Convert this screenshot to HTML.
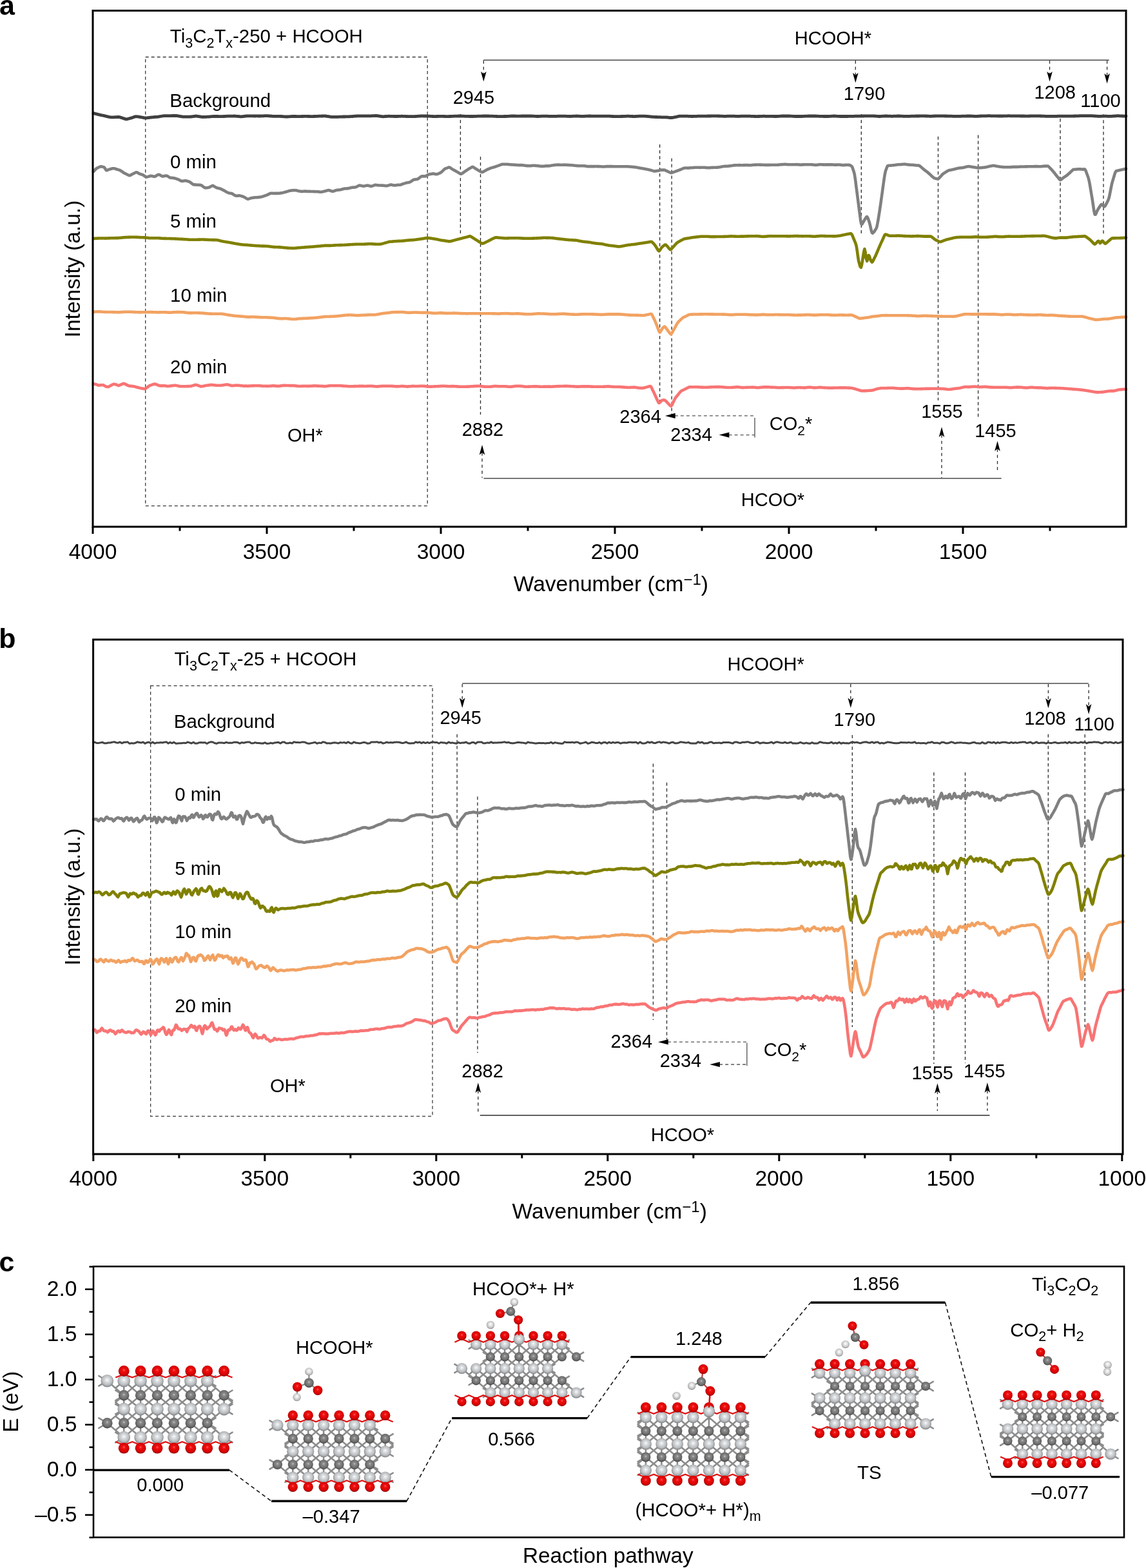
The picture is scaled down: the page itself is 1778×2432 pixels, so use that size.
<!DOCTYPE html>
<html><head><meta charset="utf-8"><title>Figure</title><style>
html,body{margin:0;padding:0;background:#fff;width:1778px;height:2432px;overflow:hidden;}
svg{display:block;}
text{font-family:"Liberation Sans", Arial, Helvetica, sans-serif;fill:#000;}
</style></head><body>
<svg width="1778" height="2432" viewBox="0 0 1778 2432">
<defs>
<radialGradient id="gTi" cx="50%" cy="45%" r="55%" fx="50%" fy="42%"><stop offset="0" stop-color="#ffffff"/><stop offset="0.18" stop-color="#e4e6e8"/><stop offset="0.7" stop-color="#b9bcbf"/><stop offset="1" stop-color="#7e8083"/></radialGradient>
<radialGradient id="gC" cx="50%" cy="45%" r="55%" fx="50%" fy="42%"><stop offset="0" stop-color="#d0d0d0"/><stop offset="0.2" stop-color="#8e8e8e"/><stop offset="0.75" stop-color="#6a6a6a"/><stop offset="1" stop-color="#3e3e3e"/></radialGradient>
<radialGradient id="gO" cx="50%" cy="45%" r="55%" fx="50%" fy="40%"><stop offset="0" stop-color="#ff6060"/><stop offset="0.25" stop-color="#f01010"/><stop offset="0.75" stop-color="#d80000"/><stop offset="1" stop-color="#8c0000"/></radialGradient>
<radialGradient id="gH" cx="50%" cy="45%" r="55%" fx="50%" fy="40%"><stop offset="0" stop-color="#ffffff"/><stop offset="0.35" stop-color="#e6e6e6"/><stop offset="0.8" stop-color="#bdbdbd"/><stop offset="1" stop-color="#7c7c7c"/></radialGradient>
</defs>
<rect x="0" y="0" width="1778" height="2432" fill="#fff"/>
<text x="-1" y="22.7" font-size="43" font-weight="bold">a</text>
<rect x="225.7" y="88.5" width="437.5" height="696.1" fill="none" stroke="#3a3a3a" stroke-width="1.3" stroke-dasharray="5 4"/>
<line x1="714.4" y1="177" x2="714.4" y2="364" stroke="#2a2a2a" stroke-width="1.3" stroke-dasharray="5 4"/>
<line x1="745.5" y1="243" x2="745.5" y2="643" stroke="#2a2a2a" stroke-width="1.3" stroke-dasharray="5 4"/>
<line x1="1023.6" y1="224" x2="1023.6" y2="622" stroke="#2a2a2a" stroke-width="1.3" stroke-dasharray="5 4"/>
<line x1="1042.1" y1="245.6" x2="1042.1" y2="644" stroke="#2a2a2a" stroke-width="1.3" stroke-dasharray="5 4"/>
<line x1="1336.3" y1="177" x2="1336.3" y2="364" stroke="#2a2a2a" stroke-width="1.3" stroke-dasharray="5 4"/>
<line x1="1455.5" y1="211.8" x2="1455.5" y2="621" stroke="#2a2a2a" stroke-width="1.3" stroke-dasharray="5 4"/>
<line x1="1517.6" y1="209.5" x2="1517.6" y2="647.3" stroke="#2a2a2a" stroke-width="1.3" stroke-dasharray="5 4"/>
<line x1="1645" y1="184" x2="1645" y2="364" stroke="#2a2a2a" stroke-width="1.3" stroke-dasharray="5 4"/>
<line x1="1712" y1="177.3" x2="1712" y2="364" stroke="#2a2a2a" stroke-width="1.3" stroke-dasharray="5 4"/>
<line x1="750" y1="93.2" x2="1720.7" y2="93.2" stroke="#4a4a4a" stroke-width="1.6"/>
<line x1="750.3" y1="94" x2="750.3" y2="114.6" stroke="#2a2a2a" stroke-width="1.3" stroke-dasharray="4.8 4.6"/>
<path d="M750.3 126.6 L746 111 L750.3 114.6 L754.6 111 Z" fill="#000"/>
<line x1="1327.3" y1="94" x2="1327.3" y2="116.6" stroke="#2a2a2a" stroke-width="1.3" stroke-dasharray="4.8 4.6"/>
<path d="M1327.3 128.6 L1323 113 L1327.3 116.6 L1331.6 113 Z" fill="#000"/>
<line x1="1628.5" y1="94" x2="1628.5" y2="114.5" stroke="#2a2a2a" stroke-width="1.3" stroke-dasharray="4.8 4.6"/>
<path d="M1628.5 126.5 L1624.2 110.9 L1628.5 114.5 L1632.8 110.9 Z" fill="#000"/>
<line x1="1717.6" y1="94" x2="1717.6" y2="117.5" stroke="#2a2a2a" stroke-width="1.3" stroke-dasharray="4.8 4.6"/>
<path d="M1717.6 129.5 L1713.3 113.9 L1717.6 117.5 L1721.9 113.9 Z" fill="#000"/>
<text x="1232.8" y="68.5" font-size="29">HCOOH*</text>
<text x="702.7" y="161" font-size="29">2945</text>
<text x="1308.8" y="154.6" font-size="29">1790</text>
<text x="1604.4" y="152.8" font-size="29">1208</text>
<text x="1676.3" y="165.9" font-size="29">1100</text>
<line x1="750.5" y1="742" x2="1553.7" y2="742" stroke="#4a4a4a" stroke-width="1.6"/>
<line x1="748" y1="701.9" x2="748" y2="741" stroke="#2a2a2a" stroke-width="1.3" stroke-dasharray="4.8 4.6"/>
<path d="M748 689.9 L743.7 705.5 L748 701.9 L752.3 705.5 Z" fill="#000"/>
<line x1="1461" y1="674.3" x2="1461" y2="741" stroke="#2a2a2a" stroke-width="1.3" stroke-dasharray="4.8 4.6"/>
<path d="M1461 662.3 L1456.7 677.9 L1461 674.3 L1465.3 677.9 Z" fill="#000"/>
<line x1="1547.5" y1="696.1" x2="1547.5" y2="729" stroke="#2a2a2a" stroke-width="1.3" stroke-dasharray="4.8 4.6"/>
<path d="M1547.5 684.1 L1543.2 699.7 L1547.5 696.1 L1551.8 699.7 Z" fill="#000"/>
<text x="716.7" y="675.9" font-size="29">2882</text>
<text x="1429.2" y="648" font-size="29">1555</text>
<text x="1512.2" y="678.4" font-size="29">1455</text>
<text x="1149.8" y="784.8" font-size="29">HCOO*</text>
<text x="446" y="685.4" font-size="29">OH*</text>
<line x1="1046.9" y1="644.9" x2="1171" y2="644.9" stroke="#555" stroke-width="1.3" stroke-dasharray="5 4"/>
<path d="M1031.9 644.9 L1047.7 640.8 L1047.7 649 Z" fill="#000"/>
<line x1="1130.6" y1="674.6" x2="1171" y2="674.6" stroke="#555" stroke-width="1.3" stroke-dasharray="5 4"/>
<path d="M1115.6 674.6 L1131.4 670.5 L1131.4 678.7 Z" fill="#000"/>
<line x1="1171" y1="648" x2="1171" y2="678.4" stroke="#666" stroke-width="1.5"/>
<text x="961.3" y="655.5" font-size="29">2364</text>
<text x="1040.3" y="684.3" font-size="29">2334</text>
<text x="1193.7" y="667" font-size="29"><tspan>CO</tspan><tspan font-size="21" dy="8">2</tspan><tspan dy="-8">*</tspan></text>
<text x="263.8" y="66" font-size="29.4"><tspan>Ti</tspan><tspan font-size="21.5" dy="7.5">3</tspan><tspan dy="-7.5">C</tspan><tspan font-size="21.5" dy="7.5">2</tspan><tspan dy="-7.5">T</tspan><tspan font-size="21.5" dy="7.5">x</tspan><tspan dy="-7.5">-250 + HCOOH</tspan></text>
<text x="263.3" y="166.1" font-size="29.4">Background</text>
<text x="264.1" y="260.5" font-size="29.4">0 min</text>
<text x="264.1" y="353" font-size="29.4">5 min</text>
<text x="264.1" y="467.5" font-size="29.4">10 min</text>
<text x="264.1" y="578.6" font-size="29.4">20 min</text>
<path d="M145 175.6 L146 175.8 L147 176.1 L148 176.4 L149 176.6 L150 176.9 L151 177.1 L152 177.4 L153 177.6 L154 177.9 L155 178.2 L156 178.4 L157 178.6 L158 178.8 L159 179 L160 179.2 L161 179.4 L162 179.6 L163 179.8 L164 180.1 L165 180.3 L166 180.6 L167 180.8 L168 181.1 L169 181.3 L170 181.5 L171 181.7 L172 181.8 L173 181.9 L174 181.9 L175 181.9 L176 181.9 L177 181.8 L178 181.7 L179 181.7 L180 181.6 L181 181.6 L182 181.5 L183 181.5 L184 181.4 L185 181.5 L186 181.8 L187 182.1 L188 182.4 L189 182.7 L190 183.1 L191 183.4 L192 183.7 L193 184.1 L194 184.4 L195 184.7 L196 184.9 L197 184.8 L198 184.5 L199 184.2 L200 184 L201 183.7 L202 183.4 L203 183.2 L204 182.9 L205 182.5 L206 182.2 L207 181.8 L208 181.4 L209 181.1 L210 180.8 L211 180.7 L212 180.8 L213 180.8 L214 180.9 L215 181.1 L216 181.3 L217 181.4 L218 181.6 L219 181.8 L220 182 L221 182.2 L222 182.4 L223 182.6 L224 182.8 L225 182.9 L226 183 L227 183 L228 182.8 L229 182.7 L230 182.6 L231 182.5 L232 182.4 L233 182.2 L234 182.1 L235 182 L236 181.9 L237 181.8 L238 181.7 L239 181.6 L240 181.5 L241 181.4 L242 181.4 L243 181.4 L244 181.4 L245 181.2 L246 181.1 L247 180.9 L248 180.7 L249 180.5 L250 180.3 L251 180.2 L252 180 L253 179.8 L254 179.7 L255 179.6 L256 179.6 L257 179.6 L258 179.6 L259 179.6 L260 179.6 L261 179.6 L262 179.6 L263 179.6 L264 179.6 L265 179.6 L266 179.6 L267 179.5 L268 179.5 L269 179.5 L270 179.5 L271 179.5 L272 179.5 L273 179.5 L274 179.5 L275 179.6 L276 179.8 L277 180 L278 180.1 L279 180.3 L280 180.5 L281 180.6 L282 180.8 L283 181 L284 181.1 L285 181.2 L286 181.2 L287 181.2 L288 181.2 L289 181.2 L290 181.2 L291 181.2 L292 181.2 L293 181.2 L294 181.2 L295 181.1 L296 181 L297 180.9 L298 180.8 L299 180.7 L300 180.6 L301 180.4 L302 180.3 L303 180.1 L304 180 L305 180.1 L306 180.3 L307 180.4 L308 180.6 L309 180.7 L310 180.9 L311 181 L312 181.2 L313 181.3 L314 181.4 L315 181.5 L316 181.4 L317 181.4 L318 181.4 L319 181.3 L320 181.3 L321 181.2 L322 181.2 L323 181.2 L324 181.1 L325 181 L326 180.9 L327 180.8 L328 180.7 L329 180.7 L330 180.6 L331 180.5 L332 180.5 L333 180.5 L334 180.5 L335 180.5 L336 180.5 L337 180.5 L338 180.5 L339 180.6 L340 180.6 L341 180.6 L342 180.6 L343 180.7 L344 180.7 L345 180.6 L346 180.6 L347 180.5 L348 180.5 L349 180.4 L350 180.3 L351 180.3 L352 180.2 L353 180.2 L354 180.1 L355 180.1 L356 180.1 L357 180.1 L358 180.1 L359 180.1 L360 180.1 L361 180.1 L362 180.1 L363 180 L364 180 L365 180.1 L366 180.2 L367 180.3 L368 180.3 L369 180.4 L370 180.5 L371 180.6 L372 180.7 L373 180.8 L374 180.8 L375 180.8 L376 180.7 L377 180.6 L378 180.5 L379 180.4 L380 180.2 L381 180.1 L382 180 L383 179.9 L384 179.8 L385 179.8 L386 179.8 L387 179.9 L388 179.9 L389 179.9 L390 179.9 L391 179.9 L392 179.9 L393 179.9 L394 180 L395 180 L396 180 L397 179.9 L398 179.9 L399 179.9 L400 179.9 L401 180 L402 180 L403 180 L404 180 L405 179.9 L406 179.9 L407 179.8 L408 179.8 L409 179.8 L410 179.7 L411 179.7 L412 179.6 L413 179.6 L414 179.6 L415 179.6 L416 179.7 L417 179.8 L418 179.9 L419 180 L420 180 L421 180.1 L422 180.2 L423 180.3 L424 180.4 L425 180.4 L426 180.4 L427 180.4 L428 180.4 L429 180.3 L430 180.3 L431 180.3 L432 180.3 L433 180.3 L434 180.3 L435 180.4 L436 180.5 L437 180.5 L438 180.6 L439 180.7 L440 180.8 L441 180.9 L442 180.9 L443 181 L444 181.1 L445 181 L446 181 L447 180.9 L448 180.8 L449 180.8 L450 180.7 L451 180.6 L452 180.6 L453 180.5 L454 180.5 L455 180.5 L456 180.5 L457 180.5 L458 180.5 L459 180.5 L460 180.6 L461 180.6 L462 180.6 L463 180.6 L464 180.6 L465 180.6 L466 180.6 L467 180.6 L468 180.5 L469 180.5 L470 180.5 L471 180.4 L472 180.4 L473 180.4 L474 180.4 L475 180.4 L476 180.4 L477 180.4 L478 180.5 L479 180.5 L480 180.5 L481 180.6 L482 180.6 L483 180.6 L484 180.6 L485 180.6 L486 180.6 L487 180.5 L488 180.5 L489 180.4 L490 180.4 L491 180.4 L492 180.3 L493 180.3 L494 180.2 L495 180.2 L496 180.2 L497 180.1 L498 180.1 L499 180 L500 180 L501 180 L502 179.9 L503 179.9 L504 179.9 L505 180 L506 180.1 L507 180.3 L508 180.4 L509 180.6 L510 180.7 L511 180.9 L512 181 L513 181.2 L514 181.3 L515 181.3 L516 181.3 L517 181.3 L518 181.3 L519 181.3 L520 181.3 L521 181.3 L522 181.3 L523 181.3 L524 181.3 L525 181.3 L526 181.2 L527 181.2 L528 181.2 L529 181.1 L530 181.1 L531 181.1 L532 181 L533 181 L534 181 L535 181 L536 180.9 L537 180.9 L538 180.9 L539 180.8 L540 180.8 L541 180.8 L542 180.8 L543 180.7 L544 180.7 L545 180.6 L546 180.6 L547 180.5 L548 180.4 L549 180.3 L550 180.2 L551 180.2 L552 180.1 L553 180 L554 179.9 L555 179.9 L556 179.9 L557 179.9 L558 179.9 L559 179.8 L560 179.8 L561 179.8 L562 179.8 L563 179.8 L564 179.8 L565 179.8 L566 179.8 L567 179.8 L568 179.8 L569 179.8 L570 179.8 L571 179.8 L572 179.9 L573 179.9 L574 179.9 L575 179.8 L576 179.8 L577 179.7 L578 179.7 L579 179.7 L580 179.6 L581 179.6 L582 179.5 L583 179.5 L584 179.5 L585 179.6 L586 179.7 L587 179.9 L588 180 L589 180.1 L590 180.3 L591 180.4 L592 180.6 L593 180.7 L594 180.8 L595 180.8 L596 180.7 L597 180.6 L598 180.5 L599 180.5 L600 180.4 L601 180.3 L602 180.3 L603 180.2 L604 180.2 L605 180.3 L606 180.3 L607 180.3 L608 180.4 L609 180.4 L610 180.4 L611 180.5 L612 180.5 L613 180.5 L614 180.6 L615 180.5 L616 180.5 L617 180.5 L618 180.4 L619 180.4 L620 180.4 L621 180.3 L622 180.3 L623 180.2 L624 180.2 L625 180.3 L626 180.3 L627 180.3 L628 180.4 L629 180.4 L630 180.5 L631 180.5 L632 180.6 L633 180.6 L634 180.7 L635 180.7 L636 180.6 L637 180.6 L638 180.6 L639 180.6 L640 180.6 L641 180.6 L642 180.6 L643 180.6 L644 180.6 L645 180.5 L646 180.4 L647 180.4 L648 180.3 L649 180.2 L650 180.2 L651 180.1 L652 180 L653 180 L654 179.9 L655 179.9 L656 179.9 L657 180 L658 180 L659 180 L660 180 L661 180 L662 180 L663 180.1 L664 180.1 L665 180.1 L666 180.2 L667 180.2 L668 180.3 L669 180.3 L670 180.4 L671 180.5 L672 180.5 L673 180.6 L674 180.6 L675 180.6 L676 180.6 L677 180.5 L678 180.5 L679 180.5 L680 180.4 L681 180.4 L682 180.3 L683 180.3 L684 180.3 L685 180.3 L686 180.4 L687 180.4 L688 180.4 L689 180.5 L690 180.5 L691 180.6 L692 180.6 L693 180.6 L694 180.7 L695 180.6 L696 180.6 L697 180.5 L698 180.5 L699 180.5 L700 180.4 L701 180.4 L702 180.3 L703 180.3 L704 180.2 L705 180.2 L706 180.2 L707 180.1 L708 180.1 L709 180.1 L710 180.1 L711 180 L712 180 L713 180 L714 180 L715 180 L716 180 L717 180.1 L718 180.1 L719 180.2 L720 180.2 L721 180.3 L722 180.3 L723 180.4 L724 180.4 L725 180.4 L726 180.4 L727 180.4 L728 180.5 L729 180.5 L730 180.5 L731 180.5 L732 180.5 L733 180.5 L734 180.5 L735 180.5 L736 180.4 L737 180.4 L738 180.4 L739 180.3 L740 180.3 L741 180.2 L742 180.2 L743 180.2 L744 180.1 L745 180.1 L746 180.1 L747 180.1 L748 180.1 L749 180 L750 180 L751 180 L752 180 L753 180 L754 180 L755 180 L756 180 L757 180 L758 180 L759 180.1 L760 180.1 L761 180.1 L762 180.1 L763 180.1 L764 180.2 L765 180.2 L766 180.3 L767 180.3 L768 180.4 L769 180.4 L770 180.5 L771 180.5 L772 180.6 L773 180.6 L774 180.7 L775 180.7 L776 180.6 L777 180.6 L778 180.6 L779 180.6 L780 180.6 L781 180.6 L782 180.5 L783 180.5 L784 180.5 L785 180.5 L786 180.4 L787 180.4 L788 180.3 L789 180.3 L790 180.2 L791 180.1 L792 180.1 L793 180 L794 180 L795 180 L796 180 L797 180 L798 180 L799 180 L800 180.1 L801 180.1 L802 180.1 L803 180.1 L804 180.1 L805 180.1 L806 180.1 L807 180.1 L808 180.1 L809 180 L810 180 L811 180 L812 180 L813 180 L814 180 L815 180 L816 180 L817 180 L818 180 L819 180 L820 180 L821 180 L822 180 L823 180 L824 180 L825 180 L826 180.1 L827 180.1 L828 180.2 L829 180.2 L830 180.3 L831 180.4 L832 180.4 L833 180.5 L834 180.5 L835 180.5 L836 180.4 L837 180.4 L838 180.3 L839 180.3 L840 180.2 L841 180.2 L842 180.1 L843 180.1 L844 180.1 L845 180.1 L846 180.1 L847 180.1 L848 180.2 L849 180.2 L850 180.2 L851 180.3 L852 180.3 L853 180.3 L854 180.3 L855 180.3 L856 180.3 L857 180.3 L858 180.3 L859 180.3 L860 180.3 L861 180.3 L862 180.3 L863 180.3 L864 180.3 L865 180.2 L866 180.2 L867 180.2 L868 180.2 L869 180.2 L870 180.1 L871 180.1 L872 180.1 L873 180.1 L874 180.1 L875 180.1 L876 180.1 L877 180.2 L878 180.2 L879 180.3 L880 180.3 L881 180.4 L882 180.4 L883 180.4 L884 180.5 L885 180.4 L886 180.4 L887 180.3 L888 180.3 L889 180.2 L890 180.2 L891 180.1 L892 180.1 L893 180.1 L894 180 L895 180 L896 180.1 L897 180.1 L898 180.2 L899 180.2 L900 180.3 L901 180.3 L902 180.3 L903 180.4 L904 180.4 L905 180.4 L906 180.3 L907 180.3 L908 180.2 L909 180.2 L910 180.2 L911 180.1 L912 180.1 L913 180 L914 180 L915 180 L916 180 L917 180.1 L918 180.1 L919 180.1 L920 180.1 L921 180.2 L922 180.2 L923 180.2 L924 180.2 L925 180.2 L926 180.2 L927 180.2 L928 180.2 L929 180.2 L930 180.1 L931 180.1 L932 180.1 L933 180.1 L934 180.1 L935 180.1 L936 180.1 L937 180.1 L938 180.1 L939 180.1 L940 180.1 L941 180.1 L942 180.1 L943 180.1 L944 180.1 L945 180.2 L946 180.2 L947 180.3 L948 180.3 L949 180.4 L950 180.5 L951 180.5 L952 180.6 L953 180.6 L954 180.7 L955 180.7 L956 180.6 L957 180.6 L958 180.6 L959 180.6 L960 180.6 L961 180.6 L962 180.6 L963 180.6 L964 180.5 L965 180.5 L966 180.5 L967 180.4 L968 180.4 L969 180.3 L970 180.3 L971 180.3 L972 180.2 L973 180.2 L974 180.2 L975 180.2 L976 180.2 L977 180.3 L978 180.3 L979 180.4 L980 180.4 L981 180.5 L982 180.5 L983 180.6 L984 180.6 L985 180.6 L986 180.5 L987 180.4 L988 180.4 L989 180.3 L990 180.3 L991 180.2 L992 180.2 L993 180.1 L994 180.1 L995 180.1 L996 180.1 L997 180.1 L998 180.1 L999 180.1 L1000 180.2 L1001 180.2 L1002 180.3 L1003 180.4 L1004 180.4 L1005 180.5 L1006 180.6 L1007 180.7 L1008 180.8 L1009 180.9 L1010 181 L1011 181.1 L1012 181.2 L1013 181.3 L1014 181.3 L1015 181.4 L1016 181.4 L1017 181.5 L1018 181.5 L1019 181.5 L1020 181.6 L1021 181.6 L1022 181.7 L1023 181.7 L1024 181.7 L1025 181.7 L1026 181.8 L1027 181.8 L1028 181.8 L1029 181.8 L1030 181.8 L1031 181.8 L1032 181.8 L1033 181.8 L1034 181.9 L1035 182 L1036 182.1 L1037 182.2 L1038 182.4 L1039 182.5 L1040 182.6 L1041 182.5 L1042 182.5 L1043 182.4 L1044 182.3 L1045 182.1 L1046 181.9 L1047 181.7 L1048 181.5 L1049 181.3 L1050 181.1 L1051 180.8 L1052 180.6 L1053 180.4 L1054 180.2 L1055 180.1 L1056 180.1 L1057 180.1 L1058 180.1 L1059 180.1 L1060 180.1 L1061 180.1 L1062 180.1 L1063 180.1 L1064 180.1 L1065 180.1 L1066 180.2 L1067 180.2 L1068 180.3 L1069 180.3 L1070 180.3 L1071 180.4 L1072 180.4 L1073 180.5 L1074 180.5 L1075 180.5 L1076 180.4 L1077 180.4 L1078 180.4 L1079 180.3 L1080 180.3 L1081 180.3 L1082 180.2 L1083 180.2 L1084 180.2 L1085 180.1 L1086 180.1 L1087 180.1 L1088 180.1 L1089 180.1 L1090 180.1 L1091 180.1 L1092 180.1 L1093 180.1 L1094 180.1 L1095 180.1 L1096 180.1 L1097 180.1 L1098 180 L1099 180 L1100 180 L1101 180 L1102 180 L1103 180 L1104 179.9 L1105 179.9 L1106 179.9 L1107 179.9 L1108 179.9 L1109 179.9 L1110 179.9 L1111 179.9 L1112 179.9 L1113 179.9 L1114 180 L1115 180 L1116 180 L1117 180.1 L1118 180.1 L1119 180.1 L1120 180.2 L1121 180.2 L1122 180.3 L1123 180.3 L1124 180.3 L1125 180.3 L1126 180.3 L1127 180.3 L1128 180.2 L1129 180.2 L1130 180.2 L1131 180.1 L1132 180.1 L1133 180.1 L1134 180.1 L1135 180.1 L1136 180.1 L1137 180.1 L1138 180.2 L1139 180.2 L1140 180.2 L1141 180.3 L1142 180.3 L1143 180.3 L1144 180.3 L1145 180.3 L1146 180.3 L1147 180.3 L1148 180.3 L1149 180.2 L1150 180.2 L1151 180.2 L1152 180.2 L1153 180.2 L1154 180.2 L1155 180.2 L1156 180.2 L1157 180.2 L1158 180.2 L1159 180.2 L1160 180.2 L1161 180.2 L1162 180.2 L1163 180.2 L1164 180.2 L1165 180.3 L1166 180.3 L1167 180.3 L1168 180.4 L1169 180.4 L1170 180.5 L1171 180.5 L1172 180.5 L1173 180.6 L1174 180.6 L1175 180.6 L1176 180.5 L1177 180.5 L1178 180.5 L1179 180.4 L1180 180.4 L1181 180.3 L1182 180.3 L1183 180.3 L1184 180.2 L1185 180.2 L1186 180.2 L1187 180.3 L1188 180.3 L1189 180.3 L1190 180.3 L1191 180.3 L1192 180.3 L1193 180.3 L1194 180.3 L1195 180.3 L1196 180.3 L1197 180.4 L1198 180.4 L1199 180.4 L1200 180.4 L1201 180.5 L1202 180.5 L1203 180.5 L1204 180.5 L1205 180.5 L1206 180.4 L1207 180.4 L1208 180.3 L1209 180.3 L1210 180.2 L1211 180.1 L1212 180.1 L1213 180 L1214 180 L1215 180 L1216 180 L1217 180 L1218 180 L1219 180 L1220 180 L1221 180 L1222 180 L1223 180 L1224 180 L1225 180 L1226 180.1 L1227 180.1 L1228 180.2 L1229 180.2 L1230 180.3 L1231 180.4 L1232 180.4 L1233 180.5 L1234 180.5 L1235 180.5 L1236 180.5 L1237 180.5 L1238 180.5 L1239 180.5 L1240 180.5 L1241 180.5 L1242 180.5 L1243 180.5 L1244 180.5 L1245 180.4 L1246 180.4 L1247 180.3 L1248 180.3 L1249 180.2 L1250 180.2 L1251 180.2 L1252 180.1 L1253 180.1 L1254 180 L1255 180 L1256 180 L1257 180 L1258 180 L1259 180 L1260 180 L1261 180 L1262 180 L1263 180 L1264 180 L1265 180 L1266 180 L1267 180.1 L1268 180.1 L1269 180.2 L1270 180.2 L1271 180.3 L1272 180.3 L1273 180.4 L1274 180.4 L1275 180.4 L1276 180.4 L1277 180.4 L1278 180.5 L1279 180.5 L1280 180.5 L1281 180.5 L1282 180.5 L1283 180.5 L1284 180.5 L1285 180.5 L1286 180.4 L1287 180.4 L1288 180.3 L1289 180.3 L1290 180.2 L1291 180.1 L1292 180.1 L1293 180 L1294 180 L1295 180 L1296 180.1 L1297 180.1 L1298 180.2 L1299 180.3 L1300 180.3 L1301 180.4 L1302 180.4 L1303 180.5 L1304 180.5 L1305 180.5 L1306 180.5 L1307 180.5 L1308 180.5 L1309 180.5 L1310 180.5 L1311 180.5 L1312 180.5 L1313 180.5 L1314 180.5 L1315 180.5 L1316 180.4 L1317 180.4 L1318 180.4 L1319 180.4 L1320 180.4 L1321 180.3 L1322 180.3 L1323 180.3 L1324 180.3 L1325 180.3 L1326 180.2 L1327 180.2 L1328 180.2 L1329 180.2 L1330 180.2 L1331 180.2 L1332 180.1 L1333 180.1 L1334 180.1 L1335 180.1 L1336 180.1 L1337 180 L1338 180 L1339 180 L1340 180 L1341 179.9 L1342 179.9 L1343 179.9 L1344 179.9 L1345 179.9 L1346 179.8 L1347 179.8 L1348 179.8 L1349 179.8 L1350 179.8 L1351 179.8 L1352 179.8 L1353 179.8 L1354 179.8 L1355 179.9 L1356 179.9 L1357 180 L1358 180.1 L1359 180.2 L1360 180.2 L1361 180.3 L1362 180.4 L1363 180.5 L1364 180.5 L1365 180.5 L1366 180.4 L1367 180.4 L1368 180.3 L1369 180.2 L1370 180.2 L1371 180.1 L1372 180.1 L1373 180 L1374 180 L1375 180 L1376 180 L1377 180.1 L1378 180.1 L1379 180.1 L1380 180.2 L1381 180.2 L1382 180.2 L1383 180.3 L1384 180.3 L1385 180.3 L1386 180.2 L1387 180.2 L1388 180.2 L1389 180.1 L1390 180.1 L1391 180.1 L1392 180 L1393 180 L1394 180 L1395 180 L1396 180 L1397 180.1 L1398 180.1 L1399 180.2 L1400 180.2 L1401 180.3 L1402 180.3 L1403 180.4 L1404 180.4 L1405 180.4 L1406 180.4 L1407 180.4 L1408 180.3 L1409 180.3 L1410 180.3 L1411 180.3 L1412 180.3 L1413 180.2 L1414 180.2 L1415 180.2 L1416 180.2 L1417 180.1 L1418 180.1 L1419 180.1 L1420 180.1 L1421 180 L1422 180 L1423 180 L1424 180 L1425 180 L1426 180 L1427 179.9 L1428 179.9 L1429 179.9 L1430 179.9 L1431 179.9 L1432 179.9 L1433 179.9 L1434 179.9 L1435 179.9 L1436 180 L1437 180 L1438 180 L1439 180.1 L1440 180.1 L1441 180.2 L1442 180.2 L1443 180.3 L1444 180.3 L1445 180.3 L1446 180.2 L1447 180.1 L1448 180.1 L1449 180 L1450 180 L1451 179.9 L1452 179.9 L1453 179.8 L1454 179.8 L1455 179.8 L1456 179.8 L1457 179.8 L1458 179.8 L1459 179.8 L1460 179.9 L1461 179.9 L1462 179.9 L1463 179.9 L1464 179.9 L1465 179.9 L1466 180 L1467 180 L1468 180 L1469 180 L1470 180.1 L1471 180.1 L1472 180.1 L1473 180.1 L1474 180.2 L1475 180.2 L1476 180.2 L1477 180.2 L1478 180.3 L1479 180.3 L1480 180.3 L1481 180.3 L1482 180.3 L1483 180.4 L1484 180.4 L1485 180.4 L1486 180.4 L1487 180.3 L1488 180.3 L1489 180.3 L1490 180.3 L1491 180.3 L1492 180.2 L1493 180.2 L1494 180.2 L1495 180.2 L1496 180.1 L1497 180.1 L1498 180.1 L1499 180.1 L1500 180 L1501 180 L1502 180 L1503 180 L1504 179.9 L1505 180 L1506 180 L1507 180.1 L1508 180.1 L1509 180.2 L1510 180.2 L1511 180.3 L1512 180.3 L1513 180.4 L1514 180.4 L1515 180.4 L1516 180.3 L1517 180.3 L1518 180.2 L1519 180.1 L1520 180.1 L1521 180 L1522 180 L1523 179.9 L1524 179.9 L1525 179.8 L1526 179.8 L1527 179.8 L1528 179.8 L1529 179.8 L1530 179.8 L1531 179.8 L1532 179.7 L1533 179.7 L1534 179.7 L1535 179.7 L1536 179.7 L1537 179.8 L1538 179.8 L1539 179.8 L1540 179.8 L1541 179.8 L1542 179.9 L1543 179.9 L1544 179.9 L1545 179.9 L1546 179.9 L1547 179.9 L1548 180 L1549 180 L1550 180 L1551 180 L1552 180 L1553 180 L1554 180 L1555 180 L1556 180 L1557 179.9 L1558 179.9 L1559 179.9 L1560 179.9 L1561 179.8 L1562 179.8 L1563 179.8 L1564 179.7 L1565 179.7 L1566 179.7 L1567 179.8 L1568 179.8 L1569 179.8 L1570 179.8 L1571 179.8 L1572 179.8 L1573 179.8 L1574 179.8 L1575 179.8 L1576 179.8 L1577 179.9 L1578 179.9 L1579 179.9 L1580 179.9 L1581 179.9 L1582 179.9 L1583 180 L1584 180 L1585 180 L1586 180 L1587 180 L1588 180 L1589 180 L1590 180.1 L1591 180.1 L1592 180.1 L1593 180.1 L1594 180.1 L1595 180.1 L1596 180.1 L1597 180 L1598 180 L1599 179.9 L1600 179.9 L1601 179.9 L1602 179.8 L1603 179.8 L1604 179.8 L1605 179.8 L1606 179.8 L1607 179.8 L1608 179.8 L1609 179.9 L1610 179.9 L1611 179.9 L1612 179.9 L1613 179.9 L1614 180 L1615 180 L1616 180 L1617 180.1 L1618 180.1 L1619 180.2 L1620 180.2 L1621 180.2 L1622 180.3 L1623 180.3 L1624 180.4 L1625 180.4 L1626 180.4 L1627 180.4 L1628 180.4 L1629 180.4 L1630 180.4 L1631 180.4 L1632 180.4 L1633 180.4 L1634 180.4 L1635 180.4 L1636 180.4 L1637 180.4 L1638 180.3 L1639 180.3 L1640 180.3 L1641 180.2 L1642 180.2 L1643 180.2 L1644 180.2 L1645 180.2 L1646 180.2 L1647 180.2 L1648 180.2 L1649 180.2 L1650 180.2 L1651 180.2 L1652 180.2 L1653 180.2 L1654 180.2 L1655 180.2 L1656 180.2 L1657 180.2 L1658 180.2 L1659 180.1 L1660 180.1 L1661 180.1 L1662 180.1 L1663 180.1 L1664 180.1 L1665 180.1 L1666 180 L1667 180 L1668 180 L1669 179.9 L1670 179.9 L1671 179.9 L1672 179.8 L1673 179.8 L1674 179.8 L1675 179.7 L1676 179.7 L1677 179.7 L1678 179.7 L1679 179.7 L1680 179.7 L1681 179.7 L1682 179.7 L1683 179.7 L1684 179.7 L1685 179.7 L1686 179.7 L1687 179.6 L1688 179.6 L1689 179.6 L1690 179.6 L1691 179.6 L1692 179.6 L1693 179.6 L1694 179.7 L1695 179.7 L1696 179.8 L1697 179.9 L1698 179.9 L1699 180 L1700 180.1 L1701 180.1 L1702 180.2 L1703 180.3 L1704 180.3 L1705 180.3 L1706 180.3 L1707 180.3 L1708 180.3 L1709 180.3 L1710 180.2 L1711 180.2 L1712 180.2 L1713 180.2 L1714 180.2 L1715 180.2 L1716 180.2 L1717 180.2 L1718 180.3 L1719 180.3 L1720 180.3 L1721 180.3 L1722 180.3 L1723 180.4 L1724 180.4 L1725 180.3 L1726 180.2 L1727 180.2 L1728 180.1 L1729 180 L1730 179.9 L1731 179.8 L1732 179.8 L1733 179.7 L1734 179.7 L1735 179.7 L1736 179.7 L1737 179.8 L1738 179.8 L1739 179.9 L1740 179.9 L1741 180 L1742 180 L1743 180.1 L1744 180.1 L1745 180.1 L1746 180.1 L1747 180.1" fill="none" stroke="#404040" stroke-width="4.8" stroke-linejoin="round" stroke-linecap="round"/>
<path d="M145 266 L146 265 L147 264 L148 262.9 L149 261.9 L150 261.1 L151.1 260.4 L152.2 260 L153.2 259.5 L154.3 259 L155.4 258.5 L156.5 258.2 L157.6 258.3 L158.7 258.6 L159.8 258.9 L160.9 259.2 L162 259.9 L163 261.3 L164 263 L165 264.1 L166 264.2 L167 263.7 L168 263.2 L169 262.9 L170 262.6 L171 262.3 L172 262 L173 261.7 L174 261.4 L175 261.3 L176 261.3 L177 261.2 L178 261.4 L179 261.7 L180 262.2 L181 262.5 L182 262.8 L183 263.1 L184 263.4 L185 263.7 L186 264 L187 264.6 L188 265.2 L189 265.8 L190 266.5 L191 267.3 L192 268 L193 268.6 L194 269 L195 269.5 L196 270 L197 270.5 L198 271 L199 271.5 L200 272 L201 272.2 L202 271.9 L203 271.4 L204 270.9 L205 270.3 L206 269.8 L207 269.3 L208 268.8 L209 268.3 L210 267.8 L211 267.3 L212 267.2 L213 267.6 L214.1 268.2 L215.1 268.9 L216.1 269.4 L217.1 269.8 L218.2 270.1 L219.2 270.4 L220.2 270.8 L221.3 271.1 L222.3 271.6 L223.3 272.3 L224.3 273 L225.4 273.8 L226.4 274.4 L227.4 274.5 L228.4 274.4 L229.5 274.1 L230.5 273.8 L231.5 273.5 L232.5 273.1 L233.5 272.9 L234.6 272.9 L235.6 273.1 L236.6 273.3 L237.6 273.5 L238.6 273.8 L239.7 273.9 L240.7 273.6 L241.7 273.1 L242.7 272.4 L243.7 271.8 L244.8 271.2 L245.8 270.7 L246.8 270.7 L247.8 271.2 L248.8 271.8 L249.8 272.4 L250.9 273 L251.9 273.4 L252.9 273.4 L253.9 273.2 L254.9 273 L255.9 272.7 L257 272.5 L258 272.5 L259 272.8 L260 273.3 L261 273.9 L262 274.5 L263 275.1 L264 275.6 L265 275.8 L266 275.8 L267 275.9 L268 276 L269 276.1 L270 276.2 L271 276.5 L272 276.8 L273 277.1 L274 277.4 L275 277.7 L276 278.1 L277 278.5 L278 279 L279 279.6 L280 280.1 L281 280.6 L282 280.9 L283 280.9 L284 280.8 L285 280.6 L286 280.4 L287 280.3 L288 280.2 L289 280.4 L290 280.7 L291 281 L292 281.3 L293 281.6 L294 282 L295 282.7 L296 283.4 L297 284.1 L298 284.9 L299 285.6 L300 286.2 L301 286.4 L302 286.4 L303 286.5 L304 286.6 L305 286.6 L306 286.7 L307 286.7 L308 286.8 L309 286.9 L310 286.9 L311 287 L312 287.2 L313 287.8 L314 288.5 L315 289.3 L316 290 L317 290.8 L318 291.3 L319 291.5 L320 291.3 L321 291.2 L322 291.1 L323 291 L324 290.8 L325 290.4 L326 289.9 L327 289.3 L328 288.8 L329 288.3 L330 288 L331 288.3 L332 288.9 L333.1 289.5 L334.1 290.1 L335.1 290.7 L336.1 291.2 L337.1 291.5 L338.2 291.7 L339.2 292 L340.2 292.3 L341.2 292.5 L342.3 292.9 L343.3 293.3 L344.3 293.9 L345.3 294.4 L346.3 294.9 L347.4 295.4 L348.4 295.9 L349.4 296.5 L350.4 297.1 L351.4 297.7 L352.5 298.3 L353.5 298.8 L354.5 299.2 L355.5 299.4 L356.6 299.6 L357.6 299.7 L358.6 299.9 L359.6 300.1 L360.6 300.6 L361.7 301.3 L362.7 302 L363.7 302.6 L364.7 303.2 L365.7 303.6 L366.7 303.8 L367.8 303.7 L368.8 303.6 L369.8 303.5 L370.8 303.4 L371.8 303.4 L372.8 303.6 L373.8 303.9 L374.9 304.2 L375.9 304.5 L376.9 304.9 L377.9 305.2 L378.9 305.8 L379.9 306.3 L380.9 306.9 L382 307.6 L383 308.2 L384 308.6 L385 308.7 L386 308.4 L387 308.1 L388 307.7 L389 307.4 L390 307.1 L391 306.9 L392 306.7 L393 306.6 L394 306.5 L395 306.4 L396 306.3 L397 306.2 L398 306.2 L399 306.1 L400 306.1 L401 306 L402 305.9 L403 305.8 L404 305.6 L405 305.4 L406 305.2 L407 304.9 L408 304.6 L409 304.3 L410 303.9 L411 303.6 L412 303.2 L413 302.9 L414 302.5 L415 302 L416 301.6 L417 301.1 L418 300.6 L419 300.1 L420 299.7 L421 299.7 L422 299.7 L423 299.8 L424 299.9 L425 300 L426 300 L427 299.9 L428 299.9 L429 299.9 L430 299.9 L431 299.9 L432 299.9 L433 299.8 L434 299.7 L435 299.5 L436 299.4 L437 299.3 L438 299.1 L439 298.9 L440 298.6 L441 298.3 L442 298 L443 297.8 L444 297.5 L445 297.2 L446 296.9 L447 296.6 L448 296.3 L449 296 L450 295.8 L451 295.6 L452 295.5 L453 295.4 L454 295.3 L455 295.2 L456 295.1 L457 295.1 L458 295.2 L459 295.2 L460 295.3 L461 295.6 L462.1 296 L463.1 296.2 L464.2 296.4 L465.2 296.6 L466.2 296.8 L467.3 296.9 L468.3 297 L469.4 296.9 L470.4 296.8 L471.4 296.7 L472.5 296.6 L473.5 296.6 L474.6 296.6 L475.6 296.8 L476.6 296.9 L477.6 296.9 L478.6 296.9 L479.6 296.9 L480.7 296.9 L481.7 297 L482.7 297 L483.7 297 L484.7 297 L485.7 297 L486.7 297.1 L487.7 297.1 L488.7 297.1 L489.7 297.2 L490.8 297.2 L491.8 297.2 L492.8 297.3 L493.8 297.4 L494.8 297.5 L495.8 297.6 L496.8 297.8 L497.8 297.8 L498.8 297.7 L499.8 297.5 L500.9 297.3 L501.9 297.1 L502.9 296.8 L503.9 296.6 L504.9 296.3 L505.9 296 L506.9 295.7 L507.9 295.4 L508.9 295.1 L509.9 295 L510.9 295.2 L512 295.5 L513 295.9 L514 296.3 L515 296.7 L516 296.8 L517 296.7 L518 296.3 L519 296 L520 295.6 L521 295.3 L522 295 L523 294.8 L524 294.7 L525 294.6 L526 294.5 L527 294.5 L528 294.3 L529 294.1 L530 293.8 L531 293.5 L532 293.2 L533 292.9 L534 292.6 L535 292.5 L536 292.5 L537 292.5 L538 292.4 L539 292.4 L540 292.3 L541 292.1 L542 291.8 L543 291.5 L544 291.3 L545 291 L546 290.8 L547 290.7 L548 290.6 L549 290.6 L550 290.5 L551 290.5 L552 290.3 L553 289.8 L554 289.2 L555 288.7 L556 288.2 L557 287.8 L558 287.6 L559 287.7 L560 287.9 L561 288.1 L562 288.4 L563 288.6 L564 288.7 L565 288.6 L566 288.4 L567 288.1 L568 287.9 L569 287.7 L570 287.6 L571 287.8 L572 288 L573 288.3 L574 288.5 L575 288.8 L576 288.9 L577 288.7 L578 288.3 L579 287.9 L580 287.6 L581 287.2 L582 286.9 L583 286.9 L584 287 L585 287.2 L586 287.3 L587 287.4 L588 287.5 L589 287.5 L590 287.5 L591 287.5 L592 287.6 L593 287.6 L594 287.6 L595 287.7 L596 287.9 L597 288 L598 288.1 L599 288.3 L600 288.3 L601 288.1 L602 287.8 L603 287.4 L604 287.1 L605 286.8 L606 286.6 L607 286.6 L608 286.8 L609 287 L610 287.2 L611 287.4 L612 287.5 L613 287.5 L614 287.3 L615 287.2 L616 287 L617 286.9 L618 286.8 L619 286.7 L620 286.8 L621 286.7 L622 286.4 L623.1 286 L624.1 285.6 L625.1 285.2 L626.2 284.9 L627.2 284.6 L628.2 284.2 L629.3 283.9 L630.3 283.6 L631.4 283.4 L632.4 283.2 L633.4 283.1 L634.5 282.9 L635.5 282.6 L636.5 282.2 L637.6 281.6 L638.6 280.8 L639.6 280.1 L640.7 279.4 L641.7 278.8 L642.7 278.5 L643.8 278.4 L644.8 278.2 L645.8 278.1 L646.8 278 L647.9 277.8 L648.9 277.2 L649.9 276.4 L651 275.6 L652 274.8 L653 274 L654 273.5 L655.1 273.3 L656.1 273.4 L657.1 273.4 L658.2 273.4 L659.2 273.5 L660.2 273.3 L661.2 272.7 L662.3 272 L663.3 271.4 L664.3 271 L665.3 270.6 L666.3 270.3 L667.3 270.1 L668.3 269.9 L669.3 269.7 L670.3 269.6 L671.3 269.4 L672.3 269.4 L673.3 269.5 L674.3 269.7 L675.3 270 L676.3 270.2 L677.3 270.3 L678.3 270.1 L679.3 269.7 L680.3 269.3 L681.4 268.8 L682.4 268.4 L683.4 267.9 L684.4 267.3 L685.4 266.4 L686.4 265.4 L687.5 264.4 L688.5 263.4 L689.5 262.4 L690.5 261.7 L691.5 261.3 L692.5 260.9 L693.5 260.6 L694.6 260.2 L695.6 259.8 L696.6 259.5 L697.6 259.6 L698.6 260.2 L699.7 261 L700.7 261.7 L701.8 262.4 L702.8 263 L703.9 263.6 L704.9 264.1 L706 264.7 L707 265.3 L708.1 265.9 L709.1 266.5 L710.2 267.1 L711.2 267.7 L712.3 268.3 L713.3 269 L714.4 269.6 L715.4 269.8 L716.4 269.4 L717.5 268.7 L718.5 267.9 L719.6 267.2 L720.6 266.4 L721.7 265.7 L722.7 265 L723.8 264.3 L724.8 263.6 L725.9 262.9 L726.9 262.2 L728 261.6 L729 261 L730.1 260.4 L731.1 259.8 L732.2 259.1 L733.2 258.8 L734.3 259.2 L735.3 259.9 L736.4 260.6 L737.4 261.3 L738.5 262 L739.5 262.6 L740.6 263.2 L741.7 263.9 L742.7 264.5 L743.8 265.1 L744.8 265.7 L745.9 266.3 L746.9 266.8 L748 267.1 L749 266.8 L750 266.2 L751 265.7 L752.1 265.1 L753.1 264.5 L754.1 264 L755.1 263.4 L756.1 262.9 L757.1 262.4 L758.2 262 L759.2 261.6 L760.2 261.1 L761.2 260.7 L762.2 260.4 L763.3 260.1 L764.3 259.8 L765.4 259.5 L766.4 259.2 L767.5 258.9 L768.5 258.5 L769.6 258.2 L770.6 257.8 L771.7 257.4 L772.7 257.1 L773.8 256.7 L774.8 256.3 L775.9 255.9 L776.9 255.5 L778 255.1 L779 254.8 L780 254.7 L781 254.7 L782 254.7 L783.1 254.7 L784.1 254.7 L785.1 254.7 L786.1 254.7 L787.1 254.8 L788.1 254.9 L789.2 255 L790.2 255.1 L791.2 255.2 L792.2 255.3 L793.2 255.4 L794.2 255.4 L795.3 255.5 L796.3 255.5 L797.3 255.6 L798.3 255.6 L799.3 255.7 L800.4 255.8 L801.4 255.9 L802.4 256 L803.4 256 L804.4 256.1 L805.4 256.1 L806.5 256.1 L807.5 256.1 L808.5 256.1 L809.5 256.1 L810.5 256.2 L811.5 256.3 L812.5 256.5 L813.6 256.6 L814.6 256.8 L815.6 256.9 L816.6 257 L817.6 257.1 L818.6 257.1 L819.6 257.1 L820.7 257.2 L821.7 257.2 L822.7 257.2 L823.7 257.1 L824.7 257 L825.7 256.9 L826.7 256.8 L827.8 256.8 L828.8 256.8 L829.8 256.9 L830.8 256.9 L831.8 257 L832.8 257.1 L833.8 257.1 L834.9 257.2 L835.9 257.4 L836.9 257.5 L837.9 257.7 L838.9 257.8 L839.9 257.9 L840.9 257.9 L842 257.9 L843 257.8 L844 257.7 L845 257.6 L846 257.5 L847 257.4 L848.1 257.4 L849.1 257.4 L850.1 257.4 L851.1 257.4 L852.1 257.3 L853.2 257.2 L854.2 257 L855.2 256.8 L856.2 256.6 L857.2 256.4 L858.3 256.2 L859.3 256.1 L860.3 256 L861.3 255.9 L862.3 255.8 L863.4 255.7 L864.4 255.6 L865.4 255.5 L866.4 255.6 L867.4 255.6 L868.4 255.7 L869.4 255.7 L870.4 255.7 L871.4 255.7 L872.4 255.7 L873.4 255.7 L874.4 255.6 L875.4 255.6 L876.4 255.6 L877.4 255.7 L878.4 255.7 L879.4 255.8 L880.4 255.9 L881.4 255.9 L882.4 256 L883.4 256 L884.4 256.1 L885.4 256.1 L886.4 256.2 L887.4 256.2 L888.4 256.3 L889.4 256.4 L890.4 256.6 L891.4 256.7 L892.4 256.8 L893.4 256.9 L894.4 257 L895.4 257.1 L896.4 257.1 L897.4 257.2 L898.4 257.3 L899.4 257.3 L900.4 257.3 L901.4 257.3 L902.4 257.3 L903.4 257.2 L904.4 257.2 L905.4 257.2 L906.4 257.2 L907.4 257.4 L908.4 257.5 L909.4 257.7 L910.4 257.9 L911.4 258.1 L912.4 258.1 L913.4 258.1 L914.4 258.1 L915.4 258.1 L916.4 258.1 L917.4 258.1 L918.4 258.1 L919.4 258.1 L920.4 258.1 L921.4 258.1 L922.4 258.1 L923.4 258 L924.4 258 L925.5 258 L926.5 258.1 L927.5 258.1 L928.5 258.1 L929.5 258.1 L930.5 258.2 L931.6 258.2 L932.6 258.3 L933.6 258.4 L934.6 258.5 L935.6 258.5 L936.6 258.5 L937.7 258.5 L938.7 258.4 L939.7 258.3 L940.7 258.2 L941.7 258.1 L942.7 258.1 L943.7 258.1 L944.8 258.1 L945.8 258.1 L946.8 258.1 L947.8 258.1 L948.8 258.1 L949.8 258.1 L950.9 258.2 L951.9 258.2 L952.9 258.3 L953.9 258.3 L954.9 258.3 L955.9 258.3 L957 258.3 L958 258.3 L959 258.3 L960 258.3 L961 258.3 L962 258.3 L963 258.3 L964.1 258.3 L965.1 258.3 L966.1 258.3 L967.1 258.3 L968.1 258.3 L969.1 258.2 L970.2 258.2 L971.2 258.2 L972.2 258.2 L973.2 258.3 L974.2 258.3 L975.2 258.4 L976.3 258.5 L977.3 258.5 L978.3 258.6 L979.3 258.7 L980.3 258.8 L981.3 258.9 L982.4 259 L983.4 259.1 L984.4 259.1 L985.4 259.2 L986.4 259.4 L987.4 259.6 L988.5 259.8 L989.5 260 L990.5 260.2 L991.5 260.4 L992.5 260.5 L993.6 260.7 L994.6 260.9 L995.6 261.1 L996.6 261.3 L997.6 261.5 L998.7 261.6 L999.7 261.8 L1000.7 262 L1001.7 262.2 L1002.7 262.4 L1003.8 262.6 L1004.8 262.8 L1005.8 263.1 L1006.8 263.3 L1007.8 263.5 L1008.9 263.8 L1009.9 264.1 L1010.9 264.3 L1011.9 264.6 L1012.9 264.9 L1014 265.2 L1015 265.4 L1016 265.5 L1017 265.4 L1018 265.3 L1019 265.1 L1020.1 264.9 L1021.1 264.7 L1022.1 264.5 L1023.1 264.2 L1024.1 264 L1025.1 263.8 L1026.1 263.6 L1027.1 263.6 L1028.2 263.6 L1029.2 263.6 L1030.2 263.5 L1031.2 263.7 L1032.2 264.1 L1033.2 264.6 L1034.3 265.1 L1035.3 265.6 L1036.3 266 L1037.3 266.5 L1038.3 267 L1039.4 267.5 L1040.4 267.9 L1041.4 268.1 L1042.4 267.9 L1043.4 267.6 L1044.4 267.2 L1045.5 266.8 L1046.5 266.4 L1047.5 266.1 L1048.5 265.7 L1049.5 265.3 L1050.5 265 L1051.6 264.6 L1052.6 264.2 L1053.6 263.8 L1054.6 263.5 L1055.6 263.1 L1056.6 262.7 L1057.6 262.2 L1058.7 261.8 L1059.7 261.3 L1060.7 260.9 L1061.7 260.6 L1062.7 260.5 L1063.7 260.5 L1064.8 260.5 L1065.8 260.5 L1066.8 260.6 L1067.8 260.6 L1068.8 260.5 L1069.8 260.4 L1070.9 260.3 L1071.9 260.3 L1072.9 260.2 L1073.9 260.1 L1074.9 260 L1076 260 L1077 259.9 L1078 259.8 L1079 259.8 L1080 259.7 L1081 259.7 L1082.1 259.8 L1083.1 259.8 L1084.1 259.8 L1085.1 259.8 L1086.1 259.9 L1087.2 259.8 L1088.2 259.8 L1089.2 259.8 L1090.2 259.8 L1091.2 259.8 L1092.2 259.8 L1093.3 259.8 L1094.3 259.9 L1095.3 260 L1096.3 260.1 L1097.3 260.2 L1098.3 260.2 L1099.4 260.2 L1100.4 260.1 L1101.4 260.1 L1102.4 260 L1103.4 260 L1104.5 259.9 L1105.5 259.9 L1106.5 259.8 L1107.5 259.8 L1108.5 259.7 L1109.5 259.7 L1110.6 259.7 L1111.6 259.7 L1112.6 259.6 L1113.6 259.6 L1114.6 259.5 L1115.6 259.3 L1116.7 259.2 L1117.7 259 L1118.7 258.8 L1119.7 258.5 L1120.7 258.3 L1121.7 258.2 L1122.8 258 L1123.8 258 L1124.8 257.9 L1125.8 257.9 L1126.8 257.8 L1127.8 257.8 L1128.9 257.7 L1129.9 257.6 L1130.9 257.5 L1131.9 257.4 L1132.9 257.3 L1133.9 257.2 L1135 257 L1136 256.8 L1137 256.7 L1138 256.5 L1139 256.4 L1140 256.4 L1141 256.3 L1142 256.3 L1143 256.2 L1144 256.2 L1145 256.2 L1146 256.1 L1147 256.1 L1148 256.1 L1149 256.2 L1150 256.2 L1151 256.2 L1152 256.2 L1153 256.2 L1154 256.1 L1155 256.1 L1156 256.1 L1157 256 L1158 256 L1159 256.1 L1160 256.1 L1161 256.1 L1162 256.2 L1163 256.2 L1164 256.2 L1165 256.2 L1166 256.1 L1167 256 L1168 255.8 L1169 255.7 L1170 255.7 L1171 255.6 L1172 255.6 L1173 255.6 L1174 255.5 L1175 255.5 L1176 255.5 L1177 255.5 L1178 255.5 L1179 255.6 L1180 255.6 L1181 255.6 L1182 255.6 L1183 255.7 L1184 255.7 L1185 255.8 L1186 255.8 L1187 255.9 L1188 255.9 L1189 255.9 L1190 255.9 L1191 255.9 L1192 255.9 L1193 255.9 L1194 255.9 L1195 255.8 L1196 255.8 L1197 255.8 L1198 255.7 L1199 255.7 L1200 255.7 L1201 255.7 L1202 255.7 L1203 255.8 L1204 255.8 L1205 255.8 L1206 255.8 L1207 255.8 L1208 255.6 L1209 255.5 L1210 255.4 L1211 255.3 L1212 255.2 L1213 255.1 L1214 255.1 L1215 255 L1216 255 L1217 254.9 L1218 254.9 L1219 254.9 L1220 255 L1221 255.1 L1222 255.2 L1223 255.3 L1224 255.3 L1225.1 255.3 L1226.1 255.3 L1227.1 255.3 L1228.1 255.3 L1229.1 255.3 L1230.1 255.3 L1231.1 255.3 L1232.1 255.2 L1233.1 255.2 L1234.1 255.2 L1235.1 255.1 L1236.1 255.1 L1237.1 255.2 L1238.1 255.3 L1239.1 255.4 L1240.1 255.4 L1241.1 255.5 L1242.1 255.6 L1243.1 255.5 L1244.1 255.5 L1245.1 255.4 L1246.2 255.4 L1247.2 255.3 L1248.2 255.3 L1249.2 255.3 L1250.2 255.3 L1251.2 255.3 L1252.2 255.3 L1253.2 255.2 L1254.2 255.2 L1255.2 255.3 L1256.2 255.3 L1257.2 255.3 L1258.2 255.3 L1259.2 255.3 L1260.2 255.4 L1261.2 255.5 L1262.2 255.6 L1263.2 255.7 L1264.2 255.8 L1265.2 255.9 L1266.2 255.9 L1267.3 255.8 L1268.3 255.7 L1269.3 255.5 L1270.3 255.3 L1271.3 255.2 L1272.3 255.1 L1273.3 255.2 L1274.3 255.2 L1275.3 255.3 L1276.3 255.4 L1277.3 255.4 L1278.3 255.5 L1279.3 255.5 L1280.3 255.4 L1281.3 255.4 L1282.3 255.4 L1283.3 255.4 L1284.3 255.4 L1285.3 255.4 L1286.3 255.4 L1287.4 255.4 L1288.4 255.4 L1289.4 255.4 L1290.4 255.4 L1291.4 255.4 L1292.4 255.5 L1293.4 255.5 L1294.4 255.6 L1295.4 255.6 L1296.4 255.6 L1297.4 255.6 L1298.4 255.6 L1299.4 255.5 L1300.4 255.5 L1301.4 255.5 L1302.4 255.5 L1303.4 255.6 L1304.4 255.7 L1305.4 255.9 L1306.4 256 L1307.4 256.1 L1308.5 256.1 L1309.5 256.1 L1310.5 256 L1311.5 255.9 L1312.5 255.9 L1313.5 255.8 L1314.5 255.8 L1315.5 255.8 L1316.5 255.9 L1317.5 255.9 L1318.5 256.1 L1319.7 256.7 L1320.8 257.4 L1322 258.7 L1323 261.2 L1324 264.3 L1325.1 267.5 L1326.1 272.3 L1327.3 280.5 L1328.5 290.3 L1329.8 300.1 L1331 309.5 L1332.1 317.9 L1333.1 326 L1334.2 334 L1335.2 342 L1336.3 347.4 L1337.5 347.7 L1338.8 345.4 L1340 343.3 L1341 341.5 L1342.1 339.9 L1343.1 338.3 L1344.2 336.6 L1345.2 336.1 L1346.5 338.2 L1347.7 341.5 L1349 345.5 L1350.3 350.7 L1351.5 356.5 L1352.8 360.8 L1353.9 361.6 L1354.9 360.8 L1356 359.7 L1357.1 358.1 L1358.2 356.3 L1359.4 354.5 L1360.5 351.4 L1361.6 345.9 L1362.8 339 L1363.9 332.2 L1365 325.1 L1366.1 317.6 L1367.2 309.8 L1368.3 302 L1369.4 293.9 L1370.6 285.3 L1371.8 276.6 L1373 269.3 L1374 265 L1375 262.3 L1376 259.6 L1377 257.5 L1378 256.8 L1379 256.8 L1380 256.7 L1381 256.7 L1382 256.6 L1383 256.5 L1384 256.5 L1385 256.4 L1386 256.3 L1387 256.2 L1388 256 L1389 255.9 L1390 255.7 L1391 255.6 L1392 255.4 L1393 255.3 L1394 255.3 L1395 255.2 L1396 255.2 L1397 255.1 L1398 255.1 L1399 255 L1400 254.9 L1401 254.8 L1402 254.7 L1403 254.6 L1404 254.7 L1405 254.8 L1406 255 L1407 255.1 L1408 255.3 L1409 255.4 L1410 255.5 L1411 255.6 L1412 255.6 L1413 255.7 L1414 255.7 L1415 255.7 L1416 255.8 L1417 255.9 L1418 256 L1419 256.1 L1420 256.2 L1421 256.4 L1422 256.5 L1423 256.5 L1424 256.6 L1425 256.6 L1426 256.8 L1427 257.4 L1428 258.2 L1429 259 L1430 259.9 L1431 260.8 L1432 261.6 L1433 262.5 L1434 263.4 L1435 264.1 L1436 264.9 L1437 265.6 L1438 266.3 L1439 267.1 L1440 267.9 L1441 268.8 L1442 269.7 L1443 270.6 L1444 271.6 L1445 272.5 L1446 273.5 L1447 274.4 L1448 275.2 L1449 276 L1450.1 276.4 L1451.2 276.7 L1452.2 277 L1453.3 277.2 L1454.4 277.5 L1455.5 277.5 L1456.6 276.7 L1457.6 275.5 L1458.7 274.4 L1459.8 273.2 L1460.9 272 L1461.9 270.8 L1463 269.8 L1464 269 L1465 268.4 L1466 267.8 L1467 267.1 L1468 266.5 L1469 265.9 L1470 265.3 L1471 264.7 L1472 264.2 L1473 264 L1474 263.8 L1475 263.7 L1476 263.5 L1477 263.3 L1478 263 L1479 262.8 L1480 262.5 L1481.1 262.3 L1482.1 262 L1483.1 261.8 L1484.1 261.5 L1485.1 261.3 L1486.1 261.1 L1487.1 260.8 L1488.1 260.6 L1489.1 260.5 L1490.1 260.5 L1491.1 260.4 L1492.1 260.3 L1493.1 260.2 L1494.1 260.1 L1495.1 259.8 L1496.2 259.5 L1497.2 259.3 L1498.2 259 L1499.2 258.7 L1500.2 258.5 L1501.2 258.3 L1502.2 258.2 L1503.2 258.1 L1504.2 258.1 L1505.2 258.4 L1506.3 258.6 L1507.3 258.8 L1508.3 259 L1509.4 259.1 L1510.4 259.3 L1511.4 259.4 L1512.4 259.6 L1513.5 259.8 L1514.5 260 L1515.5 260.1 L1516.6 260.3 L1517.6 260.4 L1518.6 260.4 L1519.6 260.3 L1520.7 260.3 L1521.7 260.2 L1522.7 260.1 L1523.7 260 L1524.7 259.9 L1525.7 259.8 L1526.8 259.7 L1527.8 259.5 L1528.8 259.4 L1529.8 259.2 L1530.8 259 L1531.8 258.8 L1532.9 258.5 L1533.9 258.3 L1534.9 258 L1535.9 257.8 L1536.9 257.6 L1537.9 257.4 L1539 257.2 L1540 257 L1541 256.9 L1542 257 L1543 257.1 L1544.1 257.3 L1545.1 257.5 L1546.1 257.7 L1547.1 257.9 L1548.2 258.1 L1549.2 258.3 L1550.2 258.4 L1551.2 258.6 L1552.2 258.7 L1553.3 258.8 L1554.3 259 L1555.3 259 L1556.3 259.1 L1557.4 259.2 L1558.4 259.3 L1559.4 259.3 L1560.4 259.3 L1561.4 259.3 L1562.4 259.3 L1563.4 259.3 L1564.5 259.3 L1565.5 259.3 L1566.5 259.3 L1567.5 259.2 L1568.5 259.1 L1569.5 259.1 L1570.5 259 L1571.5 258.9 L1572.5 258.9 L1573.5 258.9 L1574.6 258.9 L1575.6 258.9 L1576.6 258.9 L1577.6 258.9 L1578.6 258.9 L1579.6 258.8 L1580.6 258.7 L1581.6 258.6 L1582.6 258.6 L1583.7 258.5 L1584.7 258.5 L1585.7 258.5 L1586.7 258.5 L1587.7 258.5 L1588.7 258.5 L1589.7 258.5 L1590.7 258.4 L1591.7 258.4 L1592.8 258.4 L1593.8 258.4 L1594.8 258.3 L1595.8 258.3 L1596.8 258.3 L1597.8 258.3 L1598.8 258.3 L1599.8 258.2 L1600.8 258.2 L1601.8 258.2 L1602.9 258.2 L1603.9 258.2 L1604.9 258.1 L1605.9 258.1 L1606.9 258.1 L1607.9 258.1 L1608.9 258.1 L1609.9 258.2 L1610.9 258.2 L1612 258.3 L1613 258.3 L1614 258.3 L1615 258.2 L1616 258.1 L1617 258 L1618 257.9 L1619 257.7 L1620 257.6 L1621 257.6 L1622.1 257.6 L1623.1 257.6 L1624.1 257.5 L1625.1 257.5 L1626.1 257.8 L1627.2 258.6 L1628.3 259.8 L1629.4 260.9 L1630.5 262.1 L1631.6 263.2 L1632.7 264.4 L1633.8 265.7 L1634.9 267 L1636 268.3 L1637 269.7 L1638 271 L1639 272.3 L1640 273.5 L1641 274.7 L1642 276 L1643 277.2 L1644 278.4 L1645 279.1 L1646 278.8 L1647 277.9 L1648 277.1 L1649 276.3 L1650 275.5 L1651 274.8 L1652 274.1 L1653 273.5 L1654 272.8 L1655 272.2 L1656 271.3 L1657.1 270.4 L1658.1 269.5 L1659.1 268.5 L1660.2 267.6 L1661.2 266.6 L1662.2 265.6 L1663.2 264.7 L1664.3 263.7 L1665.3 263 L1666.3 262.7 L1667.3 262.7 L1668.4 262.7 L1669.4 262.6 L1670.4 262.5 L1671.4 262.5 L1672.5 262.4 L1673.5 262.3 L1674.5 262.3 L1675.5 262.4 L1676.5 262.4 L1677.6 262.5 L1678.6 262.5 L1679.6 262.6 L1680.6 262.6 L1681.7 262.5 L1682.7 262.4 L1683.7 263.2 L1684.8 265.5 L1686 268.7 L1687.1 271.8 L1688.3 275 L1689.4 279.1 L1690.6 284.8 L1691.7 291.4 L1692.8 298.1 L1694 305.1 L1695.2 312.5 L1696.3 320.1 L1697.4 327.7 L1698.6 332.8 L1699.7 332.8 L1700.8 330.3 L1701.9 327.8 L1703 325.6 L1704 323.9 L1705 322.4 L1706 320.9 L1707 319.4 L1708 317.8 L1709 317 L1710.2 317.4 L1711.3 318.7 L1712.4 319.9 L1713.6 320.4 L1714.8 319.2 L1715.9 317.2 L1717 315 L1718.2 312.7 L1719.3 310.4 L1720.5 307.2 L1721.6 302.2 L1722.8 296.3 L1723.9 290.5 L1725 285.2 L1726.2 280.9 L1727.3 277.1 L1728.5 273.3 L1729.6 269.4 L1730.8 266.5 L1731.8 265.3 L1732.8 265 L1733.8 264.7 L1734.8 264.5 L1735.8 264.2 L1736.8 264 L1737.8 263.8 L1738.8 263.6 L1739.9 263.4 L1740.9 263.1 L1741.9 262.9 L1742.9 262.6 L1743.9 262.4 L1744.9 262.2 L1745.9 261.9 L1746.9 261.7" fill="none" stroke="#808080" stroke-width="4.6" stroke-linejoin="round" stroke-linecap="round"/>
<path d="M145 370 L146 369.9 L147 369.9 L148 369.8 L149 369.7 L150 369.7 L151 369.6 L152 369.6 L153 369.5 L154 369.5 L155 369.5 L156 369.5 L157 369.5 L158 369.5 L159 369.5 L160 369.5 L161 369.5 L162 369.5 L163 369.6 L164 369.6 L165 369.5 L166 369.5 L167 369.5 L168 369.4 L169 369.4 L170 369.4 L171 369.3 L172 369.3 L173 369.3 L174 369.2 L175 369.2 L176 369.2 L177 369.2 L178 369.2 L179 369.2 L180 369.1 L181 369.1 L182 369.1 L183 369.1 L184 369 L185 369 L186 368.9 L187 368.8 L188 368.7 L189 368.6 L190 368.5 L191 368.4 L192 368.3 L193 368.2 L194 368.1 L195 368.1 L196 368 L197 368 L198 368 L199 367.9 L200 367.9 L201 367.9 L202 367.9 L203 367.8 L204 367.8 L205 367.8 L206 367.7 L207 367.7 L208 367.8 L209 367.8 L210 367.8 L211 367.9 L212 367.9 L213 367.9 L214 368 L215 368 L216 368.1 L217 368.1 L218 368.2 L219 368.2 L220 368.2 L221 368.3 L222 368.3 L223 368.4 L224 368.4 L225 368.5 L226 368.6 L227 368.7 L228 368.8 L229 368.9 L230 369 L231 369.1 L232 369.2 L233 369.2 L234 369.3 L235 369.3 L236 369.3 L237 369.3 L238 369.3 L239 369.2 L240 369.2 L241 369.2 L242 369.2 L243 369.2 L244 369.2 L245 369.2 L246 369.3 L247 369.4 L248 369.4 L249 369.5 L250 369.6 L251 369.7 L252 369.8 L253 369.8 L254 369.9 L255 369.9 L256 369.9 L257 369.9 L258 370 L259 370 L260 370 L261 370 L262 370 L263 370 L264 370 L265 370.1 L266 370.1 L267 370.1 L268 370.2 L269 370.2 L270 370.3 L271 370.3 L272 370.4 L273 370.4 L274 370.5 L275 370.5 L276 370.6 L277 370.6 L278 370.7 L279 370.7 L280 370.8 L281 370.9 L282 370.9 L283 370.9 L284 371 L285 371.1 L286 371.1 L287 371.2 L288 371.3 L289 371.3 L290 371.4 L291 371.5 L292 371.5 L293 371.6 L294 371.7 L295 371.7 L296 371.7 L297 371.7 L298 371.7 L299 371.7 L300 371.7 L301 371.7 L302 371.7 L303 371.7 L304 371.7 L305 371.7 L306 371.7 L307 371.6 L308 371.6 L309 371.6 L310 371.6 L311 371.5 L312 371.5 L313 371.5 L314 371.5 L315 371.5 L316 371.5 L317 371.6 L318 371.6 L319 371.7 L320 371.8 L321 371.8 L322 371.9 L323 371.9 L324 372 L325 372 L326 372 L327 372 L328 372 L329 372.1 L330 372.1 L331 372.1 L332 372.1 L333 372.1 L334 372.2 L335 372.2 L336 372.3 L337 372.4 L338 372.6 L339 372.8 L340 373 L341 373.3 L342 373.5 L343 373.8 L344 374 L345 374.2 L346 374.4 L347 374.6 L348 374.7 L349 374.9 L350 375.1 L351 375.2 L352 375.4 L353 375.6 L354 375.8 L355 375.9 L356 376.1 L357 376.3 L358 376.5 L359 376.6 L360 376.8 L361 377 L362 377.2 L363 377.4 L364 377.5 L365 377.7 L366 377.9 L367 378.1 L368 378.2 L369 378.4 L370 378.6 L371 378.8 L372 379 L373 379.1 L374 379.3 L375 379.4 L376 379.5 L377 379.5 L378 379.6 L379 379.7 L380 379.7 L381 379.8 L382 379.9 L383 379.9 L384 380 L385 380.1 L386 380.2 L387 380.3 L388 380.4 L389 380.5 L390 380.6 L391 380.6 L392 380.7 L393 380.8 L394 380.9 L395 381 L396 381 L397 381.1 L398 381.2 L399 381.2 L400 381.3 L401 381.3 L402 381.4 L403 381.5 L404 381.5 L405 381.5 L406 381.6 L407 381.6 L408 381.6 L409 381.6 L410 381.6 L411 381.7 L412 381.7 L413 381.7 L414 381.7 L415 381.9 L416 382 L417 382.1 L418 382.3 L419 382.4 L420 382.5 L421 382.7 L422 382.8 L423 382.9 L424 383 L425 383.1 L426 383.1 L427 383.2 L428 383.2 L429 383.2 L430 383.3 L431 383.3 L432 383.4 L433 383.4 L434 383.4 L435 383.5 L436 383.6 L437 383.7 L438 383.8 L439 383.9 L440 384 L441 384.1 L442 384.2 L443 384.3 L444 384.4 L445 384.5 L446 384.6 L447 384.6 L448 384.7 L449 384.7 L450 384.8 L451 384.8 L452 384.9 L453 384.9 L454 385 L455 385 L456 385 L457 384.9 L458 384.8 L459 384.7 L460 384.6 L461 384.5 L462 384.4 L463 384.3 L464 384.2 L465 384.2 L466 384.1 L467 384 L468 383.9 L469 383.8 L470 383.8 L471 383.7 L472 383.6 L473 383.5 L474 383.4 L475 383.4 L476 383.3 L477 383.2 L478 383.1 L479 383.1 L480 383 L481 382.9 L482 382.9 L483 382.8 L484 382.7 L485 382.6 L486 382.6 L487 382.5 L488 382.4 L489 382.3 L490 382.2 L491 382.1 L492 382 L493 381.9 L494 381.9 L495 381.8 L496 381.7 L497 381.6 L498 381.5 L499 381.4 L500 381.3 L501 381.2 L502 381.1 L503 381 L504 380.9 L505 380.9 L506 380.9 L507 380.9 L508 380.9 L509 380.9 L510 380.9 L511 380.9 L512 380.9 L513 380.9 L514 380.8 L515 380.8 L516 380.7 L517 380.6 L518 380.5 L519 380.5 L520 380.4 L521 380.3 L522 380.3 L523 380.2 L524 380.2 L525 380.2 L526 380.1 L527 380.1 L528 380.1 L529 380.1 L530 380.1 L531 380 L532 380 L533 380 L534 380 L535 379.9 L536 379.8 L537 379.8 L538 379.7 L539 379.6 L540 379.6 L541 379.5 L542 379.4 L543 379.4 L544 379.3 L545 379.3 L546 379.2 L547 379.1 L548 379.1 L549 379 L550 379 L551 378.9 L552 378.9 L553 378.8 L554 378.8 L555 378.8 L556 378.7 L557 378.7 L558 378.7 L559 378.7 L560 378.7 L561 378.7 L562 378.7 L563 378.7 L564 378.7 L565 378.7 L566 378.6 L567 378.6 L568 378.5 L569 378.5 L570 378.4 L571 378.4 L572 378.3 L573 378.2 L574 378.2 L575 378.2 L576 378.3 L577 378.4 L578 378.4 L579 378.5 L580 378.5 L581 378.6 L582 378.6 L583 378.7 L584 378.7 L585 378.7 L586 378.7 L587 378.7 L588 378.7 L589 378.7 L590 378.6 L591 378.5 L592 378.3 L593.1 378 L594.1 377.7 L595.2 377.4 L596.2 377.1 L597.3 376.8 L598.4 376.5 L599.4 376.2 L600.5 375.9 L601.5 375.6 L602.6 375.3 L603.6 375 L604.6 374.9 L605.6 374.8 L606.6 374.7 L607.6 374.7 L608.6 374.6 L609.6 374.5 L610.6 374.4 L611.6 374.3 L612.6 374.3 L613.6 374.2 L614.6 374.1 L615.6 374.1 L616.6 374 L617.6 374 L618.6 373.9 L619.6 373.9 L620.6 373.8 L621.6 373.8 L622.7 373.7 L623.7 373.7 L624.7 373.6 L625.7 373.5 L626.7 373.4 L627.7 373.3 L628.7 373.2 L629.7 373 L630.7 372.9 L631.7 372.8 L632.7 372.7 L633.7 372.6 L634.7 372.5 L635.7 372.5 L636.7 372.4 L637.7 372.4 L638.7 372.3 L639.7 372.2 L640.7 372.2 L641.7 372.1 L642.7 372 L643.8 371.8 L644.8 371.7 L645.8 371.6 L646.8 371.4 L647.9 371.3 L648.9 371.2 L649.9 371 L651 370.9 L652 370.8 L653 370.6 L654 370.5 L655.1 370.3 L656.1 370.1 L657.1 370 L658.2 369.8 L659.2 369.6 L660.2 369.4 L661.2 369.3 L662.3 369.1 L663.3 369 L664.3 369.1 L665.3 369.2 L666.3 369.3 L667.3 369.5 L668.3 369.6 L669.4 369.8 L670.4 369.9 L671.4 370.1 L672.4 370.2 L673.4 370.4 L674.4 370.5 L675.4 370.7 L676.4 370.9 L677.4 371.1 L678.4 371.3 L679.4 371.6 L680.5 371.8 L681.5 372 L682.5 372.2 L683.5 372.4 L684.5 372.6 L685.5 372.7 L686.5 372.9 L687.5 373 L688.5 373.1 L689.5 373.3 L690.5 373.4 L691.5 373.6 L692.6 373.7 L693.6 373.9 L694.6 374 L695.6 374.2 L696.6 374.4 L697.6 374.4 L698.6 374.3 L699.7 374 L700.7 373.7 L701.7 373.5 L702.7 373.2 L703.8 372.9 L704.8 372.6 L705.8 372.4 L706.8 372.1 L707.9 371.8 L708.9 371.5 L709.9 371.3 L710.9 371 L712 370.7 L713 370.4 L714 370.2 L715 369.9 L716.1 369.7 L717.1 369.4 L718.1 369.1 L719.1 368.9 L720.2 368.6 L721.2 368.4 L722.2 368.1 L723.2 367.9 L724.3 367.6 L725.3 367.3 L726.3 367 L727.3 366.7 L728.4 366.4 L729.4 366.4 L730.7 366.9 L731.9 367.8 L733.2 368.5 L734.2 369.2 L735.2 369.8 L736.3 370.5 L737.3 371.1 L738.3 371.8 L739.3 372.4 L740.3 373 L741.4 373.7 L742.4 374.3 L743.4 375 L744.4 375.6 L745.4 376.2 L746.5 376.9 L747.5 377.5 L748.5 377.8 L749.5 377.6 L750.5 377.2 L751.5 376.7 L752.6 376.3 L753.6 375.8 L754.6 375.3 L755.6 374.8 L756.6 374.3 L757.6 373.7 L758.6 373.2 L759.7 372.7 L760.7 372.1 L761.7 371.6 L762.7 371 L763.7 370.5 L764.7 370 L765.8 369.6 L766.8 369.1 L767.8 368.7 L768.8 368.4 L769.8 368.3 L770.8 368.4 L771.9 368.5 L772.9 368.6 L773.9 368.7 L774.9 368.8 L775.9 368.9 L777 369 L778 369 L779 369.1 L780 369.2 L781 369.3 L782.1 369.4 L783.1 369.5 L784.1 369.5 L785.1 369.5 L786.1 369.5 L787.2 369.4 L788.2 369.4 L789.2 369.4 L790.2 369.3 L791.2 369.3 L792.3 369.3 L793.3 369.3 L794.3 369.2 L795.3 369.2 L796.3 369.2 L797.3 369.2 L798.3 369.2 L799.3 369.2 L800.3 369.2 L801.4 369.2 L802.4 369.2 L803.4 369.2 L804.4 369.3 L805.4 369.3 L806.4 369.4 L807.4 369.4 L808.4 369.5 L809.4 369.5 L810.4 369.6 L811.4 369.6 L812.4 369.7 L813.5 369.8 L814.5 369.8 L815.5 369.8 L816.5 369.8 L817.5 369.8 L818.5 369.8 L819.5 369.7 L820.5 369.7 L821.5 369.7 L822.5 369.7 L823.5 369.7 L824.5 369.7 L825.5 369.7 L826.6 369.6 L827.6 369.6 L828.6 369.6 L829.6 369.5 L830.6 369.5 L831.6 369.5 L832.6 369.4 L833.6 369.4 L834.6 369.4 L835.6 369.3 L836.6 369.2 L837.6 369.2 L838.6 369.1 L839.7 369.1 L840.7 369 L841.7 368.9 L842.7 368.9 L843.7 368.8 L844.7 368.8 L845.7 368.8 L846.7 368.9 L847.7 368.9 L848.7 368.9 L849.7 368.9 L850.7 368.9 L851.8 368.9 L852.8 368.9 L853.8 369 L854.8 369 L855.8 369 L856.8 369.1 L857.8 369.1 L858.8 369.2 L859.8 369.4 L860.8 369.6 L861.8 369.7 L862.8 369.9 L863.8 370 L864.8 370.1 L865.8 370.3 L866.8 370.4 L867.9 370.5 L868.9 370.6 L869.9 370.7 L870.9 370.8 L871.9 370.9 L872.9 371 L873.9 371.2 L874.9 371.3 L875.9 371.4 L876.9 371.5 L877.9 371.6 L878.9 371.7 L879.9 371.8 L880.9 371.9 L881.9 372 L882.9 372.1 L883.9 372.2 L884.9 372.2 L885.9 372.3 L887 372.3 L888 372.4 L889 372.4 L890 372.5 L891 372.5 L892 372.6 L893 372.6 L894 372.7 L895 372.9 L896 373 L897 373.2 L898 373.5 L899 373.7 L900 373.9 L901 374.1 L902 374.3 L903 374.5 L904 374.7 L905 374.8 L906 374.9 L907 375 L908 375.1 L909 375.2 L910 375.3 L911 375.4 L912 375.5 L913 375.6 L914 375.7 L915 375.8 L916 376 L917 376.2 L918 376.4 L919 376.6 L920 376.7 L921 376.9 L922 377.1 L923 377.3 L924 377.4 L925 377.5 L926 377.6 L927 377.7 L928 377.8 L929 377.9 L930 378 L931 378 L932 378.1 L933 378.2 L934 378.3 L935 378.5 L936 378.8 L937 379 L938 379.2 L939 379.4 L940 379.7 L941 379.9 L942 380.1 L943 380.3 L944 380.5 L945 380.7 L946 380.8 L947 380.9 L948 381 L949 381.1 L950 381.2 L951 381.3 L952 381.4 L953 381.5 L954 381.7 L955 381.8 L956 382 L957 382.1 L958 382.3 L959 382.4 L960 382.5 L961 382.4 L962 382.3 L963.1 382.2 L964.1 382 L965.1 381.8 L966.1 381.6 L967.1 381.4 L968.1 381.2 L969.2 381 L970.2 380.8 L971.2 380.6 L972.2 380.4 L973.2 380.2 L974.3 380 L975.3 379.9 L976.3 379.8 L977.3 379.7 L978.3 379.6 L979.3 379.4 L980.4 379.3 L981.4 379.2 L982.4 379.1 L983.4 379 L984.4 378.9 L985.5 378.7 L986.5 378.6 L987.5 378.4 L988.5 378.2 L989.5 378.1 L990.5 377.9 L991.6 377.8 L992.6 377.6 L993.6 377.5 L994.6 377.3 L995.6 377.2 L996.6 377 L997.7 376.9 L998.7 376.7 L999.7 376.6 L1000.7 376.4 L1001.7 376.3 L1002.8 376.1 L1003.8 376 L1004.8 375.8 L1005.8 375.6 L1006.8 375.4 L1007.8 375.3 L1008.9 375.1 L1009.9 374.9 L1010.9 375 L1011.9 375.7 L1012.9 376.8 L1014 377.8 L1015 378.9 L1016 380.1 L1017 381.6 L1018.1 383.3 L1019.1 385 L1020.2 386.8 L1021.2 388.5 L1022.3 389.3 L1023.5 388.4 L1024.7 386.7 L1025.8 384.9 L1027 383.4 L1028.1 382.3 L1029.2 381.5 L1030.3 380.6 L1031.4 379.8 L1032.5 379.5 L1033.7 380.3 L1034.8 381.5 L1036 382.8 L1037 384.1 L1038 385.3 L1039.1 386.6 L1040.1 387.2 L1041.2 386.6 L1042.3 385.4 L1043.4 384.1 L1044.5 382.9 L1045.6 381.7 L1046.7 380.4 L1047.8 379.2 L1048.9 378 L1050 376.9 L1051.1 376.1 L1052.1 375.5 L1053.2 374.8 L1054.3 374.2 L1055.3 373.6 L1056.4 373.1 L1057.4 372.5 L1058.5 372 L1059.6 371.4 L1060.6 370.8 L1061.7 370.4 L1062.7 370.2 L1063.7 370.1 L1064.7 370 L1065.8 369.8 L1066.8 369.6 L1067.8 369.4 L1068.8 369.2 L1069.8 369.1 L1070.8 368.9 L1071.9 368.7 L1072.9 368.5 L1073.9 368.3 L1074.9 368.2 L1075.9 368.1 L1076.9 368 L1078 367.9 L1079 367.8 L1080 367.6 L1081 367.5 L1082 367.4 L1083 367.3 L1084.1 367.2 L1085.1 367.1 L1086.1 366.9 L1087.1 366.8 L1088.1 366.8 L1089.1 366.7 L1090.1 366.7 L1091.1 366.7 L1092.1 366.7 L1093.1 366.7 L1094.1 366.7 L1095.1 366.7 L1096.1 366.7 L1097.1 366.8 L1098.1 366.8 L1099.1 366.9 L1100.1 366.9 L1101.1 367 L1102.1 367.1 L1103.1 367.1 L1104.1 367.1 L1105.1 367.1 L1106.1 367.1 L1107.1 367.1 L1108.1 367.1 L1109.1 367.1 L1110.1 367.1 L1111.1 367 L1112.1 367 L1113.1 367 L1114.1 367 L1115.1 367 L1116.1 367 L1117.1 367 L1118.1 367 L1119.2 367 L1120.2 367 L1121.2 367 L1122.2 367 L1123.2 366.9 L1124.2 366.9 L1125.2 366.9 L1126.2 366.8 L1127.2 366.8 L1128.2 366.7 L1129.2 366.7 L1130.2 366.6 L1131.2 366.5 L1132.2 366.5 L1133.2 366.4 L1134.2 366.4 L1135.2 366.4 L1136.2 366.5 L1137.2 366.5 L1138.2 366.5 L1139.2 366.6 L1140.2 366.6 L1141.2 366.6 L1142.2 366.7 L1143.2 366.7 L1144.2 366.7 L1145.2 366.7 L1146.2 366.7 L1147.2 366.7 L1148.2 366.7 L1149.2 366.6 L1150.2 366.6 L1151.2 366.6 L1152.2 366.6 L1153.2 366.6 L1154.2 366.6 L1155.2 366.5 L1156.2 366.5 L1157.2 366.5 L1158.2 366.4 L1159.2 366.4 L1160.2 366.4 L1161.2 366.4 L1162.2 366.3 L1163.2 366.3 L1164.2 366.3 L1165.2 366.3 L1166.2 366.2 L1167.2 366.2 L1168.2 366.2 L1169.2 366.2 L1170.2 366.2 L1171.2 366.2 L1172.2 366.2 L1173.2 366.1 L1174.2 366.2 L1175.2 366.2 L1176.2 366.3 L1177.2 366.4 L1178.2 366.5 L1179.2 366.6 L1180.2 366.7 L1181.2 366.8 L1182.2 366.9 L1183.3 367 L1184.3 367 L1185.3 366.9 L1186.3 366.9 L1187.3 366.8 L1188.3 366.7 L1189.3 366.6 L1190.3 366.5 L1191.3 366.4 L1192.3 366.3 L1193.3 366.2 L1194.3 366.2 L1195.3 366.1 L1196.3 366.2 L1197.3 366.2 L1198.3 366.2 L1199.3 366.2 L1200.3 366.2 L1201.3 366.2 L1202.3 366.2 L1203.3 366.2 L1204.3 366.3 L1205.3 366.2 L1206.3 366.2 L1207.3 366.2 L1208.3 366.2 L1209.3 366.2 L1210.3 366.2 L1211.3 366.2 L1212.3 366.2 L1213.3 366.2 L1214.3 366.2 L1215.3 366.2 L1216.3 366.2 L1217.3 366.3 L1218.3 366.3 L1219.3 366.3 L1220.3 366.4 L1221.3 366.4 L1222.3 366.4 L1223.3 366.5 L1224.3 366.5 L1225.3 366.4 L1226.3 366.4 L1227.3 366.3 L1228.4 366.3 L1229.4 366.2 L1230.4 366.2 L1231.4 366.1 L1232.4 366.1 L1233.4 366 L1234.4 366 L1235.4 366 L1236.4 366.1 L1237.4 366.1 L1238.4 366.1 L1239.4 366.2 L1240.4 366.2 L1241.4 366.3 L1242.4 366.3 L1243.4 366.3 L1244.4 366.4 L1245.4 366.4 L1246.4 366.3 L1247.4 366.3 L1248.4 366.3 L1249.4 366.3 L1250.4 366.3 L1251.4 366.3 L1252.4 366.3 L1253.4 366.3 L1254.4 366.3 L1255.5 366.3 L1256.5 366.4 L1257.5 366.4 L1258.5 366.5 L1259.5 366.5 L1260.5 366.6 L1261.5 366.6 L1262.5 366.7 L1263.5 366.7 L1264.5 366.7 L1265.5 366.6 L1266.5 366.5 L1267.5 366.4 L1268.5 366.4 L1269.5 366.3 L1270.5 366.2 L1271.5 366.1 L1272.5 366 L1273.5 366 L1274.5 365.9 L1275.5 366 L1276.5 366 L1277.5 366 L1278.5 366.1 L1279.5 366.1 L1280.5 366.1 L1281.5 366.2 L1282.6 366.2 L1283.6 366.2 L1284.6 366.2 L1285.6 366.3 L1286.6 366.3 L1287.6 366.3 L1288.6 366.3 L1289.6 366.3 L1290.6 366.3 L1291.6 366.4 L1292.6 366.4 L1293.6 366.4 L1294.6 366.4 L1295.6 366.4 L1296.6 366.3 L1297.6 366.2 L1298.6 366.1 L1299.7 366 L1300.7 365.8 L1301.7 365.7 L1302.7 365.6 L1303.7 365.4 L1304.7 365.2 L1305.8 365 L1306.8 364.8 L1307.8 364.6 L1308.8 364.4 L1309.8 364.1 L1310.8 363.9 L1311.9 363.7 L1312.9 363.5 L1313.9 363.3 L1314.9 363.1 L1315.9 362.9 L1316.9 362.7 L1318 362.5 L1319 362.3 L1320 362.2 L1321 362.7 L1322.1 364.6 L1323.2 367.2 L1324.3 369.9 L1325.4 372.5 L1326.5 375.2 L1327.6 377.8 L1328.7 381.9 L1329.8 388.7 L1330.9 396.9 L1332 404.1 L1333.3 409.2 L1334.5 413.3 L1335.8 414.9 L1336.8 411.8 L1337.8 406.2 L1338.8 399.7 L1340.1 391.1 L1341.4 386.2 L1342.5 390.7 L1343.5 399.9 L1345.2 404.9 L1346.5 401 L1347.7 395.9 L1348.8 397.2 L1350 401.3 L1351.4 404.8 L1352.8 406.6 L1353.8 405.8 L1354.9 403.8 L1355.9 401.7 L1357 399.7 L1358 397.6 L1359 395.3 L1360.1 392.8 L1361.2 390.3 L1362.2 387.9 L1363.2 385.4 L1364.3 382.9 L1365.4 380.4 L1366.5 377.9 L1367.6 375.4 L1368.8 372.9 L1369.9 370.5 L1371 368 L1372.1 365.5 L1373.2 363.7 L1374.3 363.5 L1375.5 364 L1376.6 364.4 L1377.7 364.9 L1378.9 365.3 L1380 365.7 L1381 365.8 L1382 365.8 L1383 365.8 L1384 365.8 L1385 365.8 L1386 365.8 L1387 365.7 L1388 365.7 L1389.1 365.7 L1390.1 365.6 L1391.1 365.6 L1392.1 365.6 L1393.1 365.5 L1394.1 365.5 L1395.1 365.6 L1396.1 365.6 L1397.1 365.7 L1398.1 365.8 L1399.1 365.8 L1400.1 365.9 L1401.1 366 L1402.1 366 L1403.1 366.1 L1404.2 366.1 L1405.2 366.2 L1406.2 366.2 L1407.2 366.2 L1408.2 366.3 L1409.2 366.3 L1410.2 366.3 L1411.2 366.4 L1412.2 366.4 L1413.2 366.5 L1414.2 366.5 L1415.2 366.4 L1416.2 366.4 L1417.2 366.4 L1418.2 366.3 L1419.2 366.3 L1420.2 366.2 L1421.3 366.2 L1422.3 366.1 L1423.3 366.1 L1424.3 366.1 L1425.3 366.1 L1426.3 366.2 L1427.3 366.2 L1428.3 366.3 L1429.3 366.4 L1430.3 366.4 L1431.3 366.5 L1432.3 366.5 L1433.3 366.6 L1434.3 366.6 L1435.3 366.6 L1436.4 366.6 L1437.4 366.6 L1438.4 366.6 L1439.4 366.6 L1440.4 366.6 L1441.4 366.6 L1442.4 366.6 L1443.4 366.6 L1444.4 366.8 L1445.5 367.4 L1446.6 368.3 L1447.7 369.2 L1448.8 370 L1449.9 370.9 L1451 371.7 L1452 372.3 L1453.1 372.8 L1454.1 373.3 L1455.1 373.8 L1456.1 374.3 L1457.2 374.8 L1458.2 375.1 L1459.3 375 L1460.4 374.6 L1461.5 374.2 L1462.6 373.8 L1463.6 373.4 L1464.7 373 L1465.8 372.6 L1466.9 372.2 L1468 371.8 L1469 371.5 L1470.1 371.2 L1471.1 371 L1472.1 370.7 L1473.2 370.5 L1474.2 370.2 L1475.2 370 L1476.3 369.8 L1477.3 369.5 L1478.3 369.3 L1479.4 369.1 L1480.4 368.8 L1481.4 368.6 L1482.5 368.4 L1483.5 368.2 L1484.5 368.1 L1485.5 368.1 L1486.5 368 L1487.5 368 L1488.5 367.9 L1489.5 367.9 L1490.5 367.8 L1491.5 367.8 L1492.5 367.7 L1493.6 367.7 L1494.6 367.7 L1495.6 367.7 L1496.6 367.7 L1497.6 367.7 L1498.6 367.7 L1499.6 367.8 L1500.6 367.8 L1501.6 367.8 L1502.6 367.8 L1503.6 367.8 L1504.6 367.8 L1505.6 367.8 L1506.6 367.7 L1507.6 367.7 L1508.6 367.6 L1509.6 367.6 L1510.6 367.5 L1511.6 367.5 L1512.7 367.4 L1513.7 367.4 L1514.7 367.4 L1515.7 367.5 L1516.7 367.5 L1517.7 367.6 L1518.7 367.6 L1519.7 367.7 L1520.7 367.7 L1521.7 367.8 L1522.7 367.8 L1523.7 367.8 L1524.7 367.8 L1525.7 367.8 L1526.7 367.8 L1527.7 367.7 L1528.7 367.7 L1529.7 367.7 L1530.7 367.7 L1531.7 367.6 L1532.8 367.6 L1533.8 367.5 L1534.8 367.5 L1535.8 367.4 L1536.8 367.3 L1537.8 367.3 L1538.8 367.2 L1539.8 367.1 L1540.8 367 L1541.8 366.9 L1542.8 366.9 L1543.8 366.8 L1544.8 366.8 L1545.8 366.9 L1546.8 366.9 L1547.8 367 L1548.8 367.1 L1549.8 367.1 L1550.8 367.2 L1551.9 367.3 L1552.9 367.3 L1553.9 367.3 L1554.9 367.3 L1555.9 367.2 L1556.9 367.2 L1557.9 367.1 L1558.9 367 L1559.9 366.9 L1560.9 366.9 L1561.9 366.8 L1562.9 366.7 L1563.9 366.7 L1564.9 366.6 L1565.9 366.6 L1566.9 366.7 L1567.9 366.7 L1568.9 366.7 L1569.9 366.7 L1571 366.7 L1572 366.7 L1573 366.7 L1574 366.7 L1575 366.7 L1576 366.7 L1577 366.7 L1578 366.7 L1579 366.7 L1580 366.7 L1581 366.7 L1582 366.7 L1583 366.7 L1584 366.6 L1585 366.6 L1586 366.6 L1587 366.5 L1588 366.5 L1589 366.5 L1590 366.4 L1591.1 366.4 L1592.1 366.3 L1593.1 366.3 L1594.1 366.3 L1595.1 366.2 L1596.1 366.2 L1597.1 366.2 L1598.1 366.2 L1599.1 366.2 L1600.1 366.1 L1601.1 366.1 L1602.1 366.1 L1603.1 366.1 L1604.1 366.1 L1605.1 366 L1606.1 366 L1607.1 366 L1608.1 366 L1609.1 366 L1610.2 366 L1611.2 366 L1612.2 366 L1613.2 366 L1614.2 366 L1615.2 366 L1616.2 365.9 L1617.2 365.9 L1618.2 365.8 L1619.2 365.8 L1620.2 365.9 L1621.2 366.1 L1622.3 366.3 L1623.3 366.4 L1624.3 366.6 L1625.3 366.9 L1626.4 367.1 L1627.4 367.4 L1628.4 367.7 L1629.4 367.9 L1630.4 368.2 L1631.5 368.4 L1632.5 368.7 L1633.5 369 L1634.5 369.1 L1635.6 369.3 L1636.6 369.4 L1637.6 369.4 L1638.6 369.4 L1639.6 369.2 L1640.6 369.1 L1641.6 368.9 L1642.6 368.8 L1643.6 368.7 L1644.6 368.6 L1645.6 368.6 L1646.6 368.6 L1647.6 368.6 L1648.6 368.6 L1649.6 368.6 L1650.6 368.6 L1651.6 368.6 L1652.6 368.6 L1653.6 368.6 L1654.6 368.6 L1655.6 368.5 L1656.6 368.3 L1657.6 368.2 L1658.6 368.1 L1659.6 367.9 L1660.7 367.8 L1661.7 367.7 L1662.7 367.6 L1663.7 367.5 L1664.7 367.4 L1665.7 367.3 L1666.7 367.2 L1667.7 367.2 L1668.7 367.1 L1669.7 367.1 L1670.7 367 L1671.7 367 L1672.7 366.9 L1673.7 366.9 L1674.7 366.8 L1675.7 366.7 L1676.7 366.7 L1677.7 366.6 L1678.7 366.6 L1679.7 366.5 L1680.7 366.5 L1681.7 366.4 L1682.7 366.3 L1683.7 366.5 L1684.7 367.1 L1685.8 367.8 L1686.8 368.6 L1687.9 369.4 L1688.9 370.1 L1690 370.9 L1691 371.7 L1692.1 372.7 L1693.2 373.8 L1694.3 374.9 L1695.3 376 L1696.4 377.1 L1697.5 378.3 L1698.6 378.8 L1699.8 378.1 L1700.9 376.8 L1702.1 375.5 L1703.2 374.2 L1704.4 373.9 L1705.6 375.6 L1706.7 377.2 L1707.8 376.4 L1709 374.5 L1710.1 373.5 L1711.2 374.1 L1712.4 375.6 L1713.5 377 L1714.7 377.9 L1715.7 377.6 L1716.8 376.6 L1717.8 375.7 L1718.9 374.8 L1719.9 373.9 L1720.9 373 L1722 372.1 L1723 371.2 L1724.1 370.3 L1725.1 369.6 L1726.1 369.4 L1727.2 369.4 L1728.2 369.4 L1729.3 369.4 L1730.3 369.4 L1731.3 369.3 L1732.4 369.3 L1733.4 369.3 L1734.4 369.3 L1735.5 369.3 L1736.5 369.2 L1737.6 369.2 L1738.6 369.1 L1739.6 369.1 L1740.7 369.1 L1741.7 369 L1742.7 369 L1743.8 368.9 L1744.8 368.8 L1745.9 368.7 L1746.9 368.5" fill="none" stroke="#808000" stroke-width="4.6" stroke-linejoin="round" stroke-linecap="round"/>
<path d="M145 483.7 L146 483.6 L147 483.6 L148 483.5 L149 483.5 L150 483.5 L151 483.4 L152 483.4 L153 483.4 L154 483.3 L155 483.4 L156 483.5 L157 483.5 L158 483.6 L159 483.7 L160 483.7 L161 483.8 L162 483.9 L163 484 L164 484 L165 484 L166 484 L167 484 L168 484 L169 484 L170 484 L171 484 L172 484 L173 484 L174 484 L175 484.1 L176 484.1 L177 484.1 L178 484.2 L179 484.2 L180 484.3 L181 484.3 L182 484.3 L183 484.4 L184 484.4 L185 484.3 L186 484.3 L187 484.2 L188 484.1 L189 484.1 L190 484 L191 483.9 L192 483.9 L193 483.8 L194 483.8 L195 483.7 L196 483.7 L197 483.7 L198 483.8 L199 483.8 L200 483.8 L201 483.8 L202 483.8 L203 483.8 L204 483.8 L205 483.8 L206 483.9 L207 484 L208 484 L209 484.1 L210 484.1 L211 484.2 L212 484.2 L213 484.3 L214 484.3 L215 484.4 L216 484.4 L217 484.4 L218 484.4 L219 484.3 L220 484.3 L221 484.3 L222 484.3 L223 484.3 L224 484.3 L225 484.3 L226 484.3 L227 484.2 L228 484.2 L229 484.2 L230 484.1 L231 484.1 L232 484.1 L233 484 L234 484 L235 484.1 L236 484.1 L237 484.1 L238 484.2 L239 484.2 L240 484.3 L241 484.3 L242 484.4 L243 484.4 L244 484.5 L245 484.5 L246 484.4 L247 484.4 L248 484.4 L249 484.4 L250 484.3 L251 484.3 L252 484.3 L253 484.2 L254 484.2 L255 484.3 L256 484.3 L257 484.4 L258 484.4 L259 484.5 L260 484.5 L261 484.6 L262 484.6 L263 484.7 L264 484.7 L265 484.6 L266 484.6 L267 484.5 L268 484.4 L269 484.4 L270 484.3 L271 484.2 L272 484.2 L273 484.1 L274 484.1 L275 484.1 L276 484.1 L277 484.1 L278 484.1 L279 484.1 L280 484.1 L281 484.2 L282 484.2 L283 484.2 L284 484.3 L285 484.4 L286 484.5 L287 484.6 L288 484.7 L289 484.9 L290 485 L291 485.1 L292 485.2 L293 485.3 L294 485.4 L295 485.4 L296 485.4 L297 485.4 L298 485.4 L299 485.3 L300 485.3 L301 485.3 L302 485.3 L303 485.3 L304 485.3 L305 485.3 L306 485.3 L307 485.3 L308 485.4 L309 485.4 L310 485.4 L311 485.5 L312 485.5 L313 485.5 L314 485.6 L315 485.6 L316 485.7 L317 485.9 L318 486 L319 486.1 L320 486.2 L321 486.3 L322 486.4 L323 486.5 L324 486.5 L325 486.6 L326 486.6 L327 486.6 L328 486.6 L329 486.7 L330 486.7 L331 486.7 L332 486.7 L333 486.8 L334 486.8 L335 486.8 L336 486.8 L337 486.7 L338 486.7 L339 486.7 L340 486.7 L341 486.7 L342 486.7 L343 486.7 L344 486.8 L345 486.9 L346 487.1 L347 487.3 L348 487.4 L349 487.6 L350 487.8 L351 488 L352 488.1 L353 488.3 L354 488.5 L355 488.6 L356 488.8 L357 488.9 L358 489 L359 489.2 L360 489.3 L361 489.5 L362 489.6 L363 489.7 L364 489.9 L365 490 L366 490 L367 490.1 L368 490.2 L369 490.3 L370 490.3 L371 490.4 L372 490.5 L373 490.6 L374 490.6 L375 490.7 L376 490.8 L377 490.9 L378 491 L379 491.1 L380 491.2 L381 491.3 L382 491.4 L383 491.5 L384 491.6 L385 491.6 L386 491.6 L387 491.6 L388 491.6 L389 491.5 L390 491.5 L391 491.5 L392 491.5 L393 491.5 L394 491.5 L395 491.5 L396 491.6 L397 491.7 L398 491.7 L399 491.8 L400 491.9 L401 491.9 L402 492 L403 492.1 L404 492.1 L405 492.2 L406 492.2 L407 492.2 L408 492.2 L409 492.2 L410 492.2 L411 492.3 L412 492.3 L413 492.3 L414 492.3 L415 492.4 L416 492.4 L417 492.5 L418 492.5 L419 492.6 L420 492.6 L421 492.7 L422 492.8 L423 492.8 L424 492.9 L425 493 L426 493.1 L427 493.3 L428 493.4 L429 493.5 L430 493.7 L431 493.8 L432 493.9 L433 494 L434 494.1 L435 494.1 L436 494.1 L437 494.1 L438 494.1 L439 494.1 L440 494.1 L441 494 L442 494 L443 494 L444 494 L445 494.1 L446 494.2 L447 494.3 L448 494.4 L449 494.5 L450 494.6 L451 494.7 L452 494.8 L453 495 L454 495 L455 495 L456 495 L457 495 L458 495 L459 494.9 L460 494.7 L461 494.6 L462 494.5 L463 494.3 L464 494.2 L465 494.2 L466 494.1 L467 494.1 L468 494 L469 494 L470 493.9 L471 493.9 L472 493.8 L473 493.8 L474 493.7 L475 493.7 L476 493.6 L477 493.6 L478 493.5 L479 493.5 L480 493.5 L481 493.4 L482 493.4 L483 493.3 L484 493.3 L485 493.2 L486 493.1 L487 493 L488 492.9 L489 492.9 L490 492.8 L491 492.7 L492 492.6 L493 492.5 L494 492.4 L495 492.3 L496 492.1 L497 492 L498 491.9 L499 491.7 L500 491.6 L501 491.5 L502 491.3 L503 491.2 L504 491.1 L505 491.1 L506 491 L507 491 L508 491 L509 491 L510 491 L511 491 L512 490.9 L513 490.9 L514 490.9 L515 490.8 L516 490.8 L517 490.7 L518 490.6 L519 490.6 L520 490.5 L521 490.5 L522 490.4 L523 490.3 L524 490.2 L525 490.1 L526 490 L527 489.9 L528 489.8 L529 489.7 L530 489.5 L531 489.4 L532 489.3 L533 489.2 L534 489.1 L535 489 L536 488.9 L537 488.8 L538 488.8 L539 488.7 L540 488.6 L541 488.6 L542 488.5 L543.1 488.5 L544.1 488.5 L545.1 488.6 L546.1 488.7 L547.1 488.7 L548.1 488.8 L549.2 488.9 L550.2 489 L551.2 489 L552.2 489.1 L553.2 489.2 L554.2 489.2 L555.3 489.2 L556.3 489.1 L557.3 489.1 L558.3 489 L559.3 489 L560.4 488.9 L561.4 488.9 L562.4 488.8 L563.4 488.8 L564.4 488.7 L565.4 488.7 L566.5 488.6 L567.5 488.6 L568.5 488.5 L569.5 488.5 L570.5 488.4 L571.5 488.4 L572.6 488.3 L573.6 488.3 L574.6 488.3 L575.6 488.3 L576.6 488.3 L577.6 488.3 L578.7 488.3 L579.7 488.3 L580.7 488.3 L581.7 488.2 L582.8 488.1 L583.8 487.9 L584.8 487.8 L585.9 487.6 L586.9 487.4 L587.9 487.2 L589 487 L590 486.8 L591 486.6 L592.1 486.4 L593.1 486.2 L594.1 486.1 L595.2 485.9 L596.2 485.8 L597.2 485.7 L598.3 485.6 L599.3 485.5 L600.3 485.4 L601.4 485.3 L602.4 485.2 L603.4 485.1 L604.5 485 L605.5 484.8 L606.5 484.6 L607.6 484.4 L608.6 484.2 L609.6 484.2 L610.6 484.2 L611.6 484.2 L612.6 484.1 L613.6 484.1 L614.6 484.1 L615.7 484.1 L616.7 484.1 L617.7 484.1 L618.7 484.1 L619.7 484 L620.7 484 L621.7 484 L622.7 484 L623.7 484 L624.7 484 L625.7 484.1 L626.7 484.2 L627.7 484.3 L628.7 484.5 L629.8 484.6 L630.8 484.7 L631.8 484.8 L632.8 484.9 L633.8 484.9 L634.8 485 L635.8 484.9 L636.8 484.9 L637.8 484.8 L638.8 484.7 L639.8 484.7 L640.8 484.6 L641.8 484.6 L642.9 484.5 L643.9 484.5 L644.9 484.5 L645.9 484.5 L646.9 484.6 L647.9 484.6 L648.9 484.7 L649.9 484.7 L650.9 484.8 L651.9 484.8 L652.9 484.9 L653.9 484.9 L654.9 484.9 L655.9 484.9 L657 484.9 L658 484.9 L659 484.9 L660 484.9 L661 484.9 L662 484.9 L663 484.9 L664 484.9 L665 485 L666 485.1 L667 485.2 L668 485.3 L669 485.4 L670 485.5 L671 485.6 L672 485.7 L673 485.7 L674 485.8 L675 485.8 L676 485.7 L677 485.7 L678 485.6 L679 485.6 L680 485.5 L681 485.5 L682 485.4 L683 485.4 L684 485.3 L685 485.4 L686 485.4 L687 485.5 L688 485.6 L689 485.6 L690 485.7 L691 485.7 L692 485.8 L693 485.9 L694 485.9 L695 485.9 L696 485.9 L697 485.8 L698 485.8 L699 485.8 L700 485.7 L701 485.7 L702 485.7 L703 485.6 L704 485.6 L705 485.6 L706 485.7 L707 485.7 L708 485.8 L709 485.8 L710 485.9 L711 485.9 L712 486 L713 486 L714 486.1 L715 486.1 L716 486.1 L717 486.2 L718 486.2 L719 486.2 L720 486.2 L721 486.3 L722 486.3 L723 486.3 L724 486.4 L725 486.4 L726 486.3 L727 486.3 L728 486.3 L729 486.3 L730 486.3 L731 486.3 L732 486.3 L733 486.3 L734 486.3 L735 486.3 L736 486.3 L737 486.3 L738 486.3 L739 486.2 L740 486.2 L741 486.2 L742 486.2 L743 486.2 L744 486.2 L745 486.2 L746 486.3 L747 486.3 L748 486.3 L749 486.3 L750 486.3 L751 486.3 L752 486.3 L753 486.3 L754 486.3 L755 486.3 L756 486.3 L757 486.3 L758 486.3 L759 486.3 L760 486.3 L761 486.3 L762 486.3 L763 486.3 L764 486.4 L765 486.4 L766 486.4 L767 486.4 L768 486.4 L769 486.5 L770 486.5 L771 486.5 L772 486.5 L773 486.6 L774 486.6 L775 486.5 L776 486.5 L777 486.4 L778 486.4 L779 486.3 L780 486.3 L781 486.2 L782 486.2 L783 486.2 L784 486.1 L785 486.2 L786 486.2 L787 486.2 L788 486.3 L789 486.3 L790 486.4 L791 486.4 L792 486.5 L793 486.5 L794 486.6 L795 486.6 L796 486.5 L797 486.5 L798 486.5 L799 486.5 L800 486.5 L801 486.4 L802 486.4 L803 486.4 L804 486.4 L805 486.5 L806 486.5 L807 486.6 L808 486.7 L809 486.8 L810 486.8 L811 486.9 L812 487 L813 487.1 L814 487.1 L815 487.2 L816 487.2 L817 487.2 L818 487.2 L819 487.2 L820 487.2 L821 487.2 L822 487.3 L823 487.3 L824 487.3 L825 487.2 L826 487.1 L827 487 L828 486.9 L829 486.8 L830 486.8 L831 486.7 L832 486.6 L833 486.5 L834 486.4 L835 486.4 L836 486.4 L837 486.4 L838 486.5 L839 486.5 L840 486.5 L841 486.5 L842 486.5 L843 486.5 L844 486.6 L845 486.6 L846 486.7 L847 486.8 L848 486.8 L849 486.9 L850 487 L851 487 L852 487.1 L853 487.2 L854 487.2 L855 487.2 L856 487.2 L857 487.2 L858 487.2 L859 487.2 L860 487.2 L861 487.2 L862 487.2 L863 487.2 L864 487.1 L865 487.1 L866 487 L867 487 L868 486.9 L869 486.9 L870 486.8 L871 486.8 L872 486.7 L873 486.7 L874 486.6 L875 486.7 L876 486.8 L877 486.9 L878 486.9 L879 487 L880 487.1 L881 487.2 L882 487.3 L883 487.3 L884 487.4 L885 487.5 L886 487.5 L887 487.5 L888 487.6 L889 487.6 L890 487.6 L891 487.7 L892 487.7 L893 487.7 L894 487.7 L895 487.7 L896 487.7 L897 487.6 L898 487.6 L899 487.5 L900 487.5 L901 487.4 L902 487.4 L903 487.3 L904 487.3 L905 487.2 L906 487.2 L907 487.2 L908 487.2 L909 487.2 L910 487.2 L911 487.2 L912 487.2 L913 487.2 L914 487.2 L915 487.3 L916 487.3 L917 487.3 L918 487.4 L919 487.4 L920 487.4 L921 487.4 L922 487.5 L923 487.5 L924 487.5 L925 487.6 L926 487.6 L927 487.7 L928 487.7 L929 487.8 L930 487.8 L931 487.9 L932 487.9 L933 488 L934 488 L935 487.9 L936 487.9 L937 487.8 L938 487.7 L939 487.7 L940 487.6 L941 487.5 L942 487.5 L943 487.4 L944 487.4 L945 487.3 L946 487.4 L947 487.4 L948 487.4 L949 487.4 L950 487.4 L951 487.4 L952 487.4 L953 487.4 L954 487.4 L955 487.4 L956 487.4 L957 487.4 L958 487.4 L959 487.4 L960 487.4 L961 487.4 L962 487.5 L963 487.5 L964 487.6 L965 487.6 L966 487.7 L967 487.8 L968 487.9 L969 488 L970 488.1 L971 488.2 L972 488.3 L973 488.4 L974 488.5 L975 488.5 L976 488.6 L977 488.6 L978 488.6 L979 488.7 L980 488.7 L981 488.7 L982 488.7 L983 488.8 L984 488.8 L985 488.8 L986 488.9 L987 488.9 L988 488.9 L989 488.9 L990 488.9 L991 489 L992 489 L993 489 L994 489.1 L995 489.1 L996 489.2 L997 489.2 L998 489.2 L999.1 489.1 L1000.1 488.9 L1001.2 488.7 L1002.3 488.5 L1003.4 488.3 L1004.5 488.1 L1005.5 487.9 L1006.6 487.6 L1007.7 487.4 L1008.8 487.1 L1009.8 486.9 L1010.9 487.2 L1011.9 488.7 L1012.9 490.9 L1014 493 L1015 495.2 L1016 497.4 L1017 499.7 L1018.1 502.4 L1019.2 505.3 L1020.3 508.2 L1021.4 511 L1022.5 513.9 L1023.6 515.5 L1024.7 514.5 L1025.9 512.3 L1027 510.3 L1028 509 L1029.1 507.9 L1030.2 506.9 L1031.2 506.5 L1032.4 507.5 L1033.6 509.2 L1034.8 510.9 L1036 512.5 L1037.2 514.1 L1038.5 515.8 L1039.7 517.5 L1040.9 518.4 L1041.9 517.4 L1043 515.6 L1044 513.8 L1045 512 L1046.1 510.1 L1047.2 508.1 L1048.2 506.2 L1049.3 504.2 L1050.4 502.2 L1051.5 500.5 L1052.6 499.2 L1053.6 498.1 L1054.7 497.1 L1055.8 496.1 L1056.8 495.1 L1057.9 494.1 L1058.9 493.2 L1060 492.3 L1061 491.8 L1062.1 491.4 L1063.1 491 L1064.1 490.5 L1065.2 490 L1066.2 489.5 L1067.2 488.9 L1068.3 488.4 L1069.3 488 L1070.3 487.8 L1071.3 487.7 L1072.3 487.7 L1073.3 487.6 L1074.3 487.6 L1075.3 487.5 L1076.3 487.5 L1077.3 487.5 L1078.3 487.5 L1079.3 487.5 L1080.3 487.5 L1081.3 487.5 L1082.3 487.5 L1083.3 487.5 L1084.3 487.5 L1085.3 487.4 L1086.3 487.4 L1087.4 487.4 L1088.4 487.4 L1089.4 487.4 L1090.4 487.3 L1091.4 487.3 L1092.4 487.3 L1093.4 487.3 L1094.4 487.3 L1095.4 487.3 L1096.4 487.3 L1097.4 487.3 L1098.4 487.3 L1099.4 487.4 L1100.4 487.4 L1101.4 487.4 L1102.4 487.4 L1103.4 487.4 L1104.4 487.4 L1105.4 487.4 L1106.4 487.4 L1107.4 487.5 L1108.4 487.5 L1109.4 487.5 L1110.4 487.5 L1111.4 487.5 L1112.4 487.5 L1113.4 487.5 L1114.4 487.5 L1115.4 487.5 L1116.4 487.5 L1117.4 487.5 L1118.4 487.5 L1119.4 487.5 L1120.4 487.6 L1121.4 487.6 L1122.4 487.6 L1123.5 487.6 L1124.5 487.6 L1125.5 487.7 L1126.5 487.8 L1127.5 487.8 L1128.5 487.9 L1129.5 488 L1130.5 488.1 L1131.5 488.1 L1132.5 488.2 L1133.5 488.3 L1134.5 488.3 L1135.5 488.2 L1136.5 488.2 L1137.5 488.1 L1138.5 488 L1139.5 488 L1140.5 487.9 L1141.5 487.8 L1142.5 487.8 L1143.5 487.7 L1144.5 487.7 L1145.5 487.7 L1146.5 487.7 L1147.5 487.7 L1148.5 487.7 L1149.5 487.7 L1150.5 487.7 L1151.5 487.7 L1152.5 487.7 L1153.5 487.7 L1154.5 487.7 L1155.5 487.8 L1156.5 487.8 L1157.5 487.8 L1158.5 487.9 L1159.6 487.9 L1160.6 488 L1161.6 488 L1162.6 488.1 L1163.6 488.1 L1164.6 488.1 L1165.6 488.2 L1166.6 488.2 L1167.6 488.2 L1168.6 488.3 L1169.6 488.3 L1170.6 488.4 L1171.6 488.4 L1172.6 488.4 L1173.6 488.5 L1174.6 488.4 L1175.6 488.4 L1176.6 488.3 L1177.6 488.3 L1178.6 488.2 L1179.6 488.1 L1180.6 488.1 L1181.6 488 L1182.6 487.9 L1183.6 487.9 L1184.6 487.9 L1185.6 487.9 L1186.6 488 L1187.6 488 L1188.6 488.1 L1189.6 488.1 L1190.6 488.2 L1191.6 488.3 L1192.6 488.3 L1193.6 488.3 L1194.6 488.3 L1195.7 488.3 L1196.7 488.3 L1197.7 488.2 L1198.7 488.2 L1199.7 488.2 L1200.7 488.1 L1201.7 488.1 L1202.7 488 L1203.7 488 L1204.7 488 L1205.7 488 L1206.7 488 L1207.7 488.1 L1208.7 488.1 L1209.7 488.1 L1210.7 488.1 L1211.7 488.2 L1212.7 488.2 L1213.7 488.2 L1214.7 488.2 L1215.7 488.2 L1216.7 488.2 L1217.7 488.3 L1218.7 488.3 L1219.7 488.3 L1220.7 488.3 L1221.7 488.3 L1222.7 488.3 L1223.7 488.3 L1224.7 488.3 L1225.7 488.4 L1226.7 488.4 L1227.7 488.5 L1228.7 488.5 L1229.7 488.5 L1230.7 488.6 L1231.8 488.6 L1232.8 488.7 L1233.8 488.7 L1234.8 488.7 L1235.8 488.7 L1236.8 488.7 L1237.8 488.6 L1238.8 488.6 L1239.8 488.6 L1240.8 488.6 L1241.8 488.6 L1242.8 488.6 L1243.8 488.5 L1244.8 488.5 L1245.8 488.5 L1246.8 488.5 L1247.8 488.4 L1248.8 488.4 L1249.8 488.4 L1250.8 488.4 L1251.8 488.3 L1252.8 488.3 L1253.8 488.3 L1254.8 488.3 L1255.8 488.4 L1256.8 488.4 L1257.8 488.4 L1258.8 488.5 L1259.8 488.5 L1260.8 488.6 L1261.8 488.6 L1262.8 488.6 L1263.8 488.7 L1264.8 488.6 L1265.8 488.6 L1266.8 488.6 L1267.9 488.5 L1268.9 488.5 L1269.9 488.4 L1270.9 488.4 L1271.9 488.3 L1272.9 488.3 L1273.9 488.2 L1274.9 488.2 L1275.9 488.2 L1276.9 488.2 L1277.9 488.2 L1278.9 488.2 L1279.9 488.2 L1280.9 488.2 L1281.9 488.2 L1282.9 488.2 L1283.9 488.3 L1284.9 488.3 L1285.9 488.4 L1286.9 488.4 L1287.9 488.5 L1288.9 488.6 L1289.9 488.6 L1290.9 488.7 L1291.9 488.8 L1292.9 488.8 L1293.9 488.9 L1294.9 488.9 L1295.9 488.8 L1296.9 488.8 L1297.9 488.8 L1298.9 488.7 L1299.9 488.7 L1300.9 488.6 L1301.9 488.6 L1302.9 488.5 L1304 488.5 L1305 488.5 L1306 488.6 L1307 488.6 L1308 488.6 L1309 488.6 L1310 488.7 L1311 488.7 L1312 488.7 L1313 488.7 L1314 488.8 L1315 488.7 L1316 488.7 L1317 488.6 L1318 488.6 L1319 488.5 L1320 488.5 L1321 488.6 L1322.1 488.8 L1323.1 489.2 L1324.2 489.6 L1325.3 490.1 L1326.3 490.6 L1327.4 491.1 L1328.5 491.6 L1329.5 492.1 L1330.6 492.6 L1331.7 493.1 L1332.7 493.5 L1333.8 493.9 L1334.8 493.9 L1335.8 493.8 L1336.8 493.6 L1337.9 493.5 L1338.9 493.4 L1339.9 493.2 L1340.9 493.1 L1341.9 492.9 L1342.9 492.8 L1343.9 492.7 L1344.9 492.5 L1346 492.4 L1347 492.2 L1348 492.1 L1349 491.9 L1350 491.7 L1351.1 491.5 L1352.1 491.3 L1353.2 491.1 L1354.2 490.9 L1355.3 490.8 L1356.3 490.7 L1357.4 490.6 L1358.4 490.5 L1359.5 490.4 L1360.5 490.3 L1361.6 490.2 L1362.6 490.1 L1363.7 490 L1364.7 489.8 L1365.8 489.6 L1366.8 489.4 L1367.8 489.3 L1368.8 489.3 L1369.8 489.2 L1370.9 489.2 L1371.9 489.2 L1372.9 489.2 L1373.9 489.1 L1374.9 489.1 L1375.9 489.1 L1377 489.2 L1378 489.2 L1379 489.2 L1380 489.2 L1381 489.2 L1382 489.2 L1383 489.2 L1384 489.2 L1385 489.2 L1386 489.2 L1387 489.2 L1388 489.2 L1389 489.2 L1390 489.2 L1391 489.2 L1392 489.2 L1393 489.3 L1394 489.3 L1395 489.3 L1396 489.3 L1397 489.3 L1398 489.3 L1399 489.3 L1400 489.3 L1401 489.3 L1402 489.3 L1403 489.3 L1404 489.3 L1405 489.3 L1406 489.3 L1407 489.3 L1408 489.4 L1409 489.4 L1410 489.4 L1411 489.4 L1412 489.5 L1413 489.5 L1414 489.5 L1415 489.6 L1416 489.7 L1417 489.7 L1418 489.8 L1419 489.9 L1420 489.9 L1421 490 L1422 490.1 L1423 490.2 L1424 490.2 L1425 490.2 L1426 490.1 L1427 490.1 L1428 490 L1429 490 L1430 490 L1431 489.9 L1432 489.9 L1433 489.8 L1434 489.8 L1435 489.8 L1436 489.8 L1437 489.9 L1438 489.9 L1439 489.9 L1440 490 L1441 490 L1442 490 L1443 490 L1444 490.1 L1445 490.1 L1446 490.1 L1447 490.2 L1448 490.2 L1449 490.3 L1450 490.3 L1451 490.3 L1452 490.4 L1453 490.4 L1454 490.4 L1455 490.5 L1456 490.5 L1457 490.5 L1458 490.5 L1459 490.6 L1460 490.6 L1461 490.6 L1462 490.7 L1463 490.7 L1464 490.7 L1465 490.7 L1466 490.7 L1467 490.7 L1468 490.7 L1469 490.7 L1470 490.7 L1471 490.7 L1472 490.7 L1473 490.7 L1474 490.7 L1475 490.7 L1476 490.8 L1477 490.9 L1478 490.9 L1479 490.9 L1480 490.8 L1481 490.7 L1482 490.5 L1483.1 490.4 L1484.1 490.2 L1485.1 490 L1486.1 489.7 L1487.1 489.5 L1488.2 489.2 L1489.2 489 L1490.2 488.7 L1491.2 488.5 L1492.2 488.2 L1493.2 488 L1494.2 487.7 L1495.3 487.5 L1496.3 487.4 L1497.3 487.2 L1498.3 487.2 L1499.3 487.2 L1500.3 487.2 L1501.3 487.3 L1502.3 487.3 L1503.3 487.3 L1504.3 487.3 L1505.3 487.3 L1506.3 487.4 L1507.4 487.4 L1508.4 487.4 L1509.4 487.4 L1510.4 487.4 L1511.4 487.4 L1512.4 487.4 L1513.4 487.5 L1514.4 487.4 L1515.4 487.4 L1516.4 487.4 L1517.4 487.4 L1518.4 487.4 L1519.4 487.3 L1520.4 487.3 L1521.4 487.3 L1522.4 487.3 L1523.4 487.2 L1524.4 487.2 L1525.4 487.3 L1526.5 487.3 L1527.5 487.3 L1528.5 487.3 L1529.5 487.3 L1530.5 487.4 L1531.5 487.4 L1532.5 487.4 L1533.5 487.4 L1534.5 487.4 L1535.5 487.4 L1536.5 487.4 L1537.5 487.4 L1538.5 487.4 L1539.5 487.4 L1540.5 487.4 L1541.5 487.4 L1542.5 487.4 L1543.5 487.4 L1544.5 487.5 L1545.5 487.5 L1546.6 487.6 L1547.6 487.7 L1548.6 487.8 L1549.6 487.8 L1550.6 487.9 L1551.6 488 L1552.6 488 L1553.6 488.1 L1554.6 488.1 L1555.6 488.1 L1556.6 488 L1557.6 488 L1558.6 487.9 L1559.6 487.8 L1560.6 487.8 L1561.6 487.7 L1562.6 487.7 L1563.6 487.6 L1564.6 487.7 L1565.7 487.7 L1566.7 487.8 L1567.7 487.8 L1568.7 487.9 L1569.7 488 L1570.7 488 L1571.7 488.1 L1572.7 488.2 L1573.7 488.2 L1574.7 488.2 L1575.7 488.2 L1576.7 488.2 L1577.7 488.1 L1578.7 488.1 L1579.7 488 L1580.7 488 L1581.7 488 L1582.7 487.9 L1583.7 487.9 L1584.8 487.9 L1585.8 488 L1586.8 488 L1587.8 488.1 L1588.8 488.1 L1589.8 488.2 L1590.8 488.2 L1591.8 488.3 L1592.8 488.3 L1593.8 488.4 L1594.8 488.4 L1595.8 488.4 L1596.8 488.4 L1597.8 488.5 L1598.8 488.5 L1599.8 488.5 L1600.8 488.5 L1601.8 488.5 L1602.8 488.5 L1603.8 488.5 L1604.9 488.5 L1605.9 488.5 L1606.9 488.4 L1607.9 488.4 L1608.9 488.4 L1609.9 488.4 L1610.9 488.3 L1611.9 488.3 L1612.9 488.3 L1613.9 488.3 L1614.9 488.3 L1615.9 488.4 L1616.9 488.5 L1617.9 488.6 L1618.9 488.6 L1619.9 488.7 L1620.9 488.8 L1621.9 488.8 L1622.9 488.9 L1624 489 L1625 489 L1626 489 L1627 488.9 L1628 488.9 L1629 488.9 L1630 488.9 L1631 488.8 L1632 488.8 L1633 488.8 L1634 488.9 L1635 489 L1636 489.1 L1637 489.1 L1638 489.2 L1639 489.3 L1640 489.4 L1641 489.5 L1642 489.6 L1643 489.7 L1644 489.8 L1645 489.8 L1646 489.9 L1647 489.9 L1648 489.9 L1649 490 L1650 490 L1651 490.1 L1652 490.1 L1653 490.2 L1654 490.2 L1655 490.3 L1656 490.5 L1657 490.5 L1658 490.6 L1659 490.6 L1660 490.6 L1661 490.7 L1662 490.7 L1663 490.8 L1664 490.8 L1665 490.8 L1666 490.8 L1667 490.8 L1668 490.7 L1669 490.7 L1670 490.7 L1671 490.7 L1672 490.7 L1673 490.7 L1674 490.7 L1675 490.7 L1676 490.7 L1677 490.7 L1678 490.7 L1679 490.8 L1680 491 L1681.1 491.3 L1682.1 491.5 L1683.2 491.8 L1684.2 492 L1685.2 492.3 L1686.3 492.6 L1687.3 492.9 L1688.4 493.2 L1689.4 493.4 L1690.4 493.7 L1691.5 494 L1692.5 494.3 L1693.6 494.6 L1694.6 494.8 L1695.6 495 L1696.7 495.3 L1697.7 495.5 L1698.8 495.7 L1699.8 495.9 L1700.8 495.9 L1701.8 495.9 L1702.9 495.8 L1703.9 495.8 L1704.9 495.7 L1705.9 495.6 L1707 495.4 L1708 495.3 L1709 495.2 L1710 495.1 L1711 495 L1712.1 494.9 L1713.1 494.7 L1714.1 494.7 L1715.1 494.7 L1716.2 494.7 L1717.2 494.8 L1718.2 494.8 L1719.3 494.6 L1720.3 494.5 L1721.4 494.3 L1722.4 494.2 L1723.5 494 L1724.6 493.8 L1725.6 493.6 L1726.7 493.4 L1727.8 493.2 L1728.8 493 L1729.9 492.8 L1730.9 492.6 L1732 492.5 L1733 492.4 L1734 492.4 L1735 492.4 L1736 492.3 L1737 492.2 L1738 492.1 L1739 492.1 L1740 492 L1741 491.9 L1742 491.9 L1743 491.8 L1744 491.7 L1745 491.7 L1746 491.6 L1747 491.5" fill="none" stroke="#f2a262" stroke-width="4.6" stroke-linejoin="round" stroke-linecap="round"/>
<path d="M145 595.2 L146 595.5 L147 595.7 L148 595.9 L149 596.2 L150 596.5 L151 597 L152 597.5 L153 597.6 L154 597.5 L155 597.4 L156 597.4 L157 597.3 L158 597.2 L159 597.1 L160 597.2 L161 597.6 L162 598.2 L163 598.7 L164 599.3 L165 599.7 L166 600 L167 600 L168 600 L169 599.6 L170 599 L171 598.5 L172 597.9 L173 597.4 L174 596.8 L175 596.3 L176 595.9 L177 595.8 L178 596 L179 596.1 L180 596.4 L181 596.8 L182 597.2 L183 597.7 L184 597.9 L185 597.7 L186 597.3 L187 596.8 L188 596.4 L189 596 L190 595.5 L191 595.1 L192 594.9 L193 595.1 L194 595.6 L195 596.1 L196 596.6 L197 597.1 L198 597.6 L199 598 L200 598.4 L201 598.6 L202 598.7 L203 598.8 L204 598.9 L205 599 L206 599.1 L207 599.2 L208 599.4 L209 599.6 L210 599.9 L211 600.2 L212 600.5 L213 600.8 L214 601.1 L215 601.3 L216 601.6 L217 601.8 L218 602 L219 602.2 L220 602.4 L221 602.6 L222 602.8 L223 603 L224 603.1 L225 603 L226 602.6 L227 602 L228 601.2 L229 600.4 L230 599.6 L231 598.9 L232 598.2 L233 597.8 L234 597.4 L235 597.1 L236 596.7 L237 596.4 L238 596 L239 595.7 L240 595.5 L241 595.7 L242 596.1 L243 596.5 L244 596.9 L245 597.3 L246 597.7 L247 598 L248 598.3 L249 598.4 L250 598.4 L251 598.4 L252 598.4 L253 598.4 L254 598.3 L255 598.3 L256 598.4 L257 598.5 L258 598.7 L259 598.9 L260 599 L261 599 L262 598.9 L263 598.7 L264 598.6 L265 598.5 L266 598.4 L267 598.3 L268 598.1 L269 598 L270 597.9 L271 597.8 L272 597.7 L273 597.9 L274 598.1 L275 598.3 L276 598.5 L277 598.7 L278 598.9 L279 599.1 L280 599.3 L281 599.2 L282 599.2 L283 599.2 L284 599.2 L285 599.2 L286 599.2 L287 599.2 L288 599.2 L289 599.2 L290 599.2 L291 599.1 L292 599.1 L293 599.1 L294 599 L295 599 L296 598.9 L297 598.7 L298 598.4 L299 598.1 L300 597.8 L301 597.5 L302 597.3 L303 597 L304 596.9 L305 597.1 L306 597.4 L307 597.8 L308 598.1 L309 598.5 L310 598.8 L311 599.2 L312 599.4 L313 599.3 L314 599.1 L315 598.9 L316 598.7 L317 598.5 L318 598.3 L319 598.1 L320 597.9 L321 597.8 L322 597.7 L323 597.5 L324 597.4 L325 597.2 L326 597.1 L327 597 L328 596.9 L329 597 L330 597.1 L331 597.2 L332 597.3 L333 597.4 L334 597.5 L335 597.7 L336 597.7 L337 597.8 L338 597.7 L339 597.7 L340 597.7 L341 597.7 L342 597.7 L343 597.7 L344 597.6 L345 597.5 L346 597.3 L347 597.2 L348 597 L349 596.8 L350 596.7 L351 596.5 L352 596.4 L353 596.6 L354 596.8 L355 597.1 L356 597.3 L357 597.6 L358 597.8 L359 598.1 L360 598.2 L361 598.2 L362 598.1 L363 598 L364 597.9 L365 597.8 L366 597.7 L367 597.6 L368 597.6 L369 597.7 L370 597.8 L371 597.9 L372 598 L373 598.1 L374 598.2 L375 598.3 L376 598.4 L377 598.6 L378 598.8 L379 598.8 L380 598.6 L381 598.5 L382 598.6 L383 598.6 L384 598.7 L385 598.7 L386 598.6 L387 598.6 L388 598.5 L389 598.5 L390 598.5 L391 598.4 L392 598.4 L393 598.4 L394 598.3 L395 598.3 L396 598.3 L397 598.2 L398 598.2 L399 598.2 L400 598.2 L401 598.2 L402 598.3 L403 598.4 L404 598.4 L405 598.5 L406 598.6 L407 598.7 L408 598.7 L409 598.7 L410 598.8 L411 598.8 L412 598.8 L413 598.8 L414 598.9 L415 598.9 L416 598.9 L417 598.8 L418 598.8 L419 598.7 L420 598.6 L421 598.6 L422 598.5 L423 598.4 L424 598.4 L425 598.4 L426 598.5 L427 598.6 L428 598.6 L429 598.7 L430 598.8 L431 598.9 L432 598.9 L433 598.8 L434 598.7 L435 598.5 L436 598.4 L437 598.3 L438 598.1 L439 598 L440 597.9 L441 597.9 L442 597.9 L443 597.9 L444 598 L445 598 L446 598 L447 598 L448 598 L449 598.1 L450 598.1 L451 598.1 L452 598.1 L453 598.1 L454 598.1 L455 598.1 L456 598.1 L457 598.2 L458 598.4 L459 598.5 L460 598.6 L461 598.7 L462 598.8 L463 599 L464 599 L465 599 L466 599 L467 599 L468 598.9 L469 598.9 L470 598.9 L471 598.8 L472 598.8 L473 598.8 L474 598.8 L475 598.8 L476 598.9 L477 598.9 L478 598.9 L479 598.9 L480 598.9 L481 598.8 L482 598.8 L483 598.7 L484 598.6 L485 598.6 L486 598.5 L487 598.5 L488 598.4 L489 598.4 L490 598.5 L491 598.5 L492 598.6 L493 598.6 L494 598.6 L495 598.7 L496 598.7 L497 598.8 L498 598.8 L499 598.9 L500 598.9 L501 599 L502 599.1 L503 599.1 L504 599.2 L505 599.1 L506 599 L507 598.9 L508 598.7 L509 598.6 L510 598.5 L511 598.4 L512 598.3 L513 598.3 L514 598.3 L515 598.3 L516 598.3 L517 598.3 L518 598.3 L519 598.3 L520 598.3 L521 598.3 L522 598.3 L523 598.3 L524 598.3 L525 598.3 L526 598.3 L527 598.3 L528 598.3 L529 598.4 L530 598.4 L531 598.5 L532 598.6 L533 598.6 L534 598.7 L535 598.8 L536 598.8 L537 598.9 L538 599 L539 599 L540 599.1 L541 599.2 L542 599.2 L543 599.3 L544 599.3 L545 599.3 L546 599.3 L547 599.2 L548 599.2 L549 599.1 L550 599.1 L551 599.1 L552 599 L553 599 L554 599 L555 599 L556 599 L557 598.9 L558 598.9 L559 598.9 L560 598.9 L561 598.9 L562 598.9 L563 598.9 L564 598.9 L565 599 L566 599 L567 599 L568 599 L569 599 L570 598.9 L571 598.9 L572 598.8 L573 598.8 L574 598.7 L575 598.7 L576 598.7 L577 598.8 L578 598.9 L579 599 L580 599.1 L581 599.2 L582 599.3 L583 599.5 L584 599.5 L585 599.5 L586 599.4 L587 599.3 L588 599.2 L589 599.1 L590 599 L591 599 L592 598.9 L593 598.9 L594 598.8 L595 598.8 L596 598.8 L597 598.8 L598 598.8 L599 598.8 L600 598.7 L601 598.8 L602 598.8 L603 598.8 L604 598.8 L605 598.8 L606 598.8 L607 598.8 L608 598.9 L609 598.9 L610 599 L611 599.1 L612 599.2 L613 599.2 L614 599.3 L615 599.4 L616 599.4 L617 599.4 L618 599.3 L619 599.3 L620 599.2 L621 599.1 L622 599 L623 599 L624 598.9 L625 599 L626 599.1 L627 599.1 L628 599.2 L629 599.3 L630 599.4 L631 599.5 L632 599.6 L633 599.5 L634 599.4 L635 599.3 L636 599.3 L637 599.2 L638 599.1 L639 599 L640 598.9 L641 598.9 L642 599 L643 599 L644 599 L645 599 L646 599 L647 599 L648 599 L649 599 L650 599 L651 598.9 L652 598.8 L653 598.8 L654 598.7 L655 598.7 L656 598.7 L657 598.8 L658 598.9 L659 599 L660 599.1 L661 599.3 L662 599.4 L663 599.5 L664 599.6 L665 599.6 L666 599.6 L667 599.6 L668 599.6 L669 599.6 L670 599.6 L671 599.5 L672 599.5 L673 599.5 L674 599.4 L675 599.4 L676 599.3 L677 599.3 L678 599.2 L679 599.2 L680 599.1 L681 599.1 L682 599 L683 599 L684 598.9 L685 598.9 L686 598.8 L687 598.8 L688 598.8 L689 598.8 L690 598.8 L691 598.9 L692 599 L693 599 L694 599.1 L695 599.1 L696 599.2 L697 599.2 L698 599.2 L699 599.1 L700 599.1 L701 599.1 L702 599.1 L703 599.1 L704 599.1 L705 599.1 L706 599.2 L707 599.3 L708 599.4 L709 599.4 L710 599.5 L711 599.6 L712 599.6 L713 599.7 L714 599.7 L715 599.7 L716 599.7 L717 599.7 L718 599.7 L719 599.7 L720 599.7 L721 599.7 L722 599.7 L723 599.7 L724 599.6 L725 599.6 L726 599.6 L727 599.6 L728 599.5 L729 599.5 L730 599.4 L731 599.3 L732 599.3 L733 599.2 L734 599.1 L735 599.1 L736 599 L737 599 L738 598.9 L739 598.9 L740 598.9 L741 598.8 L742 598.8 L743 598.8 L744 598.8 L745 598.9 L746 599 L747 599.1 L748 599.2 L749 599.4 L750 599.5 L751 599.6 L752 599.7 L753 599.8 L754 599.8 L755 599.8 L756 599.8 L757 599.8 L758 599.8 L759 599.8 L760 599.8 L761 599.7 L762 599.6 L763 599.5 L764 599.4 L765 599.3 L766 599.1 L767 599 L768 598.9 L769 599 L770 599 L771 599.1 L772 599.1 L773 599.2 L774 599.2 L775 599.3 L776 599.3 L777 599.3 L778 599.3 L779 599.3 L780 599.3 L781 599.3 L782 599.3 L783 599.3 L784 599.3 L785 599.4 L786 599.5 L787 599.5 L788 599.6 L789 599.7 L790 599.8 L791 599.8 L792 599.9 L793 599.8 L794 599.6 L795 599.5 L796 599.4 L797 599.2 L798 599.1 L799 599 L800 598.8 L801 598.8 L802 598.8 L803 598.8 L804 598.8 L805 598.8 L806 598.8 L807 598.8 L808 598.9 L809 599 L810 599.1 L811 599.2 L812 599.3 L813 599.4 L814 599.6 L815 599.7 L816 599.8 L817 599.8 L818 599.7 L819 599.7 L820 599.6 L821 599.6 L822 599.6 L823 599.5 L824 599.5 L825 599.5 L826 599.5 L827 599.4 L828 599.4 L829 599.4 L830 599.4 L831 599.4 L832 599.4 L833 599.4 L834 599.5 L835 599.5 L836 599.6 L837 599.6 L838 599.7 L839 599.7 L840 599.7 L841 599.7 L842 599.7 L843 599.7 L844 599.6 L845 599.6 L846 599.6 L847 599.6 L848 599.6 L849 599.6 L850 599.6 L851 599.6 L852 599.6 L853 599.6 L854 599.6 L855 599.7 L856 599.7 L857 599.6 L858 599.5 L859 599.5 L860 599.4 L861 599.4 L862 599.3 L863 599.2 L864 599.2 L865 599.1 L866 599.1 L867 599.1 L868 599.1 L869 599 L870 599 L871 599 L872 599 L873 599 L874 599 L875 598.9 L876 598.9 L877 598.9 L878 598.9 L879 598.9 L880 598.9 L881 598.9 L882 599 L883 599 L884 599.1 L885 599.1 L886 599.2 L887 599.2 L888 599.3 L889 599.3 L890 599.4 L891 599.4 L892 599.5 L893 599.5 L894 599.6 L895 599.6 L896 599.7 L897 599.6 L898 599.6 L899 599.6 L900 599.5 L901 599.5 L902 599.4 L903 599.4 L904 599.4 L905 599.4 L906 599.4 L907 599.4 L908 599.4 L909 599.4 L910 599.4 L911 599.3 L912 599.4 L913 599.4 L914 599.4 L915 599.5 L916 599.5 L917 599.6 L918 599.6 L919 599.6 L920 599.7 L921 599.7 L922 599.7 L923 599.7 L924 599.7 L925 599.8 L926 599.8 L927 599.8 L928 599.8 L929 599.8 L930 599.8 L931 599.8 L932 599.7 L933 599.7 L934 599.7 L935 599.7 L936 599.7 L937 599.6 L938 599.6 L939 599.6 L940 599.5 L941 599.5 L942 599.4 L943 599.4 L944 599.4 L945 599.4 L946 599.5 L947 599.6 L948 599.7 L949 599.7 L950 599.8 L951 599.9 L952 600 L953 600 L954 600 L955 600 L956 600 L957 600 L958 600 L959 600 L960 600 L961 600 L962 600.1 L963 600.2 L964 600.3 L965 600.3 L966 600.4 L967 600.5 L968 600.6 L969 600.6 L970 600.7 L971 600.8 L972 600.8 L973 600.9 L974 601 L975 601 L976 601 L977 601 L978 600.9 L979 600.9 L980 600.8 L981 600.7 L982 600.7 L983 600.6 L984 600.6 L985 600.7 L986 600.9 L987 601 L988 601.2 L989 601.3 L990 601.5 L991 601.7 L992 601.8 L993 601.8 L994 601.9 L995 601.9 L996 601.9 L997 601.9 L998 601.8 L999.1 601.6 L1000.1 601.2 L1001.2 601 L1002.2 600.7 L1003.3 600.4 L1004.3 600.1 L1005.4 599.8 L1006.4 599.5 L1007.5 599.2 L1008.5 599 L1009.6 599.3 L1010.7 600.9 L1011.7 603.1 L1012.8 605.4 L1013.9 607.6 L1014.9 609.8 L1016 612 L1017 614.3 L1018.1 616.7 L1019.1 619 L1020.2 621.3 L1021.2 623.6 L1022.3 625 L1023.5 624.6 L1024.7 623.2 L1025.8 621.9 L1027 620.9 L1028 620.6 L1029.1 620.5 L1030.2 620.4 L1031.2 620.7 L1032.4 621.5 L1033.6 622.7 L1034.8 623.9 L1036 625.1 L1037.1 626.3 L1038.2 627.4 L1039.2 628.5 L1040.3 629.5 L1041.4 629.7 L1042.5 628.2 L1043.6 625.9 L1044.7 623.6 L1045.8 621.3 L1046.9 619.1 L1048 617 L1049.1 615.5 L1050.2 614.2 L1051.2 613 L1052.3 611.7 L1053.4 610.4 L1054.4 609.1 L1055.5 607.8 L1056.6 606.7 L1057.7 606 L1058.7 605.5 L1059.8 605 L1060.8 604.5 L1061.9 604 L1062.9 603.5 L1064 602.9 L1065.1 602.4 L1066.1 601.9 L1067.2 601.4 L1068.2 600.9 L1069.3 600.4 L1070.3 600.3 L1071.3 600.2 L1072.3 600.2 L1073.3 600.2 L1074.3 600.2 L1075.3 600.2 L1076.3 600.2 L1077.3 600.2 L1078.3 600.2 L1079.3 600.2 L1080.3 600.2 L1081.3 600.3 L1082.3 600.3 L1083.3 600.4 L1084.3 600.4 L1085.3 600.5 L1086.3 600.5 L1087.4 600.6 L1088.4 600.6 L1089.4 600.6 L1090.4 600.6 L1091.4 600.7 L1092.4 600.7 L1093.4 600.7 L1094.4 600.7 L1095.4 600.7 L1096.4 600.7 L1097.4 600.7 L1098.4 600.6 L1099.4 600.6 L1100.4 600.5 L1101.4 600.5 L1102.4 600.4 L1103.4 600.4 L1104.4 600.3 L1105.4 600.3 L1106.4 600.3 L1107.4 600.2 L1108.4 600.2 L1109.4 600.1 L1110.4 600.1 L1111.4 600.1 L1112.4 600.1 L1113.4 600.1 L1114.4 600.1 L1115.4 600.1 L1116.4 600.1 L1117.4 600.2 L1118.4 600.2 L1119.4 600.2 L1120.4 600.3 L1121.4 600.4 L1122.4 600.5 L1123.5 600.6 L1124.5 600.7 L1125.5 600.8 L1126.5 600.9 L1127.5 601 L1128.5 601 L1129.5 601 L1130.5 601 L1131.5 601 L1132.5 601 L1133.5 601 L1134.5 601 L1135.5 600.9 L1136.5 600.9 L1137.5 600.8 L1138.5 600.7 L1139.5 600.6 L1140.5 600.5 L1141.5 600.4 L1142.5 600.4 L1143.5 600.3 L1144.5 600.3 L1145.5 600.4 L1146.5 600.5 L1147.5 600.6 L1148.5 600.7 L1149.5 600.9 L1150.5 601 L1151.5 601.1 L1152.5 601.1 L1153.5 601.1 L1154.5 601 L1155.5 601 L1156.5 601 L1157.5 600.9 L1158.5 600.9 L1159.6 600.9 L1160.6 600.8 L1161.6 600.8 L1162.6 600.8 L1163.6 600.7 L1164.6 600.7 L1165.6 600.7 L1166.6 600.6 L1167.6 600.6 L1168.6 600.7 L1169.6 600.7 L1170.6 600.8 L1171.6 600.9 L1172.6 601 L1173.6 601.1 L1174.6 601.2 L1175.6 601.2 L1176.6 601.2 L1177.6 601.1 L1178.6 601 L1179.6 600.9 L1180.6 600.8 L1181.6 600.7 L1182.6 600.6 L1183.6 600.5 L1184.6 600.4 L1185.6 600.4 L1186.6 600.4 L1187.6 600.4 L1188.6 600.4 L1189.6 600.4 L1190.6 600.4 L1191.6 600.4 L1192.6 600.4 L1193.6 600.5 L1194.6 600.5 L1195.7 600.6 L1196.7 600.6 L1197.7 600.6 L1198.7 600.7 L1199.7 600.7 L1200.7 600.8 L1201.7 600.8 L1202.7 600.9 L1203.7 601 L1204.7 601 L1205.7 601.1 L1206.7 601.2 L1207.7 601.2 L1208.7 601.2 L1209.7 601.2 L1210.7 601.2 L1211.7 601.1 L1212.7 601.1 L1213.7 601.1 L1214.7 601.1 L1215.7 601.1 L1216.7 601 L1217.7 601 L1218.7 601 L1219.7 601 L1220.7 601 L1221.7 601 L1222.7 601 L1223.7 601 L1224.7 601 L1225.7 601.1 L1226.7 601.2 L1227.7 601.2 L1228.7 601.3 L1229.7 601.4 L1230.7 601.5 L1231.8 601.5 L1232.8 601.5 L1233.8 601.4 L1234.8 601.3 L1235.8 601.3 L1236.8 601.2 L1237.8 601.1 L1238.8 601 L1239.8 601 L1240.8 601 L1241.8 601.1 L1242.8 601.1 L1243.8 601.2 L1244.8 601.3 L1245.8 601.3 L1246.8 601.4 L1247.8 601.4 L1248.8 601.4 L1249.8 601.3 L1250.8 601.1 L1251.8 601 L1252.8 600.9 L1253.8 600.8 L1254.8 600.7 L1255.8 600.6 L1256.8 600.7 L1257.8 600.8 L1258.8 600.9 L1259.8 601 L1260.8 601.1 L1261.8 601.3 L1262.8 601.4 L1263.8 601.4 L1264.8 601.4 L1265.8 601.3 L1266.8 601.3 L1267.9 601.2 L1268.9 601.1 L1269.9 601 L1270.9 600.9 L1271.9 600.8 L1272.9 600.9 L1273.9 600.9 L1274.9 601 L1275.9 601.1 L1276.9 601.2 L1277.9 601.3 L1278.9 601.3 L1279.9 601.4 L1280.9 601.5 L1281.9 601.5 L1282.9 601.5 L1283.9 601.5 L1284.9 601.6 L1285.9 601.6 L1286.9 601.6 L1287.9 601.7 L1288.9 601.7 L1289.9 601.6 L1290.9 601.6 L1291.9 601.6 L1292.9 601.6 L1293.9 601.5 L1294.9 601.5 L1295.9 601.5 L1296.9 601.5 L1297.9 601.5 L1298.9 601.5 L1299.9 601.5 L1300.9 601.5 L1301.9 601.4 L1302.9 601.4 L1304 601.4 L1305 601.4 L1306 601.4 L1307 601.4 L1308 601.4 L1309 601.4 L1310 601.4 L1311 601.4 L1312 601.4 L1313 601.5 L1314 601.5 L1315 601.5 L1316 601.6 L1317 601.6 L1318 601.6 L1319 601.7 L1320 601.7 L1321 601.7 L1322 601.9 L1323 602.2 L1324.1 602.5 L1325.1 602.8 L1326.1 603.1 L1327.1 603.3 L1328.1 603.6 L1329.2 603.9 L1330.2 604.3 L1331.2 604.6 L1332.2 604.9 L1333.2 605.2 L1334.3 605.5 L1335.3 605.9 L1336.3 606.1 L1337.3 606.2 L1338.4 606.2 L1339.4 606.2 L1340.5 606.1 L1341.5 606.1 L1342.5 606.1 L1343.6 606.1 L1344.6 606 L1345.7 606 L1346.7 605.9 L1347.8 605.8 L1348.8 605.8 L1349.8 605.7 L1350.9 605.6 L1351.9 605.5 L1353 605.4 L1354 605.2 L1355.1 605 L1356.1 604.6 L1357.2 604.3 L1358.3 603.9 L1359.3 603.6 L1360.4 603.3 L1361.5 603 L1362.5 602.8 L1363.6 602.6 L1364.7 602.4 L1365.7 602.2 L1366.8 602 L1367.8 602 L1368.8 602 L1369.8 602 L1370.9 602 L1371.9 602 L1372.9 602 L1373.9 602 L1374.9 602 L1375.9 602 L1377 601.9 L1378 601.9 L1379 601.8 L1380 601.8 L1381 601.7 L1382 601.7 L1383 601.7 L1384 601.7 L1385 601.8 L1386 601.9 L1387 601.9 L1388 602 L1389 602.1 L1390 602.2 L1391 602.3 L1392 602.4 L1393 602.5 L1394 602.5 L1395 602.5 L1396 602.6 L1397 602.6 L1398 602.6 L1399 602.6 L1400 602.6 L1401 602.6 L1402 602.6 L1403 602.5 L1404 602.5 L1405 602.4 L1406 602.4 L1407 602.3 L1408 602.3 L1409 602.4 L1410 602.4 L1411 602.5 L1412 602.6 L1413 602.7 L1414 602.8 L1415 602.9 L1416 603 L1417 603.1 L1418 603.1 L1419 603.1 L1420 603.2 L1421 603.2 L1422 603.2 L1423 603.3 L1424 603.3 L1425 603.3 L1426 603.2 L1427 603.2 L1428 603.2 L1429 603.1 L1430 603.1 L1431 603.1 L1432 603 L1433 603 L1434 603 L1435 603 L1436 602.9 L1437 602.9 L1438 602.9 L1439 602.9 L1440 602.9 L1441 602.9 L1442 602.9 L1443 602.8 L1444 602.8 L1445 602.8 L1446 602.8 L1447 602.8 L1448 602.8 L1449 602.8 L1450 602.8 L1451 602.8 L1452 602.8 L1453 602.8 L1454 602.8 L1455 602.8 L1456 602.8 L1457 602.8 L1458 602.9 L1459 602.9 L1460 602.9 L1461 603 L1462 603 L1463 603 L1464 603.1 L1465 603.2 L1466 603.3 L1467 603.5 L1468 603.6 L1469 603.7 L1470 603.8 L1471 604 L1472 604 L1473 604 L1474 603.8 L1475 603.7 L1476 603.6 L1477 603.5 L1478 603.3 L1479 603.2 L1480 602.9 L1481 602.8 L1482 602.7 L1483.1 602.6 L1484.1 602.5 L1485.1 602.4 L1486.1 602.3 L1487.1 602.2 L1488.2 602.1 L1489.2 601.9 L1490.2 601.6 L1491.2 601.4 L1492.2 601.1 L1493.2 600.9 L1494.2 600.6 L1495.3 600.4 L1496.3 600.2 L1497.3 600 L1498.3 600 L1499.3 600 L1500.3 600 L1501.3 600.1 L1502.3 600.1 L1503.3 600.1 L1504.3 600.1 L1505.3 600 L1506.3 599.9 L1507.3 599.9 L1508.3 599.8 L1509.3 599.7 L1510.3 599.6 L1511.3 599.5 L1512.3 599.5 L1513.3 599.6 L1514.3 599.7 L1515.3 599.8 L1516.3 599.9 L1517.3 600 L1518.3 600.1 L1519.3 600.2 L1520.3 600.2 L1521.3 600.2 L1522.3 600.1 L1523.3 600.1 L1524.3 600 L1525.3 600 L1526.3 599.9 L1527.3 599.9 L1528.3 599.9 L1529.3 599.9 L1530.3 600 L1531.3 600.1 L1532.3 600.2 L1533.3 600.3 L1534.4 600.4 L1535.4 600.5 L1536.4 600.5 L1537.4 600.6 L1538.4 600.6 L1539.4 600.6 L1540.4 600.7 L1541.4 600.7 L1542.4 600.7 L1543.4 600.8 L1544.4 600.8 L1545.4 600.8 L1546.4 600.8 L1547.4 600.8 L1548.4 600.8 L1549.4 600.8 L1550.4 600.8 L1551.4 600.8 L1552.4 600.8 L1553.4 600.8 L1554.4 600.8 L1555.4 600.8 L1556.4 600.8 L1557.4 600.8 L1558.4 600.7 L1559.4 600.7 L1560.4 600.8 L1561.4 600.8 L1562.4 600.9 L1563.4 601 L1564.4 601 L1565.4 601.1 L1566.4 601.2 L1567.4 601.2 L1568.4 601.2 L1569.4 601.2 L1570.4 601.1 L1571.4 601 L1572.4 600.9 L1573.4 600.8 L1574.4 600.7 L1575.4 600.7 L1576.4 600.6 L1577.4 600.6 L1578.4 600.6 L1579.4 600.6 L1580.4 600.6 L1581.4 600.6 L1582.4 600.6 L1583.4 600.7 L1584.4 600.7 L1585.4 600.8 L1586.4 600.9 L1587.4 601.1 L1588.4 601.2 L1589.4 601.3 L1590.4 601.4 L1591.4 601.5 L1592.4 601.5 L1593.4 601.5 L1594.4 601.4 L1595.4 601.3 L1596.4 601.1 L1597.4 601 L1598.4 600.9 L1599.4 600.9 L1600.4 600.8 L1601.4 600.9 L1602.4 600.9 L1603.4 601 L1604.4 601.1 L1605.4 601.2 L1606.4 601.2 L1607.4 601.3 L1608.5 601.3 L1609.5 601.4 L1610.5 601.4 L1611.5 601.4 L1612.5 601.4 L1613.5 601.4 L1614.5 601.4 L1615.5 601.5 L1616.5 601.5 L1617.5 601.6 L1618.5 601.7 L1619.5 601.8 L1620.5 601.8 L1621.5 601.9 L1622.5 602 L1623.5 602.1 L1624.5 602.1 L1625.5 602 L1626.5 602 L1627.5 601.9 L1628.5 601.9 L1629.5 601.8 L1630.5 601.7 L1631.5 601.7 L1632.5 601.7 L1633.5 601.7 L1634.5 601.8 L1635.5 601.8 L1636.5 601.9 L1637.5 601.9 L1638.5 601.9 L1639.5 602 L1640.5 602 L1641.5 602 L1642.5 602 L1643.5 602 L1644.5 602.1 L1645.5 602.1 L1646.5 602.2 L1647.5 602.2 L1648.6 602.3 L1649.6 602.4 L1650.6 602.5 L1651.6 602.5 L1652.6 602.6 L1653.6 602.7 L1654.6 602.8 L1655.7 602.8 L1656.7 602.9 L1657.7 603 L1658.7 603.1 L1659.7 603.2 L1660.7 603.2 L1661.8 603.3 L1662.8 603.4 L1663.8 603.5 L1664.8 603.6 L1665.8 603.6 L1666.8 603.7 L1667.8 603.8 L1668.9 603.9 L1669.9 603.9 L1670.9 604 L1671.9 604.1 L1672.9 604.2 L1673.9 604.3 L1674.9 604.4 L1676 604.5 L1677 604.6 L1678 604.7 L1679 604.8 L1680 605 L1681.1 605.1 L1682.1 605.3 L1683.2 605.4 L1684.2 605.6 L1685.2 605.7 L1686.3 605.9 L1687.3 606 L1688.4 606.2 L1689.4 606.4 L1690.4 606.5 L1691.5 606.7 L1692.5 606.9 L1693.6 607.1 L1694.6 607.2 L1695.6 607.4 L1696.7 607.6 L1697.7 607.9 L1698.8 608.1 L1699.8 608.3 L1700.8 608.4 L1701.8 608.4 L1702.9 608.4 L1703.9 608.4 L1704.9 608.4 L1705.9 608.3 L1707 608.3 L1708 608.2 L1709 608.1 L1710 608.1 L1711 608 L1712.1 607.9 L1713.1 607.8 L1714.1 607.6 L1715.1 607.4 L1716.2 607.3 L1717.2 607.1 L1718.2 606.9 L1719.2 606.7 L1720.3 606.5 L1721.3 606.5 L1722.3 606.5 L1723.3 606.4 L1724.4 606.4 L1725.4 606.4 L1726.4 606.4 L1727.5 606.4 L1728.5 606.2 L1729.5 606 L1730.5 605.7 L1731.6 605.5 L1732.6 605.2 L1733.6 604.9 L1734.7 604.7 L1735.7 604.4 L1736.7 604.3 L1737.7 604.2 L1738.8 604.1 L1739.8 604.1 L1740.8 604 L1741.9 603.9 L1742.9 603.8 L1743.9 603.8 L1744.9 603.7 L1746 603.7 L1747 603.7" fill="none" stroke="#f87474" stroke-width="4.6" stroke-linejoin="round" stroke-linecap="round"/>
<rect x="144" y="16.5" width="1603" height="800.5" fill="none" stroke="#000" stroke-width="3"/>
<text x="123.7" y="417" font-size="33.6" text-anchor="middle" transform="rotate(-90 123.7 417)">Intensity (a.u.)</text>
<line x1="144" y1="817" x2="144" y2="828" stroke="#000" stroke-width="3"/>
<text x="144" y="866.5" font-size="33.6" text-anchor="middle">4000</text>
<line x1="414" y1="817" x2="414" y2="828" stroke="#000" stroke-width="3"/>
<text x="414" y="866.5" font-size="33.6" text-anchor="middle">3500</text>
<line x1="684" y1="817" x2="684" y2="828" stroke="#000" stroke-width="3"/>
<text x="684" y="866.5" font-size="33.6" text-anchor="middle">3000</text>
<line x1="954" y1="817" x2="954" y2="828" stroke="#000" stroke-width="3"/>
<text x="954" y="866.5" font-size="33.6" text-anchor="middle">2500</text>
<line x1="1224" y1="817" x2="1224" y2="828" stroke="#000" stroke-width="3"/>
<text x="1224" y="866.5" font-size="33.6" text-anchor="middle">2000</text>
<line x1="1494" y1="817" x2="1494" y2="828" stroke="#000" stroke-width="3"/>
<text x="1494" y="866.5" font-size="33.6" text-anchor="middle">1500</text>
<line x1="279" y1="817" x2="279" y2="823.5" stroke="#000" stroke-width="3"/>
<line x1="549" y1="817" x2="549" y2="823.5" stroke="#000" stroke-width="3"/>
<line x1="819" y1="817" x2="819" y2="823.5" stroke="#000" stroke-width="3"/>
<line x1="1089" y1="817" x2="1089" y2="823.5" stroke="#000" stroke-width="3"/>
<line x1="1359" y1="817" x2="1359" y2="823.5" stroke="#000" stroke-width="3"/>
<line x1="1629" y1="817" x2="1629" y2="823.5" stroke="#000" stroke-width="3"/>
<text x="796.7" y="916.8" font-size="33.6"><tspan>Wavenumber (cm</tspan><tspan font-size="24" dy="-10">−1</tspan><tspan dy="10">)</tspan></text>
<text x="-1.8" y="1004.5" font-size="43" font-weight="bold">b</text>
<rect x="233.6" y="1063.7" width="437.4" height="667.6" fill="none" stroke="#3a3a3a" stroke-width="1.3" stroke-dasharray="5 4"/>
<line x1="709.1" y1="1138.7" x2="709.1" y2="1594" stroke="#2a2a2a" stroke-width="1.3" stroke-dasharray="5 4"/>
<line x1="740.9" y1="1235.4" x2="740.9" y2="1633" stroke="#2a2a2a" stroke-width="1.3" stroke-dasharray="5 4"/>
<line x1="1013.4" y1="1184.5" x2="1013.4" y2="1582" stroke="#2a2a2a" stroke-width="1.3" stroke-dasharray="5 4"/>
<line x1="1034.5" y1="1213.7" x2="1034.5" y2="1612.4" stroke="#2a2a2a" stroke-width="1.3" stroke-dasharray="5 4"/>
<line x1="1322.3" y1="1140" x2="1322.3" y2="1593" stroke="#2a2a2a" stroke-width="1.3" stroke-dasharray="5 4"/>
<line x1="1448.9" y1="1198" x2="1448.9" y2="1650" stroke="#2a2a2a" stroke-width="1.3" stroke-dasharray="5 4"/>
<line x1="1497.5" y1="1198" x2="1497.5" y2="1648.8" stroke="#2a2a2a" stroke-width="1.3" stroke-dasharray="5 4"/>
<line x1="1626.3" y1="1138.7" x2="1626.3" y2="1593" stroke="#2a2a2a" stroke-width="1.3" stroke-dasharray="5 4"/>
<line x1="1683.2" y1="1139" x2="1683.2" y2="1593" stroke="#2a2a2a" stroke-width="1.3" stroke-dasharray="5 4"/>
<line x1="717.2" y1="1060" x2="1688.8" y2="1060" stroke="#4a4a4a" stroke-width="1.6"/>
<line x1="717.2" y1="1061" x2="717.2" y2="1086" stroke="#2a2a2a" stroke-width="1.3" stroke-dasharray="4.8 4.6"/>
<path d="M717.2 1098 L712.9 1082.4 L717.2 1086 L721.5 1082.4 Z" fill="#000"/>
<line x1="1319.8" y1="1061" x2="1319.8" y2="1086" stroke="#2a2a2a" stroke-width="1.3" stroke-dasharray="4.8 4.6"/>
<path d="M1319.8 1098 L1315.5 1082.4 L1319.8 1086 L1324.1 1082.4 Z" fill="#000"/>
<line x1="1626.4" y1="1061" x2="1626.4" y2="1086.6" stroke="#2a2a2a" stroke-width="1.3" stroke-dasharray="4.8 4.6"/>
<path d="M1626.4 1098.6 L1622.1 1083 L1626.4 1086.6 L1630.7 1083 Z" fill="#000"/>
<line x1="1689.1" y1="1061" x2="1689.1" y2="1095.7" stroke="#2a2a2a" stroke-width="1.3" stroke-dasharray="4.8 4.6"/>
<path d="M1689.1 1107.7 L1684.8 1092.1 L1689.1 1095.7 L1693.4 1092.1 Z" fill="#000"/>
<text x="1128.6" y="1039.6" font-size="29">HCOOH*</text>
<text x="682.4" y="1122.7" font-size="29">2945</text>
<text x="1293.5" y="1126" font-size="29">1790</text>
<text x="1589.2" y="1124" font-size="29">1208</text>
<text x="1666.6" y="1133.1" font-size="29">1100</text>
<line x1="744.8" y1="1729.9" x2="1535.5" y2="1729.9" stroke="#4a4a4a" stroke-width="1.6"/>
<line x1="741.8" y1="1691.3" x2="741.8" y2="1725" stroke="#2a2a2a" stroke-width="1.3" stroke-dasharray="4.8 4.6"/>
<path d="M741.8 1679.3 L737.5 1694.9 L741.8 1691.3 L746.1 1694.9 Z" fill="#000"/>
<line x1="1454.4" y1="1692.3" x2="1454.4" y2="1723" stroke="#2a2a2a" stroke-width="1.3" stroke-dasharray="4.8 4.6"/>
<path d="M1454.4 1680.3 L1450.1 1695.9 L1454.4 1692.3 L1458.7 1695.9 Z" fill="#000"/>
<line x1="1531.9" y1="1691.1" x2="1531.9" y2="1723" stroke="#2a2a2a" stroke-width="1.3" stroke-dasharray="4.8 4.6"/>
<path d="M1531.9 1679.1 L1527.6 1694.7 L1531.9 1691.1 L1536.2 1694.7 Z" fill="#000"/>
<text x="716.3" y="1670.9" font-size="29">2882</text>
<text x="1414.4" y="1673.8" font-size="29">1555</text>
<text x="1495.1" y="1670.6" font-size="29">1455</text>
<text x="1009.7" y="1770.1" font-size="29">HCOO*</text>
<text x="418.9" y="1693.6" font-size="29">OH*</text>
<line x1="1036" y1="1616.2" x2="1158.8" y2="1616.2" stroke="#555" stroke-width="1.3" stroke-dasharray="5 4"/>
<path d="M1021 1616.2 L1036.8 1612.1 L1036.8 1620.3 Z" fill="#000"/>
<line x1="1116.1" y1="1651" x2="1158.8" y2="1651" stroke="#555" stroke-width="1.3" stroke-dasharray="5 4"/>
<path d="M1101.1 1651 L1116.9 1646.9 L1116.9 1655.1 Z" fill="#000"/>
<line x1="1158.8" y1="1617.5" x2="1158.8" y2="1653.1" stroke="#666" stroke-width="1.5"/>
<text x="1012.1" y="1624.6" font-size="29" text-anchor="end">2364</text>
<text x="1023.7" y="1655.1" font-size="29">2334</text>
<text x="1184.8" y="1638.3" font-size="29"><tspan>CO</tspan><tspan font-size="21" dy="8">2</tspan><tspan dy="-8">*</tspan></text>
<text x="270.5" y="1032" font-size="29.4"><tspan>Ti</tspan><tspan font-size="21.5" dy="7.5">3</tspan><tspan dy="-7.5">C</tspan><tspan font-size="21.5" dy="7.5">2</tspan><tspan dy="-7.5">T</tspan><tspan font-size="21.5" dy="7.5">x</tspan><tspan dy="-7.5">-25 + HCOOH</tspan></text>
<text x="269.8" y="1129.3" font-size="29.4">Background</text>
<text x="271.2" y="1241.7" font-size="29.4">0 min</text>
<text x="271.2" y="1356.9" font-size="29.4">5 min</text>
<text x="271.2" y="1454.8" font-size="29.4">10 min</text>
<text x="271.2" y="1570.4" font-size="29.4">20 min</text>
<path d="M145 1151.7 L146 1151.4 L147 1151.1 L148 1151.6 L149 1152 L150 1152.5 L151 1152.4 L152 1152.4 L153 1152.4 L154 1152.2 L155 1152.1 L156 1151.9 L157 1151.7 L158 1151.5 L159 1151.3 L160 1151.8 L161 1152.3 L162 1152.8 L163 1152.8 L164 1152.8 L165 1152.8 L166 1152.5 L167 1152.3 L168 1152 L169 1152 L170 1152 L171 1152 L172 1151.8 L173 1151.5 L174 1151.3 L175 1151.1 L176 1150.9 L177 1150.7 L178 1151 L179 1151.3 L180 1151.7 L181 1151.9 L182 1152 L183 1152.2 L184 1151.8 L185 1151.3 L186 1150.9 L187 1151.5 L188 1152.1 L189 1152.8 L190 1152.3 L191 1151.8 L192 1151.3 L193 1151.3 L194 1151.3 L195 1151.3 L196 1151.1 L197 1151 L198 1150.8 L199 1151.6 L200 1152.5 L201 1153.3 L202 1153.1 L203 1152.8 L204 1152.6 L205 1152.7 L206 1152.9 L207 1153 L208 1152.8 L209 1152.5 L210 1152.3 L211 1151.8 L212 1151.3 L213 1150.8 L214 1151 L215 1151.3 L216 1151.6 L217 1151.7 L218 1151.8 L219 1152 L220 1151.7 L221 1151.3 L222 1151 L223 1151.7 L224 1152.5 L225 1153.2 L226 1152.7 L227 1152.2 L228 1151.7 L229 1151.5 L230 1151.3 L231 1151.1 L232 1151.7 L233 1152.3 L234 1152.8 L235 1152.2 L236 1151.6 L237 1151 L238 1151.7 L239 1152.4 L240 1153.1 L241 1152.7 L242 1152.3 L243 1151.9 L244 1152 L245 1152 L246 1152.1 L247 1152 L248 1151.8 L249 1151.6 L250 1151.7 L251 1151.8 L252 1152 L253 1151.7 L254 1151.4 L255 1151.2 L256 1151.1 L257 1150.9 L258 1150.8 L259 1151.5 L260 1152.2 L261 1153 L262 1152.4 L263 1151.9 L264 1151.3 L265 1151.8 L266 1152.3 L267 1152.7 L268 1152.2 L269 1151.7 L270 1151.2 L271 1151.9 L272 1152.6 L273 1153.2 L274 1153.2 L275 1153.1 L276 1153 L277 1152.9 L278 1152.8 L279 1152.7 L280 1152.7 L281 1152.7 L282 1152.7 L283 1152.5 L284 1152.4 L285 1152.2 L286 1152.3 L287 1152.5 L288 1152.6 L289 1152.1 L290 1151.5 L291 1151 L292 1151.3 L293 1151.6 L294 1151.9 L295 1152.2 L296 1152.5 L297 1152.9 L298 1152.3 L299 1151.8 L300 1151.2 L301 1151.8 L302 1152.5 L303 1153.1 L304 1153.1 L305 1153 L306 1153 L307 1152.6 L308 1152.2 L309 1151.8 L310 1151.7 L311 1151.7 L312 1151.6 L313 1151.7 L314 1151.8 L315 1151.9 L316 1151.8 L317 1151.8 L318 1151.7 L319 1152.2 L320 1152.8 L321 1153.3 L322 1152.8 L323 1152.2 L324 1151.7 L325 1151.4 L326 1151.1 L327 1150.8 L328 1150.8 L329 1150.9 L330 1150.9 L331 1151.5 L332 1152 L333 1152.6 L334 1152.8 L335 1153 L336 1153.3 L337 1152.9 L338 1152.4 L339 1152 L340 1152 L341 1152 L342 1152 L343 1152 L344 1152.1 L345 1152.1 L346 1152.3 L347 1152.5 L348 1152.6 L349 1152.2 L350 1151.7 L351 1151.3 L352 1151.6 L353 1151.9 L354 1152.3 L355 1152.2 L356 1152.2 L357 1152.1 L358 1152.2 L359 1152.3 L360 1152.3 L361 1151.9 L362 1151.6 L363 1151.2 L364 1151.2 L365 1151.2 L366 1151.1 L367 1151.3 L368 1151.5 L369 1151.6 L370 1152.1 L371 1152.6 L372 1153.1 L373 1152.6 L374 1152.1 L375 1151.6 L376 1151.8 L377 1152 L378 1152.3 L379 1152 L380 1151.7 L381 1151.5 L382 1151.3 L383 1151.1 L384 1151 L385 1150.9 L386 1150.9 L387 1150.9 L388 1151.5 L389 1152.2 L390 1152.8 L391 1152.8 L392 1152.8 L393 1152.7 L394 1152.4 L395 1152 L396 1151.7 L397 1151.9 L398 1152.2 L399 1152.5 L400 1152.5 L401 1152.5 L402 1152.5 L403 1152.7 L404 1152.8 L405 1153 L406 1153.1 L407 1153.1 L408 1153.2 L409 1152.7 L410 1152.2 L411 1151.8 L412 1152.3 L413 1152.8 L414 1153.3 L415 1153.2 L416 1153.2 L417 1153.2 L418 1152.9 L419 1152.6 L420 1152.2 L421 1152.5 L422 1152.7 L423 1153 L424 1152.7 L425 1152.3 L426 1152 L427 1151.9 L428 1151.8 L429 1151.7 L430 1151.6 L431 1151.5 L432 1151.3 L433 1151.9 L434 1152.4 L435 1153 L436 1152.4 L437 1151.7 L438 1151.1 L439 1151 L440 1151 L441 1150.9 L442 1151.5 L443 1152.2 L444 1152.8 L445 1152.8 L446 1152.7 L447 1152.7 L448 1152.5 L449 1152.2 L450 1152 L451 1152.3 L452 1152.6 L453 1152.9 L454 1152.2 L455 1151.5 L456 1150.8 L457 1151 L458 1151.2 L459 1151.4 L460 1151.4 L461 1151.4 L462 1151.5 L463 1151.6 L464 1151.7 L465 1151.8 L466 1151.6 L467 1151.4 L468 1151.1 L469 1151.1 L470 1151 L471 1150.9 L472 1151.1 L473 1151.3 L474 1151.6 L475 1152.1 L476 1152.6 L477 1153 L478 1153.1 L479 1153.2 L480 1153.3 L481 1153.1 L482 1152.8 L483 1152.6 L484 1152.4 L485 1152.2 L486 1151.9 L487 1151.7 L488 1151.6 L489 1151.4 L490 1152 L491 1152.6 L492 1153.2 L493 1152.8 L494 1152.4 L495 1152.1 L496 1152.2 L497 1152.4 L498 1152.6 L499 1152 L500 1151.4 L501 1150.8 L502 1150.9 L503 1151.1 L504 1151.3 L505 1151.8 L506 1152.3 L507 1152.9 L508 1152.8 L509 1152.8 L510 1152.8 L511 1152.8 L512 1152.9 L513 1153 L514 1152.7 L515 1152.5 L516 1152.3 L517 1152.1 L518 1152 L519 1151.8 L520 1151.9 L521 1152.1 L522 1152.2 L523 1152.4 L524 1152.7 L525 1152.9 L526 1152.4 L527 1152 L528 1151.5 L529 1151.7 L530 1151.9 L531 1152.1 L532 1151.9 L533 1151.6 L534 1151.4 L535 1151.8 L536 1152.3 L537 1152.7 L538 1152 L539 1151.4 L540 1150.7 L541 1151.3 L542 1151.9 L543 1152.5 L544 1152.7 L545 1152.9 L546 1153.2 L547 1152.4 L548 1151.6 L549 1150.8 L550 1151.3 L551 1151.7 L552 1152.2 L553 1152.3 L554 1152.3 L555 1152.4 L556 1152.6 L557 1152.7 L558 1152.9 L559 1152.7 L560 1152.5 L561 1152.2 L562 1151.9 L563 1151.7 L564 1151.4 L565 1151.5 L566 1151.6 L567 1151.8 L568 1152.2 L569 1152.7 L570 1153.2 L571 1153.1 L572 1153.1 L573 1153.1 L574 1152.4 L575 1151.7 L576 1151 L577 1151 L578 1151 L579 1150.9 L580 1150.9 L581 1150.9 L582 1150.9 L583 1150.9 L584 1150.8 L585 1150.8 L586 1151.1 L587 1151.5 L588 1151.9 L589 1151.6 L590 1151.3 L591 1151.1 L592 1151.7 L593 1152.3 L594 1153 L595 1152.8 L596 1152.6 L597 1152.4 L598 1151.9 L599 1151.5 L600 1151 L601 1151.4 L602 1151.7 L603 1152.1 L604 1151.9 L605 1151.7 L606 1151.5 L607 1151.7 L608 1151.8 L609 1152 L610 1151.7 L611 1151.5 L612 1151.3 L613 1151.2 L614 1151.2 L615 1151.1 L616 1151.1 L617 1151.2 L618 1151.2 L619 1151.3 L620 1151.5 L621 1151.7 L622 1152 L623 1152.3 L624 1152.5 L625 1152.4 L626 1152.3 L627 1152.1 L628 1151.7 L629 1151.3 L630 1150.8 L631 1151.4 L632 1152 L633 1152.5 L634 1152.7 L635 1152.8 L636 1153 L637 1152.9 L638 1152.8 L639 1152.7 L640 1152.7 L641 1152.7 L642 1152.8 L643 1152.1 L644 1151.4 L645 1150.7 L646 1151.1 L647 1151.5 L648 1151.9 L649 1151.6 L650 1151.2 L651 1150.9 L652 1151.5 L653 1152.1 L654 1152.7 L655 1152.2 L656 1151.7 L657 1151.2 L658 1151.6 L659 1152.1 L660 1152.5 L661 1152.2 L662 1151.8 L663 1151.4 L664 1151.7 L665 1152.1 L666 1152.5 L667 1152.2 L668 1151.8 L669 1151.5 L670 1151.3 L671 1151 L672 1150.8 L673 1151.1 L674 1151.4 L675 1151.7 L676 1151.6 L677 1151.6 L678 1151.5 L679 1152 L680 1152.5 L681 1153 L682 1152.5 L683 1152 L684 1151.5 L685 1151.6 L686 1151.8 L687 1152 L688 1152 L689 1152.1 L690 1152.1 L691 1152.5 L692 1152.8 L693 1153.2 L694 1152.4 L695 1151.7 L696 1151 L697 1151.4 L698 1151.8 L699 1152.3 L700 1152.2 L701 1152.1 L702 1152 L703 1152.2 L704 1152.4 L705 1152.6 L706 1152.8 L707 1153 L708 1153.2 L709 1152.6 L710 1152.1 L711 1151.5 L712 1151.8 L713 1152.2 L714 1152.5 L715 1152.4 L716 1152.2 L717 1152.1 L718 1152.1 L719 1152.1 L720 1152.2 L721 1151.7 L722 1151.3 L723 1150.9 L724 1151.5 L725 1152.2 L726 1152.8 L727 1153 L728 1153.1 L729 1153.2 L730 1152.7 L731 1152.2 L732 1151.6 L733 1151.6 L734 1151.6 L735 1151.5 L736 1152.1 L737 1152.7 L738 1153.3 L739 1152.5 L740 1151.7 L741 1151 L742 1151 L743 1150.9 L744 1150.9 L745 1150.9 L746 1150.9 L747 1150.9 L748 1151.5 L749 1152.2 L750 1152.8 L751 1152.8 L752 1152.7 L753 1152.7 L754 1152.4 L755 1152.1 L756 1151.9 L757 1152 L758 1152.2 L759 1152.3 L760 1151.8 L761 1151.3 L762 1150.8 L763 1151.3 L764 1151.8 L765 1152.4 L766 1152.2 L767 1152 L768 1151.9 L769 1151.9 L770 1152 L771 1152 L772 1151.9 L773 1151.8 L774 1151.7 L775 1151.7 L776 1151.7 L777 1151.7 L778 1151.6 L779 1151.4 L780 1151.3 L781 1151.1 L782 1151 L783 1150.8 L784 1151.2 L785 1151.5 L786 1151.8 L787 1151.7 L788 1151.5 L789 1151.3 L790 1151.7 L791 1152.1 L792 1152.5 L793 1152.6 L794 1152.7 L795 1152.8 L796 1152.7 L797 1152.7 L798 1152.6 L799 1152.3 L800 1152.1 L801 1151.9 L802 1151.7 L803 1151.5 L804 1151.3 L805 1151.4 L806 1151.6 L807 1151.7 L808 1151.8 L809 1151.9 L810 1152 L811 1152.1 L812 1152.2 L813 1152.3 L814 1152.6 L815 1152.9 L816 1153.2 L817 1152.4 L818 1151.7 L819 1150.9 L820 1151.3 L821 1151.6 L822 1151.9 L823 1152 L824 1152 L825 1152 L826 1152.2 L827 1152.4 L828 1152.6 L829 1152.7 L830 1152.9 L831 1153 L832 1152.9 L833 1152.8 L834 1152.7 L835 1152.6 L836 1152.5 L837 1152.3 L838 1152.4 L839 1152.6 L840 1152.7 L841 1152.6 L842 1152.5 L843 1152.4 L844 1152.6 L845 1152.8 L846 1152.9 L847 1152.8 L848 1152.7 L849 1152.5 L850 1152.5 L851 1152.5 L852 1152.5 L853 1152.1 L854 1151.7 L855 1151.3 L856 1151.9 L857 1152.5 L858 1153.1 L859 1152.6 L860 1152.2 L861 1151.7 L862 1151.9 L863 1152.1 L864 1152.3 L865 1152.5 L866 1152.7 L867 1152.8 L868 1153 L869 1153.1 L870 1153.2 L871 1153.2 L872 1153.2 L873 1153.3 L874 1152.4 L875 1151.6 L876 1150.7 L877 1151 L878 1151.2 L879 1151.5 L880 1151.5 L881 1151.5 L882 1151.5 L883 1151.6 L884 1151.6 L885 1151.7 L886 1151.5 L887 1151.3 L888 1151.1 L889 1151.4 L890 1151.8 L891 1152.1 L892 1151.7 L893 1151.3 L894 1150.9 L895 1151.1 L896 1151.3 L897 1151.5 L898 1152 L899 1152.6 L900 1153.2 L901 1153 L902 1152.8 L903 1152.6 L904 1152.4 L905 1152.1 L906 1151.9 L907 1151.6 L908 1151.3 L909 1151 L910 1151.7 L911 1152.5 L912 1153.2 L913 1153 L914 1152.7 L915 1152.5 L916 1152.1 L917 1151.7 L918 1151.2 L919 1151.3 L920 1151.5 L921 1151.6 L922 1151.8 L923 1152.1 L924 1152.4 L925 1152.4 L926 1152.4 L927 1152.5 L928 1152.1 L929 1151.7 L930 1151.4 L931 1152 L932 1152.6 L933 1153.2 L934 1152.6 L935 1152.1 L936 1151.5 L937 1151.5 L938 1151.4 L939 1151.4 L940 1151.9 L941 1152.4 L942 1152.9 L943 1152.3 L944 1151.7 L945 1151.1 L946 1151.6 L947 1152 L948 1152.5 L949 1152.1 L950 1151.6 L951 1151.2 L952 1151.6 L953 1151.9 L954 1152.3 L955 1152 L956 1151.7 L957 1151.4 L958 1151.5 L959 1151.6 L960 1151.7 L961 1152.2 L962 1152.7 L963 1153.1 L964 1152.7 L965 1152.3 L966 1151.9 L967 1151.9 L968 1151.9 L969 1151.8 L970 1152 L971 1152.1 L972 1152.3 L973 1152 L974 1151.7 L975 1151.4 L976 1151.3 L977 1151.2 L978 1151.2 L979 1151.3 L980 1151.5 L981 1151.7 L982 1151.6 L983 1151.5 L984 1151.4 L985 1151.3 L986 1151.3 L987 1151.2 L988 1151.9 L989 1152.5 L990 1153.2 L991 1152.4 L992 1151.6 L993 1150.8 L994 1151.5 L995 1152.1 L996 1152.8 L997 1152.9 L998 1153 L999 1153.1 L1000 1152.9 L1001 1152.7 L1002 1152.5 L1003 1151.9 L1004 1151.3 L1005 1150.7 L1006 1151.2 L1007 1151.6 L1008 1152 L1009 1151.6 L1010 1151.2 L1011 1150.8 L1012 1151.3 L1013 1151.8 L1014 1152.3 L1015 1152.4 L1016 1152.4 L1017 1152.5 L1018 1152.1 L1019 1151.7 L1020 1151.3 L1021 1151.1 L1022 1150.9 L1023 1150.7 L1024 1151.2 L1025 1151.7 L1026 1152.1 L1027 1151.7 L1028 1151.3 L1029 1150.9 L1030 1151.1 L1031 1151.3 L1032 1151.5 L1033 1151.6 L1034 1151.8 L1035 1151.9 L1036 1152.3 L1037 1152.6 L1038 1153 L1039 1152.6 L1040 1152.1 L1041 1151.7 L1042 1151.5 L1043 1151.3 L1044 1151.1 L1045 1151.6 L1046 1152.2 L1047 1152.8 L1048 1152.8 L1049 1152.8 L1050 1152.8 L1051 1152.6 L1052 1152.3 L1053 1152.1 L1054 1151.7 L1055 1151.2 L1056 1150.8 L1057 1150.9 L1058 1151.1 L1059 1151.2 L1060 1151.4 L1061 1151.6 L1062 1151.7 L1063 1151.9 L1064 1152 L1065 1152.1 L1066 1151.9 L1067 1151.6 L1068 1151.3 L1069 1151.8 L1070 1152.3 L1071 1152.8 L1072 1152.8 L1073 1152.9 L1074 1152.9 L1075 1153 L1076 1153 L1077 1153.1 L1078 1153.1 L1079 1153 L1080 1153 L1081 1152.2 L1082 1151.5 L1083 1150.7 L1084 1151.2 L1085 1151.7 L1086 1152.2 L1087 1151.8 L1088 1151.3 L1089 1150.9 L1090 1151.6 L1091 1152.3 L1092 1153 L1093 1152.9 L1094 1152.8 L1095 1152.6 L1096 1152.7 L1097 1152.7 L1098 1152.7 L1099 1152.2 L1100 1151.7 L1101 1151.2 L1102 1151.1 L1103 1151 L1104 1150.9 L1105 1151.5 L1106 1152.2 L1107 1152.8 L1108 1152.6 L1109 1152.5 L1110 1152.3 L1111 1152.3 L1112 1152.3 L1113 1152.3 L1114 1152.2 L1115 1152.1 L1116 1151.9 L1117 1152.2 L1118 1152.5 L1119 1152.8 L1120 1152.4 L1121 1152 L1122 1151.6 L1123 1151.5 L1124 1151.5 L1125 1151.4 L1126 1151.5 L1127 1151.5 L1128 1151.6 L1129 1151.6 L1130 1151.5 L1131 1151.5 L1132 1151.8 L1133 1152 L1134 1152.3 L1135 1152.6 L1136 1152.8 L1137 1153 L1138 1152.3 L1139 1151.6 L1140 1150.9 L1141 1150.9 L1142 1150.9 L1143 1150.9 L1144 1151.3 L1145 1151.6 L1146 1152 L1147 1152.2 L1148 1152.3 L1149 1152.5 L1150 1152 L1151 1151.6 L1152 1151.2 L1153 1151.3 L1154 1151.3 L1155 1151.4 L1156 1151.2 L1157 1151 L1158 1150.9 L1159 1150.8 L1160 1150.8 L1161 1150.8 L1162 1151.2 L1163 1151.6 L1164 1152 L1165 1152.1 L1166 1152.3 L1167 1152.5 L1168 1152.4 L1169 1152.4 L1170 1152.4 L1171 1152 L1172 1151.5 L1173 1151.1 L1174 1151.1 L1175 1151 L1176 1151 L1177 1151.7 L1178 1152.4 L1179 1153.1 L1180 1152.8 L1181 1152.4 L1182 1152.1 L1183 1152 L1184 1151.9 L1185 1151.8 L1186 1152 L1187 1152.3 L1188 1152.5 L1189 1152.5 L1190 1152.6 L1191 1152.6 L1192 1152.4 L1193 1152.2 L1194 1152.1 L1195 1151.7 L1196 1151.3 L1197 1150.9 L1198 1151.6 L1199 1152.2 L1200 1152.9 L1201 1152.3 L1202 1151.8 L1203 1151.3 L1204 1151.1 L1205 1151 L1206 1150.8 L1207 1151.1 L1208 1151.3 L1209 1151.6 L1210 1151.8 L1211 1151.9 L1212 1152.1 L1213 1152.2 L1214 1152.3 L1215 1152.3 L1216 1151.9 L1217 1151.5 L1218 1151.2 L1219 1151.6 L1220 1152.1 L1221 1152.5 L1222 1152.4 L1223 1152.2 L1224 1152 L1225 1151.7 L1226 1151.4 L1227 1151.1 L1228 1151.7 L1229 1152.3 L1230 1152.9 L1231 1152.9 L1232 1152.8 L1233 1152.8 L1234 1152.9 L1235 1153 L1236 1153.1 L1237 1152.9 L1238 1152.7 L1239 1152.5 L1240 1152.1 L1241 1151.7 L1242 1151.3 L1243 1151.8 L1244 1152.2 L1245 1152.7 L1246 1152.8 L1247 1152.9 L1248 1153 L1249 1152.7 L1250 1152.4 L1251 1152.1 L1252 1152.4 L1253 1152.7 L1254 1153.1 L1255 1153.1 L1256 1153.2 L1257 1153.2 L1258 1152.7 L1259 1152.2 L1260 1151.7 L1261 1152.2 L1262 1152.7 L1263 1153.1 L1264 1153.1 L1265 1153.1 L1266 1153.1 L1267 1153 L1268 1152.9 L1269 1152.8 L1270 1152.1 L1271 1151.4 L1272 1150.7 L1273 1151 L1274 1151.3 L1275 1151.6 L1276 1151.8 L1277 1152.1 L1278 1152.3 L1279 1152.3 L1280 1152.3 L1281 1152.3 L1282 1152.4 L1283 1152.5 L1284 1152.7 L1285 1152.6 L1286 1152.5 L1287 1152.4 L1288 1152 L1289 1151.5 L1290 1151.1 L1291 1151.8 L1292 1152.5 L1293 1153.1 L1294 1152.8 L1295 1152.4 L1296 1152.1 L1297 1152.4 L1298 1152.7 L1299 1153 L1300 1152.4 L1301 1151.8 L1302 1151.2 L1303 1151.9 L1304 1152.6 L1305 1153.3 L1306 1152.9 L1307 1152.5 L1308 1152.1 L1309 1152.3 L1310 1152.5 L1311 1152.7 L1312 1152.7 L1313 1152.7 L1314 1152.6 L1315 1152.7 L1316 1152.9 L1317 1153 L1318 1152.5 L1319 1152.1 L1320 1151.6 L1321 1151.4 L1322 1151.2 L1323 1150.9 L1324 1151.2 L1325 1151.5 L1326 1151.8 L1327 1151.6 L1328 1151.4 L1329 1151.2 L1330 1151.5 L1331 1151.8 L1332 1152.1 L1333 1152.3 L1334 1152.6 L1335 1152.8 L1336 1152.4 L1337 1152 L1338 1151.6 L1339 1151.4 L1340 1151.2 L1341 1151 L1342 1151 L1343 1150.9 L1344 1150.8 L1345 1151.1 L1346 1151.5 L1347 1151.8 L1348 1151.9 L1349 1152.1 L1350 1152.2 L1351 1151.7 L1352 1151.2 L1353 1150.8 L1354 1151.3 L1355 1151.9 L1356 1152.4 L1357 1152 L1358 1151.6 L1359 1151.2 L1360 1151.2 L1361 1151.1 L1362 1151 L1363 1151.7 L1364 1152.4 L1365 1153.1 L1366 1152.8 L1367 1152.4 L1368 1152.1 L1369 1152.4 L1370 1152.7 L1371 1153 L1372 1152.7 L1373 1152.4 L1374 1152 L1375 1151.7 L1376 1151.4 L1377 1151 L1378 1151.1 L1379 1151.2 L1380 1151.3 L1381 1151.5 L1382 1151.6 L1383 1151.8 L1384 1152 L1385 1152.2 L1386 1152.4 L1387 1152.5 L1388 1152.6 L1389 1152.7 L1390 1152.7 L1391 1152.7 L1392 1152.7 L1393 1152.6 L1394 1152.5 L1395 1152.4 L1396 1152 L1397 1151.7 L1398 1151.4 L1399 1151.5 L1400 1151.7 L1401 1151.8 L1402 1151.8 L1403 1151.7 L1404 1151.7 L1405 1151.8 L1406 1151.9 L1407 1152 L1408 1151.8 L1409 1151.6 L1410 1151.4 L1411 1151.6 L1412 1151.9 L1413 1152.1 L1414 1152 L1415 1152 L1416 1151.9 L1417 1151.5 L1418 1151.2 L1419 1150.8 L1420 1151.5 L1421 1152.2 L1422 1152.8 L1423 1152.6 L1424 1152.4 L1425 1152.2 L1426 1152.4 L1427 1152.6 L1428 1152.8 L1429 1152.7 L1430 1152.7 L1431 1152.6 L1432 1152.6 L1433 1152.6 L1434 1152.6 L1435 1152.8 L1436 1153.1 L1437 1153.3 L1438 1152.7 L1439 1152.2 L1440 1151.7 L1441 1151.7 L1442 1151.7 L1443 1151.7 L1444 1151.4 L1445 1151 L1446 1150.7 L1447 1151.3 L1448 1151.9 L1449 1152.4 L1450 1152.4 L1451 1152.3 L1452 1152.2 L1453 1152.2 L1454 1152.2 L1455 1152.2 L1456 1152.6 L1457 1152.9 L1458 1153.3 L1459 1152.6 L1460 1151.9 L1461 1151.2 L1462 1151.2 L1463 1151.3 L1464 1151.3 L1465 1151.7 L1466 1152.2 L1467 1152.6 L1468 1152.7 L1469 1152.7 L1470 1152.8 L1471 1152.5 L1472 1152.2 L1473 1152 L1474 1151.6 L1475 1151.2 L1476 1150.8 L1477 1151.1 L1478 1151.4 L1479 1151.7 L1480 1152.1 L1481 1152.5 L1482 1152.8 L1483 1152.6 L1484 1152.3 L1485 1152 L1486 1152 L1487 1151.9 L1488 1151.9 L1489 1151.8 L1490 1151.8 L1491 1151.7 L1492 1151.9 L1493 1152.1 L1494 1152.3 L1495 1152.3 L1496 1152.3 L1497 1152.3 L1498 1152.3 L1499 1152.4 L1500 1152.5 L1501 1152.7 L1502 1152.8 L1503 1152.9 L1504 1152.9 L1505 1152.8 L1506 1152.7 L1507 1152.3 L1508 1152 L1509 1151.7 L1510 1151.6 L1511 1151.5 L1512 1151.4 L1513 1151.8 L1514 1152.3 L1515 1152.7 L1516 1152.7 L1517 1152.8 L1518 1152.8 L1519 1152.9 L1520 1153 L1521 1153.1 L1522 1152.5 L1523 1151.8 L1524 1151.2 L1525 1151.8 L1526 1152.3 L1527 1152.9 L1528 1152.9 L1529 1153 L1530 1153 L1531 1152.3 L1532 1151.6 L1533 1150.9 L1534 1151.1 L1535 1151.3 L1536 1151.5 L1537 1151.8 L1538 1152.1 L1539 1152.3 L1540 1151.9 L1541 1151.5 L1542 1151.1 L1543 1151.7 L1544 1152.3 L1545 1152.9 L1546 1152.4 L1547 1151.9 L1548 1151.4 L1549 1151.8 L1550 1152.1 L1551 1152.5 L1552 1152.1 L1553 1151.8 L1554 1151.5 L1555 1151.4 L1556 1151.3 L1557 1151.3 L1558 1151.3 L1559 1151.2 L1560 1151.2 L1561 1151.5 L1562 1151.7 L1563 1152 L1564 1152.2 L1565 1152.4 L1566 1152.6 L1567 1152.1 L1568 1151.7 L1569 1151.3 L1570 1151.7 L1571 1152.1 L1572 1152.5 L1573 1152.2 L1574 1151.9 L1575 1151.6 L1576 1151.8 L1577 1152.1 L1578 1152.4 L1579 1152.1 L1580 1151.9 L1581 1151.7 L1582 1151.5 L1583 1151.4 L1584 1151.2 L1585 1151.2 L1586 1151.1 L1587 1151.1 L1588 1151 L1589 1150.9 L1590 1150.9 L1591 1151.4 L1592 1152 L1593 1152.5 L1594 1152.3 L1595 1152 L1596 1151.8 L1597 1151.5 L1598 1151.3 L1599 1151 L1600 1151.7 L1601 1152.3 L1602 1153 L1603 1152.8 L1604 1152.6 L1605 1152.4 L1606 1151.9 L1607 1151.3 L1608 1150.8 L1609 1151.4 L1610 1152 L1611 1152.6 L1612 1152.5 L1613 1152.4 L1614 1152.2 L1615 1152.1 L1616 1152 L1617 1151.9 L1618 1151.9 L1619 1152 L1620 1152 L1621 1152.4 L1622 1152.8 L1623 1153.2 L1624 1152.7 L1625 1152.2 L1626 1151.7 L1627 1151.9 L1628 1152.1 L1629 1152.4 L1630 1152.4 L1631 1152.4 L1632 1152.4 L1633 1152.1 L1634 1151.9 L1635 1151.7 L1636 1151.6 L1637 1151.6 L1638 1151.6 L1639 1152 L1640 1152.3 L1641 1152.7 L1642 1152.6 L1643 1152.5 L1644 1152.4 L1645 1152.2 L1646 1152 L1647 1151.9 L1648 1151.9 L1649 1152 L1650 1152 L1651 1151.8 L1652 1151.5 L1653 1151.3 L1654 1151.8 L1655 1152.3 L1656 1152.8 L1657 1152.1 L1658 1151.4 L1659 1150.8 L1660 1151.3 L1661 1151.8 L1662 1152.4 L1663 1152.2 L1664 1152 L1665 1151.9 L1666 1151.7 L1667 1151.5 L1668 1151.3 L1669 1151.6 L1670 1151.9 L1671 1152.2 L1672 1152.2 L1673 1152.2 L1674 1152.2 L1675 1151.8 L1676 1151.4 L1677 1150.9 L1678 1151.3 L1679 1151.6 L1680 1152 L1681 1151.7 L1682 1151.4 L1683 1151.1 L1684 1151.7 L1685 1152.2 L1686 1152.8 L1687 1152.4 L1688 1152 L1689 1151.6 L1690 1151.6 L1691 1151.6 L1692 1151.6 L1693 1151.5 L1694 1151.4 L1695 1151.3 L1696 1151.1 L1697 1151 L1698 1150.8 L1699 1150.9 L1700 1151.1 L1701 1151.2 L1702 1151.2 L1703 1151.1 L1704 1151.1 L1705 1151.5 L1706 1151.9 L1707 1152.3 L1708 1152.5 L1709 1152.7 L1710 1152.9 L1711 1152.4 L1712 1151.8 L1713 1151.3 L1714 1151.2 L1715 1151.1 L1716 1151 L1717 1151.4 L1718 1151.7 L1719 1152.1 L1720 1151.7 L1721 1151.4 L1722 1151 L1723 1151.3 L1724 1151.5 L1725 1151.8 L1726 1152.1 L1727 1152.4 L1728 1152.7 L1729 1152.2 L1730 1151.7 L1731 1151.2 L1732 1151.7 L1733 1152.1 L1734 1152.5 L1735 1152.4 L1736 1152.2 L1737 1152.1 L1738 1151.7 L1739 1151.3 L1740 1150.9 L1741 1151.1 L1742 1151.2" fill="none" stroke="#444444" stroke-width="3" stroke-linejoin="round" stroke-linecap="round"/>
<path d="M145 1270.9 L146 1270.8 L147 1270.6 L148 1270.5 L149 1270.4 L150 1270.6 L151 1271.6 L152 1272.8 L153 1273.4 L154 1272.4 L155 1271.1 L156 1270.1 L157 1269.6 L158 1270.2 L159 1271.4 L160 1273 L161 1272.9 L162 1271.8 L163 1270.3 L164 1268.5 L165 1267.5 L166 1267.1 L167 1268.1 L168 1269.1 L169 1269.9 L170 1270.1 L171 1270 L172 1269.9 L173 1269.8 L174 1270.7 L175 1272.1 L176 1273.5 L177 1272.9 L178 1271.6 L179 1270.3 L180 1269.6 L181 1269 L182 1268.5 L183 1268.2 L184 1268.2 L185 1268.9 L186 1269.6 L187 1269.8 L188 1269.4 L189 1269.4 L190 1271.1 L191 1272.9 L192 1273.4 L193 1272 L194 1269.8 L195 1268.7 L196 1268.1 L197 1267.9 L198 1268.9 L199 1270.7 L200 1272.3 L201 1271.4 L202 1269.9 L203 1268.7 L204 1268.7 L205 1270.4 L206 1272.4 L207 1274.2 L208 1273.5 L209 1272.4 L210 1270.6 L211 1269.7 L212 1269.1 L213 1269.1 L214 1271.2 L215 1273.6 L216 1275 L217 1274 L218 1272.8 L219 1272.2 L220 1272.1 L221 1270.7 L222 1268.5 L223 1266.5 L224 1265.7 L225 1267.1 L226 1268.7 L227 1270.2 L228 1270.7 L229 1270.1 L230 1269.4 L231 1269 L232 1269 L233 1268.7 L234 1269.4 L235 1271 L236 1273.1 L237 1272.1 L238 1270 L239 1267.6 L240 1267.4 L241 1269.3 L242 1273 L243 1276.2 L244 1275 L245 1271.1 L246 1267.8 L247 1268.3 L248 1269.5 L249 1270.5 L250 1272.1 L251 1273.8 L252 1274.6 L253 1273.7 L254 1270.6 L255 1268.6 L256 1267.6 L257 1268.3 L258 1269 L259 1269.4 L260 1270.2 L261 1270.6 L262 1270.8 L263 1270.1 L264 1268.8 L265 1268.2 L266 1270.8 L267 1274.7 L268 1276.1 L269 1273.4 L270 1270.4 L271 1272 L272 1274.3 L273 1276.1 L274 1274.6 L275 1271.1 L276 1267.7 L277 1265.6 L278 1265.8 L279 1266.4 L280 1268.2 L281 1271.3 L282 1273.3 L283 1269.2 L284 1266.5 L285 1266.4 L286 1267 L287 1266.7 L288 1268.2 L289 1270.3 L290 1272.9 L291 1271.3 L292 1269.6 L293 1267.9 L294 1268.6 L295 1268.9 L296 1266.6 L297 1264.5 L298 1263.6 L299 1265.8 L300 1268 L301 1267.3 L302 1265.3 L303 1263.3 L304 1262.2 L305 1261.4 L306 1261.5 L307 1263.8 L308 1266 L309 1267.3 L310 1266.5 L311 1265.3 L312 1264.2 L313 1265.3 L314 1267.5 L315 1270 L316 1269.4 L317 1267.2 L318 1264.6 L319 1264.3 L320 1265.5 L321 1267.3 L322 1267.2 L323 1265.6 L324 1263.9 L325 1262.8 L326 1262.7 L327 1263.2 L328 1266.7 L329 1270.9 L330 1271.9 L331 1268.5 L332 1264.4 L333 1262.6 L334 1262.3 L335 1263.3 L336 1263.3 L337 1261.8 L338 1259 L339 1259.5 L340 1261.1 L341 1264.3 L342 1267.7 L343 1269.6 L344 1270.2 L345 1269.1 L346 1267.6 L347 1266.9 L348 1267.3 L349 1269 L350 1269.9 L351 1270.5 L352 1270.1 L353 1269 L354 1268.6 L355 1267.5 L356 1266.6 L357 1265 L358 1262.2 L359 1260.3 L360 1260.9 L361 1264.8 L362 1267.3 L363 1267.4 L364 1265.9 L365 1265.6 L366 1267.4 L367 1270.8 L368 1270.8 L369 1268.8 L370 1265.8 L371 1264.9 L372 1264.6 L373 1265.3 L374 1266.6 L375 1270.1 L376 1274.5 L377 1277.9 L378 1274 L379 1269.5 L380 1266.4 L381 1263.5 L382 1260.7 L383 1258.3 L384 1259.4 L385 1261.1 L386 1263.4 L387 1265 L388 1266.8 L389 1267.8 L390 1267.9 L391 1266.7 L392 1266.2 L393 1266.4 L394 1266.2 L395 1266 L396 1265.5 L397 1264.9 L398 1263.3 L399 1263 L400 1263.2 L401 1263.7 L402 1264.8 L403 1267.2 L404 1268.6 L405 1269.6 L406.1 1270.8 L407.1 1273.9 L408.1 1275.7 L409.2 1275 L410.2 1271.4 L411.3 1268 L412.4 1266.8 L413.4 1268.9 L414.4 1270.9 L415.5 1269.3 L416.6 1267.9 L417.6 1268.8 L418.6 1269.8 L419.7 1268 L420.8 1265.9 L421.9 1267.6 L423 1272.4 L424 1277.2 L425.1 1279.6 L426.2 1280.8 L427.3 1281.3 L428.3 1281.8 L429.3 1282.5 L430.4 1283.6 L431.4 1284.9 L432.4 1286.4 L433.4 1288.2 L434.4 1290 L435.5 1291.5 L436.5 1292.6 L437.5 1293.4 L438.5 1294 L439.5 1294.8 L440.6 1295.6 L441.6 1296.1 L442.6 1296.5 L443.6 1297 L444.6 1297.6 L445.7 1298.3 L446.7 1299.1 L447.7 1299.8 L448.7 1300.5 L449.7 1301.1 L450.8 1301.5 L451.8 1301.8 L452.8 1302.1 L453.8 1302.4 L454.8 1302.9 L455.9 1303.4 L456.9 1303.9 L457.9 1304.3 L458.9 1304.5 L459.9 1304.7 L461 1304.9 L462 1305.3 L463 1305.6 L464 1305.7 L465 1305.6 L466 1305.7 L467 1305.8 L468.1 1305.9 L469.1 1306.1 L470.1 1306.4 L471.1 1306.7 L472.1 1306.8 L473.1 1306.7 L474.1 1306.4 L475.1 1306.1 L476.1 1305.9 L477.1 1305.8 L478.1 1305.8 L479.2 1305.8 L480.2 1305.6 L481.2 1305.2 L482.2 1304.9 L483.2 1304.9 L484.2 1305 L485.2 1305 L486.3 1304.7 L487.3 1304.3 L488.3 1304 L489.3 1303.8 L490.3 1303.8 L491.4 1303.8 L492.4 1303.8 L493.4 1303.7 L494.4 1303.6 L495.4 1303.3 L496.5 1303 L497.5 1302.8 L498.5 1302.6 L499.5 1302.6 L500.5 1302.5 L501.6 1302.3 L502.6 1301.9 L503.6 1301.5 L504.6 1301.3 L505.6 1301.3 L506.7 1301.4 L507.7 1301.5 L508.7 1301.5 L509.7 1301.4 L510.8 1301.1 L511.8 1300.8 L512.8 1300.5 L513.9 1300.4 L514.9 1300.2 L515.9 1299.9 L517 1299.5 L518 1299.1 L519 1298.7 L520.1 1298.4 L521.1 1298.1 L522.1 1297.9 L523.2 1297.7 L524.2 1297.4 L525.2 1297 L526.3 1296.5 L527.3 1296.3 L528.3 1296.2 L529.4 1296 L530.4 1295.5 L531.4 1295 L532.5 1294.6 L533.5 1294.3 L534.5 1294.1 L535.6 1293.9 L536.6 1293.7 L537.6 1293.3 L538.7 1292.8 L539.7 1292.2 L540.7 1291.6 L541.8 1291.1 L542.8 1290.8 L543.8 1290.5 L544.8 1290.2 L545.9 1289.7 L546.9 1289.1 L547.9 1288.7 L549 1288.5 L550 1288.4 L551 1288 L552.1 1287.5 L553.1 1287 L554.1 1286.5 L555.1 1286.2 L556.2 1285.9 L557.2 1285.7 L558.2 1285.5 L559.3 1285 L560.3 1284.5 L561.4 1284.1 L562.4 1283.8 L563.5 1283.6 L564.5 1283.5 L565.6 1283.5 L566.6 1283.4 L567.7 1283.6 L568.8 1283.9 L569.8 1284.3 L570.9 1284.5 L571.9 1284.6 L573 1284.5 L574 1284.2 L575 1283.9 L576.1 1283.6 L577.1 1283.4 L578.1 1283.1 L579.1 1282.8 L580.1 1282.3 L581.2 1281.8 L582.2 1281.3 L583.2 1280.8 L584.2 1280.3 L585.2 1279.9 L586.3 1279.5 L587.3 1279.1 L588.3 1278.8 L589.3 1278.5 L590.3 1278.2 L591.4 1277.9 L592.4 1277.4 L593.4 1276.8 L594.4 1276.2 L595.4 1275.6 L596.5 1275.1 L597.5 1274.6 L598.5 1274.2 L599.5 1273.6 L600.5 1273 L601.6 1272.4 L602.6 1271.9 L603.6 1271.7 L604.6 1271.8 L605.6 1272.1 L606.6 1272.2 L607.7 1272.2 L608.7 1272 L609.7 1272 L610.7 1272.1 L611.7 1272.2 L612.7 1272.3 L613.8 1272.3 L614.8 1272.2 L615.8 1272.1 L616.8 1272 L617.8 1272.1 L618.8 1272.4 L619.8 1272.6 L620.9 1272.7 L621.9 1272.7 L622.9 1272.8 L623.9 1272.9 L624.9 1272.7 L626 1272.4 L627 1272.1 L628.1 1271.7 L629.1 1271.3 L630.1 1270.9 L631.2 1270.4 L632.2 1269.8 L633.3 1269.1 L634.3 1268.3 L635.3 1267.6 L636.4 1266.9 L637.4 1266.4 L638.5 1265.9 L639.5 1265.5 L640.6 1265.2 L641.6 1265.1 L642.6 1265 L643.7 1264.6 L644.7 1264.2 L645.8 1263.9 L646.8 1263.8 L647.8 1263.9 L648.8 1263.9 L649.9 1263.7 L650.9 1263.6 L651.9 1263.6 L652.9 1263.7 L653.9 1263.8 L655 1263.8 L656 1263.8 L657 1263.8 L658.1 1263.9 L659.1 1264.2 L660.2 1264.6 L661.2 1265.2 L662.3 1265.7 L663.4 1266 L664.4 1266.2 L665.5 1266.4 L666.5 1266.6 L667.6 1267 L668.6 1267.4 L669.7 1267.6 L670.7 1267.5 L671.8 1267.3 L672.8 1267.2 L673.9 1267 L674.9 1266.8 L675.9 1266.7 L677 1266.7 L678 1266.7 L679.1 1266.7 L680.1 1266.6 L681.2 1266.2 L682.2 1265.7 L683.2 1265.4 L684.3 1265.3 L685.3 1265.1 L686.4 1264.6 L687.4 1264 L688.4 1263.7 L689.5 1263.5 L690.5 1263.4 L691.6 1263.2 L692.6 1263.1 L693.7 1263.4 L694.8 1264 L695.9 1264.7 L697 1266 L698.1 1268.4 L699.3 1271.3 L700.4 1274.2 L701.6 1276.9 L702.7 1278.9 L703.8 1279.8 L704.8 1280.5 L705.9 1281.3 L707 1282 L708 1282.5 L709.1 1282.2 L710.3 1280.4 L711.5 1278 L712.6 1275.6 L713.8 1273.3 L715 1271.3 L716 1269.9 L717 1268.7 L718 1267.5 L719 1266.4 L720 1265.1 L721 1263.8 L722 1262.5 L723 1261.7 L724 1261.5 L725 1261.4 L726.1 1261.2 L727.1 1260.7 L728.1 1260.4 L729.1 1260.4 L730.1 1260.4 L731.2 1260.3 L732.2 1260 L733.2 1259.7 L734.2 1259.6 L735.2 1259.6 L736.3 1259.8 L737.3 1260.1 L738.3 1260.4 L739.3 1260.4 L740.3 1260.4 L741.4 1260.5 L742.4 1260.7 L743.4 1260.8 L744.4 1260.6 L745.4 1260.3 L746.4 1260 L747.5 1259.7 L748.5 1259.4 L749.5 1258.9 L750.5 1258.3 L751.5 1257.8 L752.5 1257.3 L753.5 1257.1 L754.6 1257.1 L755.6 1257.2 L756.6 1257.2 L757.6 1257 L758.6 1256.6 L759.6 1256.3 L760.7 1255.9 L761.7 1255.4 L762.7 1254.9 L763.7 1254.3 L764.7 1253.8 L765.7 1253.4 L766.8 1253.1 L767.8 1253 L768.8 1253.1 L769.8 1253.2 L770.8 1253.3 L771.9 1253.2 L772.9 1253.1 L773.9 1253.1 L774.9 1253.3 L775.9 1253.6 L777 1253.9 L778 1254.2 L779 1254.2 L780 1254.2 L781 1254.3 L782.1 1254.3 L783.1 1254.5 L784.1 1254.7 L785.1 1254.9 L786.1 1254.8 L787.2 1254.6 L788.2 1254.2 L789.2 1253.9 L790.2 1253.9 L791.2 1253.9 L792.3 1254 L793.3 1254.2 L794.3 1254.3 L795.3 1254.3 L796.3 1254.3 L797.3 1254.2 L798.4 1254 L799.4 1253.8 L800.4 1253.6 L801.4 1253.5 L802.4 1253.5 L803.4 1253.7 L804.5 1253.7 L805.5 1253.6 L806.5 1253.4 L807.5 1253.3 L808.5 1253.1 L809.5 1253 L810.6 1252.9 L811.6 1252.9 L812.6 1252.9 L813.6 1252.9 L814.6 1252.7 L815.6 1252.4 L816.7 1252.1 L817.7 1251.8 L818.7 1251.4 L819.7 1251.1 L820.7 1250.9 L821.7 1250.9 L822.8 1250.9 L823.8 1250.8 L824.8 1250.7 L825.8 1250.5 L826.8 1250.2 L827.8 1250 L828.9 1249.7 L829.9 1249.4 L830.9 1249.2 L831.9 1249.3 L832.9 1249.7 L833.9 1250 L835 1250.2 L836 1250.2 L837 1250.2 L838 1250.2 L839 1250.4 L840 1250.7 L841.1 1250.8 L842.1 1250.5 L843.1 1250.1 L844.1 1249.7 L845.1 1249.3 L846.1 1249.1 L847.2 1249 L848.2 1249 L849.2 1248.9 L850.2 1248.8 L851.2 1248.7 L852.2 1248.6 L853.2 1248.7 L854.2 1248.9 L855.2 1249.1 L856.3 1249.1 L857.3 1249 L858.3 1248.7 L859.3 1248.6 L860.3 1248.7 L861.3 1248.7 L862.3 1248.7 L863.3 1248.5 L864.3 1248.3 L865.3 1248.3 L866.3 1248.5 L867.3 1248.8 L868.4 1249.2 L869.4 1249.3 L870.4 1249.3 L871.4 1249.4 L872.4 1249.4 L873.4 1249.4 L874.4 1249.6 L875.4 1249.7 L876.4 1249.7 L877.4 1249.6 L878.4 1249.4 L879.5 1249.3 L880.5 1249.3 L881.5 1249.3 L882.5 1249.4 L883.5 1249.4 L884.5 1249.2 L885.5 1249.1 L886.5 1248.9 L887.5 1248.9 L888.5 1249.1 L889.5 1249.3 L890.5 1249.6 L891.6 1249.9 L892.6 1250.2 L893.6 1250.4 L894.6 1250.4 L895.6 1250.5 L896.6 1250.4 L897.6 1250.4 L898.6 1250.6 L899.6 1250.8 L900.6 1251 L901.6 1251 L902.6 1250.9 L903.7 1250.6 L904.7 1250.6 L905.7 1250.7 L906.7 1250.9 L907.7 1251 L908.7 1251 L909.7 1250.7 L910.7 1250.4 L911.7 1250.3 L912.7 1250.5 L913.7 1250.6 L914.7 1250.5 L915.7 1250.2 L916.7 1249.9 L917.8 1249.8 L918.8 1249.9 L919.8 1250 L920.8 1250.1 L921.8 1250.1 L922.8 1249.9 L923.8 1249.7 L924.8 1249.4 L925.8 1249.2 L926.8 1249.2 L927.8 1249.2 L928.8 1249.2 L929.8 1249.2 L930.8 1249.1 L931.8 1249.1 L932.8 1249 L933.8 1248.8 L934.9 1248.5 L935.9 1248 L936.9 1247.6 L937.9 1247.3 L938.9 1247.2 L939.9 1246.9 L940.9 1246.4 L941.9 1245.8 L942.9 1245.4 L943.9 1245.3 L944.9 1245.4 L945.9 1245.5 L946.9 1245.4 L947.9 1245.2 L948.9 1245 L949.9 1245 L950.9 1245.1 L952 1245.3 L953 1245.4 L954 1245.4 L955 1245.2 L956 1245 L957 1244.8 L958 1244.8 L959 1244.8 L960 1244.9 L961 1245 L962 1245 L963.1 1244.8 L964.1 1244.7 L965.1 1244.7 L966.1 1244.8 L967.1 1244.9 L968.1 1244.9 L969.2 1244.9 L970.2 1244.9 L971.2 1244.9 L972.2 1244.8 L973.2 1244.6 L974.2 1244.3 L975.3 1244 L976.3 1243.9 L977.3 1244 L978.3 1244.2 L979.3 1244.3 L980.4 1244.3 L981.4 1244.1 L982.4 1243.9 L983.4 1243.7 L984.4 1243.6 L985.4 1243.6 L986.5 1243.7 L987.5 1243.8 L988.5 1243.8 L989.5 1243.7 L990.5 1243.5 L991.5 1243.4 L992.6 1243.2 L993.6 1243.2 L994.6 1243.2 L995.6 1243.2 L996.6 1243.2 L997.6 1243.2 L998.7 1243 L999.7 1242.9 L1000.7 1243.1 L1001.7 1243.7 L1002.8 1244.5 L1003.8 1245.4 L1004.9 1246.3 L1005.9 1247.2 L1007 1248.1 L1008 1249 L1009 1249.7 L1010 1250.3 L1011.1 1250.8 L1012.1 1251.4 L1013.1 1252.1 L1014.1 1253 L1015.2 1253.9 L1016.2 1254.8 L1017.2 1255.4 L1018.3 1255.1 L1019.4 1254.7 L1020.5 1254.4 L1021.6 1254.3 L1022.8 1254.1 L1023.9 1253.8 L1025 1253.2 L1026.1 1252.6 L1027.1 1252.3 L1028.1 1252.1 L1029.2 1252.2 L1030.2 1252.2 L1031.2 1252.3 L1032.2 1252.2 L1033.2 1251.9 L1034.3 1251.4 L1035.3 1250.9 L1036.3 1250.3 L1037.3 1249.8 L1038.3 1249.3 L1039.3 1248.8 L1040.4 1248.2 L1041.4 1247.6 L1042.4 1247 L1043.4 1246.6 L1044.4 1246.2 L1045.4 1245.9 L1046.4 1245.7 L1047.5 1245.3 L1048.5 1244.9 L1049.5 1244.4 L1050.5 1243.9 L1051.5 1243.5 L1052.5 1243.2 L1053.6 1242.9 L1054.6 1242.6 L1055.6 1242.2 L1056.6 1241.8 L1057.6 1241.8 L1058.6 1241.9 L1059.6 1242.2 L1060.7 1242.5 L1061.7 1242.6 L1062.7 1242.7 L1063.7 1242.6 L1064.7 1242.4 L1065.8 1242.3 L1066.8 1242.3 L1067.8 1242.3 L1068.8 1242.3 L1069.8 1242.4 L1070.8 1242.4 L1071.8 1242.4 L1072.9 1242.4 L1073.9 1242.4 L1074.9 1242.3 L1075.9 1242.2 L1076.9 1242.2 L1077.9 1242.1 L1079 1242.1 L1080 1242.1 L1081 1242 L1082 1241.7 L1083 1241.5 L1084 1241.2 L1085.1 1240.9 L1086.1 1240.8 L1087.1 1240.8 L1088.2 1241.1 L1089.3 1241.5 L1090.4 1241.8 L1091.5 1242.1 L1092.6 1242.2 L1093.7 1242.4 L1094.8 1242.6 L1095.8 1242.6 L1096.8 1242.7 L1097.8 1242.7 L1098.9 1242.6 L1099.9 1242.4 L1100.9 1242 L1101.9 1241.9 L1102.9 1242 L1104 1242.1 L1105 1241.9 L1106 1241.8 L1107 1241.6 L1108 1241.4 L1109 1241.1 L1110 1240.9 L1111.1 1240.6 L1112.1 1240.4 L1113.1 1240.3 L1114.1 1240.3 L1115.1 1240.4 L1116.1 1240.4 L1117.2 1240.3 L1118.2 1240.1 L1119.2 1239.9 L1120.2 1239.7 L1121.2 1239.5 L1122.2 1239.3 L1123.3 1239.2 L1124.3 1239 L1125.3 1238.8 L1126.3 1238.6 L1127.3 1238.4 L1128.3 1238.3 L1129.3 1238.3 L1130.3 1238.3 L1131.3 1238.5 L1132.3 1238.8 L1133.3 1239 L1134.3 1239.3 L1135.3 1239.4 L1136.3 1239.4 L1137.3 1239.1 L1138.3 1238.7 L1139.3 1238.4 L1140.3 1238.2 L1141.3 1238.1 L1142.3 1238 L1143.3 1237.9 L1144.3 1237.8 L1145.3 1237.8 L1146.3 1237.8 L1147.3 1238 L1148.3 1238.2 L1149.3 1238.4 L1150.3 1238.7 L1151.3 1239 L1152.3 1239.1 L1153.3 1239.1 L1154.3 1238.9 L1155.3 1238.7 L1156.3 1238.4 L1157.3 1238.2 L1158.3 1238.2 L1159.3 1238.2 L1160.3 1238 L1161.3 1237.7 L1162.3 1237.4 L1163.3 1237.1 L1164.3 1236.9 L1165.3 1236.8 L1166.3 1236.8 L1167.3 1236.8 L1168.3 1236.9 L1169.3 1236.9 L1170.3 1236.7 L1171.3 1236.5 L1172.3 1236.4 L1173.3 1236.4 L1174.3 1236.6 L1175.3 1236.8 L1176.3 1237 L1177.3 1237.1 L1178.3 1237.1 L1179.3 1237 L1180.3 1237 L1181.3 1237 L1182.3 1237.2 L1183.3 1237.5 L1184.3 1237.8 L1185.3 1237.9 L1186.3 1238 L1187.3 1237.9 L1188.3 1237.9 L1189.3 1237.9 L1190.3 1238 L1191.3 1238.2 L1192.3 1238.2 L1193.3 1237.9 L1194.3 1237.5 L1195.3 1237.1 L1196.3 1236.9 L1197.3 1236.8 L1198.3 1236.7 L1199.3 1236.5 L1200.3 1236.4 L1201.3 1236.3 L1202.3 1236.2 L1203.3 1236.1 L1204.3 1235.9 L1205.3 1235.6 L1206.3 1235.4 L1207.3 1235.3 L1208.3 1235.3 L1209.3 1235.4 L1210.3 1235.5 L1211.3 1235.8 L1212.3 1236 L1213.3 1236.2 L1214.3 1236.1 L1215.3 1236 L1216.3 1236 L1217.3 1236.1 L1218.3 1236.3 L1219.3 1236.5 L1220.3 1236.7 L1221.4 1236.6 L1222.4 1236.6 L1223.4 1236.5 L1224.4 1236.4 L1225.4 1236.2 L1226.4 1236 L1227.4 1235.9 L1228.4 1235.9 L1229.4 1235.9 L1230.4 1235.6 L1231.4 1235.2 L1232.4 1235 L1233.5 1235.1 L1234.5 1235.4 L1235.5 1235.8 L1236.5 1236.1 L1237.5 1237 L1238.5 1238 L1239.5 1238.1 L1240.5 1236.5 L1241.5 1235 L1242.5 1235.2 L1243.5 1236.8 L1244.5 1238.3 L1245.5 1239.3 L1246.6 1237.4 L1247.6 1235.5 L1248.6 1233.6 L1249.6 1232.4 L1250.6 1231.3 L1251.6 1231.5 L1252.6 1232.7 L1253.6 1233.6 L1254.6 1233.4 L1255.6 1232.7 L1256.6 1231.7 L1257.6 1230.7 L1258.6 1231.6 L1259.7 1233.1 L1260.7 1234.4 L1261.7 1234.2 L1262.7 1233.2 L1263.7 1231.9 L1264.7 1231.2 L1265.7 1232 L1266.7 1233.6 L1267.7 1234.1 L1268.7 1233.1 L1269.7 1231.7 L1270.7 1231.3 L1271.8 1232.1 L1272.8 1233.3 L1273.8 1234.1 L1274.8 1234.5 L1275.8 1234.8 L1276.8 1235.7 L1277.8 1236.2 L1278.8 1236.9 L1279.8 1236.1 L1280.8 1235.5 L1281.8 1234.9 L1282.8 1235.2 L1283.8 1235.3 L1284.8 1235.4 L1285.8 1234.8 L1286.8 1233.5 L1287.8 1232.2 L1288.8 1231.5 L1289.8 1232.6 L1290.8 1233.7 L1291.8 1234.7 L1292.8 1234.6 L1293.8 1234.4 L1294.8 1234.3 L1295.8 1233.9 L1296.8 1233.6 L1297.8 1233.1 L1298.8 1233.5 L1299.8 1234.1 L1300.8 1234.8 L1301.8 1236 L1302.8 1237.7 L1303.8 1239.3 L1304.8 1238.6 L1305.8 1237 L1307.2 1235.6 L1308.5 1238.3 L1309.6 1245.7 L1310.8 1255.3 L1311.9 1264.7 L1312.9 1273.8 L1314 1282.6 L1315 1291.3 L1316 1300.1 L1317.1 1309.3 L1318.2 1318.7 L1319.2 1328.2 L1320.3 1333.1 L1321.5 1328.8 L1322.8 1319.8 L1324 1310.5 L1325 1300.7 L1326.1 1290.8 L1327.1 1286.1 L1328.2 1292 L1329.4 1303.1 L1330.5 1311.6 L1331.7 1315.2 L1332.8 1316.5 L1334 1318.6 L1335.1 1322 L1336.2 1326.2 L1337.3 1330.3 L1338.5 1334.5 L1339.6 1338.7 L1340.7 1341.7 L1341.8 1342 L1342.8 1341 L1343.9 1339.6 L1345 1337.4 L1346 1333.8 L1347.1 1329.8 L1348.2 1326 L1349.2 1321 L1350.5 1313 L1351.7 1303.6 L1353 1293.2 L1354.5 1281 L1355.9 1270.8 L1357 1266.2 L1358.2 1264.2 L1359.3 1261.4 L1360.4 1257 L1361.6 1251.9 L1362.7 1248.1 L1363.7 1246.6 L1364.8 1246.1 L1365.8 1245.5 L1366.9 1245 L1367.9 1244.7 L1369 1244.6 L1370 1244.4 L1371.1 1243.9 L1372.1 1243.4 L1373.2 1243 L1374.2 1242.8 L1375.3 1242.6 L1376.3 1242.5 L1377.3 1242.2 L1378.3 1242 L1379.3 1241.7 L1380.3 1241.3 L1381.3 1241.1 L1382.3 1241.3 L1383.3 1241.6 L1384.3 1241.8 L1385.3 1241.7 L1386.3 1243.5 L1387.3 1245.5 L1388.3 1246.5 L1389.3 1243.8 L1390.4 1241.2 L1391.4 1240.3 L1392.4 1240.6 L1393.4 1241.9 L1394.4 1243.7 L1395.4 1245.4 L1396.4 1244.4 L1397.4 1242.3 L1398.4 1240.1 L1399.4 1239.2 L1400.4 1237.2 L1401.4 1235.3 L1402.4 1234.9 L1403.4 1236.7 L1404.4 1238.5 L1405.4 1238.5 L1406.5 1238 L1407.5 1238.4 L1408.5 1241.7 L1409.5 1245.5 L1410.5 1245.3 L1411.5 1242.2 L1412.6 1238.6 L1413.6 1238.2 L1414.6 1240.2 L1415.6 1242.5 L1416.6 1245 L1417.6 1243.2 L1418.7 1241.3 L1419.7 1239.3 L1420.7 1240.4 L1421.7 1242.4 L1422.7 1244.3 L1423.7 1242.3 L1424.8 1240.4 L1425.8 1239.3 L1426.8 1239.2 L1427.8 1238.9 L1428.8 1240.3 L1429.8 1241.8 L1430.9 1243.4 L1431.9 1242.3 L1432.9 1240.5 L1433.9 1238.9 L1434.9 1238.6 L1435.9 1239 L1436.9 1239 L1437.9 1238.9 L1439 1241.7 L1440 1246 L1441 1250.5 L1442 1246.9 L1443 1243.4 L1444 1241.2 L1445 1243.7 L1446.1 1246.4 L1447.1 1249.3 L1448.2 1248.6 L1449.2 1245.5 L1450.3 1242.5 L1451.3 1245.3 L1452.4 1250.2 L1453.4 1254.1 L1454.5 1248.8 L1455.5 1243.3 L1456.6 1238.9 L1457.6 1238.3 L1458.6 1235.5 L1459.7 1232.9 L1460.7 1230.2 L1461.8 1233.3 L1462.8 1236.2 L1463.9 1239 L1464.9 1238.5 L1466 1236.5 L1467 1234.7 L1468.1 1234.9 L1469.1 1237.4 L1470.2 1237.7 L1471.2 1236.1 L1472.3 1232.5 L1473.3 1232 L1474.4 1234.6 L1475.4 1237.4 L1476.5 1238.7 L1477.5 1237.8 L1478.6 1235.8 L1479.7 1233 L1480.7 1230.4 L1481.8 1232.8 L1482.8 1235.4 L1483.9 1236.8 L1484.9 1236.3 L1486 1235.7 L1487 1235.3 L1488.1 1235.1 L1489.1 1236.5 L1490.1 1237.9 L1491.1 1238.1 L1492.1 1235.7 L1493.1 1233 L1494.1 1231.3 L1495.1 1230.6 L1496.1 1232.5 L1497.1 1235.9 L1498.1 1239 L1499.1 1236.3 L1500.1 1233 L1501.1 1230.4 L1502.1 1231.1 L1503.1 1232.5 L1504.1 1233.4 L1505.1 1233.1 L1506.1 1231.3 L1507.1 1230 L1508.1 1229.1 L1509.2 1229.3 L1510.2 1229.7 L1511.2 1230.8 L1512.2 1231.6 L1513.2 1230.9 L1514.2 1229.6 L1515.2 1228.8 L1516.3 1229.3 L1517.3 1229.6 L1518.3 1229.7 L1519.3 1231.4 L1520.3 1233.5 L1521.3 1234.7 L1522.4 1233 L1523.4 1231.1 L1524.4 1230.1 L1525.4 1231.3 L1526.4 1232.9 L1527.5 1235.1 L1528.5 1235 L1529.6 1234.1 L1530.6 1232.9 L1531.7 1232.4 L1532.7 1233.1 L1533.8 1235.2 L1534.8 1237.8 L1535.9 1237.4 L1536.9 1236.2 L1538 1235 L1539 1235.1 L1540 1235.3 L1541 1235.6 L1542.1 1236.8 L1543.1 1239.2 L1544.1 1241.6 L1545.1 1240.5 L1546.1 1239.3 L1547.2 1239 L1548.2 1239.9 L1549.2 1240.4 L1550.3 1240.2 L1551.3 1240.6 L1552.4 1241.2 L1553.4 1240 L1554.5 1238.5 L1555.5 1237.7 L1556.6 1237.6 L1557.7 1237.5 L1558.7 1237.3 L1559.8 1236.2 L1560.8 1234.9 L1561.9 1233.6 L1562.9 1233.5 L1564 1233.7 L1565 1234 L1566.1 1233.9 L1567.1 1233.8 L1568.1 1233.7 L1569.1 1233.6 L1570.1 1233.4 L1571.1 1233.2 L1572.1 1232.7 L1573.2 1232.2 L1574.2 1231.9 L1575.2 1231.9 L1576.2 1232.2 L1577.2 1232.4 L1578.2 1232.4 L1579.2 1232 L1580.2 1231.5 L1581.2 1231.2 L1582.2 1231 L1583.2 1230.7 L1584.2 1230.4 L1585.3 1230.2 L1586.3 1230.1 L1587.3 1230.2 L1588.3 1230.2 L1589.3 1230.2 L1590.3 1229.9 L1591.3 1229.6 L1592.3 1229.2 L1593.3 1228.9 L1594.3 1228.7 L1595.3 1228.7 L1596.3 1228.6 L1597.4 1228.5 L1598.4 1228.2 L1599.4 1227.8 L1600.4 1227.5 L1601.4 1227.4 L1602.4 1227.3 L1603.4 1227.6 L1604.5 1228.3 L1605.5 1229.1 L1606.6 1229.7 L1607.7 1230.3 L1608.7 1230.9 L1609.8 1231.6 L1610.8 1232.5 L1611.9 1234.1 L1612.9 1236.7 L1613.9 1239.7 L1615 1242.6 L1616 1245.3 L1617 1248.3 L1618 1251.4 L1619.1 1254.6 L1620.1 1257.6 L1621.2 1260.5 L1622.2 1263.2 L1623.3 1265.9 L1624.3 1268.6 L1625.4 1270.5 L1626.6 1270.6 L1627.7 1269.9 L1628.8 1268.9 L1630 1267.4 L1631 1265.5 L1632.1 1263.6 L1633.1 1261.9 L1634.2 1260.1 L1635.2 1258.3 L1636.3 1256.5 L1637.3 1254.5 L1638.4 1252.2 L1639.5 1249.8 L1640.7 1247.3 L1641.8 1244.8 L1642.9 1242.4 L1644 1240.3 L1645.1 1239 L1646.3 1237.9 L1647.4 1236.8 L1648.5 1235.9 L1649.7 1235.2 L1650.8 1234.6 L1651.9 1234.2 L1653 1234 L1654 1233.7 L1655.1 1233.6 L1656.2 1233.7 L1657.3 1234 L1658.4 1234.3 L1659.5 1234.5 L1660.5 1234.6 L1661.6 1234.6 L1662.7 1235.3 L1663.8 1237.3 L1665 1239.7 L1666.1 1242.1 L1667.2 1244.2 L1668.4 1246.2 L1669.5 1249.7 L1670.6 1256.2 L1671.8 1264.4 L1672.9 1272.5 L1674 1280.6 L1675 1289.1 L1676 1297.8 L1677 1306.7 L1678 1312.4 L1679 1311.1 L1680 1306.3 L1681.1 1301.5 L1682.1 1296.7 L1683.1 1292.1 L1684.1 1287.7 L1685.1 1283.4 L1686.1 1279.2 L1687.1 1274.9 L1688.1 1273 L1689.1 1276.2 L1690.1 1281.8 L1691.2 1287.4 L1692.2 1293.1 L1693.2 1298.9 L1694.2 1301.8 L1695.4 1298.9 L1696.6 1293 L1697.8 1286.9 L1699 1281.1 L1700 1276.1 L1701 1271.7 L1702 1267.5 L1703.1 1263.3 L1704.1 1259.1 L1705.1 1255.3 L1706.1 1252.3 L1707.1 1249.7 L1708.2 1247.1 L1709.2 1244.6 L1710.2 1242.3 L1711.2 1240.1 L1712.2 1237.9 L1713.3 1235.5 L1714.3 1233.1 L1715.3 1231.3 L1716.3 1230.8 L1717.3 1230.8 L1718.3 1230.9 L1719.3 1230.9 L1720.3 1230.7 L1721.3 1230 L1722.3 1229.4 L1723.3 1228.9 L1724.3 1228.5 L1725.3 1228.1 L1726.3 1227.5 L1727.3 1226.8 L1728.3 1226.4 L1729.4 1226.2 L1730.4 1226.2 L1731.4 1226.3 L1732.4 1226.3 L1733.4 1226.2 L1734.4 1226 L1735.4 1225.7 L1736.4 1225.3 L1737.4 1225.1 L1738.4 1225 L1739.4 1225 L1740.4 1225 L1741.4 1224.9 L1742.4 1224.7" fill="none" stroke="#808080" stroke-width="4.6" stroke-linejoin="round" stroke-linecap="round"/>
<path d="M145 1385.1 L146 1384.7 L147 1384.2 L148 1383.8 L149 1383.8 L150 1384.3 L151 1384.5 L152 1383.9 L153 1383.3 L154 1383.4 L155 1383.8 L156 1384.8 L157 1386.1 L158 1387.4 L159 1388.1 L160 1387.4 L161 1386.5 L162 1385.3 L163 1384.5 L164 1384 L165 1383.9 L166 1384.6 L167 1385.7 L168 1387 L169 1388 L170 1387.8 L171 1387.3 L172 1386.1 L173 1384.9 L174 1383.9 L175 1382.9 L176 1383.2 L177 1384.3 L178 1385.8 L179 1386.8 L180 1387.5 L181 1389 L182 1390.3 L183 1391.2 L184 1389.6 L185 1387.8 L186 1385.9 L187 1385.7 L188 1385.5 L189 1385.2 L190 1384.9 L191 1384.6 L192 1384.5 L193 1384.6 L194 1384.9 L195 1385 L196 1385.6 L197 1387.6 L198 1389.8 L199 1391.4 L200 1389.8 L201 1387.7 L202 1385.9 L203 1386.1 L204 1386.8 L205 1386.5 L206 1385.7 L207 1384.8 L208 1385.5 L209 1386.3 L210 1387 L211 1386.5 L212 1388 L213 1390 L214 1391.4 L215 1390.6 L216 1389.3 L217 1389.1 L218 1389 L219 1388.9 L220 1387 L221 1385.5 L222 1385.1 L223 1385.5 L224 1386.7 L225 1387.7 L226 1388.7 L227 1386.8 L228 1385 L229 1384.2 L230 1386.6 L231 1389.1 L232 1391.2 L233 1389.8 L234 1387.6 L235 1385.4 L236 1384.2 L237 1383.7 L238 1383.8 L239 1383.6 L240 1383 L241 1382.5 L242 1382 L243 1382.4 L244 1382.6 L245 1383.2 L246 1383.6 L247 1384 L248 1384.4 L249 1385.8 L250 1386.8 L251 1387.4 L252 1386.9 L253 1385.6 L254 1384.6 L255 1384.1 L256 1385.4 L257 1386 L258 1386 L259 1384.3 L260 1383.9 L261 1384.3 L262 1385.3 L263 1385.1 L264 1385.7 L265 1387 L266 1388.4 L267 1386.5 L268 1384.5 L269 1382.9 L270 1384.5 L271 1386.4 L272 1386.9 L273 1385 L274 1382.7 L275 1381.6 L276 1382.4 L277 1383.5 L278 1384.5 L279 1386.7 L280 1389.3 L281 1391.6 L282 1389.2 L283 1385.8 L284 1382 L285 1379.9 L286 1378.8 L287 1381.1 L288 1384.3 L289 1386.9 L290 1385.3 L291 1382.6 L292 1380.1 L293 1379.9 L294 1380.7 L295 1382.7 L296 1385.4 L297 1387.7 L298 1388.3 L299 1386.3 L300 1384.2 L301 1382 L302 1380.9 L303 1379.6 L304 1378.3 L305 1379.3 L306 1382.7 L307 1386.6 L308 1387.1 L309 1384.7 L310 1381.8 L311 1379.1 L312 1378.2 L313 1377.6 L314 1379.6 L315 1381.2 L316 1381.8 L317 1381.6 L318 1381.8 L319 1382.7 L320 1382.4 L321 1381.7 L322 1379.6 L323 1377.5 L324 1375.4 L325.1 1374.9 L326.1 1375.8 L327.1 1377.3 L328.1 1379.2 L329.1 1381.6 L330.1 1385.7 L331.1 1389.1 L332.1 1390.4 L333.1 1386.5 L334.1 1383.3 L335.1 1381.6 L336.1 1386.2 L337.2 1390.2 L338.2 1389.2 L339.2 1384 L340.2 1379.5 L341.2 1379.6 L342.2 1380.8 L343.2 1382.1 L344.2 1383.1 L345.2 1381.8 L346.2 1380.1 L347.2 1377.9 L348.2 1379 L349.2 1380.2 L350.3 1382.3 L351.3 1383.8 L352.3 1386.4 L353.3 1387.4 L354.3 1387.5 L355.3 1385.9 L356.3 1384.2 L357.3 1384 L358.3 1384.7 L359.3 1388 L360.3 1390.4 L361.3 1392.3 L362.3 1390.1 L363.4 1387.2 L364.4 1384.7 L365.4 1384.4 L366.4 1385.1 L367.4 1387.9 L368.4 1391.3 L369.4 1393.8 L370.4 1391.1 L371.4 1388.1 L372.4 1386 L373.4 1387.2 L374.4 1389.6 L375.5 1392.1 L376.5 1394.2 L377.5 1394 L378.5 1392.3 L379.5 1389.5 L380.5 1386.9 L381.5 1385.3 L382.5 1384 L383.6 1383.8 L384.6 1384.3 L385.7 1387.1 L386.7 1389.7 L387.8 1391.4 L388.8 1393.2 L389.9 1394.8 L390.9 1394.1 L392 1393.4 L393 1394.2 L394.1 1397.9 L395.1 1401.2 L396.2 1401.7 L397.2 1399.2 L398.3 1396.9 L399.3 1397.3 L400.3 1398.7 L401.3 1401.1 L402.4 1404.6 L403.4 1407.3 L404.4 1408.4 L405.4 1406.2 L406.4 1405.3 L407.5 1405.2 L408.5 1406.6 L409.5 1407 L410.5 1408 L411.5 1409.8 L412.6 1412.6 L413.6 1413.5 L414.6 1413.6 L415.6 1412.6 L416.6 1413.3 L417.6 1413.6 L418.7 1413.6 L419.7 1410.6 L420.7 1408.4 L421.7 1407.5 L422.7 1410.9 L423.7 1414.2 L424.7 1415.2 L425.7 1412.8 L426.8 1409.7 L427.8 1408.6 L428.8 1408.6 L429.8 1409.9 L430.8 1411.1 L431.8 1411.2 L432.8 1410.6 L433.9 1410 L434.9 1409.5 L435.9 1409.2 L436.9 1409.1 L437.9 1409 L438.9 1409 L439.9 1409.1 L440.9 1409.2 L442 1409.4 L443 1409.3 L444 1409.2 L445 1409 L446 1408.9 L447 1408.8 L448 1408.8 L449 1408.8 L450 1408.8 L451 1408.6 L452 1408.4 L453 1408.2 L454 1408.1 L455 1408.2 L456 1408.3 L457 1408.3 L458 1408.1 L459 1407.7 L460 1407.3 L461 1406.9 L462 1406.6 L463 1406.5 L464 1406.4 L465 1406.4 L466 1406.4 L467 1406.2 L468 1406 L469 1405.8 L470 1405.6 L471 1405.5 L472 1405.4 L473 1405.3 L474 1405.2 L475 1405.2 L476 1405.2 L477 1405.1 L478 1404.9 L479 1404.6 L480 1404.3 L481 1404 L482 1403.8 L483 1403.6 L484 1403.4 L485 1403.2 L486 1403.1 L487 1403.1 L488 1403.1 L489 1403.1 L490 1402.9 L491 1402.7 L492 1402.6 L493 1402.6 L494 1402.7 L495 1402.7 L496 1402.5 L497 1402.1 L498 1401.7 L499 1401.2 L500 1400.9 L501 1400.7 L502 1400.7 L503 1400.4 L504 1399.9 L505 1399.5 L506 1399.3 L507 1399.2 L508 1399.2 L509 1399.2 L510 1399.1 L511 1399 L512 1398.9 L513 1398.7 L514 1398.4 L515 1398 L516 1397.5 L517 1397.1 L518 1396.7 L519 1396.5 L520 1396.3 L521 1396.2 L522 1395.9 L523 1395.4 L524 1394.8 L525 1394.4 L526 1394.3 L527 1394.1 L528 1393.8 L529 1393.6 L530 1393.6 L531 1393.7 L532 1393.8 L533 1394 L534 1394.1 L535 1394 L536 1393.7 L537 1393.2 L538 1392.8 L539 1392.6 L540 1392.4 L541 1392.1 L542 1391.7 L543 1391.3 L544.1 1390.9 L545.1 1390.7 L546.1 1390.6 L547.1 1390.6 L548.1 1390.7 L549.1 1390.7 L550.2 1390.7 L551.2 1390.5 L552.2 1390.3 L553.2 1390 L554.2 1389.8 L555.2 1389.5 L556.3 1389.2 L557.3 1389 L558.3 1388.9 L559.3 1388.9 L560.3 1388.8 L561.3 1388.7 L562.4 1388.4 L563.4 1388 L564.4 1387.5 L565.4 1387.1 L566.4 1386.9 L567.4 1386.8 L568.4 1386.7 L569.4 1386.6 L570.5 1386.4 L571.5 1386.1 L572.5 1385.7 L573.5 1385.3 L574.5 1384.9 L575.5 1384.7 L576.5 1384.5 L577.5 1384.5 L578.5 1384.5 L579.5 1384.5 L580.6 1384.6 L581.6 1384.7 L582.6 1384.8 L583.6 1384.7 L584.6 1384.3 L585.6 1384.1 L586.6 1384.1 L587.6 1384.2 L588.6 1384.3 L589.6 1384.2 L590.7 1384 L591.7 1383.7 L592.7 1383.5 L593.7 1383.3 L594.7 1383.2 L595.7 1383.2 L596.7 1383.1 L597.7 1382.8 L598.7 1382.5 L599.8 1382.1 L600.8 1381.9 L601.8 1382 L602.8 1382.2 L603.8 1382.4 L604.8 1382.5 L605.8 1382.5 L606.8 1382.4 L607.8 1382.2 L608.8 1382.1 L609.9 1382 L610.9 1382.1 L611.9 1382.1 L612.9 1382.2 L613.9 1382.2 L614.9 1382.1 L615.9 1381.9 L616.9 1381.7 L617.9 1381.5 L618.9 1381.5 L620 1381.5 L621 1381.4 L622 1381.1 L623 1380.7 L624 1380.4 L625 1380 L626.1 1379.7 L627.1 1379.3 L628.1 1378.9 L629.2 1378.5 L630.2 1377.9 L631.3 1377.4 L632.3 1377 L633.3 1376.6 L634.4 1376.3 L635.4 1376 L636.4 1375.5 L637.5 1375 L638.5 1374.4 L639.5 1373.8 L640.6 1373.4 L641.6 1373.3 L642.7 1373.2 L643.7 1373.1 L644.7 1372.8 L645.8 1372.4 L646.8 1372.2 L647.8 1372.3 L648.8 1372.4 L649.9 1372.3 L650.9 1372.2 L651.9 1372.1 L652.9 1371.8 L653.9 1371.6 L655 1371.2 L656 1371 L657 1371 L658.1 1371.4 L659.1 1372.1 L660.2 1372.8 L661.2 1373.4 L662.3 1373.8 L663.4 1374.1 L664.4 1374.4 L665.5 1375.1 L666.5 1375.8 L667.6 1376.3 L668.6 1376.7 L669.7 1376.8 L670.7 1376.5 L671.8 1376 L672.8 1375.4 L673.9 1374.9 L674.9 1374.5 L675.9 1374.3 L677 1374.2 L678 1374.2 L679.1 1374 L680.1 1373.8 L681.2 1373.2 L682.2 1372.7 L683.2 1372.4 L684.3 1372.2 L685.3 1372 L686.4 1371.8 L687.4 1371.3 L688.4 1370.8 L689.5 1370.3 L690.5 1369.9 L691.6 1369.8 L692.6 1370 L693.7 1370.7 L694.8 1371.4 L695.9 1372.1 L697 1373.4 L698.1 1376.1 L699.3 1379.2 L700.4 1382.2 L701.6 1385.3 L702.7 1387.8 L703.8 1389.1 L704.8 1389.8 L705.9 1390.5 L707 1391.1 L708 1391.6 L709.1 1391.5 L710.2 1390.3 L711.4 1388.5 L712.5 1386.9 L713.7 1385.2 L714.9 1383.4 L716 1381.6 L717 1380.2 L718 1379.1 L719 1378.2 L720.1 1377.4 L721.1 1376.3 L722.1 1374.9 L723.1 1373.7 L724.1 1372.6 L725.2 1371.8 L726.2 1370.9 L727.2 1370 L728.2 1369 L729.3 1368.5 L730.3 1368.3 L731.4 1368.4 L732.4 1368.5 L733.5 1368.7 L734.5 1368.7 L735.6 1368.7 L736.7 1368.6 L737.7 1368.7 L738.8 1368.9 L739.8 1369.3 L740.9 1369.5 L741.9 1369.4 L743 1369 L744 1368.5 L745 1367.8 L746.1 1367.1 L747.1 1366.6 L748.2 1366.1 L749.2 1365.7 L750.2 1365.4 L751.3 1365.1 L752.3 1365 L753.3 1364.8 L754.4 1364.5 L755.4 1364.2 L756.4 1364 L757.5 1363.9 L758.5 1364 L759.6 1364 L760.6 1363.7 L761.6 1363.2 L762.7 1362.5 L763.7 1361.8 L764.7 1361.4 L765.7 1361.2 L766.8 1361.2 L767.8 1361.2 L768.8 1361.3 L769.8 1361.4 L770.8 1361.4 L771.9 1361.3 L772.9 1361.2 L773.9 1361.2 L774.9 1361.2 L775.9 1361.2 L777 1361.1 L778 1360.9 L779 1360.8 L780 1360.7 L781 1360.7 L782.1 1360.5 L783.1 1360.2 L784.1 1359.8 L785.1 1359.5 L786.1 1359.5 L787.2 1359.6 L788.2 1359.7 L789.2 1359.9 L790.2 1359.9 L791.2 1359.9 L792.3 1359.8 L793.3 1359.8 L794.3 1359.7 L795.3 1359.7 L796.3 1359.7 L797.3 1359.7 L798.4 1359.7 L799.4 1359.6 L800.4 1359.4 L801.4 1359.1 L802.4 1358.8 L803.4 1358.6 L804.5 1358.5 L805.5 1358.5 L806.5 1358.6 L807.5 1358.5 L808.5 1358.4 L809.5 1358.3 L810.6 1358.2 L811.6 1358.1 L812.6 1358 L813.6 1357.9 L814.6 1357.7 L815.6 1357.5 L816.7 1357.3 L817.7 1357 L818.7 1356.8 L819.7 1356.6 L820.7 1356.5 L821.7 1356.5 L822.8 1356.4 L823.8 1356.3 L824.8 1356.1 L825.8 1355.9 L826.8 1355.7 L827.8 1355.6 L828.9 1355.6 L829.9 1355.7 L830.9 1355.6 L831.9 1355.6 L832.9 1355.5 L833.9 1355.4 L835 1355.2 L836 1355 L837 1354.7 L838 1354.4 L839 1354.3 L840 1354.2 L841.1 1354 L842.1 1353.7 L843.1 1353.4 L844.1 1353 L845.1 1352.7 L846.1 1352.4 L847.2 1352.2 L848.2 1352 L849.2 1351.9 L850.2 1352 L851.2 1352.1 L852.2 1352.1 L853.2 1352 L854.2 1352 L855.2 1352.2 L856.3 1352.3 L857.3 1352.4 L858.3 1352.4 L859.3 1352.4 L860.3 1352.5 L861.3 1352.6 L862.3 1352.8 L863.3 1353 L864.3 1353.2 L865.3 1353.1 L866.3 1353 L867.3 1353 L868.4 1353 L869.4 1353.1 L870.4 1353.2 L871.4 1353 L872.4 1352.8 L873.4 1352.8 L874.4 1352.8 L875.4 1352.9 L876.4 1353.1 L877.4 1353.3 L878.4 1353.6 L879.5 1353.8 L880.5 1354 L881.5 1354.1 L882.5 1353.9 L883.5 1353.6 L884.5 1353.4 L885.5 1353.1 L886.5 1352.9 L887.5 1352.8 L888.5 1352.9 L889.5 1353.1 L890.5 1353.4 L891.6 1353.7 L892.6 1354 L893.6 1354.4 L894.6 1354.6 L895.6 1354.7 L896.6 1354.7 L897.6 1354.5 L898.6 1354.3 L899.6 1354.2 L900.6 1354.1 L901.6 1354.1 L902.6 1354.1 L903.7 1354.2 L904.7 1354.3 L905.7 1354.6 L906.7 1354.9 L907.7 1355.1 L908.7 1355.2 L909.7 1355 L910.7 1354.7 L911.7 1354.4 L912.8 1354.2 L913.8 1354 L914.8 1353.7 L915.8 1353.5 L916.8 1353.2 L917.8 1352.8 L918.9 1352.3 L919.9 1351.9 L920.9 1351.7 L921.9 1351.6 L922.9 1351.6 L923.9 1351.7 L924.9 1351.8 L926 1351.5 L927 1351.3 L928 1351.1 L929 1351 L930 1350.8 L931 1350.6 L932 1350.4 L933 1350.1 L934 1349.8 L935 1349.4 L936 1349.1 L937 1348.9 L938 1348.8 L939 1348.7 L940 1348.8 L941 1349 L942 1349 L943 1348.8 L944 1348.5 L945 1348.4 L946 1348.5 L947 1348.6 L948 1348.7 L949 1348.9 L950 1348.9 L951 1348.9 L952 1348.9 L953 1348.7 L954 1348.5 L955 1348.2 L956 1347.9 L957 1347.6 L958 1347.5 L959 1347.4 L960 1347.4 L961 1347.4 L962 1347.2 L963.1 1347 L964.1 1346.8 L965.1 1346.9 L966.1 1347.1 L967.1 1347.3 L968.1 1347.3 L969.2 1347.1 L970.2 1347 L971.2 1347 L972.2 1347.1 L973.2 1347.4 L974.2 1347.7 L975.3 1347.7 L976.3 1347.6 L977.3 1347.6 L978.3 1347.6 L979.3 1347.6 L980.4 1347.9 L981.4 1348.1 L982.4 1348.3 L983.4 1348.5 L984.4 1348.3 L985.4 1348.1 L986.5 1347.8 L987.5 1347.7 L988.5 1347.9 L989.5 1348.1 L990.5 1348 L991.5 1347.9 L992.6 1347.7 L993.6 1347.4 L994.6 1347.2 L995.6 1346.9 L996.6 1346.7 L997.6 1346.6 L998.7 1346.6 L999.7 1346.6 L1000.7 1346.8 L1001.7 1347.4 L1002.8 1348 L1003.8 1348.6 L1004.9 1349.2 L1005.9 1350 L1007 1350.9 L1008 1351.8 L1009 1352.5 L1010 1353 L1011.1 1353.6 L1012.1 1354.4 L1013.1 1355.3 L1014.1 1356.2 L1015.2 1357.1 L1016.2 1357.9 L1017.2 1358.1 L1018.3 1357.5 L1019.4 1356.6 L1020.5 1355.9 L1021.6 1355.3 L1022.8 1354.7 L1023.9 1353.9 L1025 1352.9 L1026.1 1352.2 L1027.2 1352 L1028.3 1352.3 L1029.4 1352.6 L1030.4 1352.8 L1031.5 1352.8 L1032.6 1352.7 L1033.7 1352.5 L1034.7 1352.1 L1035.8 1351.7 L1036.8 1351.2 L1037.9 1350.7 L1038.9 1349.9 L1040 1349.4 L1041 1349.2 L1042.1 1349.1 L1043.1 1348.8 L1044.2 1348.4 L1045.2 1348.2 L1046.3 1348 L1047.3 1347.9 L1048.4 1347.5 L1049.4 1346.7 L1050.5 1345.7 L1051.5 1344.9 L1052.5 1344.4 L1053.5 1344.2 L1054.6 1344.1 L1055.6 1343.9 L1056.6 1343.8 L1057.6 1343.8 L1058.6 1343.7 L1059.6 1343.6 L1060.7 1343.7 L1061.7 1344 L1062.7 1344.3 L1063.7 1344.5 L1064.7 1344.5 L1065.7 1344.5 L1066.8 1344.3 L1067.8 1344.1 L1068.8 1343.9 L1069.8 1343.9 L1070.8 1343.9 L1071.8 1343.9 L1072.9 1343.8 L1073.9 1343.5 L1074.9 1343.2 L1075.9 1342.9 L1076.9 1342.7 L1077.9 1342.5 L1079 1342.4 L1080 1342.4 L1081 1342.6 L1082 1342.7 L1083 1342.8 L1084 1342.8 L1085.1 1342.9 L1086.1 1343 L1087.1 1343.3 L1088.2 1343.8 L1089.3 1344.3 L1090.4 1344.6 L1091.5 1344.9 L1092.6 1345.3 L1093.7 1345.8 L1094.8 1346.3 L1095.8 1346.5 L1096.8 1346.2 L1097.8 1345.8 L1098.9 1345.4 L1099.9 1345.2 L1100.9 1345.2 L1101.9 1345.2 L1102.9 1345.2 L1104 1344.9 L1105 1344.3 L1106 1343.9 L1107 1343.7 L1108 1343.6 L1109 1343.6 L1110 1343.4 L1111.1 1343 L1112.1 1342.6 L1113.1 1342.2 L1114.1 1341.9 L1115.1 1341.7 L1116.1 1341.7 L1117.2 1341.6 L1118.2 1341.4 L1119.2 1341.1 L1120.2 1340.8 L1121.2 1340.6 L1122.2 1340.7 L1123.3 1340.9 L1124.3 1341.2 L1125.3 1341.3 L1126.3 1341.4 L1127.3 1341.4 L1128.3 1341.4 L1129.3 1341.4 L1130.3 1341.5 L1131.3 1341.5 L1132.3 1341.4 L1133.3 1341.1 L1134.3 1340.8 L1135.3 1340.6 L1136.3 1340.6 L1137.3 1340.7 L1138.3 1340.8 L1139.3 1340.7 L1140.3 1340.5 L1141.3 1340.4 L1142.3 1340.3 L1143.3 1340.5 L1144.3 1340.7 L1145.3 1340.8 L1146.3 1340.8 L1147.3 1340.7 L1148.3 1340.6 L1149.3 1340.5 L1150.3 1340.4 L1151.3 1340.6 L1152.3 1340.7 L1153.3 1340.7 L1154.3 1340.6 L1155.3 1340.4 L1156.3 1340.1 L1157.3 1339.9 L1158.3 1339.7 L1159.3 1339.5 L1160.3 1339.4 L1161.3 1339.3 L1162.3 1339.3 L1163.3 1339.3 L1164.3 1339.2 L1165.3 1338.9 L1166.3 1338.6 L1167.3 1338.5 L1168.3 1338.6 L1169.3 1338.7 L1170.3 1338.8 L1171.3 1338.8 L1172.3 1338.7 L1173.3 1338.7 L1174.3 1338.6 L1175.3 1338.5 L1176.3 1338.4 L1177.3 1338.4 L1178.3 1338.6 L1179.3 1339 L1180.3 1339.3 L1181.3 1339.5 L1182.3 1339.5 L1183.3 1339.5 L1184.3 1339.4 L1185.3 1339.3 L1186.3 1339.3 L1187.3 1339.3 L1188.3 1339.3 L1189.3 1339.2 L1190.3 1339.1 L1191.3 1339.1 L1192.3 1339.1 L1193.3 1339 L1194.3 1339 L1195.3 1338.9 L1196.3 1338.8 L1197.3 1339 L1198.3 1339.2 L1199.3 1339.5 L1200.3 1339.7 L1201.3 1339.6 L1202.3 1339.4 L1203.3 1339.3 L1204.3 1339.1 L1205.3 1339 L1206.3 1338.9 L1207.3 1338.9 L1208.3 1339.1 L1209.3 1339.2 L1210.3 1339.2 L1211.3 1339.1 L1212.3 1339.2 L1213.3 1339.3 L1214.3 1339.4 L1215.3 1339.3 L1216.3 1339.1 L1217.3 1339 L1218.3 1339.1 L1219.3 1339.2 L1220.3 1339.1 L1221.4 1338.9 L1222.4 1338.6 L1223.4 1338.5 L1224.4 1338.5 L1225.4 1338.4 L1226.4 1338.2 L1227.4 1337.9 L1228.4 1337.7 L1229.4 1337.7 L1230.4 1337.8 L1231.4 1337.8 L1232.4 1337.7 L1233.5 1337.7 L1234.5 1337.5 L1235.5 1337.3 L1236.5 1337.3 L1237.5 1337.8 L1238.5 1337.8 L1239.5 1336.9 L1240.5 1335.5 L1241.5 1334 L1242.5 1334.6 L1243.5 1335.6 L1244.5 1336.8 L1245.5 1337.3 L1246.6 1339.3 L1247.6 1341.3 L1248.6 1341.5 L1249.6 1339.5 L1250.6 1337.5 L1251.6 1336.9 L1252.6 1336.8 L1253.6 1337.1 L1254.6 1337.6 L1255.6 1339.2 L1256.6 1341.3 L1257.6 1343.1 L1258.6 1341.3 L1259.7 1339.2 L1260.7 1337.6 L1261.7 1337.6 L1262.7 1337.7 L1263.7 1338.2 L1264.7 1339.2 L1265.7 1340.2 L1266.7 1340.4 L1267.7 1339.2 L1268.7 1338.2 L1269.7 1337.6 L1270.7 1337.7 L1271.8 1337.5 L1272.8 1337.1 L1273.8 1337.7 L1274.8 1339.4 L1275.8 1341.2 L1276.8 1339.5 L1277.8 1337.5 L1278.8 1336.4 L1279.8 1336.1 L1280.8 1336.4 L1281.8 1337.6 L1282.8 1339.1 L1283.8 1339.2 L1284.8 1338.5 L1285.8 1337.8 L1286.8 1337.9 L1287.8 1337.8 L1288.8 1338.5 L1289.8 1339.7 L1290.8 1340.7 L1291.8 1339.5 L1292.8 1338.9 L1293.8 1340.2 L1294.8 1342 L1295.8 1343.7 L1296.8 1342.2 L1297.8 1340.2 L1298.8 1338 L1299.8 1336.9 L1300.8 1336.8 L1301.8 1337.9 L1302.8 1340.1 L1303.8 1342.4 L1304.8 1341 L1305.8 1339.3 L1307.2 1338.8 L1308.5 1341.6 L1309.7 1348.1 L1311 1356.3 L1312.2 1365.2 L1313.5 1376 L1314.7 1388 L1316 1399.2 L1317.1 1408.3 L1318.2 1416.2 L1319.2 1423.9 L1320.3 1427.5 L1321.5 1422.7 L1322.8 1413.7 L1324 1405.5 L1325 1398.6 L1326.1 1392.4 L1327.1 1389.9 L1328.2 1395.1 L1329.4 1404.2 L1330.5 1412 L1331.7 1416.6 L1332.8 1419.5 L1334 1422.3 L1335.1 1425 L1336.2 1427.5 L1337.2 1429.8 L1338.3 1431.2 L1339.5 1431 L1340.7 1430 L1341.8 1428.7 L1343 1427.2 L1344 1425.3 L1345.1 1423.5 L1346.1 1421.9 L1347.1 1420.3 L1348.2 1418.5 L1349.2 1415.6 L1350.4 1411 L1351.6 1405.6 L1352.8 1400.2 L1354 1395 L1355.1 1390.7 L1356.1 1386.9 L1357.2 1383.2 L1358.2 1379.6 L1359.3 1376 L1360.4 1372.3 L1361.6 1368.7 L1362.7 1365.2 L1363.8 1361.6 L1365 1357.8 L1366.1 1354.8 L1367.1 1353.4 L1368.1 1352.7 L1369.2 1351.7 L1370.2 1350.6 L1371.2 1349.6 L1372.2 1348.5 L1373.2 1347.6 L1374.3 1346.8 L1375.3 1346.1 L1376.3 1345.5 L1377.3 1345.1 L1378.3 1344.9 L1379.3 1344.6 L1380.3 1344.3 L1381.3 1344.1 L1382.3 1344.3 L1383.3 1344.5 L1384.3 1344.6 L1385.3 1344.5 L1386.3 1344.3 L1387.3 1343.5 L1388.3 1341.6 L1389.3 1339.6 L1390.4 1339.8 L1391.4 1341.1 L1392.4 1342.6 L1393.4 1342.9 L1394.4 1345.2 L1395.4 1347.6 L1396.4 1348.1 L1397.4 1346 L1398.4 1343.8 L1399.4 1344.4 L1400.4 1346 L1401.4 1347.9 L1402.4 1347.5 L1403.4 1345.6 L1404.4 1343.5 L1405.4 1342.8 L1406.5 1344.4 L1407.5 1346.7 L1408.5 1349.1 L1409.5 1346.6 L1410.5 1344 L1411.5 1342 L1412.6 1345 L1413.6 1348 L1414.6 1347.9 L1415.6 1343.8 L1416.6 1340.4 L1417.6 1340.6 L1418.7 1340.7 L1419.7 1340.2 L1420.7 1341.6 L1421.7 1343.9 L1422.7 1346.4 L1423.7 1346.3 L1424.8 1344.2 L1425.8 1341.6 L1426.8 1339.4 L1427.8 1338.8 L1428.8 1338.8 L1429.8 1340.7 L1430.9 1343.8 L1431.9 1346.1 L1432.9 1343.9 L1433.9 1340.8 L1434.9 1338.5 L1435.9 1339.3 L1436.9 1340.9 L1437.9 1343.5 L1439 1345.8 L1440 1347.9 L1441 1346.3 L1442 1344.9 L1443 1343.4 L1444 1342.9 L1445 1344.6 L1446.1 1347.8 L1447.1 1351.3 L1448.2 1349.3 L1449.2 1346 L1450.3 1342.5 L1451.3 1342.3 L1452.4 1344.1 L1453.4 1348 L1454.5 1351.9 L1455.5 1348.4 L1456.6 1344.7 L1457.6 1342.7 L1458.6 1342.4 L1459.7 1342.4 L1460.7 1342.7 L1461.8 1340.6 L1462.8 1338.4 L1463.9 1338.8 L1464.9 1341 L1466 1342.8 L1467 1342.6 L1468.1 1344.1 L1469.1 1349.5 L1470.2 1355.3 L1471.2 1350.9 L1472.2 1345.8 L1473.2 1343.1 L1474.2 1342.3 L1475.3 1341.5 L1476.3 1340.9 L1477.3 1339.8 L1478.3 1337.6 L1479.3 1335.4 L1480.3 1335.3 L1481.3 1336.6 L1482.4 1338 L1483.4 1338.9 L1484.4 1342.7 L1485.4 1346.6 L1486.4 1344.1 L1487.4 1339.5 L1488.5 1335.3 L1489.5 1333.3 L1490.5 1331.4 L1491.5 1331.4 L1492.5 1332.7 L1493.6 1333.8 L1494.6 1333.4 L1495.7 1332.7 L1496.7 1335 L1497.8 1338 L1498.8 1339.8 L1499.9 1337.1 L1500.9 1334.2 L1502 1332.6 L1503 1332.1 L1504.1 1330.7 L1505.1 1329.2 L1506.1 1328.7 L1507.1 1330.4 L1508.1 1331.7 L1509.2 1332.3 L1510.2 1334 L1511.2 1335.9 L1512.2 1334.8 L1513.2 1333 L1514.2 1331.6 L1515.2 1331.6 L1516.3 1333.4 L1517.3 1335.4 L1518.3 1333.8 L1519.3 1331.8 L1520.3 1331 L1521.3 1331.1 L1522.4 1331.7 L1523.4 1333.6 L1524.4 1336.1 L1525.4 1335.6 L1526.4 1334.3 L1527.5 1333 L1528.5 1333.4 L1529.6 1333.5 L1530.6 1333.5 L1531.7 1334.8 L1532.7 1336 L1533.8 1337.4 L1534.8 1336.2 L1535.9 1335.3 L1536.9 1335.5 L1538 1336.9 L1539 1338.4 L1540 1338.4 L1541 1338.5 L1542.1 1338.8 L1543.1 1340.4 L1544.1 1342.7 L1545.1 1344.8 L1546.1 1345.1 L1547.2 1345.2 L1548.2 1345.5 L1549.2 1347.6 L1550.3 1348.7 L1551.3 1348.9 L1552.4 1350.2 L1553.4 1351.5 L1554.5 1351.1 L1555.5 1347.5 L1556.6 1344.3 L1557.7 1342.8 L1558.7 1341.8 L1559.8 1339.9 L1560.8 1337.6 L1561.9 1337 L1562.9 1337 L1564 1337.4 L1565 1339.3 L1566.1 1341.3 L1567.1 1340.6 L1568.1 1338.2 L1569.1 1335.5 L1570.1 1335 L1571.1 1334.5 L1572.1 1334.2 L1573.2 1334.2 L1574.2 1334.3 L1575.2 1334.4 L1576.2 1334.1 L1577.2 1333.7 L1578.2 1333.6 L1579.2 1333.8 L1580.2 1333.9 L1581.2 1333.8 L1582.2 1333.5 L1583.2 1333.5 L1584.2 1333.6 L1585.3 1333.8 L1586.3 1333.9 L1587.3 1333.7 L1588.3 1333.6 L1589.3 1333.4 L1590.3 1333.2 L1591.3 1333.2 L1592.3 1333.2 L1593.3 1333.3 L1594.3 1333.2 L1595.3 1333 L1596.3 1332.7 L1597.4 1332.3 L1598.4 1332.1 L1599.4 1332 L1600.4 1332 L1601.4 1331.9 L1602.4 1331.7 L1603.4 1331.5 L1604.5 1332 L1605.5 1333.2 L1606.6 1334.4 L1607.7 1335.4 L1608.7 1336.2 L1609.8 1337.2 L1610.8 1338.3 L1611.9 1340.1 L1612.9 1343.3 L1613.9 1346.9 L1614.9 1350.4 L1616 1353.9 L1617 1357.4 L1618 1361 L1619 1364.8 L1620.1 1368.4 L1621.1 1372 L1622.2 1375.5 L1623.2 1378.7 L1624.3 1381.9 L1625.3 1385 L1626.4 1387.2 L1627.5 1387 L1628.6 1385.7 L1629.8 1384.2 L1630.9 1382.5 L1632 1380.4 L1633.1 1377.6 L1634.2 1374.5 L1635.3 1371.5 L1636.3 1368.3 L1637.4 1364.9 L1638.5 1361.6 L1639.6 1358.2 L1640.7 1355.5 L1641.7 1353.9 L1642.8 1352.8 L1643.8 1351.6 L1644.8 1350.3 L1645.9 1348.8 L1646.9 1347.2 L1647.9 1345.7 L1649 1344.1 L1650 1342.9 L1651 1342.2 L1652 1341.8 L1653 1341.3 L1654 1340.7 L1655 1340.1 L1656 1339.6 L1657 1339.4 L1658 1339.2 L1659 1339 L1660 1338.7 L1661 1339.1 L1662.1 1340.9 L1663.1 1343.4 L1664.2 1345.8 L1665.2 1348.1 L1666.3 1350.2 L1667.4 1352.2 L1668.4 1354.1 L1669.5 1357.3 L1670.6 1363.1 L1671.8 1370.3 L1672.9 1377.5 L1674 1384.9 L1675 1392.5 L1676 1400 L1677 1407.5 L1678 1412.3 L1679 1411.2 L1680 1407.3 L1681 1403.4 L1682 1399.3 L1683 1395.2 L1684 1391.4 L1685 1387.6 L1686.1 1384 L1687.1 1380.4 L1688.1 1378.9 L1689.2 1381.6 L1690.4 1386.6 L1691.5 1391.5 L1692.6 1396 L1693.8 1400.5 L1694.9 1402.5 L1695.9 1399.7 L1696.9 1394.7 L1698 1390 L1699 1385.2 L1700 1380.6 L1701.1 1376.5 L1702.1 1372.6 L1703.2 1368.8 L1704.2 1365.1 L1705.3 1361.3 L1706.4 1357.5 L1707.4 1353.8 L1708.5 1350.8 L1709.5 1348.7 L1710.5 1347 L1711.5 1345.3 L1712.5 1343.8 L1713.5 1342.2 L1714.6 1340.7 L1715.6 1339.1 L1716.6 1337.5 L1717.6 1335.7 L1718.6 1334 L1719.6 1333.1 L1720.7 1332.8 L1721.7 1332.8 L1722.7 1332.8 L1723.8 1332.9 L1724.8 1332.9 L1725.8 1332.8 L1726.9 1332.6 L1727.9 1332.3 L1728.9 1331.8 L1730 1331.3 L1731 1330.8 L1732.1 1330.4 L1733.1 1330 L1734.1 1329.5 L1735.2 1328.7 L1736.2 1328.1 L1737.2 1327.7 L1738.3 1327.6 L1739.3 1327.6 L1740.3 1327.6 L1741.4 1327.5 L1742.4 1327.4" fill="none" stroke="#808000" stroke-width="4.6" stroke-linejoin="round" stroke-linecap="round"/>
<path d="M145 1488.3 L146 1488.3 L147 1488.3 L148 1489.1 L149 1490.1 L150 1491.4 L151 1491.4 L152 1491.2 L153 1490.5 L154 1489.5 L155 1488.3 L156 1487.7 L157 1488.4 L158 1489.3 L159 1490.1 L160 1491.4 L161 1492.1 L162 1491 L163 1489 L164 1488.1 L165 1489.1 L166 1489.9 L167 1490.5 L168 1490.7 L169 1491.1 L170 1490.3 L171 1489.5 L172 1488.9 L173 1489.3 L174 1490.1 L175 1490.6 L176 1490.4 L177 1490.3 L178 1490.9 L179 1491.9 L180 1492.6 L181 1492.2 L182 1490.8 L183 1489.8 L184 1489.4 L185 1490.6 L186 1491.9 L187 1492.7 L188 1492.2 L189 1491.5 L190 1491.1 L191 1491.2 L192 1491.1 L193 1490.6 L194 1490.1 L195 1490.9 L196 1491.9 L197 1491.7 L198 1490.4 L199 1489.2 L200 1489.5 L201 1489.9 L202 1489.9 L203 1489.1 L204 1487.8 L205 1486.5 L206 1486.3 L207 1487.8 L208 1489.4 L209 1490.6 L210 1490.3 L211 1489.8 L212 1489.2 L213 1488.9 L214 1489.7 L215 1490.3 L216 1491.5 L217 1491.7 L218 1491.8 L219 1491.2 L220 1491 L221 1491.4 L222 1493.2 L223 1494.9 L224 1494.8 L225 1492.6 L226 1490 L227 1490 L228 1491.2 L229 1492.8 L230 1492.4 L231 1491.2 L232 1489.3 L233 1487.9 L234 1488 L235 1490.2 L236 1492.9 L237 1495.4 L238 1494.4 L239 1492.9 L240 1491.1 L241 1489.6 L242 1488.3 L243 1487.4 L244 1487.8 L245 1490.5 L246 1493.6 L247 1495.4 L248 1492.1 L249 1488.6 L250 1486.5 L251 1486.7 L252 1487.5 L253 1488.9 L254 1491 L255 1492.3 L256 1489.9 L257 1487.5 L258 1486.5 L259 1489.6 L260 1492.7 L261 1495.2 L262 1492.4 L263 1488.5 L264 1486.3 L265 1488.2 L266 1491 L267 1492.3 L268 1490.9 L269 1488.6 L270 1486.6 L271 1485.6 L272 1484.9 L273 1484.9 L274 1486.6 L275 1489.1 L276 1491.5 L277 1492.1 L278 1490.6 L279 1488.8 L280 1486.9 L281 1485.1 L282 1485.5 L283 1488 L284 1490.6 L285 1488.8 L286 1486.6 L287 1484.8 L288 1481.6 L289 1478.5 L290 1479.1 L291 1481 L292 1482.6 L293 1482.1 L294 1484.5 L295 1488 L296 1491.7 L297 1490.1 L298 1488 L299 1485.5 L300 1484.8 L301 1485 L302 1487.3 L303 1490.2 L304 1490.8 L305 1488.6 L306 1485 L307 1482.8 L308 1481.9 L309 1482.5 L310 1481.7 L311 1480.8 L312 1481.2 L313 1482.3 L314 1483.2 L315 1484.4 L316 1486.5 L317 1489.7 L318 1489.3 L319 1488.2 L320 1486.6 L321 1484.8 L322 1483.3 L323 1482.5 L324 1483.9 L325 1486.4 L326 1488.8 L327 1486.9 L328 1484.4 L329.1 1482.1 L330.1 1481.1 L331.1 1483.2 L332.1 1486.7 L333.1 1489.4 L334.1 1488.7 L335.1 1486.6 L336.1 1484.4 L337.1 1482.5 L338.1 1481 L339.1 1480.8 L340.1 1481.9 L341.2 1483.3 L342.2 1483.1 L343.2 1482 L344.2 1482 L345.2 1484.4 L346.2 1485.7 L347.2 1484.9 L348.2 1483.6 L349.2 1483.3 L350.2 1483.7 L351.2 1483.1 L352.2 1482.6 L353.3 1482.9 L354.3 1485.2 L355.3 1487.1 L356.3 1487.6 L357.3 1486.4 L358.3 1485.4 L359.3 1487.2 L360.3 1490.7 L361.3 1494.1 L362.3 1493.1 L363.3 1490.4 L364.4 1486.7 L365.4 1485.4 L366.4 1486.2 L367.4 1489.4 L368.4 1493 L369.4 1495.4 L370.4 1493.8 L371.4 1491.1 L372.4 1488.2 L373.4 1487 L374.4 1485.8 L375.4 1486.3 L376.5 1487.4 L377.5 1489.3 L378.5 1489.6 L379.5 1489.4 L380.5 1488.5 L381.5 1488.7 L382.5 1491.1 L383.6 1495.6 L384.6 1499.4 L385.7 1499.2 L386.7 1495.7 L387.8 1493.2 L388.8 1493.1 L389.9 1493.3 L390.9 1491.8 L392 1493 L393 1494.1 L394.1 1495.3 L395.1 1497.5 L396.2 1500.9 L397.2 1502.8 L398.3 1502.4 L399.3 1501.2 L400.3 1500.1 L401.3 1498.7 L402.4 1497.9 L403.4 1497.5 L404.4 1497.6 L405.4 1497.2 L406.4 1498.4 L407.5 1499.2 L408.5 1500 L409.5 1499.9 L410.5 1500.7 L411.5 1500.7 L412.6 1499.9 L413.6 1498.3 L414.6 1498.3 L415.6 1499 L416.6 1500.3 L417.7 1501.7 L418.7 1503.8 L419.7 1505.3 L420.7 1504.9 L421.7 1503.2 L422.7 1501.5 L423.7 1500.7 L424.7 1501.6 L425.7 1502.6 L426.7 1503.7 L427.7 1504.3 L428.7 1505.1 L429.7 1506 L430.7 1506.4 L431.7 1506.1 L432.7 1505.5 L433.7 1505.1 L434.7 1504.7 L435.7 1504.6 L436.7 1504.8 L437.7 1505 L438.8 1505.3 L439.8 1505.5 L440.8 1505.7 L441.8 1505.5 L442.8 1505.2 L443.8 1504.8 L444.8 1504.6 L445.8 1504.5 L446.8 1504.6 L447.8 1504.7 L448.8 1504.6 L449.8 1504.4 L450.8 1504.3 L451.8 1504.2 L452.8 1504.1 L453.8 1504.1 L454.8 1504.1 L455.8 1504.1 L456.8 1504.3 L457.8 1504.6 L458.8 1504.7 L459.8 1504.6 L460.8 1504.4 L461.8 1504.1 L462.8 1504 L463.9 1503.9 L464.9 1503.8 L465.9 1503.7 L466.9 1503.5 L467.9 1503.2 L468.9 1502.8 L469.9 1502.5 L470.9 1502.3 L471.9 1502.3 L472.9 1502.3 L474 1502.1 L475 1501.8 L476 1501.5 L477 1501.2 L478 1500.9 L479 1500.9 L480 1500.9 L481 1500.9 L482 1501 L483 1500.9 L484 1500.7 L485.1 1500.5 L486.1 1500.4 L487.1 1500.5 L488.1 1500.6 L489.1 1500.6 L490.1 1500.5 L491.1 1500.4 L492.1 1500.2 L493.1 1500 L494.1 1499.9 L495.2 1500 L496.2 1500 L497.2 1499.9 L498.2 1499.9 L499.2 1499.6 L500.2 1499.3 L501.2 1498.9 L502.2 1498.5 L503.2 1498.5 L504.2 1498.6 L505.2 1498.7 L506.3 1498.5 L507.3 1498.1 L508.3 1497.9 L509.3 1497.7 L510.3 1497.8 L511.3 1497.9 L512.3 1497.8 L513.3 1497.4 L514.3 1496.9 L515.3 1496.4 L516.4 1496.1 L517.4 1495.8 L518.4 1495.5 L519.4 1495.2 L520.4 1494.9 L521.4 1494.7 L522.4 1494.7 L523.5 1494.8 L524.5 1495 L525.5 1495.1 L526.6 1495.2 L527.6 1495.3 L528.6 1495.3 L529.7 1495 L530.7 1494.6 L531.7 1494.3 L532.8 1493.9 L533.8 1493.6 L534.8 1493.3 L535.9 1493.2 L536.9 1493.3 L537.9 1493.7 L539 1494.1 L540 1494.4 L541 1494.7 L542 1494.8 L543 1494.8 L544 1494.6 L545 1494.4 L546 1494.2 L547 1494.1 L548 1493.8 L549 1493.3 L550 1492.8 L551 1492.3 L552 1492 L553 1491.9 L554 1492 L555 1492.1 L556 1492.2 L557 1492.2 L558 1492.1 L559 1491.9 L560 1491.7 L561 1491.6 L562 1491.7 L563 1491.7 L564 1491.7 L565 1491.6 L566 1491.5 L567 1491.3 L568 1491.2 L569 1491 L570 1490.9 L571 1490.9 L572 1490.8 L573 1490.6 L574 1490.3 L575 1489.9 L576 1489.6 L577 1489.3 L578 1489.1 L579 1489.1 L580 1489.1 L581 1489.1 L582 1489.1 L583 1488.9 L584 1488.7 L585 1488.4 L586 1488.3 L587 1488.3 L588 1488.4 L589 1488.4 L590 1488.4 L591 1488.3 L592 1488 L593 1487.7 L594 1487.6 L595 1487.6 L596 1487.6 L597 1487.7 L598 1487.5 L599 1487.3 L600 1487 L601 1486.8 L602 1486.7 L603 1486.9 L604 1487 L605 1486.9 L606 1486.6 L607 1486.3 L608 1486 L609 1485.8 L610 1485.9 L611 1486 L612 1486.1 L613 1486.2 L614 1486 L615 1485.7 L616 1485.3 L617 1485.1 L618 1485 L619 1484.9 L620 1484.8 L621 1484.6 L622 1484.3 L623 1484 L624 1483.5 L625.1 1482.6 L626.1 1481.6 L627.2 1480.6 L628.3 1479.6 L629.4 1478.6 L630.4 1477.5 L631.5 1476.5 L632.5 1475.8 L633.5 1475.4 L634.6 1474.9 L635.6 1474.5 L636.6 1474.1 L637.6 1473.7 L638.6 1473.3 L639.7 1473.1 L640.7 1472.9 L641.7 1472.8 L642.7 1472.4 L643.7 1471.9 L644.8 1471.3 L645.8 1471 L646.8 1470.8 L647.8 1470.9 L648.8 1471.1 L649.9 1471.3 L650.9 1471.4 L651.9 1471.4 L652.9 1471.4 L653.9 1471.5 L655 1471.8 L656 1472.2 L657 1472.5 L658.1 1472.9 L659.1 1473.3 L660.2 1473.8 L661.2 1474.6 L662.3 1475.5 L663.4 1476.2 L664.4 1476.6 L665.5 1476.9 L666.5 1477 L667.6 1476.9 L668.6 1476.9 L669.7 1476.9 L670.7 1476.7 L671.8 1476.3 L672.8 1476 L673.9 1475.4 L674.9 1474.8 L675.9 1474.3 L677 1473.7 L678 1473.1 L679.1 1472.7 L680.1 1472.3 L681.2 1472.1 L682.2 1472 L683.2 1471.8 L684.3 1471.4 L685.3 1470.9 L686.4 1470.5 L687.4 1470.2 L688.4 1470.1 L689.5 1469.9 L690.5 1469.6 L691.6 1469.2 L692.6 1469.1 L693.7 1469.7 L694.8 1470.8 L695.9 1471.8 L697 1473.4 L698.1 1476.2 L699.3 1479.6 L700.4 1483.1 L701.6 1486.7 L702.7 1489.7 L703.8 1491.1 L704.8 1491.5 L705.9 1491.8 L707 1492.2 L708 1492.6 L709.1 1492.4 L710.2 1490.8 L711.4 1488.5 L712.5 1486.1 L713.7 1483.8 L714.9 1481.6 L716 1480 L717 1479 L718 1478.3 L719 1477.5 L720.1 1476.6 L721.1 1475.4 L722.1 1474.2 L723.1 1473.1 L724.1 1472 L725.2 1471 L726.2 1469.9 L727.2 1468.8 L728.2 1468 L729.3 1467.8 L730.3 1468 L731.4 1468.4 L732.4 1468.8 L733.5 1469.2 L734.5 1469.6 L735.6 1469.8 L736.7 1469.7 L737.7 1469.5 L738.8 1469.5 L739.8 1469.6 L740.9 1469.5 L741.9 1469.2 L743 1468.7 L744 1468.1 L745 1467.5 L746.1 1467 L747.1 1466.7 L748.2 1466.2 L749.2 1465.6 L750.2 1464.8 L751.3 1464.3 L752.3 1464 L753.3 1463.8 L754.4 1463.5 L755.4 1463.1 L756.4 1462.6 L757.5 1462.1 L758.5 1461.7 L759.6 1461.5 L760.6 1461.3 L761.6 1461.1 L762.7 1460.8 L763.7 1460.5 L764.7 1460.4 L765.7 1460.4 L766.7 1460.4 L767.7 1460.4 L768.7 1460.4 L769.7 1460.4 L770.7 1460.5 L771.7 1460.7 L772.8 1460.8 L773.8 1460.6 L774.8 1460.3 L775.8 1460 L776.8 1459.8 L777.8 1459.8 L778.8 1459.5 L779.8 1459.1 L780.8 1458.7 L781.8 1458.3 L782.8 1458.1 L783.8 1458.1 L784.8 1458.2 L785.8 1458.4 L786.8 1458.5 L787.8 1458.6 L788.8 1458.6 L789.9 1458.6 L790.9 1458.8 L791.9 1459 L792.9 1459.1 L793.9 1458.8 L794.9 1458.3 L795.9 1457.9 L796.9 1457.6 L797.9 1457.5 L798.9 1457.4 L799.9 1457.2 L800.9 1456.9 L801.9 1456.5 L802.9 1456.3 L803.9 1456.2 L804.9 1456.2 L805.9 1456.2 L807 1456.1 L808 1455.9 L809 1455.7 L810 1455.6 L811 1455.5 L812 1455.5 L813 1455.6 L814 1455.5 L815 1455.2 L816 1454.9 L817 1454.7 L818 1454.6 L819 1454.6 L820 1454.6 L821 1454.8 L822 1454.9 L823 1455.1 L824 1455.2 L825.1 1455.3 L826.1 1455.3 L827.1 1455.3 L828.1 1455.2 L829.1 1455.2 L830.1 1455.3 L831.1 1455.4 L832.1 1455.6 L833.1 1455.6 L834.1 1455.5 L835.1 1455.3 L836.1 1455.1 L837.1 1454.9 L838.1 1454.7 L839.1 1454.5 L840.1 1454.5 L841.1 1454.6 L842.2 1454.7 L843.2 1454.7 L844.2 1454.5 L845.2 1454.3 L846.2 1454.3 L847.2 1454.5 L848.2 1454.6 L849.2 1454.4 L850.2 1454 L851.2 1453.6 L852.2 1453.4 L853.2 1453.3 L854.2 1453.2 L855.2 1453.1 L856.3 1453.1 L857.3 1453 L858.3 1452.9 L859.3 1452.8 L860.3 1452.8 L861.3 1453 L862.3 1453.2 L863.3 1453.3 L864.3 1453.3 L865.3 1453.4 L866.3 1453.6 L867.3 1454 L868.4 1454.3 L869.4 1454.5 L870.4 1454.6 L871.4 1454.8 L872.4 1454.8 L873.4 1454.9 L874.4 1454.9 L875.4 1455 L876.4 1454.9 L877.4 1454.7 L878.4 1454.4 L879.5 1454.2 L880.5 1454.2 L881.5 1454.4 L882.5 1454.5 L883.5 1454.5 L884.5 1454.4 L885.5 1454.3 L886.5 1454.2 L887.5 1454.2 L888.5 1454.3 L889.5 1454.4 L890.5 1454.6 L891.6 1454.9 L892.6 1455.2 L893.6 1455.5 L894.6 1455.7 L895.6 1455.8 L896.6 1455.7 L897.6 1455.5 L898.6 1455.2 L899.6 1454.9 L900.6 1454.6 L901.6 1454.3 L902.6 1454.2 L903.7 1454.2 L904.7 1454.3 L905.7 1454.3 L906.7 1454.2 L907.7 1454 L908.7 1453.9 L909.7 1453.8 L910.7 1453.9 L911.7 1454 L912.7 1454 L913.7 1453.8 L914.7 1453.5 L915.7 1453.4 L916.7 1453.5 L917.8 1453.6 L918.8 1453.6 L919.8 1453.5 L920.8 1453.2 L921.8 1453.1 L922.8 1453.1 L923.8 1453.2 L924.8 1453.3 L925.8 1453.1 L926.8 1452.9 L927.8 1452.7 L928.8 1452.8 L929.8 1452.9 L930.8 1452.9 L931.8 1452.6 L932.8 1452.3 L933.8 1451.9 L934.9 1451.6 L935.9 1451.4 L936.9 1451.4 L937.9 1451.4 L938.9 1451.5 L939.9 1451.7 L940.9 1452 L941.9 1452.2 L942.9 1452.3 L943.9 1452.3 L944.9 1452.2 L945.9 1451.9 L946.9 1451.7 L947.9 1451.4 L948.9 1451.1 L949.9 1450.9 L950.9 1450.9 L952 1451 L953 1450.8 L954 1450.5 L955 1450.2 L956 1450.1 L957 1450.2 L958 1450.2 L959 1450.2 L960 1450.1 L961 1450 L962 1449.9 L963.1 1449.7 L964.1 1449.5 L965.1 1449.4 L966.1 1449.5 L967.1 1449.7 L968.1 1449.9 L969.2 1449.9 L970.2 1449.8 L971.2 1449.7 L972.2 1449.6 L973.2 1449.6 L974.2 1449.8 L975.3 1450.1 L976.3 1450.3 L977.3 1450.5 L978.3 1450.4 L979.3 1450.3 L980.4 1450.3 L981.4 1450.4 L982.4 1450.5 L983.4 1450.8 L984.4 1451.1 L985.4 1451.3 L986.5 1451.3 L987.5 1451.1 L988.5 1451 L989.5 1450.9 L990.5 1451.1 L991.5 1451.4 L992.6 1451.5 L993.6 1451.3 L994.6 1451.1 L995.6 1450.9 L996.6 1450.9 L997.6 1451 L998.7 1451.1 L999.7 1451.2 L1000.7 1451.3 L1001.7 1451.5 L1002.8 1451.8 L1003.8 1451.9 L1004.9 1452 L1005.9 1452.4 L1007 1452.8 L1008 1453.3 L1009 1454.1 L1010 1454.9 L1011.1 1455.6 L1012.1 1456.3 L1013.1 1457.2 L1014.1 1458.1 L1015.2 1459.2 L1016.2 1460 L1017.2 1460.3 L1018.3 1460 L1019.4 1459.5 L1020.5 1459 L1021.6 1458.5 L1022.8 1457.9 L1023.9 1457.2 L1025 1456.5 L1026.1 1456.1 L1027.2 1456.2 L1028.3 1456.6 L1029.4 1456.9 L1030.4 1457 L1031.5 1457.1 L1032.6 1457.2 L1033.7 1457.3 L1034.7 1456.9 L1035.8 1456.2 L1036.8 1455.4 L1037.9 1454.6 L1038.9 1454.1 L1040 1453.6 L1041 1452.9 L1042.1 1452.1 L1043.1 1451.3 L1044.2 1450.5 L1045.2 1449.9 L1046.3 1449.4 L1047.3 1449 L1048.4 1448.5 L1049.4 1448 L1050.5 1447.4 L1051.5 1446.9 L1052.5 1446.6 L1053.5 1446.5 L1054.6 1446.5 L1055.6 1446.6 L1056.6 1446.8 L1057.6 1446.9 L1058.6 1447 L1059.6 1447 L1060.7 1447 L1061.7 1446.9 L1062.7 1446.9 L1063.7 1446.9 L1064.7 1446.8 L1065.7 1446.5 L1066.8 1446.4 L1067.8 1446.3 L1068.8 1446.2 L1069.8 1445.9 L1070.8 1445.4 L1071.8 1445 L1072.9 1444.8 L1073.9 1444.9 L1074.9 1445 L1075.9 1445.3 L1076.9 1445.4 L1077.9 1445.4 L1079 1445.3 L1080 1445.2 L1081 1445.3 L1082 1445.4 L1083 1445.5 L1084 1445.3 L1085.1 1445.1 L1086.1 1444.9 L1087.1 1444.7 L1088.1 1444.7 L1089.1 1444.7 L1090.1 1444.8 L1091.1 1444.9 L1092.1 1444.9 L1093.1 1444.7 L1094.1 1444.4 L1095.1 1444.2 L1096.1 1444 L1097.2 1443.9 L1098.2 1444 L1099.2 1444 L1100.2 1444.1 L1101.2 1444 L1102.2 1443.8 L1103.2 1443.5 L1104.2 1443.3 L1105.2 1443.3 L1106.2 1443.5 L1107.2 1443.8 L1108.2 1444 L1109.2 1444.1 L1110.2 1444 L1111.2 1443.9 L1112.2 1444 L1113.2 1444.1 L1114.2 1444.2 L1115.2 1444.3 L1116.3 1444.4 L1117.3 1444.3 L1118.3 1444.3 L1119.3 1444.2 L1120.3 1444.1 L1121.3 1444.1 L1122.3 1444.2 L1123.3 1444.4 L1124.3 1444.5 L1125.3 1444.4 L1126.3 1444.2 L1127.3 1444.2 L1128.3 1444.3 L1129.3 1444.4 L1130.3 1444.6 L1131.3 1444.8 L1132.3 1444.9 L1133.3 1444.9 L1134.3 1445 L1135.3 1445 L1136.3 1444.9 L1137.3 1444.6 L1138.3 1444.3 L1139.3 1444 L1140.3 1443.6 L1141.3 1443.2 L1142.3 1443 L1143.3 1442.9 L1144.3 1442.9 L1145.3 1443 L1146.3 1442.9 L1147.3 1442.7 L1148.3 1442.5 L1149.3 1442.4 L1150.3 1442.5 L1151.3 1442.7 L1152.3 1442.8 L1153.3 1442.6 L1154.3 1442.3 L1155.3 1442.1 L1156.3 1442 L1157.3 1442.1 L1158.3 1442.2 L1159.3 1442.3 L1160.3 1442.3 L1161.3 1442.1 L1162.3 1442 L1163.3 1442 L1164.3 1442.2 L1165.3 1442.4 L1166.3 1442.6 L1167.3 1442.7 L1168.3 1442.8 L1169.3 1442.7 L1170.3 1442.7 L1171.3 1442.8 L1172.3 1442.9 L1173.3 1443.1 L1174.3 1443.2 L1175.3 1443.3 L1176.3 1443.3 L1177.3 1443.3 L1178.3 1443.2 L1179.3 1443 L1180.3 1442.6 L1181.3 1442.5 L1182.3 1442.5 L1183.3 1442.7 L1184.3 1442.8 L1185.3 1442.8 L1186.3 1442.6 L1187.3 1442.3 L1188.3 1442.1 L1189.3 1442 L1190.3 1442.1 L1191.3 1442.1 L1192.3 1442.2 L1193.3 1442.3 L1194.3 1442.4 L1195.3 1442.4 L1196.3 1442.4 L1197.3 1442.3 L1198.3 1442.3 L1199.3 1442.3 L1200.3 1442.5 L1201.3 1442.7 L1202.3 1442.8 L1203.3 1442.9 L1204.3 1442.9 L1205.3 1442.8 L1206.3 1442.6 L1207.3 1442.3 L1208.3 1442.2 L1209.3 1442.3 L1210.3 1442.5 L1211.3 1442.7 L1212.3 1442.8 L1213.3 1442.7 L1214.3 1442.6 L1215.3 1442.4 L1216.3 1442.1 L1217.3 1441.9 L1218.3 1441.8 L1219.3 1441.8 L1220.3 1441.7 L1221.4 1441.4 L1222.4 1441 L1223.4 1440.7 L1224.4 1440.5 L1225.4 1440.6 L1226.4 1440.8 L1227.4 1441 L1228.4 1441.2 L1229.4 1441.3 L1230.4 1441.3 L1231.4 1441.1 L1232.4 1441 L1233.5 1440.9 L1234.5 1441 L1235.5 1441 L1236.5 1440.6 L1237.5 1440.1 L1238.5 1439.9 L1239.5 1440 L1240.5 1440.3 L1241.5 1439.8 L1242.5 1438.3 L1243.5 1436.6 L1244.5 1437.1 L1245.5 1438.8 L1246.6 1440.7 L1247.6 1441.8 L1248.6 1443.3 L1249.6 1444.4 L1250.6 1443.5 L1251.6 1441.7 L1252.6 1440.4 L1253.6 1440.5 L1254.6 1441.9 L1255.6 1443 L1256.6 1443.8 L1257.6 1442.5 L1258.6 1441.1 L1259.7 1439.8 L1260.7 1439.5 L1261.7 1438.5 L1262.7 1437.6 L1263.7 1437.7 L1264.7 1438.9 L1265.7 1440.2 L1266.7 1440.7 L1267.7 1440.8 L1268.7 1440.6 L1269.7 1440.4 L1270.7 1440.8 L1271.8 1442 L1272.8 1443.4 L1273.8 1442.2 L1274.8 1441 L1275.8 1440.1 L1276.8 1439.7 L1277.8 1439.1 L1278.8 1438.6 L1279.8 1439.5 L1280.8 1441.1 L1281.8 1442.7 L1282.8 1441.6 L1283.8 1440 L1284.8 1439.2 L1285.8 1440 L1286.8 1441.1 L1287.8 1440.8 L1288.8 1440 L1289.8 1439.2 L1290.8 1439.2 L1291.8 1439.8 L1292.8 1441.5 L1293.8 1443.2 L1294.8 1444.1 L1295.8 1442.8 L1296.8 1441.4 L1297.8 1441.6 L1298.8 1442.6 L1299.8 1443.8 L1300.8 1442.6 L1301.8 1441.3 L1302.8 1439.9 L1303.8 1439.6 L1304.8 1439.2 L1305.8 1438.1 L1307.2 1437.3 L1308.5 1440.6 L1309.7 1448.2 L1311 1457 L1312.2 1466 L1313.5 1477.9 L1314.7 1491.4 L1316 1503.9 L1317.1 1514.4 L1318.2 1523.6 L1319.2 1532.7 L1320.3 1536.9 L1321.5 1531.7 L1322.8 1521.9 L1324 1512.4 L1325 1503.5 L1326.1 1494.8 L1327.1 1490.2 L1328.2 1493.9 L1329.3 1501.9 L1330.4 1510.2 L1331.5 1517.3 L1332.7 1521.9 L1333.8 1525.3 L1335 1528.8 L1336.2 1532.6 L1337.3 1536.5 L1338.5 1540.4 L1339.7 1543 L1340.8 1543.1 L1341.8 1541.9 L1342.9 1540.7 L1344 1539.3 L1345 1537.5 L1346.1 1535.5 L1347.1 1533.5 L1348.2 1531.4 L1349.2 1527.9 L1350.4 1521.6 L1351.6 1514.2 L1352.8 1507.2 L1354 1500.8 L1355.1 1495.3 L1356.1 1490.3 L1357.2 1485.4 L1358.2 1480.7 L1359.3 1476.2 L1360.3 1472 L1361.3 1467.7 L1362.4 1463.3 L1363.4 1458.9 L1364.4 1455.7 L1365.5 1454.4 L1366.6 1454 L1367.6 1453.4 L1368.7 1452.9 L1369.8 1452.2 L1370.9 1451.4 L1372 1450.6 L1373.1 1449.9 L1374.1 1449.4 L1375.2 1449 L1376.3 1448.7 L1377.3 1448.5 L1378.3 1448.3 L1379.3 1448 L1380.3 1447.8 L1381.3 1448 L1382.3 1448.2 L1383.3 1448.4 L1384.3 1448.3 L1385.3 1447.8 L1386.3 1447.2 L1387.3 1448.5 L1388.3 1450.5 L1389.3 1452.9 L1390.4 1453 L1391.4 1450.5 L1392.4 1447.8 L1393.4 1445.7 L1394.4 1446.9 L1395.4 1448.6 L1396.4 1449.7 L1397.4 1448.1 L1398.4 1446.6 L1399.4 1445.9 L1400.4 1445.4 L1401.4 1444.8 L1402.4 1444.6 L1403.4 1445.8 L1404.4 1447.9 L1405.4 1450 L1406.5 1450.1 L1407.5 1448 L1408.5 1445.7 L1409.5 1444 L1410.5 1443.6 L1411.5 1443.2 L1412.6 1443.2 L1413.6 1444.9 L1414.6 1447.1 L1415.6 1448.4 L1416.6 1446.7 L1417.6 1444.6 L1418.7 1443.9 L1419.7 1443.6 L1420.7 1444.8 L1421.7 1446.5 L1422.7 1448 L1423.7 1446.1 L1424.8 1444 L1425.8 1442.4 L1426.8 1441.9 L1427.8 1444.5 L1428.8 1447.6 L1429.8 1449.3 L1430.9 1446.4 L1431.9 1443.4 L1432.9 1442.1 L1433.9 1442.1 L1434.9 1441.5 L1436 1439.7 L1437 1437.8 L1438.1 1440 L1439.1 1442.2 L1440.2 1443.4 L1441.2 1443.6 L1442.3 1444.2 L1443.3 1445.2 L1444.4 1448.5 L1445.4 1451.2 L1446.5 1453.3 L1447.5 1450.4 L1448.5 1447.3 L1449.6 1444.5 L1450.6 1444.5 L1451.6 1446.1 L1452.7 1449.3 L1453.7 1452.4 L1454.7 1452.9 L1455.7 1449.4 L1456.8 1446 L1457.8 1447.8 L1458.8 1453.2 L1459.9 1457.2 L1460.9 1452.3 L1461.9 1447.2 L1463 1446.3 L1464 1448.4 L1465 1450.5 L1466 1450.3 L1467.1 1448.1 L1468.1 1445.9 L1469.1 1444.3 L1470.2 1442.5 L1471.2 1440 L1472.2 1437.6 L1473.3 1439.6 L1474.3 1441.8 L1475.3 1443.1 L1476.4 1443.8 L1477.4 1444.9 L1478.4 1446.4 L1479.4 1446.3 L1480.5 1444.8 L1481.5 1442.7 L1482.5 1444 L1483.6 1446.6 L1484.6 1446.7 L1485.6 1444.1 L1486.7 1440.3 L1487.7 1438.8 L1488.7 1437.2 L1489.7 1436.7 L1490.8 1437.4 L1491.8 1438.1 L1492.8 1438.5 L1493.9 1437.8 L1494.9 1436.9 L1495.9 1436.2 L1496.9 1438.6 L1498 1441.3 L1499 1441.6 L1500 1438.2 L1501 1434.7 L1502 1434.3 L1503.1 1435.4 L1504.1 1436.3 L1505.1 1436.5 L1506.1 1434.7 L1507.1 1433.2 L1508.1 1431.9 L1509.2 1433.3 L1510.2 1434.7 L1511.2 1435.9 L1512.2 1435.7 L1513.2 1434.3 L1514.2 1433 L1515.2 1431.6 L1516.3 1431.1 L1517.3 1430.7 L1518.3 1431.7 L1519.3 1432.6 L1520.3 1433.3 L1521.3 1433.1 L1522.4 1432.8 L1523.4 1432.8 L1524.4 1432.6 L1525.4 1432.1 L1526.4 1431.7 L1527.5 1432.2 L1528.5 1433.7 L1529.6 1435.1 L1530.6 1435.9 L1531.7 1436 L1532.7 1436.6 L1533.8 1437.9 L1534.8 1439.5 L1535.9 1440 L1536.9 1439.5 L1538 1438.7 L1539 1438.2 L1540 1438.3 L1541 1438.1 L1542.1 1438.4 L1543.1 1439.6 L1544.1 1441.9 L1545.1 1443.8 L1546.1 1445 L1547.2 1446.4 L1548.2 1448.4 L1549.2 1450.4 L1550.3 1450.3 L1551.3 1448.9 L1552.4 1447.3 L1553.4 1446.2 L1554.5 1445.5 L1555.5 1444.7 L1556.6 1444.8 L1557.7 1446.4 L1558.7 1448.1 L1559.8 1448.2 L1560.8 1445.8 L1561.9 1443.3 L1562.9 1441.8 L1564 1442.7 L1565 1443.5 L1566.1 1444.1 L1567.1 1442.5 L1568.1 1440.6 L1569.1 1439 L1570.1 1438.3 L1571.1 1438.7 L1572.1 1439.1 L1573.2 1439.3 L1574.2 1439.1 L1575.2 1438.7 L1576.2 1438.2 L1577.2 1437.7 L1578.2 1437.4 L1579.2 1437.2 L1580.2 1437 L1581.2 1436.8 L1582.2 1436.5 L1583.2 1436.1 L1584.2 1435.8 L1585.3 1435.6 L1586.3 1435.6 L1587.3 1435.6 L1588.3 1435.7 L1589.3 1435.7 L1590.3 1435.7 L1591.3 1435.6 L1592.3 1435.3 L1593.3 1435 L1594.3 1434.8 L1595.3 1434.7 L1596.3 1434.7 L1597.4 1434.6 L1598.4 1434.5 L1599.4 1434.4 L1600.4 1434.3 L1601.4 1434.2 L1602.4 1434 L1603.4 1433.9 L1604.5 1434.3 L1605.5 1434.9 L1606.6 1435.8 L1607.7 1436.7 L1608.7 1437.6 L1609.8 1438.3 L1610.8 1438.9 L1611.9 1440.2 L1612.9 1442.9 L1613.9 1446.2 L1614.9 1449.4 L1616 1452.7 L1617 1456.3 L1618 1460.2 L1619 1463.9 L1620.1 1467.4 L1621.1 1470.8 L1622.2 1474.2 L1623.2 1477.6 L1624.3 1481 L1625.3 1484.1 L1626.4 1486 L1627.5 1485.5 L1628.6 1483.9 L1629.8 1482.4 L1630.9 1481 L1632 1479.4 L1633.1 1477.3 L1634.2 1474.8 L1635.3 1472.1 L1636.3 1469.4 L1637.4 1466.7 L1638.5 1464.2 L1639.6 1461.8 L1640.7 1459.5 L1641.7 1457.8 L1642.8 1456.2 L1643.8 1454.5 L1644.8 1452.7 L1645.9 1451 L1646.9 1449.6 L1647.9 1448.2 L1649 1446.5 L1650 1444.9 L1651 1443.9 L1652 1443.1 L1653 1442.4 L1654 1442 L1655 1441.7 L1656 1441.2 L1657 1440.7 L1658 1440.2 L1659 1439.8 L1660 1439.6 L1661 1439.8 L1662.1 1440.9 L1663.1 1442.3 L1664.2 1443.7 L1665.2 1444.9 L1666.3 1446.1 L1667.4 1447.5 L1668.4 1449 L1669.5 1452.4 L1670.6 1459.3 L1671.8 1468 L1672.9 1476.6 L1674 1485.3 L1675 1494.3 L1676 1503.5 L1677 1512.8 L1678 1518.8 L1679 1517.7 L1680 1513 L1681 1508 L1682 1502.8 L1683 1497.8 L1684 1493.1 L1685 1488.7 L1686.1 1484.5 L1687.1 1480.3 L1688.1 1478.5 L1689.2 1481.2 L1690.4 1486.2 L1691.5 1491.4 L1692.6 1496.9 L1693.8 1502.4 L1694.9 1505.1 L1695.9 1502.3 L1696.9 1496.8 L1698 1491.5 L1699 1486.4 L1700 1481.7 L1701.1 1477.5 L1702.1 1473.5 L1703.2 1469.4 L1704.2 1465.4 L1705.3 1461.6 L1706.4 1457.9 L1707.4 1454.3 L1708.5 1451.3 L1709.5 1449.2 L1710.5 1447.6 L1711.5 1446 L1712.5 1444.5 L1713.5 1443.1 L1714.6 1441.7 L1715.6 1440.2 L1716.6 1438.6 L1717.6 1436.9 L1718.6 1435.6 L1719.6 1434.9 L1720.7 1434.5 L1721.7 1434.2 L1722.7 1433.9 L1723.8 1433.9 L1724.8 1433.9 L1725.8 1433.7 L1726.9 1433.3 L1727.9 1432.9 L1728.9 1432.6 L1730 1432.4 L1731 1432.3 L1732.1 1432.1 L1733.1 1431.8 L1734.1 1431.4 L1735.2 1430.9 L1736.2 1430.5 L1737.2 1430.3 L1738.3 1430.2 L1739.3 1430.1 L1740.3 1429.9 L1741.4 1429.6 L1742.4 1429.3" fill="none" stroke="#f2a262" stroke-width="4.6" stroke-linejoin="round" stroke-linecap="round"/>
<path d="M145 1597.3 L146 1597 L147 1597 L148 1598.2 L149 1600 L150 1601.5 L151 1601.1 L152 1599.8 L153 1599.1 L154 1599 L155 1599.2 L156 1597.9 L157 1596 L158 1594.7 L159 1595.8 L160 1597.3 L161 1598.7 L162 1599.1 L163 1599 L164 1598.9 L165 1599.5 L166 1600.2 L167 1601 L168 1600.2 L169 1599 L170 1598 L171 1597.6 L172 1598.1 L173 1598.9 L174 1599.7 L175 1599.4 L176 1599.5 L177 1600.7 L178 1602.2 L179 1603.6 L180 1602.7 L181 1601.5 L182 1599.9 L183 1599.1 L184 1598.9 L185 1599.8 L186 1600.7 L187 1600.1 L188 1598.6 L189 1597.6 L190 1598.3 L191 1599.5 L192 1600.3 L193 1600.8 L194 1601.1 L195 1601.4 L196 1601.6 L197 1601.1 L198 1600.4 L199 1600.1 L200 1600.4 L201 1600.6 L202 1600.8 L203 1601.3 L204 1602.1 L205 1601.9 L206 1601.9 L207 1602.1 L208 1601.4 L209 1600 L210 1598.4 L211 1597.5 L212 1597.5 L213 1598 L214 1598.9 L215 1599.4 L216 1600.1 L217 1601.9 L218 1603.2 L219 1604.3 L220 1603.1 L221 1601.6 L222 1600.3 L223 1600.5 L224 1601.2 L225 1602.4 L226 1603.4 L227 1603.8 L228 1601.5 L229 1599.3 L230 1598.5 L231 1599.1 L232 1600.7 L233 1603.3 L234 1605.3 L235 1602.4 L236 1599.7 L237 1598.8 L238 1599.6 L239 1601.7 L240 1604 L241 1605.4 L242 1604.3 L243 1601.3 L244 1598.4 L245 1597.6 L246 1598.7 L247 1599.7 L248 1598.2 L249 1596.7 L250 1596 L251 1596 L252 1594.6 L253 1593.3 L254 1593.8 L255 1596.1 L256 1600.3 L257 1602.8 L258 1604.7 L259 1603.9 L260 1601.2 L261 1598.7 L262 1597.2 L263 1598.4 L264 1601.8 L265 1604.2 L266 1605 L267 1601.1 L268 1598.6 L269 1597.3 L270 1597.6 L271 1595.7 L272 1592.1 L273 1589.7 L274 1590.1 L275 1592.4 L276 1594.9 L277 1596 L278 1596.1 L279 1595.6 L280 1596.3 L281 1597.2 L282 1598.5 L283 1597.7 L284 1596.8 L285 1596 L286 1596.5 L287 1596.3 L288 1596.4 L289 1598.2 L290 1600.3 L291 1597.9 L292 1595.6 L293 1594.5 L294 1594.1 L295 1592.5 L296 1590.6 L297 1590.2 L298 1591.3 L299 1592.8 L300 1593.5 L301 1592.4 L302 1591.7 L303 1593.9 L304 1597.7 L305 1598.5 L306 1596.5 L307 1593.3 L308 1592.3 L309 1591.6 L310 1591.8 L311 1593.4 L312 1596.3 L313 1600.6 L314 1603.3 L315 1599.9 L316 1595 L317 1591.4 L318 1590.7 L319 1591.8 L320 1594.1 L321 1596 L322 1595 L323 1593.7 L324 1593.1 L325 1592.4 L326 1591.7 L327 1589.3 L328 1587.1 L329 1586.1 L330 1588.1 L331 1591.5 L332 1594.9 L333 1596.6 L334 1596.2 L335 1596.4 L336 1597.9 L337 1599.4 L338 1598 L339 1596 L340 1594.3 L341 1594.7 L342 1595.2 L343 1595.2 L344 1595.2 L345 1596.5 L346 1597.8 L347 1597.6 L348 1596.8 L349 1598.3 L350 1602.3 L351 1605.7 L352 1604.6 L353 1600.6 L354 1597.6 L355 1597.3 L356 1597.8 L357 1596.7 L358 1594.4 L359 1592.6 L360 1592.6 L361 1595.1 L362 1597.2 L363 1597.9 L364 1596.8 L365 1596.4 L366 1597.1 L367 1598.2 L368 1597.5 L369 1596.2 L370 1594.2 L371 1595.3 L372 1596 L373 1596.5 L374 1595.5 L375 1593.3 L376 1591.2 L377 1589.4 L378 1591 L379 1593.9 L380 1596.9 L381 1598.4 L382 1596.2 L383 1593.4 L384 1593.2 L385 1596.4 L386 1600 L387 1601.3 L388 1602.1 L389 1602.9 L390 1604.2 L391 1606.7 L392 1608.6 L393 1609.8 L394 1607 L395 1604.7 L396 1603.7 L397 1604.8 L398 1606.4 L399 1608.6 L400 1610.2 L401 1610.3 L402 1609.7 L403 1609 L404.1 1609.1 L405.1 1609.4 L406.2 1610.1 L407.2 1609.1 L408.2 1607.4 L409.3 1605.7 L410.3 1606.1 L411.4 1607.6 L412.4 1610.1 L413.5 1611.5 L414.5 1611.8 L415.5 1611.7 L416.6 1612.5 L417.6 1613.7 L418.7 1615 L419.7 1615.1 L420.7 1614.3 L421.7 1613.7 L422.7 1613.8 L423.7 1613.6 L424.8 1611.9 L425.8 1610.4 L426.8 1610.7 L427.8 1611.8 L428.8 1612.5 L429.8 1612.5 L430.8 1612.1 L431.8 1611.8 L432.9 1611.7 L433.9 1611.8 L434.9 1612.2 L435.9 1612.6 L436.9 1612.8 L437.9 1612.7 L438.9 1612.5 L439.9 1612.3 L441 1612.1 L442 1612 L443 1611.9 L444 1612 L445 1612.1 L446 1612 L447 1611.9 L448 1611.6 L449 1611.4 L450 1611.2 L451 1611.2 L452 1611.2 L453 1611.3 L454 1611.4 L455 1611.5 L456 1611.4 L457 1611 L458 1610.5 L459 1610.1 L460 1609.8 L461 1609.6 L462 1609.4 L463 1609 L464 1608.7 L465 1608.4 L466 1608.2 L467 1608 L468 1608 L469 1608 L470 1608.1 L471 1608 L472 1607.9 L473 1607.6 L474 1607.3 L475 1607.1 L476 1607 L477 1607 L478 1607 L479 1606.9 L480 1606.7 L481 1606.5 L482 1606.3 L483 1606.3 L484 1606.3 L485 1606.3 L486 1606.1 L487 1605.8 L488 1605.5 L489 1605.3 L490 1605.1 L491 1605 L492 1604.7 L493 1604.2 L494 1603.7 L495 1603.4 L496 1603.3 L497 1603.4 L498 1603.5 L499 1603.3 L500 1603.1 L501 1603.1 L502 1603.2 L503 1603.3 L504 1603.4 L505 1603.5 L506 1603.5 L507 1603.5 L508 1603.5 L509 1603.4 L510 1603.3 L511 1603.1 L512 1603 L513 1602.9 L514 1602.8 L515 1602.8 L516 1602.8 L517 1602.8 L518 1602.7 L519 1602.6 L520 1602.4 L521 1602.2 L522 1602.1 L523 1602.2 L524 1602.4 L525 1602.6 L526 1602.6 L527 1602.3 L528 1602.1 L529 1602 L530 1601.9 L531 1602 L532 1602 L533 1602 L534 1601.9 L535 1601.6 L536 1601.3 L537 1601 L538 1600.7 L539 1600.5 L540 1600.3 L541 1600.1 L542 1599.9 L543 1599.9 L544 1599.9 L545 1600 L546 1600.1 L547 1600.1 L548 1600 L549 1599.9 L550 1599.7 L551 1599.6 L552 1599.6 L553 1599.6 L554 1599.7 L555 1599.8 L556 1599.7 L557 1599.4 L558 1599.1 L559 1598.8 L560 1598.6 L561 1598.5 L562 1598.6 L563 1598.7 L564 1598.7 L565 1598.6 L566 1598.4 L567 1598.2 L568 1598.2 L569 1598.2 L570 1598.2 L571 1598.1 L572 1597.9 L573 1597.5 L574 1597.1 L575 1596.8 L576 1596.7 L577 1596.7 L578 1596.8 L579 1596.7 L580 1596.5 L581 1596.3 L582 1596.1 L583 1595.9 L584 1595.8 L585 1595.8 L586 1595.9 L587 1596 L588 1596.2 L589 1596.2 L590 1596 L591 1595.7 L592 1595.5 L593 1595.3 L594 1595.2 L595 1595.1 L596 1595 L597 1594.7 L598 1594.4 L599 1594 L600 1593.7 L601 1593.5 L602 1593.3 L603 1593.1 L604 1593.1 L605 1593.2 L606 1593.3 L607 1593.3 L608 1593.1 L609 1592.8 L610 1592.4 L611 1592.1 L612 1592 L613 1592 L614 1592 L615 1591.9 L616 1591.6 L617 1591.4 L618 1591.3 L619 1591.4 L620 1591.5 L621 1591.5 L622 1591.3 L623 1591.2 L624 1591.1 L625 1590.7 L626 1590.2 L627 1589.7 L628 1589.1 L629 1588.4 L630.1 1587.7 L631.1 1587.2 L632.1 1586.9 L633.1 1586.7 L634.1 1586.5 L635.1 1586.2 L636.1 1585.8 L637.1 1585.4 L638.1 1585 L639.2 1584.6 L640.2 1584 L641.2 1583.2 L642.2 1582.5 L643.2 1581.9 L644.2 1581.5 L645.3 1581.4 L646.3 1581.5 L647.4 1581.6 L648.5 1581.7 L649.5 1581.9 L650.6 1582 L651.7 1582.1 L652.7 1582.2 L653.8 1582.4 L654.9 1582.7 L655.9 1583 L657 1583.2 L658.1 1583.3 L659.1 1583.3 L660.2 1583.6 L661.2 1584.1 L662.3 1584.6 L663.4 1584.9 L664.4 1585.1 L665.5 1585.4 L666.5 1586.1 L667.6 1586.8 L668.6 1587.4 L669.7 1587.6 L670.7 1587.4 L671.8 1587 L672.8 1586.6 L673.9 1586.2 L674.9 1585.8 L675.9 1585.3 L677 1584.8 L678 1584.1 L679.1 1583.4 L680.1 1583 L681.2 1582.8 L682.2 1582.7 L683.2 1582.5 L684.3 1582.2 L685.3 1581.7 L686.4 1581.3 L687.4 1580.8 L688.4 1580.5 L689.5 1580.3 L690.5 1580.1 L691.6 1579.9 L692.6 1579.9 L693.7 1580.6 L694.8 1581.7 L695.9 1583 L697 1584.9 L698.1 1587.8 L699.2 1591 L700.4 1594.1 L701.5 1596.6 L702.6 1597.8 L703.7 1598.5 L704.8 1599.1 L705.8 1599.8 L706.9 1600.5 L708 1601.2 L709.1 1601.3 L710.2 1600.3 L711.4 1598.6 L712.5 1596.8 L713.7 1594.9 L714.9 1593 L716 1591.2 L717 1589.9 L718 1588.9 L719 1587.8 L720.1 1586.6 L721.1 1585.4 L722.1 1584.2 L723.1 1583 L724.1 1581.8 L725.2 1580.7 L726.2 1579.7 L727.2 1578.6 L728.2 1577.9 L729.3 1577.8 L730.3 1578.1 L731.4 1578.4 L732.4 1578.5 L733.5 1578.5 L734.5 1578.4 L735.6 1578.4 L736.7 1578.5 L737.7 1578.8 L738.8 1579 L739.8 1579.1 L740.9 1579 L741.9 1578.6 L743 1578.3 L744 1578 L745 1577.9 L746.1 1577.8 L747.1 1577.5 L748.2 1577.1 L749.2 1576.8 L750.2 1576.7 L751.3 1576.7 L752.3 1576.6 L753.3 1576.2 L754.4 1575.7 L755.4 1575.2 L756.4 1574.9 L757.5 1574.6 L758.5 1574.4 L759.6 1574 L760.6 1573.6 L761.6 1573 L762.7 1572.4 L763.7 1571.9 L764.7 1571.7 L765.7 1571.6 L766.7 1571.5 L767.7 1571.4 L768.7 1571.4 L769.7 1571.3 L770.7 1571.3 L771.7 1571.3 L772.8 1571.2 L773.8 1571 L774.8 1570.7 L775.8 1570.6 L776.8 1570.5 L777.8 1570.5 L778.8 1570.5 L779.8 1570.4 L780.8 1570.2 L781.8 1569.9 L782.8 1569.7 L783.8 1569.5 L784.8 1569.3 L785.8 1569.3 L786.8 1569.2 L787.8 1569.2 L788.8 1569.2 L789.9 1569.2 L790.9 1569.2 L791.9 1569.3 L792.9 1569.3 L793.9 1569.2 L794.9 1569 L795.9 1568.7 L796.9 1568.4 L797.9 1568 L798.9 1567.7 L799.9 1567.5 L800.9 1567.7 L801.9 1567.9 L802.9 1567.9 L803.9 1567.7 L804.9 1567.6 L805.9 1567.5 L807 1567.6 L808 1567.6 L809 1567.6 L810 1567.5 L811 1567.3 L812 1567.2 L813 1567.1 L814 1566.9 L815 1566.7 L816 1566.6 L817 1566.5 L818 1566.5 L819 1566.5 L820 1566.5 L821 1566.5 L822 1566.5 L823 1566.3 L824 1566.2 L825.1 1566 L826.1 1566 L827.1 1566 L828.1 1566.2 L829.1 1566.3 L830.1 1566.5 L831.1 1566.4 L832.1 1566.2 L833.1 1566 L834.1 1565.9 L835.1 1565.9 L836.1 1566 L837.1 1566 L838.1 1565.8 L839.1 1565.5 L840.1 1565.5 L841.1 1565.6 L842.2 1565.6 L843.2 1565.4 L844.2 1565.1 L845.2 1564.7 L846.2 1564.5 L847.2 1564.5 L848.2 1564.4 L849.2 1564.3 L850.2 1564.1 L851.2 1563.8 L852.2 1563.4 L853.2 1563.2 L854.2 1563.3 L855.2 1563.4 L856.3 1563.4 L857.3 1563.4 L858.3 1563.3 L859.3 1563.4 L860.3 1563.6 L861.3 1563.9 L862.3 1564.2 L863.3 1564.4 L864.3 1564.5 L865.3 1564.4 L866.3 1564.2 L867.3 1564.1 L868.4 1564 L869.4 1564.2 L870.4 1564.4 L871.4 1564.5 L872.4 1564.3 L873.4 1564.2 L874.4 1564.1 L875.4 1564.2 L876.4 1564.4 L877.4 1564.7 L878.4 1564.9 L879.5 1564.8 L880.5 1564.7 L881.5 1564.7 L882.5 1564.7 L883.5 1564.8 L884.5 1565.1 L885.5 1565.4 L886.5 1565.7 L887.5 1565.7 L888.5 1565.6 L889.5 1565.5 L890.5 1565.5 L891.6 1565.5 L892.6 1565.6 L893.6 1565.9 L894.6 1566.1 L895.6 1566.1 L896.6 1565.9 L897.6 1565.6 L898.6 1565.4 L899.6 1565.4 L900.6 1565.4 L901.6 1565.2 L902.6 1564.9 L903.7 1564.6 L904.7 1564.6 L905.7 1564.9 L906.7 1565 L907.7 1565 L908.7 1564.9 L909.7 1564.8 L910.7 1564.8 L911.7 1564.9 L912.7 1565.1 L913.7 1565.1 L914.7 1564.9 L915.7 1564.7 L916.7 1564.6 L917.8 1564.6 L918.8 1564.7 L919.8 1564.8 L920.8 1564.7 L921.8 1564.4 L922.8 1564 L923.8 1563.6 L924.8 1563.1 L925.8 1562.8 L926.8 1562.6 L927.8 1562.6 L928.8 1562.5 L929.8 1562.2 L930.8 1561.9 L931.8 1561.6 L932.8 1561.4 L933.8 1561.5 L934.9 1561.6 L935.9 1561.4 L936.9 1561 L937.9 1560.6 L938.9 1560.4 L939.9 1560.3 L940.9 1560.2 L941.9 1560.1 L942.9 1559.9 L943.9 1559.5 L944.9 1559.1 L945.9 1558.8 L946.9 1558.7 L947.9 1558.8 L948.9 1558.7 L949.9 1558.5 L950.9 1558.2 L952 1557.9 L953 1557.7 L954 1557.6 L955 1557.6 L956 1557.5 L957 1557.6 L958 1557.7 L959 1557.9 L960 1558 L961 1557.9 L962 1557.8 L963.1 1557.5 L964.1 1557.3 L965.1 1557 L966.1 1556.9 L967.1 1556.9 L968.1 1557.1 L969.2 1557.4 L970.2 1557.6 L971.2 1557.5 L972.2 1557.5 L973.2 1557.7 L974.2 1558.1 L975.3 1558.5 L976.3 1558.6 L977.3 1558.4 L978.3 1558.2 L979.3 1558.2 L980.4 1558.3 L981.4 1558.4 L982.4 1558.5 L983.4 1558.5 L984.4 1558.4 L985.4 1558.1 L986.5 1557.9 L987.5 1557.9 L988.5 1557.9 L989.5 1558 L990.5 1557.9 L991.5 1557.8 L992.6 1557.6 L993.6 1557.3 L994.6 1557.2 L995.6 1557.1 L996.6 1557.1 L997.6 1557.1 L998.7 1557.1 L999.7 1557 L1000.7 1557.2 L1001.7 1557.7 L1002.8 1558.6 L1003.8 1559.5 L1004.9 1560.5 L1005.9 1561.4 L1007 1562.1 L1008 1562.7 L1009 1563.2 L1010 1563.8 L1011.1 1564.4 L1012.1 1564.8 L1013.1 1565.1 L1014.1 1565.5 L1015.2 1566 L1016.2 1566.6 L1017.2 1566.9 L1018.3 1566.8 L1019.4 1566.3 L1020.5 1565.7 L1021.6 1565.2 L1022.8 1564.7 L1023.9 1564.4 L1025 1564.2 L1026.1 1563.9 L1027.2 1563.6 L1028.3 1563.4 L1029.4 1563.2 L1030.4 1563.3 L1031.5 1563.5 L1032.6 1563.7 L1033.7 1563.8 L1034.7 1563.4 L1035.8 1562.7 L1036.8 1562 L1037.9 1561.4 L1038.9 1560.9 L1040 1560.6 L1041 1560.2 L1042.1 1559.9 L1043.1 1559.4 L1044.2 1558.9 L1045.2 1558.4 L1046.3 1557.7 L1047.3 1557.1 L1048.4 1556.6 L1049.4 1556.3 L1050.5 1555.9 L1051.5 1555.7 L1052.5 1555.5 L1053.5 1555.4 L1054.6 1555.2 L1055.6 1555.1 L1056.6 1554.9 L1057.6 1554.7 L1058.6 1554.5 L1059.6 1554.3 L1060.7 1554.2 L1061.7 1554.2 L1062.7 1554.1 L1063.7 1554 L1064.7 1553.7 L1065.7 1553.5 L1066.8 1553.3 L1067.8 1553.3 L1068.8 1553.4 L1069.8 1553.5 L1070.8 1553.7 L1071.8 1553.7 L1072.9 1553.8 L1073.9 1553.8 L1074.9 1553.8 L1075.9 1553.9 L1076.9 1553.9 L1077.9 1553.8 L1079 1553.8 L1080 1553.7 L1081 1553.2 L1082 1552.6 L1083 1552.1 L1084 1551.9 L1085.1 1551.8 L1086.1 1551.4 L1087.1 1550.9 L1088.1 1550.6 L1089.1 1550.7 L1090.1 1550.9 L1091.1 1551.1 L1092.1 1551.1 L1093.1 1551 L1094.1 1550.9 L1095.1 1550.8 L1096.1 1550.8 L1097.2 1550.7 L1098.2 1550.8 L1099.2 1550.9 L1100.2 1551.2 L1101.2 1551.6 L1102.2 1552 L1103.2 1552.2 L1104.2 1552.2 L1105.2 1551.9 L1106.2 1551.6 L1107.2 1551.3 L1108.2 1551.2 L1109.2 1551.1 L1110.2 1551 L1111.2 1550.8 L1112.2 1550.5 L1113.2 1550.2 L1114.2 1549.9 L1115.2 1549.7 L1116.3 1549.7 L1117.3 1549.7 L1118.3 1549.8 L1119.3 1549.8 L1120.3 1549.8 L1121.3 1549.7 L1122.3 1549.8 L1123.3 1549.8 L1124.3 1550 L1125.3 1550.4 L1126.3 1550.8 L1127.3 1551.1 L1128.3 1551.3 L1129.3 1551.3 L1130.3 1551.1 L1131.3 1550.9 L1132.3 1551 L1133.3 1551.1 L1134.3 1551.2 L1135.3 1551.3 L1136.3 1551.2 L1137.3 1551 L1138.3 1550.7 L1139.3 1550.3 L1140.3 1549.9 L1141.3 1549.4 L1142.3 1549 L1143.3 1548.7 L1144.3 1548.7 L1145.3 1549.1 L1146.3 1549.5 L1147.3 1549.8 L1148.3 1549.9 L1149.3 1550 L1150.3 1550 L1151.3 1550.1 L1152.3 1550.3 L1153.3 1550.3 L1154.3 1550.3 L1155.3 1550.2 L1156.3 1549.8 L1157.3 1549.5 L1158.3 1549.5 L1159.3 1549.5 L1160.3 1549.6 L1161.3 1549.4 L1162.3 1549.2 L1163.3 1549 L1164.3 1549 L1165.3 1549.1 L1166.3 1549.1 L1167.3 1549 L1168.3 1548.8 L1169.3 1548.8 L1170.3 1548.9 L1171.3 1549.2 L1172.3 1549.3 L1173.3 1549.4 L1174.3 1549.4 L1175.3 1549.5 L1176.3 1549.5 L1177.3 1549.5 L1178.3 1549.8 L1179.3 1550 L1180.3 1550 L1181.3 1549.9 L1182.3 1549.8 L1183.3 1549.7 L1184.3 1549.8 L1185.3 1549.8 L1186.3 1549.7 L1187.3 1549.7 L1188.3 1549.5 L1189.3 1549.4 L1190.3 1549.2 L1191.3 1549 L1192.3 1548.9 L1193.3 1548.8 L1194.3 1548.8 L1195.3 1548.9 L1196.3 1549 L1197.3 1549.2 L1198.3 1549.2 L1199.3 1549.1 L1200.3 1548.9 L1201.3 1548.6 L1202.3 1548.4 L1203.3 1548.3 L1204.3 1548.4 L1205.3 1548.4 L1206.3 1548.3 L1207.3 1548.1 L1208.3 1547.9 L1209.3 1547.9 L1210.3 1548.2 L1211.3 1548.5 L1212.3 1548.6 L1213.3 1548.5 L1214.3 1548.5 L1215.3 1548.4 L1216.3 1548.4 L1217.3 1548.4 L1218.3 1548.4 L1219.3 1548.4 L1220.3 1548.4 L1221.4 1548.1 L1222.4 1547.8 L1223.4 1547.4 L1224.4 1547.4 L1225.4 1547.5 L1226.4 1547.7 L1227.4 1547.7 L1228.4 1547.7 L1229.4 1547.7 L1230.4 1547.7 L1231.4 1547.7 L1232.4 1547.9 L1233.5 1548.1 L1234.5 1548.9 L1235.5 1550.2 L1236.5 1551.3 L1237.5 1550.9 L1238.5 1549.7 L1239.5 1548.6 L1240.5 1548.6 L1241.5 1548.8 L1242.5 1547.8 L1243.5 1546.7 L1244.5 1545.4 L1245.5 1546.2 L1246.6 1547.1 L1247.6 1548 L1248.6 1548.3 L1249.6 1548.5 L1250.6 1548.5 L1251.6 1547.9 L1252.6 1547.1 L1253.6 1546.7 L1254.6 1547.2 L1255.6 1547.8 L1256.6 1548.4 L1257.6 1548.6 L1258.6 1548.8 L1259.7 1548.5 L1260.7 1546.7 L1261.7 1545.1 L1262.7 1544.2 L1263.7 1545.4 L1264.7 1546.6 L1265.7 1547.3 L1266.7 1547 L1267.7 1546.9 L1268.7 1547.5 L1269.7 1549.3 L1270.7 1551.2 L1271.8 1550.4 L1272.8 1549 L1273.8 1548.2 L1274.8 1549.2 L1275.8 1550.6 L1276.8 1551.5 L1277.8 1550.1 L1278.8 1548.6 L1279.8 1548 L1280.8 1546.8 L1281.8 1545.5 L1282.8 1544.9 L1283.8 1546.2 L1284.8 1547.6 L1285.8 1548.1 L1286.8 1547.8 L1287.8 1547.3 L1288.8 1546.9 L1289.8 1548.3 L1290.8 1549.9 L1291.8 1550.1 L1292.8 1548.7 L1293.8 1547.1 L1294.8 1546.8 L1295.8 1546.5 L1296.8 1547.3 L1297.8 1549.1 L1298.8 1551.1 L1299.8 1549.6 L1300.8 1548 L1301.8 1547.6 L1302.8 1549.6 L1303.8 1551.5 L1304.8 1550.8 L1305.8 1549.2 L1307.2 1548.3 L1308.5 1550.8 L1309.7 1556.6 L1311 1564.2 L1312.2 1573.2 L1313.5 1585 L1314.7 1597.9 L1316 1609.4 L1317.1 1618.3 L1318.2 1626.2 L1319.2 1634.3 L1320.3 1638.1 L1321.5 1633.3 L1322.8 1624.2 L1324 1615.8 L1325 1608.9 L1326.1 1602.7 L1327.1 1599.8 L1328.2 1603.4 L1329.3 1610.3 L1330.4 1617 L1331.5 1622.5 L1332.7 1625.9 L1333.8 1628.2 L1335 1630.6 L1336 1633 L1337 1635.4 L1338 1637.9 L1339 1639.5 L1340 1639.4 L1341 1638.6 L1342 1637.8 L1343 1637 L1344 1636.1 L1345 1634.6 L1346.1 1632.9 L1347.1 1631.3 L1348.2 1629.6 L1349.2 1627 L1350.4 1622.5 L1351.6 1617 L1352.8 1611.4 L1354 1605.7 L1355.1 1600.4 L1356.1 1595.3 L1357.2 1590.5 L1358.2 1585.7 L1359.3 1581.3 L1360.4 1577.8 L1361.6 1574.7 L1362.7 1571.6 L1363.8 1568.8 L1365 1566.1 L1366.1 1563.9 L1367.1 1562.7 L1368.1 1561.9 L1369.2 1561 L1370.2 1560.1 L1371.2 1559.3 L1372.2 1558.5 L1373.2 1557.7 L1374.3 1557 L1375.3 1556.4 L1376.3 1556 L1377.3 1556 L1378.3 1555.9 L1379.3 1555.7 L1380.3 1555.4 L1381.3 1554.9 L1382.3 1554.5 L1383.3 1554.7 L1384.3 1557.5 L1385.3 1560.3 L1386.3 1562.8 L1387.3 1560.7 L1388.3 1557.2 L1389.3 1554 L1390.4 1552.4 L1391.4 1552.5 L1392.4 1552.6 L1393.4 1551.5 L1394.4 1550 L1395.4 1548.5 L1396.4 1549.6 L1397.4 1550.4 L1398.4 1550.8 L1399.4 1550.1 L1400.4 1549.7 L1401.4 1549.8 L1402.4 1552.3 L1403.4 1554.6 L1404.4 1554.1 L1405.4 1551.6 L1406.5 1549.4 L1407.5 1551.2 L1408.5 1553.5 L1409.5 1554 L1410.5 1552 L1411.5 1550 L1412.6 1550.8 L1413.6 1553 L1414.6 1555.2 L1415.6 1553.8 L1416.6 1551.3 L1417.6 1549.3 L1418.7 1550.9 L1419.7 1552.8 L1420.7 1552.6 L1421.7 1551.3 L1422.7 1550.3 L1423.7 1550.2 L1424.8 1549.9 L1425.8 1549.5 L1426.8 1548 L1427.8 1546.4 L1428.8 1545.9 L1429.8 1546.9 L1430.9 1547.9 L1431.9 1547.9 L1432.9 1547.2 L1433.9 1546.3 L1434.9 1545.9 L1436 1547 L1437 1547.8 L1438.1 1547.9 L1439.1 1552.1 L1440.2 1557.7 L1441.2 1560.2 L1442.3 1555.7 L1443.3 1553.9 L1444.4 1557.7 L1445.4 1562.9 L1446.5 1564 L1447.5 1560.1 L1448.5 1555.7 L1449.6 1552.3 L1450.6 1552.5 L1451.6 1552.8 L1452.7 1556.1 L1453.7 1560.2 L1454.7 1562.1 L1455.7 1557.2 L1456.8 1552.8 L1457.8 1551.8 L1458.8 1552.5 L1459.9 1555.8 L1460.9 1559.6 L1461.9 1561.4 L1463 1557 L1464 1552.8 L1465 1551.9 L1466 1552.3 L1467.1 1552.8 L1468.1 1556.9 L1469.1 1561 L1470.2 1565 L1471.2 1560.6 L1472.2 1555.9 L1473.3 1553.7 L1474.3 1556.2 L1475.3 1558.7 L1476.4 1555.9 L1477.4 1552.3 L1478.4 1548.6 L1479.4 1547.7 L1480.5 1547.1 L1481.5 1546.6 L1482.5 1546.4 L1483.6 1544.2 L1484.6 1541.9 L1485.6 1541.2 L1486.7 1543.1 L1487.7 1544.7 L1488.7 1544.1 L1489.7 1543.4 L1490.8 1543 L1491.8 1543.2 L1492.8 1545.2 L1493.9 1547.3 L1494.9 1546.4 L1495.9 1544.7 L1496.9 1543.5 L1498 1543.2 L1499 1542.6 L1500 1541.1 L1501 1538.9 L1502 1537.2 L1503.1 1538.8 L1504.1 1540.3 L1505.1 1540.8 L1506.1 1540.6 L1507.1 1540.4 L1508.1 1539.2 L1509.2 1537.7 L1510.2 1536.2 L1511.2 1537 L1512.2 1538 L1513.2 1538.8 L1514.2 1538.8 L1515.2 1539.2 L1516.3 1539.8 L1517.3 1541.4 L1518.3 1543.8 L1519.3 1545.4 L1520.3 1542.8 L1521.3 1540.3 L1522.4 1539.8 L1523.4 1540.2 L1524.4 1540.7 L1525.4 1542.6 L1526.4 1544.6 L1527.5 1546 L1528.5 1544.4 L1529.6 1542.3 L1530.6 1540.7 L1531.7 1541 L1532.7 1542.3 L1533.8 1544.2 L1534.8 1545.6 L1535.9 1545.2 L1536.9 1544 L1538 1543.5 L1539 1544.5 L1540 1546.3 L1541 1547.9 L1542.1 1548.4 L1543.1 1549 L1544.1 1549.7 L1545.1 1553 L1546.1 1556.2 L1547.2 1559.5 L1548.2 1560.9 L1549.2 1560.7 L1550.3 1559 L1551.3 1558.7 L1552.4 1558.6 L1553.4 1558.3 L1554.5 1557.6 L1555.5 1555.9 L1556.6 1553.9 L1557.7 1552.3 L1558.7 1552.1 L1559.8 1552.3 L1560.8 1551.6 L1561.9 1550.8 L1562.9 1551.3 L1564 1551.9 L1565 1550.6 L1566.1 1547.4 L1567.1 1544.9 L1568.1 1544.3 L1569.1 1544.3 L1570.1 1544.7 L1571.1 1545.1 L1572.1 1545.3 L1573.2 1545.1 L1574.2 1544.8 L1575.2 1544.5 L1576.2 1544.3 L1577.2 1544.1 L1578.2 1543.7 L1579.2 1543.5 L1580.2 1543.5 L1581.2 1543.4 L1582.2 1543.2 L1583.2 1543.1 L1584.2 1542.9 L1585.3 1542.5 L1586.3 1542.1 L1587.3 1541.8 L1588.3 1541.6 L1589.3 1541.5 L1590.3 1541.5 L1591.3 1541.5 L1592.3 1541.4 L1593.3 1541.3 L1594.3 1541.2 L1595.3 1541 L1596.3 1540.9 L1597.4 1541 L1598.4 1541.2 L1599.4 1541.2 L1600.4 1540.9 L1601.4 1540.4 L1602.4 1540 L1603.4 1539.9 L1604.5 1540.4 L1605.5 1541.2 L1606.6 1542.2 L1607.7 1543.2 L1608.7 1544.2 L1609.8 1545.3 L1610.8 1546.2 L1611.9 1547.8 L1612.9 1550.9 L1613.9 1554.9 L1614.9 1558.9 L1616 1562.8 L1617 1566.5 L1618 1570.2 L1619 1573.9 L1620 1577.3 L1621 1580.5 L1622 1583.4 L1623 1586.2 L1624.1 1589.1 L1625.1 1592.3 L1626.1 1595.7 L1627.1 1597.9 L1628.3 1597.6 L1629.5 1596 L1630.6 1594.3 L1631.8 1592.5 L1633 1590.4 L1634.1 1587.8 L1635.2 1584.9 L1636.3 1582 L1637.4 1579.1 L1638.5 1575.9 L1639.6 1572.8 L1640.7 1569.9 L1641.7 1567.6 L1642.8 1565.8 L1643.8 1564 L1644.8 1562 L1645.9 1559.9 L1646.9 1557.8 L1647.9 1555.8 L1649 1554 L1650 1552.7 L1651 1552.2 L1652 1551.9 L1653 1551.5 L1654 1550.9 L1655 1550.4 L1656 1550.1 L1657 1549.8 L1658 1549.6 L1659 1549.3 L1660 1548.9 L1661 1548.9 L1662.1 1550.1 L1663.1 1551.9 L1664.2 1553.7 L1665.2 1555.6 L1666.3 1557.4 L1667.4 1559.4 L1668.4 1561.4 L1669.5 1564.9 L1670.6 1571.4 L1671.8 1579.4 L1672.9 1587.3 L1674 1595 L1675 1602.7 L1676 1610.3 L1677 1618.1 L1678 1623 L1679 1622 L1680 1618 L1681 1613.7 L1682 1609.4 L1683 1605.2 L1684 1601.2 L1685 1597.6 L1686.1 1594 L1687.1 1590.5 L1688.1 1589 L1689.2 1591.8 L1690.4 1596.6 L1691.5 1601.3 L1692.6 1606 L1693.8 1610.9 L1694.9 1613.5 L1695.9 1611 L1696.9 1605.8 L1698 1600.3 L1699 1595 L1700 1590.2 L1701.1 1586.1 L1702.1 1582.4 L1703.2 1578.6 L1704.2 1574.6 L1705.3 1570.8 L1706.4 1566.9 L1707.4 1563.2 L1708.5 1560 L1709.5 1557.9 L1710.5 1556.1 L1711.5 1554.1 L1712.5 1551.9 L1713.5 1549.7 L1714.6 1547.7 L1715.6 1545.8 L1716.6 1543.9 L1717.6 1542 L1718.6 1540.5 L1719.6 1539.6 L1720.7 1539.3 L1721.7 1539.3 L1722.7 1539.3 L1723.8 1539.4 L1724.8 1539.3 L1725.8 1539.1 L1726.9 1538.8 L1727.9 1538.7 L1728.9 1538.7 L1730 1538.7 L1731 1538.7 L1732.1 1538.6 L1733.1 1538.3 L1734.1 1537.9 L1735.2 1537.5 L1736.2 1537.3 L1737.2 1537 L1738.3 1536.7 L1739.3 1536.5 L1740.3 1536.1 L1741.4 1535.6 L1742.4 1535" fill="none" stroke="#f87474" stroke-width="4.6" stroke-linejoin="round" stroke-linecap="round"/>
<rect x="144.6" y="992" width="1597.4" height="798" fill="none" stroke="#000" stroke-width="3"/>
<text x="123.7" y="1391" font-size="33.6" text-anchor="middle" transform="rotate(-90 123.7 1391)">Intensity (a.u.)</text>
<line x1="144.8" y1="1790" x2="144.8" y2="1801" stroke="#000" stroke-width="3"/>
<text x="144.8" y="1839" font-size="33.6" text-anchor="middle">4000</text>
<line x1="410.8" y1="1790" x2="410.8" y2="1801" stroke="#000" stroke-width="3"/>
<text x="410.8" y="1839" font-size="33.6" text-anchor="middle">3500</text>
<line x1="676.8" y1="1790" x2="676.8" y2="1801" stroke="#000" stroke-width="3"/>
<text x="676.8" y="1839" font-size="33.6" text-anchor="middle">3000</text>
<line x1="942.8" y1="1790" x2="942.8" y2="1801" stroke="#000" stroke-width="3"/>
<text x="942.8" y="1839" font-size="33.6" text-anchor="middle">2500</text>
<line x1="1208.8" y1="1790" x2="1208.8" y2="1801" stroke="#000" stroke-width="3"/>
<text x="1208.8" y="1839" font-size="33.6" text-anchor="middle">2000</text>
<line x1="1474.8" y1="1790" x2="1474.8" y2="1801" stroke="#000" stroke-width="3"/>
<text x="1474.8" y="1839" font-size="33.6" text-anchor="middle">1500</text>
<line x1="1740.8" y1="1790" x2="1740.8" y2="1801" stroke="#000" stroke-width="3"/>
<text x="1740.8" y="1839" font-size="33.6" text-anchor="middle">1000</text>
<line x1="277.8" y1="1790" x2="277.8" y2="1796.5" stroke="#000" stroke-width="3"/>
<line x1="543.8" y1="1790" x2="543.8" y2="1796.5" stroke="#000" stroke-width="3"/>
<line x1="809.8" y1="1790" x2="809.8" y2="1796.5" stroke="#000" stroke-width="3"/>
<line x1="1075.8" y1="1790" x2="1075.8" y2="1796.5" stroke="#000" stroke-width="3"/>
<line x1="1341.8" y1="1790" x2="1341.8" y2="1796.5" stroke="#000" stroke-width="3"/>
<line x1="1607.8" y1="1790" x2="1607.8" y2="1796.5" stroke="#000" stroke-width="3"/>
<text x="794.6" y="1889.9" font-size="33.6"><tspan>Wavenumber (cm</tspan><tspan font-size="24" dy="-10">−1</tspan><tspan dy="10">)</tspan></text>
<text x="-1.4" y="1971.5" font-size="43" font-weight="bold">c</text>
<rect x="145" y="1964.3" width="1599" height="420.2" fill="none" stroke="#000" stroke-width="2.6"/>
<line x1="132" y1="1999.7" x2="145" y2="1999.7" stroke="#000" stroke-width="2.6"/>
<text x="119.5" y="2009.9" font-size="33.6" text-anchor="end">2.0</text>
<line x1="132" y1="2069.7" x2="145" y2="2069.7" stroke="#000" stroke-width="2.6"/>
<text x="119.5" y="2079.9" font-size="33.6" text-anchor="end">1.5</text>
<line x1="132" y1="2139.7" x2="145" y2="2139.7" stroke="#000" stroke-width="2.6"/>
<text x="119.5" y="2149.9" font-size="33.6" text-anchor="end">1.0</text>
<line x1="132" y1="2209.7" x2="145" y2="2209.7" stroke="#000" stroke-width="2.6"/>
<text x="119.5" y="2219.9" font-size="33.6" text-anchor="end">0.5</text>
<line x1="132" y1="2279.7" x2="145" y2="2279.7" stroke="#000" stroke-width="2.6"/>
<text x="119.5" y="2289.9" font-size="33.6" text-anchor="end">0.0</text>
<line x1="132" y1="2349.7" x2="145" y2="2349.7" stroke="#000" stroke-width="2.6"/>
<text x="119.5" y="2359.9" font-size="33.6" text-anchor="end">–0.5</text>
<line x1="138.5" y1="1964.7" x2="145" y2="1964.7" stroke="#000" stroke-width="2.6"/>
<line x1="138.5" y1="2034.7" x2="145" y2="2034.7" stroke="#000" stroke-width="2.6"/>
<line x1="138.5" y1="2104.7" x2="145" y2="2104.7" stroke="#000" stroke-width="2.6"/>
<line x1="138.5" y1="2174.7" x2="145" y2="2174.7" stroke="#000" stroke-width="2.6"/>
<line x1="138.5" y1="2244.7" x2="145" y2="2244.7" stroke="#000" stroke-width="2.6"/>
<line x1="138.5" y1="2314.7" x2="145" y2="2314.7" stroke="#000" stroke-width="2.6"/>
<line x1="138.5" y1="2384.7" x2="145" y2="2384.7" stroke="#000" stroke-width="2.6"/>
<text x="27.9" y="2174.2" font-size="33.6" text-anchor="middle" transform="rotate(-90 27.9 2174.2)">E (eV)</text>
<text x="811" y="2424.2" font-size="33.3">Reaction pathway</text>
<line x1="355.9" y1="2280.1" x2="421.1" y2="2328.3" stroke="#111" stroke-width="1.6" stroke-dasharray="6 4.5"/>
<line x1="631" y1="2328.3" x2="701.1" y2="2199.6" stroke="#111" stroke-width="1.6" stroke-dasharray="6 4.5"/>
<line x1="911" y1="2199.6" x2="978.7" y2="2104.6" stroke="#111" stroke-width="1.6" stroke-dasharray="6 4.5"/>
<line x1="1187" y1="2104.6" x2="1257.7" y2="2020.2" stroke="#111" stroke-width="1.6" stroke-dasharray="6 4.5"/>
<line x1="1466.5" y1="2020.2" x2="1537.8" y2="2290.6" stroke="#111" stroke-width="1.6" stroke-dasharray="6 4.5"/>
<line x1="144.4" y1="2280.1" x2="355.9" y2="2280.1" stroke="#000" stroke-width="3.4"/>
<line x1="421.1" y1="2328.3" x2="631" y2="2328.3" stroke="#000" stroke-width="3.4"/>
<line x1="701.1" y1="2199.6" x2="911" y2="2199.6" stroke="#000" stroke-width="3.4"/>
<line x1="978.7" y1="2104.6" x2="1187" y2="2104.6" stroke="#000" stroke-width="3.4"/>
<line x1="1257.7" y1="2020.2" x2="1466.5" y2="2020.2" stroke="#000" stroke-width="3.4"/>
<line x1="1537.8" y1="2290.6" x2="1737" y2="2290.6" stroke="#000" stroke-width="3.4"/>
<text x="212.3" y="2313.4" font-size="29.1">0.000</text>
<text x="469.6" y="2362.2" font-size="29.1">–0.347</text>
<text x="757.2" y="2241.8" font-size="29.1">0.566</text>
<text x="1048" y="2086" font-size="29.1">1.248</text>
<text x="1322.6" y="2001" font-size="29.1">1.856</text>
<text x="1600.3" y="2325.2" font-size="29.1">–0.077</text>
<text x="459" y="2099.6" font-size="29.1">HCOOH*</text>
<text x="733" y="2008.9" font-size="29.4">HCOO*+ H*</text>
<text x="985.5" y="2351.8" font-size="29.4"><tspan>(HCOO*+ H*)</tspan><tspan font-size="21.5" dy="7">m</tspan></text>
<text x="1330.1" y="2294.4" font-size="29.4">TS</text>
<text x="1600.9" y="2001.5" font-size="29.4"><tspan>Ti</tspan><tspan font-size="21.5" dy="7.5">3</tspan><tspan dy="-7.5">C</tspan><tspan font-size="21.5" dy="7.5">2</tspan><tspan dy="-7.5">O</tspan><tspan font-size="21.5" dy="7.5">2</tspan></text>
<text x="1567.2" y="2072.5" font-size="29.4"><tspan>CO</tspan><tspan font-size="21.5" dy="7.5">2</tspan><tspan dy="-7.5">+ H</tspan><tspan font-size="21.5" dy="7.5">2</tspan></text>
<path d="M166.3 2141.8 L179.2 2153.1 M192.2 2141.8 L179.2 2153.1 M192.2 2141.8 L205.1 2153.1 M218.1 2141.8 L205.1 2153.1 M218.1 2141.8 L231 2153.1 M244 2141.8 L231 2153.1 M244 2141.8 L256.9 2153.1 M269.9 2141.8 L256.9 2153.1 M269.9 2141.8 L282.8 2153.1 M295.8 2141.8 L282.8 2153.1 M295.8 2141.8 L308.8 2153.1 M321.7 2141.8 L308.8 2153.1 M321.7 2141.8 L334.6 2153.1 M192.2 2164.3 L179.2 2153.1 M192.2 2164.3 L205.1 2153.1 M218.1 2164.3 L205.1 2153.1 M218.1 2164.3 L231 2153.1 M244 2164.3 L231 2153.1 M244 2164.3 L256.9 2153.1 M269.9 2164.3 L256.9 2153.1 M269.9 2164.3 L282.8 2153.1 M295.8 2164.3 L282.8 2153.1 M295.8 2164.3 L308.8 2153.1 M321.7 2164.3 L308.8 2153.1 M321.7 2164.3 L334.6 2153.1 M347.6 2164.3 L334.6 2153.1 M192.2 2141.8 L192.2 2164.3 M218.1 2141.8 L218.1 2164.3 M244 2141.8 L244 2164.3 M269.9 2141.8 L269.9 2164.3 M295.8 2141.8 L295.8 2164.3 M321.7 2141.8 L321.7 2164.3 M192.2 2164.3 L179.2 2174.9 M192.2 2164.3 L205.1 2174.9 M218.1 2164.3 L205.1 2174.9 M218.1 2164.3 L231 2174.9 M244 2164.3 L231 2174.9 M244 2164.3 L256.9 2174.9 M269.9 2164.3 L256.9 2174.9 M269.9 2164.3 L282.8 2174.9 M295.8 2164.3 L282.8 2174.9 M295.8 2164.3 L308.8 2174.9 M321.7 2164.3 L308.8 2174.9 M321.7 2164.3 L334.6 2174.9 M347.6 2164.3 L334.6 2174.9 M347.6 2164.3 L360.5 2174.9 M192.2 2185.6 L179.2 2174.9 M192.2 2185.6 L205.1 2174.9 M218.1 2185.6 L205.1 2174.9 M218.1 2185.6 L231 2174.9 M244 2185.6 L231 2174.9 M244 2185.6 L256.9 2174.9 M269.9 2185.6 L256.9 2174.9 M269.9 2185.6 L282.8 2174.9 M295.8 2185.6 L282.8 2174.9 M295.8 2185.6 L308.8 2174.9 M321.7 2185.6 L308.8 2174.9 M321.7 2185.6 L334.6 2174.9 M347.6 2185.6 L334.6 2174.9 M347.6 2185.6 L360.5 2174.9 M192.2 2164.3 L192.2 2185.6 M218.1 2164.3 L218.1 2185.6 M244 2164.3 L244 2185.6 M269.9 2164.3 L269.9 2185.6 M295.8 2164.3 L295.8 2185.6 M321.7 2164.3 L321.7 2185.6 M347.6 2164.3 L347.6 2185.6 M192.2 2185.6 L179.2 2196.4 M192.2 2185.6 L205.1 2196.4 M218.1 2185.6 L205.1 2196.4 M218.1 2185.6 L231 2196.4 M244 2185.6 L231 2196.4 M244 2185.6 L256.9 2196.4 M269.9 2185.6 L256.9 2196.4 M269.9 2185.6 L282.8 2196.4 M295.8 2185.6 L282.8 2196.4 M295.8 2185.6 L308.8 2196.4 M321.7 2185.6 L308.8 2196.4 M321.7 2185.6 L334.6 2196.4 M347.6 2185.6 L334.6 2196.4 M166.3 2207.2 L179.2 2196.4 M192.2 2207.2 L179.2 2196.4 M192.2 2207.2 L205.1 2196.4 M218.1 2207.2 L205.1 2196.4 M218.1 2207.2 L231 2196.4 M244 2207.2 L231 2196.4 M244 2207.2 L256.9 2196.4 M269.9 2207.2 L256.9 2196.4 M269.9 2207.2 L282.8 2196.4 M295.8 2207.2 L282.8 2196.4 M295.8 2207.2 L308.8 2196.4 M321.7 2207.2 L308.8 2196.4 M321.7 2207.2 L334.6 2196.4 M192.2 2185.6 L192.2 2207.2 M218.1 2185.6 L218.1 2207.2 M244 2185.6 L244 2207.2 M269.9 2185.6 L269.9 2207.2 M295.8 2185.6 L295.8 2207.2 M321.7 2185.6 L321.7 2207.2 M166.3 2207.2 L179.2 2218.3 M192.2 2207.2 L179.2 2218.3 M192.2 2207.2 L205.1 2218.3 M218.1 2207.2 L205.1 2218.3 M218.1 2207.2 L231 2218.3 M244 2207.2 L231 2218.3 M244 2207.2 L256.9 2218.3 M269.9 2207.2 L256.9 2218.3 M269.9 2207.2 L282.8 2218.3 M295.8 2207.2 L282.8 2218.3 M295.8 2207.2 L308.8 2218.3 M321.7 2207.2 L308.8 2218.3 M321.7 2207.2 L334.6 2218.3 M192.2 2229.5 L179.2 2218.3 M192.2 2229.5 L205.1 2218.3 M218.1 2229.5 L205.1 2218.3 M218.1 2229.5 L231 2218.3 M244 2229.5 L231 2218.3 M244 2229.5 L256.9 2218.3 M269.9 2229.5 L256.9 2218.3 M269.9 2229.5 L282.8 2218.3 M295.8 2229.5 L282.8 2218.3 M295.8 2229.5 L308.8 2218.3 M321.7 2229.5 L308.8 2218.3 M321.7 2229.5 L334.6 2218.3 M347.6 2229.5 L334.6 2218.3 M192.2 2207.2 L192.2 2229.5 M218.1 2207.2 L218.1 2229.5 M244 2207.2 L244 2229.5 M269.9 2207.2 L269.9 2229.5 M295.8 2207.2 L295.8 2229.5 M321.7 2207.2 L321.7 2229.5 M166.3 2141.8 L153.3 2134 M166.3 2141.8 L153.3 2149.6 M321.7 2141.8 L334.6 2134 M321.7 2141.8 L334.6 2149.6 M192.2 2164.3 L179.2 2156.5 M192.2 2164.3 L179.2 2172.1 M347.6 2164.3 L360.5 2156.5 M347.6 2164.3 L360.5 2172.1 M192.2 2185.6 L179.2 2177.8 M192.2 2185.6 L179.2 2193.4 M347.6 2185.6 L360.5 2177.8 M347.6 2185.6 L360.5 2193.4 M166.3 2207.2 L153.3 2199.4 M166.3 2207.2 L153.3 2215 M321.7 2207.2 L334.6 2199.4 M321.7 2207.2 L334.6 2215 M192.2 2229.5 L179.2 2221.7 M192.2 2229.5 L179.2 2237.3 M347.6 2229.5 L360.5 2221.7 M347.6 2229.5 L360.5 2237.3" stroke="#8c8c8c" stroke-width="2.6" fill="none" stroke-linecap="round"/>
<circle cx="166.3" cy="2141.8" r="9.8" fill="url(#gTi)"/>
<circle cx="192.2" cy="2141.8" r="9.8" fill="url(#gTi)"/>
<circle cx="218.1" cy="2141.8" r="9.8" fill="url(#gTi)"/>
<circle cx="244" cy="2141.8" r="9.8" fill="url(#gTi)"/>
<circle cx="269.9" cy="2141.8" r="9.8" fill="url(#gTi)"/>
<circle cx="295.8" cy="2141.8" r="9.8" fill="url(#gTi)"/>
<circle cx="321.7" cy="2141.8" r="9.8" fill="url(#gTi)"/>
<circle cx="192.2" cy="2164.3" r="8.2" fill="url(#gC)"/>
<circle cx="218.1" cy="2164.3" r="8.2" fill="url(#gC)"/>
<circle cx="244" cy="2164.3" r="8.2" fill="url(#gC)"/>
<circle cx="269.9" cy="2164.3" r="8.2" fill="url(#gC)"/>
<circle cx="295.8" cy="2164.3" r="8.2" fill="url(#gC)"/>
<circle cx="321.7" cy="2164.3" r="8.2" fill="url(#gC)"/>
<circle cx="347.6" cy="2164.3" r="8.2" fill="url(#gC)"/>
<circle cx="192.2" cy="2185.6" r="9.8" fill="url(#gTi)"/>
<circle cx="218.1" cy="2185.6" r="9.8" fill="url(#gTi)"/>
<circle cx="244" cy="2185.6" r="9.8" fill="url(#gTi)"/>
<circle cx="269.9" cy="2185.6" r="9.8" fill="url(#gTi)"/>
<circle cx="295.8" cy="2185.6" r="9.8" fill="url(#gTi)"/>
<circle cx="321.7" cy="2185.6" r="9.8" fill="url(#gTi)"/>
<circle cx="347.6" cy="2185.6" r="9.8" fill="url(#gTi)"/>
<circle cx="166.3" cy="2207.2" r="8.2" fill="url(#gC)"/>
<circle cx="192.2" cy="2207.2" r="8.2" fill="url(#gC)"/>
<circle cx="218.1" cy="2207.2" r="8.2" fill="url(#gC)"/>
<circle cx="244" cy="2207.2" r="8.2" fill="url(#gC)"/>
<circle cx="269.9" cy="2207.2" r="8.2" fill="url(#gC)"/>
<circle cx="295.8" cy="2207.2" r="8.2" fill="url(#gC)"/>
<circle cx="321.7" cy="2207.2" r="8.2" fill="url(#gC)"/>
<circle cx="192.2" cy="2229.5" r="9.8" fill="url(#gTi)"/>
<circle cx="218.1" cy="2229.5" r="9.8" fill="url(#gTi)"/>
<circle cx="244" cy="2229.5" r="9.8" fill="url(#gTi)"/>
<circle cx="269.9" cy="2229.5" r="9.8" fill="url(#gTi)"/>
<circle cx="295.8" cy="2229.5" r="9.8" fill="url(#gTi)"/>
<circle cx="321.7" cy="2229.5" r="9.8" fill="url(#gTi)"/>
<circle cx="347.6" cy="2229.5" r="9.8" fill="url(#gTi)"/>
<polyline points="179.2,2136.5 192.2,2131.5 205.2,2136.5 218.1,2131.5 231.1,2136.5 244,2131.5 256.9,2136.5 269.9,2131.5 282.8,2136.5 295.8,2131.5 308.8,2136.5 321.7,2131.5 334.6,2136.5 347.6,2131.5 360.5,2136.5" fill="none" stroke="#e01010" stroke-width="2.2" stroke-linejoin="round"/>
<circle cx="192.2" cy="2126.5" r="8.4" fill="url(#gO)"/>
<circle cx="218.1" cy="2126.5" r="8.4" fill="url(#gO)"/>
<circle cx="244" cy="2126.5" r="8.4" fill="url(#gO)"/>
<circle cx="269.9" cy="2126.5" r="8.4" fill="url(#gO)"/>
<circle cx="295.8" cy="2126.5" r="8.4" fill="url(#gO)"/>
<circle cx="321.7" cy="2126.5" r="8.4" fill="url(#gO)"/>
<circle cx="347.6" cy="2126.5" r="8.4" fill="url(#gO)"/>
<polyline points="179.2,2236.2 192.2,2241.2 205.2,2236.2 218.1,2241.2 231.1,2236.2 244,2241.2 256.9,2236.2 269.9,2241.2 282.8,2236.2 295.8,2241.2 308.8,2236.2 321.7,2241.2 334.6,2236.2 347.6,2241.2 360.5,2236.2" fill="none" stroke="#e01010" stroke-width="2.2" stroke-linejoin="round"/>
<circle cx="192.2" cy="2246.2" r="8.4" fill="url(#gO)"/>
<circle cx="218.1" cy="2246.2" r="8.4" fill="url(#gO)"/>
<circle cx="244" cy="2246.2" r="8.4" fill="url(#gO)"/>
<circle cx="269.9" cy="2246.2" r="8.4" fill="url(#gO)"/>
<circle cx="295.8" cy="2246.2" r="8.4" fill="url(#gO)"/>
<circle cx="321.7" cy="2246.2" r="8.4" fill="url(#gO)"/>
<circle cx="347.6" cy="2246.2" r="8.4" fill="url(#gO)"/>
<path d="M430.4 2210.5 L442.4 2220.9 M454.3 2210.5 L442.4 2220.9 M454.3 2210.5 L466.2 2220.9 M478.2 2210.5 L466.2 2220.9 M478.2 2210.5 L490.1 2220.9 M502.1 2210.5 L490.1 2220.9 M502.1 2210.5 L514 2220.9 M526 2210.5 L514 2220.9 M526 2210.5 L538 2220.9 M549.9 2210.5 L538 2220.9 M549.9 2210.5 L561.9 2220.9 M573.8 2210.5 L561.9 2220.9 M573.8 2210.5 L585.8 2220.9 M454.3 2231.4 L442.4 2220.9 M454.3 2231.4 L466.2 2220.9 M478.2 2231.4 L466.2 2220.9 M478.2 2231.4 L490.1 2220.9 M502.1 2231.4 L490.1 2220.9 M502.1 2231.4 L514 2220.9 M526 2231.4 L514 2220.9 M526 2231.4 L538 2220.9 M549.9 2231.4 L538 2220.9 M549.9 2231.4 L561.9 2220.9 M573.8 2231.4 L561.9 2220.9 M573.8 2231.4 L585.8 2220.9 M597.7 2231.4 L585.8 2220.9 M454.3 2210.5 L454.3 2231.4 M478.2 2210.5 L478.2 2231.4 M502.1 2210.5 L502.1 2231.4 M526 2210.5 L526 2231.4 M549.9 2210.5 L549.9 2231.4 M573.8 2210.5 L573.8 2231.4 M454.3 2231.4 L442.4 2241.4 M454.3 2231.4 L466.2 2241.4 M478.2 2231.4 L466.2 2241.4 M478.2 2231.4 L490.1 2241.4 M502.1 2231.4 L490.1 2241.4 M502.1 2231.4 L514 2241.4 M526 2231.4 L514 2241.4 M526 2231.4 L538 2241.4 M549.9 2231.4 L538 2241.4 M549.9 2231.4 L561.9 2241.4 M573.8 2231.4 L561.9 2241.4 M573.8 2231.4 L585.8 2241.4 M597.7 2231.4 L585.8 2241.4 M597.7 2231.4 L609.6 2241.4 M454.3 2251.3 L442.4 2241.4 M454.3 2251.3 L466.2 2241.4 M478.2 2251.3 L466.2 2241.4 M478.2 2251.3 L490.1 2241.4 M502.1 2251.3 L490.1 2241.4 M502.1 2251.3 L514 2241.4 M526 2251.3 L514 2241.4 M526 2251.3 L538 2241.4 M549.9 2251.3 L538 2241.4 M549.9 2251.3 L561.9 2241.4 M573.8 2251.3 L561.9 2241.4 M573.8 2251.3 L585.8 2241.4 M597.7 2251.3 L585.8 2241.4 M597.7 2251.3 L609.6 2241.4 M454.3 2231.4 L454.3 2251.3 M478.2 2231.4 L478.2 2251.3 M502.1 2231.4 L502.1 2251.3 M526 2231.4 L526 2251.3 M549.9 2231.4 L549.9 2251.3 M573.8 2231.4 L573.8 2251.3 M597.7 2231.4 L597.7 2251.3 M454.3 2251.3 L442.4 2261.4 M454.3 2251.3 L466.2 2261.4 M478.2 2251.3 L466.2 2261.4 M478.2 2251.3 L490.1 2261.4 M502.1 2251.3 L490.1 2261.4 M502.1 2251.3 L514 2261.4 M526 2251.3 L514 2261.4 M526 2251.3 L538 2261.4 M549.9 2251.3 L538 2261.4 M549.9 2251.3 L561.9 2261.4 M573.8 2251.3 L561.9 2261.4 M573.8 2251.3 L585.8 2261.4 M597.7 2251.3 L585.8 2261.4 M430.4 2271.5 L442.4 2261.4 M454.3 2271.5 L442.4 2261.4 M454.3 2271.5 L466.2 2261.4 M478.2 2271.5 L466.2 2261.4 M478.2 2271.5 L490.1 2261.4 M502.1 2271.5 L490.1 2261.4 M502.1 2271.5 L514 2261.4 M526 2271.5 L514 2261.4 M526 2271.5 L538 2261.4 M549.9 2271.5 L538 2261.4 M549.9 2271.5 L561.9 2261.4 M573.8 2271.5 L561.9 2261.4 M573.8 2271.5 L585.8 2261.4 M454.3 2251.3 L454.3 2271.5 M478.2 2251.3 L478.2 2271.5 M502.1 2251.3 L502.1 2271.5 M526 2251.3 L526 2271.5 M549.9 2251.3 L549.9 2271.5 M573.8 2251.3 L573.8 2271.5 M430.4 2271.5 L442.4 2281.6 M454.3 2271.5 L442.4 2281.6 M454.3 2271.5 L466.2 2281.6 M478.2 2271.5 L466.2 2281.6 M478.2 2271.5 L490.1 2281.6 M502.1 2271.5 L490.1 2281.6 M502.1 2271.5 L514 2281.6 M526 2271.5 L514 2281.6 M526 2271.5 L538 2281.6 M549.9 2271.5 L538 2281.6 M549.9 2271.5 L561.9 2281.6 M573.8 2271.5 L561.9 2281.6 M573.8 2271.5 L585.8 2281.6 M454.3 2291.7 L442.4 2281.6 M454.3 2291.7 L466.2 2281.6 M478.2 2291.7 L466.2 2281.6 M478.2 2291.7 L490.1 2281.6 M502.1 2291.7 L490.1 2281.6 M502.1 2291.7 L514 2281.6 M526 2291.7 L514 2281.6 M526 2291.7 L538 2281.6 M549.9 2291.7 L538 2281.6 M549.9 2291.7 L561.9 2281.6 M573.8 2291.7 L561.9 2281.6 M573.8 2291.7 L585.8 2281.6 M597.7 2291.7 L585.8 2281.6 M454.3 2271.5 L454.3 2291.7 M478.2 2271.5 L478.2 2291.7 M502.1 2271.5 L502.1 2291.7 M526 2271.5 L526 2291.7 M549.9 2271.5 L549.9 2291.7 M573.8 2271.5 L573.8 2291.7 M430.4 2210.5 L418.5 2203.3 M430.4 2210.5 L418.5 2217.7 M573.8 2210.5 L585.8 2203.3 M573.8 2210.5 L585.8 2217.7 M454.3 2231.4 L442.4 2224.2 M454.3 2231.4 L442.4 2238.6 M597.7 2231.4 L609.7 2224.2 M597.7 2231.4 L609.7 2238.6 M454.3 2251.3 L442.4 2244.1 M454.3 2251.3 L442.4 2258.5 M597.7 2251.3 L609.7 2244.1 M597.7 2251.3 L609.7 2258.5 M430.4 2271.5 L418.5 2264.3 M430.4 2271.5 L418.5 2278.7 M573.8 2271.5 L585.8 2264.3 M573.8 2271.5 L585.8 2278.7 M454.3 2291.7 L442.4 2284.5 M454.3 2291.7 L442.4 2298.9 M597.7 2291.7 L609.7 2284.5 M597.7 2291.7 L609.7 2298.9" stroke="#8c8c8c" stroke-width="2.6" fill="none" stroke-linecap="round"/>
<circle cx="430.4" cy="2210.5" r="9.1" fill="url(#gTi)"/>
<circle cx="454.3" cy="2210.5" r="9.1" fill="url(#gTi)"/>
<circle cx="478.2" cy="2210.5" r="9.1" fill="url(#gTi)"/>
<circle cx="502.1" cy="2210.5" r="9.1" fill="url(#gTi)"/>
<circle cx="526" cy="2210.5" r="9.1" fill="url(#gTi)"/>
<circle cx="549.9" cy="2210.5" r="9.1" fill="url(#gTi)"/>
<circle cx="573.8" cy="2210.5" r="9.1" fill="url(#gTi)"/>
<circle cx="454.3" cy="2231.4" r="7.6" fill="url(#gC)"/>
<circle cx="478.2" cy="2231.4" r="7.6" fill="url(#gC)"/>
<circle cx="502.1" cy="2231.4" r="7.6" fill="url(#gC)"/>
<circle cx="526" cy="2231.4" r="7.6" fill="url(#gC)"/>
<circle cx="549.9" cy="2231.4" r="7.6" fill="url(#gC)"/>
<circle cx="573.8" cy="2231.4" r="7.6" fill="url(#gC)"/>
<circle cx="597.7" cy="2231.4" r="7.6" fill="url(#gC)"/>
<circle cx="454.3" cy="2251.3" r="9.1" fill="url(#gTi)"/>
<circle cx="478.2" cy="2251.3" r="9.1" fill="url(#gTi)"/>
<circle cx="502.1" cy="2251.3" r="9.1" fill="url(#gTi)"/>
<circle cx="526" cy="2251.3" r="9.1" fill="url(#gTi)"/>
<circle cx="549.9" cy="2251.3" r="9.1" fill="url(#gTi)"/>
<circle cx="573.8" cy="2251.3" r="9.1" fill="url(#gTi)"/>
<circle cx="597.7" cy="2251.3" r="9.1" fill="url(#gTi)"/>
<circle cx="430.4" cy="2271.5" r="7.6" fill="url(#gC)"/>
<circle cx="454.3" cy="2271.5" r="7.6" fill="url(#gC)"/>
<circle cx="478.2" cy="2271.5" r="7.6" fill="url(#gC)"/>
<circle cx="502.1" cy="2271.5" r="7.6" fill="url(#gC)"/>
<circle cx="526" cy="2271.5" r="7.6" fill="url(#gC)"/>
<circle cx="549.9" cy="2271.5" r="7.6" fill="url(#gC)"/>
<circle cx="573.8" cy="2271.5" r="7.6" fill="url(#gC)"/>
<circle cx="454.3" cy="2291.7" r="9.1" fill="url(#gTi)"/>
<circle cx="478.2" cy="2291.7" r="9.1" fill="url(#gTi)"/>
<circle cx="502.1" cy="2291.7" r="9.1" fill="url(#gTi)"/>
<circle cx="526" cy="2291.7" r="9.1" fill="url(#gTi)"/>
<circle cx="549.9" cy="2291.7" r="9.1" fill="url(#gTi)"/>
<circle cx="573.8" cy="2291.7" r="9.1" fill="url(#gTi)"/>
<circle cx="597.7" cy="2291.7" r="9.1" fill="url(#gTi)"/>
<polyline points="442.4,2205.2 454.3,2200.2 466.2,2205.2 478.2,2200.2 490.2,2205.2 502.1,2200.2 514,2205.2 526,2200.2 537.9,2205.2 549.9,2200.2 561.8,2205.2 573.8,2200.2 585.8,2205.2 597.7,2200.2 609.7,2205.2" fill="none" stroke="#e01010" stroke-width="2.2" stroke-linejoin="round"/>
<circle cx="454.3" cy="2195.2" r="7.7" fill="url(#gO)"/>
<circle cx="478.2" cy="2195.2" r="7.7" fill="url(#gO)"/>
<circle cx="502.1" cy="2195.2" r="7.7" fill="url(#gO)"/>
<circle cx="526" cy="2195.2" r="7.7" fill="url(#gO)"/>
<circle cx="549.9" cy="2195.2" r="7.7" fill="url(#gO)"/>
<circle cx="573.8" cy="2195.2" r="7.7" fill="url(#gO)"/>
<circle cx="597.7" cy="2195.2" r="7.7" fill="url(#gO)"/>
<polyline points="442.4,2296.3 454.3,2301.3 466.2,2296.3 478.2,2301.3 490.2,2296.3 502.1,2301.3 514,2296.3 526,2301.3 537.9,2296.3 549.9,2301.3 561.8,2296.3 573.8,2301.3 585.8,2296.3 597.7,2301.3 609.7,2296.3" fill="none" stroke="#e01010" stroke-width="2.2" stroke-linejoin="round"/>
<circle cx="454.3" cy="2306.3" r="7.7" fill="url(#gO)"/>
<circle cx="478.2" cy="2306.3" r="7.7" fill="url(#gO)"/>
<circle cx="502.1" cy="2306.3" r="7.7" fill="url(#gO)"/>
<circle cx="526" cy="2306.3" r="7.7" fill="url(#gO)"/>
<circle cx="549.9" cy="2306.3" r="7.7" fill="url(#gO)"/>
<circle cx="573.8" cy="2306.3" r="7.7" fill="url(#gO)"/>
<circle cx="597.7" cy="2306.3" r="7.7" fill="url(#gO)"/>
<line x1="479.4" y1="2127.4" x2="479.4" y2="2144.8" stroke="#8c8c8c" stroke-width="2.2" stroke-linecap="round"/>
<line x1="479.4" y1="2144.8" x2="461.3" y2="2151.1" stroke="#8c8c8c" stroke-width="2.2" stroke-linecap="round"/>
<line x1="479.4" y1="2144.8" x2="493" y2="2156.6" stroke="#8c8c8c" stroke-width="2.2" stroke-linecap="round"/>
<line x1="461.3" y1="2151.1" x2="460.6" y2="2167.1" stroke="#8c8c8c" stroke-width="2.2" stroke-linecap="round"/>
<circle cx="479.4" cy="2127.4" r="6.2" fill="url(#gH)"/>
<circle cx="479.4" cy="2144.8" r="7.4" fill="url(#gC)"/>
<circle cx="461.3" cy="2151.1" r="7.4" fill="url(#gO)"/>
<circle cx="493" cy="2156.6" r="7.4" fill="url(#gO)"/>
<circle cx="460.6" cy="2167.1" r="6.2" fill="url(#gH)"/>
<line x1="804.2" y1="2047.3" x2="805" y2="2077" stroke="#e01010" stroke-width="2.6" stroke-linecap="round"/>
<path d="M738.7 2085.2 L749.8 2094.8 M760.9 2085.2 L749.8 2094.8 M760.9 2085.2 L772 2094.8 M783.1 2085.2 L772 2094.8 M783.1 2085.2 L794.2 2094.8 M805.3 2085.2 L794.2 2094.8 M805.3 2085.2 L816.4 2094.8 M827.5 2085.2 L816.4 2094.8 M827.5 2085.2 L838.6 2094.8 M849.7 2085.2 L838.6 2094.8 M849.7 2085.2 L860.8 2094.8 M871.9 2085.2 L860.8 2094.8 M871.9 2085.2 L883 2094.8 M760.9 2104.4 L749.8 2094.8 M760.9 2104.4 L772 2094.8 M783.1 2104.4 L772 2094.8 M783.1 2104.4 L794.2 2094.8 M805.3 2104.4 L794.2 2094.8 M805.3 2104.4 L816.4 2094.8 M827.5 2104.4 L816.4 2094.8 M827.5 2104.4 L838.6 2094.8 M849.7 2104.4 L838.6 2094.8 M849.7 2104.4 L860.8 2094.8 M871.9 2104.4 L860.8 2094.8 M871.9 2104.4 L883 2094.8 M894.1 2104.4 L883 2094.8 M760.9 2085.2 L760.9 2104.4 M783.1 2085.2 L783.1 2104.4 M805.3 2085.2 L805.3 2104.4 M827.5 2085.2 L827.5 2104.4 M849.7 2085.2 L849.7 2104.4 M871.9 2085.2 L871.9 2104.4 M760.9 2104.4 L749.8 2113.4 M760.9 2104.4 L772 2113.4 M783.1 2104.4 L772 2113.4 M783.1 2104.4 L794.2 2113.4 M805.3 2104.4 L794.2 2113.4 M805.3 2104.4 L816.4 2113.4 M827.5 2104.4 L816.4 2113.4 M827.5 2104.4 L838.6 2113.4 M849.7 2104.4 L838.6 2113.4 M849.7 2104.4 L860.8 2113.4 M871.9 2104.4 L860.8 2113.4 M738.7 2122.5 L749.8 2113.4 M760.9 2122.5 L749.8 2113.4 M760.9 2122.5 L772 2113.4 M783.1 2122.5 L772 2113.4 M783.1 2122.5 L794.2 2113.4 M805.3 2122.5 L794.2 2113.4 M805.3 2122.5 L816.4 2113.4 M827.5 2122.5 L816.4 2113.4 M827.5 2122.5 L838.6 2113.4 M849.7 2122.5 L838.6 2113.4 M849.7 2122.5 L860.8 2113.4 M760.9 2104.4 L760.9 2122.5 M783.1 2104.4 L783.1 2122.5 M805.3 2104.4 L805.3 2122.5 M827.5 2104.4 L827.5 2122.5 M849.7 2104.4 L849.7 2122.5 M716.5 2122.5 L727.6 2131.9 M738.7 2122.5 L727.6 2131.9 M738.7 2122.5 L749.8 2131.9 M760.9 2122.5 L749.8 2131.9 M760.9 2122.5 L772 2131.9 M783.1 2122.5 L772 2131.9 M783.1 2122.5 L794.2 2131.9 M805.3 2122.5 L794.2 2131.9 M805.3 2122.5 L816.4 2131.9 M827.5 2122.5 L816.4 2131.9 M827.5 2122.5 L838.6 2131.9 M849.7 2122.5 L838.6 2131.9 M849.7 2122.5 L860.8 2131.9 M738.7 2141.3 L727.6 2131.9 M738.7 2141.3 L749.8 2131.9 M760.9 2141.3 L749.8 2131.9 M760.9 2141.3 L772 2131.9 M783.1 2141.3 L772 2131.9 M783.1 2141.3 L794.2 2131.9 M805.3 2141.3 L794.2 2131.9 M805.3 2141.3 L816.4 2131.9 M827.5 2141.3 L816.4 2131.9 M827.5 2141.3 L838.6 2131.9 M849.7 2141.3 L838.6 2131.9 M849.7 2141.3 L860.8 2131.9 M871.9 2141.3 L860.8 2131.9 M738.7 2122.5 L738.7 2141.3 M760.9 2122.5 L760.9 2141.3 M783.1 2122.5 L783.1 2141.3 M805.3 2122.5 L805.3 2141.3 M827.5 2122.5 L827.5 2141.3 M849.7 2122.5 L849.7 2141.3 M738.7 2141.3 L749.8 2150.7 M760.9 2141.3 L749.8 2150.7 M760.9 2141.3 L772 2150.7 M783.1 2141.3 L772 2150.7 M783.1 2141.3 L794.2 2150.7 M805.3 2141.3 L794.2 2150.7 M805.3 2141.3 L816.4 2150.7 M827.5 2141.3 L816.4 2150.7 M827.5 2141.3 L838.6 2150.7 M849.7 2141.3 L838.6 2150.7 M849.7 2141.3 L860.8 2150.7 M871.9 2141.3 L860.8 2150.7 M871.9 2141.3 L883 2150.7 M760.9 2160.1 L749.8 2150.7 M760.9 2160.1 L772 2150.7 M783.1 2160.1 L772 2150.7 M783.1 2160.1 L794.2 2150.7 M805.3 2160.1 L794.2 2150.7 M805.3 2160.1 L816.4 2150.7 M827.5 2160.1 L816.4 2150.7 M827.5 2160.1 L838.6 2150.7 M849.7 2160.1 L838.6 2150.7 M849.7 2160.1 L860.8 2150.7 M871.9 2160.1 L860.8 2150.7 M871.9 2160.1 L883 2150.7 M894.1 2160.1 L883 2150.7 M760.9 2141.3 L760.9 2160.1 M783.1 2141.3 L783.1 2160.1 M805.3 2141.3 L805.3 2160.1 M827.5 2141.3 L827.5 2160.1 M849.7 2141.3 L849.7 2160.1 M871.9 2141.3 L871.9 2160.1 M738.7 2085.2 L727.6 2078.5 M738.7 2085.2 L727.6 2091.9 M871.9 2085.2 L883 2078.5 M871.9 2085.2 L883 2091.9 M760.9 2104.4 L749.8 2097.7 M760.9 2104.4 L749.8 2111.1 M894.1 2104.4 L905.2 2097.7 M894.1 2104.4 L905.2 2111.1 M716.5 2122.5 L705.4 2115.8 M716.5 2122.5 L705.4 2129.2 M849.7 2122.5 L860.8 2115.8 M849.7 2122.5 L860.8 2129.2 M738.7 2141.3 L727.6 2134.6 M738.7 2141.3 L727.6 2148 M871.9 2141.3 L883 2134.6 M871.9 2141.3 L883 2148 M760.9 2160.1 L749.8 2153.4 M760.9 2160.1 L749.8 2166.8 M894.1 2160.1 L905.2 2153.4 M894.1 2160.1 L905.2 2166.8" stroke="#8c8c8c" stroke-width="2.6" fill="none" stroke-linecap="round"/>
<circle cx="738.7" cy="2085.2" r="8.6" fill="url(#gTi)"/>
<circle cx="760.9" cy="2085.2" r="8.6" fill="url(#gTi)"/>
<circle cx="783.1" cy="2085.2" r="8.6" fill="url(#gTi)"/>
<circle cx="805.3" cy="2077.3" r="8.6" fill="url(#gTi)"/>
<circle cx="827.5" cy="2085.2" r="8.6" fill="url(#gTi)"/>
<circle cx="849.7" cy="2085.2" r="8.6" fill="url(#gTi)"/>
<circle cx="871.9" cy="2085.2" r="8.6" fill="url(#gTi)"/>
<circle cx="760.9" cy="2104.4" r="7.1" fill="url(#gC)"/>
<circle cx="783.1" cy="2104.4" r="7.1" fill="url(#gC)"/>
<circle cx="805.3" cy="2104.4" r="7.1" fill="url(#gC)"/>
<circle cx="827.5" cy="2104.4" r="7.1" fill="url(#gC)"/>
<circle cx="849.7" cy="2104.4" r="7.1" fill="url(#gC)"/>
<circle cx="871.9" cy="2104.4" r="7.1" fill="url(#gC)"/>
<circle cx="894.1" cy="2104.4" r="7.1" fill="url(#gC)"/>
<circle cx="716.5" cy="2122.5" r="8.6" fill="url(#gTi)"/>
<circle cx="738.7" cy="2122.5" r="8.6" fill="url(#gTi)"/>
<circle cx="760.9" cy="2122.5" r="8.6" fill="url(#gTi)"/>
<circle cx="783.1" cy="2122.5" r="8.6" fill="url(#gTi)"/>
<circle cx="805.3" cy="2122.5" r="8.6" fill="url(#gTi)"/>
<circle cx="827.5" cy="2122.5" r="8.6" fill="url(#gTi)"/>
<circle cx="849.7" cy="2122.5" r="8.6" fill="url(#gTi)"/>
<circle cx="738.7" cy="2141.3" r="7.1" fill="url(#gC)"/>
<circle cx="760.9" cy="2141.3" r="7.1" fill="url(#gC)"/>
<circle cx="783.1" cy="2141.3" r="7.1" fill="url(#gC)"/>
<circle cx="805.3" cy="2141.3" r="7.1" fill="url(#gC)"/>
<circle cx="827.5" cy="2141.3" r="7.1" fill="url(#gC)"/>
<circle cx="849.7" cy="2141.3" r="7.1" fill="url(#gC)"/>
<circle cx="871.9" cy="2141.3" r="7.1" fill="url(#gC)"/>
<circle cx="760.9" cy="2160.1" r="8.6" fill="url(#gTi)"/>
<circle cx="783.1" cy="2160.1" r="8.6" fill="url(#gTi)"/>
<circle cx="805.3" cy="2160.1" r="8.6" fill="url(#gTi)"/>
<circle cx="827.5" cy="2160.1" r="8.6" fill="url(#gTi)"/>
<circle cx="849.7" cy="2160.1" r="8.6" fill="url(#gTi)"/>
<circle cx="871.9" cy="2160.1" r="8.6" fill="url(#gTi)"/>
<circle cx="894.1" cy="2160.1" r="8.6" fill="url(#gTi)"/>
<polyline points="705.4,2081.7 716.5,2076.7 727.6,2081.7 738.7,2076.7 749.8,2081.7 760.9,2076.7 772,2081.7 783.1,2076.7 794.2,2081.7 805.3,2076.7 816.4,2081.7 827.5,2076.7 838.6,2081.7 849.7,2076.7 860.8,2081.7 871.9,2076.7 883,2081.7" fill="none" stroke="#e01010" stroke-width="2.2" stroke-linejoin="round"/>
<circle cx="716.5" cy="2071.7" r="7.2" fill="url(#gO)"/>
<circle cx="738.7" cy="2071.7" r="7.2" fill="url(#gO)"/>
<circle cx="760.9" cy="2071.7" r="7.2" fill="url(#gO)"/>
<circle cx="783.1" cy="2071.7" r="7.2" fill="url(#gO)"/>
<circle cx="805.3" cy="2071.7" r="7.2" fill="url(#gO)"/>
<circle cx="827.5" cy="2071.7" r="7.2" fill="url(#gO)"/>
<circle cx="849.7" cy="2071.7" r="7.2" fill="url(#gO)"/>
<circle cx="871.9" cy="2071.7" r="7.2" fill="url(#gO)"/>
<polyline points="705.4,2164 716.5,2169 727.6,2164 738.7,2169 749.8,2164 760.9,2169 772,2164 783.1,2169 794.2,2164 805.3,2169 816.4,2164 827.5,2169 838.6,2164 849.7,2169 860.8,2164 871.9,2169 883,2164" fill="none" stroke="#e01010" stroke-width="2.2" stroke-linejoin="round"/>
<circle cx="716.5" cy="2174" r="7.2" fill="url(#gO)"/>
<circle cx="738.7" cy="2174" r="7.2" fill="url(#gO)"/>
<circle cx="760.9" cy="2174" r="7.2" fill="url(#gO)"/>
<circle cx="783.1" cy="2174" r="7.2" fill="url(#gO)"/>
<circle cx="805.3" cy="2174" r="7.2" fill="url(#gO)"/>
<circle cx="827.5" cy="2174" r="7.2" fill="url(#gO)"/>
<circle cx="849.7" cy="2174" r="7.2" fill="url(#gO)"/>
<circle cx="871.9" cy="2174" r="7.2" fill="url(#gO)"/>
<circle cx="805.3" cy="2077.3" r="8.6" fill="url(#gTi)"/>
<line x1="797.9" y1="2019.5" x2="792.3" y2="2034.1" stroke="#8c8c8c" stroke-width="2.2" stroke-linecap="round"/>
<line x1="792.3" y1="2034.1" x2="776" y2="2037.3" stroke="#8c8c8c" stroke-width="2.2" stroke-linecap="round"/>
<line x1="792.3" y1="2034.1" x2="804.2" y2="2047.3" stroke="#8c8c8c" stroke-width="2.2" stroke-linecap="round"/>
<line x1="804.2" y1="2047.3" x2="805" y2="2070" stroke="#e01010" stroke-width="2.6" stroke-linecap="round"/>
<circle cx="797.9" cy="2019.5" r="6.2" fill="url(#gH)"/>
<circle cx="792.3" cy="2034.1" r="7" fill="url(#gC)"/>
<circle cx="776" cy="2037.3" r="7" fill="url(#gO)"/>
<circle cx="804.2" cy="2047.3" r="7" fill="url(#gO)"/>
<circle cx="761" cy="2055" r="6.2" fill="url(#gH)"/>
<path d="M1001.9 2198.3 L989.6 2208.9 M1001.9 2198.3 L1014.1 2208.9 M1026.4 2198.3 L1014.1 2208.9 M1026.4 2198.3 L1038.7 2208.9 M1050.9 2198.3 L1038.7 2208.9 M1050.9 2198.3 L1063.2 2208.9 M1075.4 2198.3 L1063.2 2208.9 M1075.4 2198.3 L1087.7 2208.9 M1099.9 2198.3 L1087.7 2208.9 M1099.9 2198.3 L1112.2 2208.9 M1124.4 2198.3 L1112.2 2208.9 M1124.4 2198.3 L1136.7 2208.9 M1148.9 2198.3 L1136.7 2208.9 M1148.9 2198.3 L1161.2 2208.9 M1001.9 2219.6 L989.6 2208.9 M1001.9 2219.6 L1014.1 2208.9 M1026.4 2219.6 L1014.1 2208.9 M1026.4 2219.6 L1038.7 2208.9 M1050.9 2219.6 L1038.7 2208.9 M1050.9 2219.6 L1063.2 2208.9 M1075.4 2219.6 L1063.2 2208.9 M1075.4 2219.6 L1087.7 2208.9 M1099.9 2219.6 L1087.7 2208.9 M1099.9 2219.6 L1112.2 2208.9 M1124.4 2219.6 L1112.2 2208.9 M1124.4 2219.6 L1136.7 2208.9 M1148.9 2219.6 L1136.7 2208.9 M1148.9 2219.6 L1161.2 2208.9 M1001.9 2198.3 L1001.9 2219.6 M1026.4 2198.3 L1026.4 2219.6 M1050.9 2198.3 L1050.9 2219.6 M1075.4 2198.3 L1075.4 2219.6 M1099.9 2198.3 L1099.9 2219.6 M1124.4 2198.3 L1124.4 2219.6 M1148.9 2198.3 L1148.9 2219.6 M1001.9 2219.6 L989.6 2229.6 M1001.9 2219.6 L1014.1 2229.6 M1026.4 2219.6 L1014.1 2229.6 M1026.4 2219.6 L1038.7 2229.6 M1050.9 2219.6 L1038.7 2229.6 M1050.9 2219.6 L1063.2 2229.6 M1075.4 2219.6 L1063.2 2229.6 M1075.4 2219.6 L1087.7 2229.6 M1099.9 2219.6 L1087.7 2229.6 M1099.9 2219.6 L1112.2 2229.6 M1124.4 2219.6 L1112.2 2229.6 M1124.4 2219.6 L1136.7 2229.6 M1148.9 2219.6 L1136.7 2229.6 M1148.9 2219.6 L1161.2 2229.6 M1001.9 2239.7 L989.6 2229.6 M1001.9 2239.7 L1014.1 2229.6 M1026.4 2239.7 L1014.1 2229.6 M1026.4 2239.7 L1038.7 2229.6 M1050.9 2239.7 L1038.7 2229.6 M1050.9 2239.7 L1063.2 2229.6 M1075.4 2239.7 L1063.2 2229.6 M1075.4 2239.7 L1087.7 2229.6 M1099.9 2239.7 L1087.7 2229.6 M1099.9 2239.7 L1112.2 2229.6 M1124.4 2239.7 L1112.2 2229.6 M1124.4 2239.7 L1136.7 2229.6 M1148.9 2239.7 L1136.7 2229.6 M1148.9 2239.7 L1161.2 2229.6 M1001.9 2219.6 L1001.9 2239.7 M1026.4 2219.6 L1026.4 2239.7 M1050.9 2219.6 L1050.9 2239.7 M1075.4 2219.6 L1075.4 2239.7 M1099.9 2219.6 L1099.9 2239.7 M1124.4 2219.6 L1124.4 2239.7 M1148.9 2219.6 L1148.9 2239.7 M1001.9 2239.7 L989.6 2249.8 M1001.9 2239.7 L1014.1 2249.8 M1026.4 2239.7 L1014.1 2249.8 M1026.4 2239.7 L1038.7 2249.8 M1050.9 2239.7 L1038.7 2249.8 M1050.9 2239.7 L1063.2 2249.8 M1075.4 2239.7 L1063.2 2249.8 M1075.4 2239.7 L1087.7 2249.8 M1099.9 2239.7 L1087.7 2249.8 M1099.9 2239.7 L1112.2 2249.8 M1124.4 2239.7 L1112.2 2249.8 M1124.4 2239.7 L1136.7 2249.8 M1148.9 2239.7 L1136.7 2249.8 M1148.9 2239.7 L1161.2 2249.8 M1001.9 2259.9 L989.6 2249.8 M1001.9 2259.9 L1014.1 2249.8 M1026.4 2259.9 L1014.1 2249.8 M1026.4 2259.9 L1038.7 2249.8 M1050.9 2259.9 L1038.7 2249.8 M1050.9 2259.9 L1063.2 2249.8 M1075.4 2259.9 L1063.2 2249.8 M1075.4 2259.9 L1087.7 2249.8 M1099.9 2259.9 L1087.7 2249.8 M1099.9 2259.9 L1112.2 2249.8 M1124.4 2259.9 L1112.2 2249.8 M1124.4 2259.9 L1136.7 2249.8 M1148.9 2259.9 L1136.7 2249.8 M1148.9 2259.9 L1161.2 2249.8 M1001.9 2239.7 L1001.9 2259.9 M1026.4 2239.7 L1026.4 2259.9 M1050.9 2239.7 L1050.9 2259.9 M1075.4 2239.7 L1075.4 2259.9 M1099.9 2239.7 L1099.9 2259.9 M1124.4 2239.7 L1124.4 2259.9 M1148.9 2239.7 L1148.9 2259.9 M1001.9 2259.9 L989.6 2270.2 M1001.9 2259.9 L1014.1 2270.2 M1026.4 2259.9 L1014.1 2270.2 M1026.4 2259.9 L1038.7 2270.2 M1050.9 2259.9 L1038.7 2270.2 M1050.9 2259.9 L1063.2 2270.2 M1075.4 2259.9 L1063.2 2270.2 M1075.4 2259.9 L1087.7 2270.2 M1099.9 2259.9 L1087.7 2270.2 M1099.9 2259.9 L1112.2 2270.2 M1124.4 2259.9 L1112.2 2270.2 M1124.4 2259.9 L1136.7 2270.2 M1148.9 2259.9 L1136.7 2270.2 M1148.9 2259.9 L1161.2 2270.2 M1001.9 2280.6 L989.6 2270.2 M1001.9 2280.6 L1014.1 2270.2 M1026.4 2280.6 L1014.1 2270.2 M1026.4 2280.6 L1038.7 2270.2 M1050.9 2280.6 L1038.7 2270.2 M1050.9 2280.6 L1063.2 2270.2 M1075.4 2280.6 L1063.2 2270.2 M1075.4 2280.6 L1087.7 2270.2 M1099.9 2280.6 L1087.7 2270.2 M1099.9 2280.6 L1112.2 2270.2 M1124.4 2280.6 L1112.2 2270.2 M1124.4 2280.6 L1136.7 2270.2 M1148.9 2280.6 L1136.7 2270.2 M1148.9 2280.6 L1161.2 2270.2 M1001.9 2259.9 L1001.9 2280.6 M1026.4 2259.9 L1026.4 2280.6 M1050.9 2259.9 L1050.9 2280.6 M1075.4 2259.9 L1075.4 2280.6 M1099.9 2259.9 L1099.9 2280.6 M1124.4 2259.9 L1124.4 2280.6 M1148.9 2259.9 L1148.9 2280.6 M1001.9 2198.3 L989.6 2191 M1001.9 2198.3 L989.6 2205.7 M1148.9 2198.3 L1161.2 2191 M1148.9 2198.3 L1161.2 2205.7 M1001.9 2219.6 L989.6 2212.2 M1001.9 2219.6 L989.6 2226.9 M1148.9 2219.6 L1161.2 2212.2 M1148.9 2219.6 L1161.2 2226.9 M1001.9 2239.7 L989.6 2232.3 M1001.9 2239.7 L989.6 2247 M1148.9 2239.7 L1161.2 2232.3 M1148.9 2239.7 L1161.2 2247 M1001.9 2259.9 L989.6 2252.6 M1001.9 2259.9 L989.6 2267.2 M1148.9 2259.9 L1161.2 2252.6 M1148.9 2259.9 L1161.2 2267.2 M1001.9 2280.6 L989.6 2273.2 M1001.9 2280.6 L989.6 2287.9 M1148.9 2280.6 L1161.2 2273.2 M1148.9 2280.6 L1161.2 2287.9" stroke="#8c8c8c" stroke-width="2.6" fill="none" stroke-linecap="round"/>
<circle cx="1001.9" cy="2198.3" r="9.1" fill="url(#gTi)"/>
<circle cx="1026.4" cy="2198.3" r="9.1" fill="url(#gTi)"/>
<circle cx="1050.9" cy="2198.3" r="9.1" fill="url(#gTi)"/>
<circle cx="1075.4" cy="2198.3" r="9.1" fill="url(#gTi)"/>
<circle cx="1099.9" cy="2189.1" r="9.1" fill="url(#gTi)"/>
<circle cx="1124.4" cy="2198.3" r="9.1" fill="url(#gTi)"/>
<circle cx="1148.9" cy="2198.3" r="9.1" fill="url(#gTi)"/>
<circle cx="1001.9" cy="2219.6" r="7.5" fill="url(#gC)"/>
<circle cx="1026.4" cy="2219.6" r="7.5" fill="url(#gC)"/>
<circle cx="1050.9" cy="2219.6" r="7.5" fill="url(#gC)"/>
<circle cx="1075.4" cy="2219.6" r="7.5" fill="url(#gC)"/>
<circle cx="1099.9" cy="2219.6" r="7.5" fill="url(#gC)"/>
<circle cx="1124.4" cy="2219.6" r="7.5" fill="url(#gC)"/>
<circle cx="1148.9" cy="2219.6" r="7.5" fill="url(#gC)"/>
<circle cx="1001.9" cy="2239.7" r="9.1" fill="url(#gTi)"/>
<circle cx="1026.4" cy="2239.7" r="9.1" fill="url(#gTi)"/>
<circle cx="1050.9" cy="2239.7" r="9.1" fill="url(#gTi)"/>
<circle cx="1075.4" cy="2239.7" r="9.1" fill="url(#gTi)"/>
<circle cx="1099.9" cy="2239.7" r="9.1" fill="url(#gTi)"/>
<circle cx="1124.4" cy="2239.7" r="9.1" fill="url(#gTi)"/>
<circle cx="1148.9" cy="2239.7" r="9.1" fill="url(#gTi)"/>
<circle cx="1001.9" cy="2259.9" r="7.5" fill="url(#gC)"/>
<circle cx="1026.4" cy="2259.9" r="7.5" fill="url(#gC)"/>
<circle cx="1050.9" cy="2259.9" r="7.5" fill="url(#gC)"/>
<circle cx="1075.4" cy="2259.9" r="7.5" fill="url(#gC)"/>
<circle cx="1099.9" cy="2259.9" r="7.5" fill="url(#gC)"/>
<circle cx="1124.4" cy="2259.9" r="7.5" fill="url(#gC)"/>
<circle cx="1148.9" cy="2259.9" r="7.5" fill="url(#gC)"/>
<circle cx="1001.9" cy="2280.6" r="9.1" fill="url(#gTi)"/>
<circle cx="1026.4" cy="2280.6" r="9.1" fill="url(#gTi)"/>
<circle cx="1050.9" cy="2280.6" r="9.1" fill="url(#gTi)"/>
<circle cx="1075.4" cy="2280.6" r="9.1" fill="url(#gTi)"/>
<circle cx="1099.9" cy="2280.6" r="9.1" fill="url(#gTi)"/>
<circle cx="1124.4" cy="2280.6" r="9.1" fill="url(#gTi)"/>
<circle cx="1148.9" cy="2280.6" r="9.1" fill="url(#gTi)"/>
<polyline points="989.6,2192.8 1001.9,2187.8 1014.2,2192.8 1026.4,2187.8 1038.7,2192.8 1050.9,2187.8 1063.2,2192.8 1075.4,2187.8 1087.7,2192.8 1099.9,2187.8 1112.2,2192.8 1124.4,2187.8 1136.7,2192.8 1148.9,2187.8 1161.2,2192.8" fill="none" stroke="#e01010" stroke-width="2.2" stroke-linejoin="round"/>
<circle cx="1001.9" cy="2182.8" r="7.9" fill="url(#gO)"/>
<circle cx="1026.4" cy="2182.8" r="7.9" fill="url(#gO)"/>
<circle cx="1050.9" cy="2182.8" r="7.9" fill="url(#gO)"/>
<circle cx="1075.4" cy="2182.8" r="7.9" fill="url(#gO)"/>
<circle cx="1099.9" cy="2182.8" r="7.9" fill="url(#gO)"/>
<circle cx="1124.4" cy="2182.8" r="7.9" fill="url(#gO)"/>
<circle cx="1148.9" cy="2182.8" r="7.9" fill="url(#gO)"/>
<polyline points="989.6,2286.7 1001.9,2291.7 1014.2,2286.7 1026.4,2291.7 1038.7,2286.7 1050.9,2291.7 1063.2,2286.7 1075.4,2291.7 1087.7,2286.7 1099.9,2291.7 1112.2,2286.7 1124.4,2291.7 1136.7,2286.7 1148.9,2291.7 1161.2,2286.7" fill="none" stroke="#e01010" stroke-width="2.2" stroke-linejoin="round"/>
<circle cx="1001.9" cy="2296.7" r="7.9" fill="url(#gO)"/>
<circle cx="1026.4" cy="2296.7" r="7.9" fill="url(#gO)"/>
<circle cx="1050.9" cy="2296.7" r="7.9" fill="url(#gO)"/>
<circle cx="1075.4" cy="2296.7" r="7.9" fill="url(#gO)"/>
<circle cx="1099.9" cy="2296.7" r="7.9" fill="url(#gO)"/>
<circle cx="1124.4" cy="2296.7" r="7.9" fill="url(#gO)"/>
<circle cx="1148.9" cy="2296.7" r="7.9" fill="url(#gO)"/>
<circle cx="1099.9" cy="2189.1" r="9.1" fill="url(#gTi)"/>
<line x1="1091" y1="2123.6" x2="1088.1" y2="2143.1" stroke="#c04040" stroke-width="2.2" stroke-linecap="round"/>
<line x1="1088.1" y1="2143.1" x2="1073.2" y2="2149.5" stroke="#8c8c8c" stroke-width="2.2" stroke-linecap="round"/>
<line x1="1088.1" y1="2143.1" x2="1101.9" y2="2157.5" stroke="#c04040" stroke-width="2.2" stroke-linecap="round"/>
<line x1="1101.9" y1="2157.5" x2="1100" y2="2182" stroke="#e01010" stroke-width="2.6" stroke-linecap="round"/>
<circle cx="1091" cy="2123.6" r="7.5" fill="url(#gO)"/>
<circle cx="1073.2" cy="2149.5" r="6.2" fill="url(#gH)"/>
<circle cx="1088.1" cy="2143.1" r="7" fill="url(#gC)"/>
<circle cx="1101.9" cy="2157.5" r="7.5" fill="url(#gO)"/>
<circle cx="1049.6" cy="2165" r="6.2" fill="url(#gH)"/>
<path d="M1271.6 2129.6 L1283.3 2139.8 M1295.1 2129.6 L1283.3 2139.8 M1295.1 2129.6 L1306.8 2139.8 M1318.6 2129.6 L1306.8 2139.8 M1318.6 2129.6 L1330.3 2139.8 M1342.1 2129.6 L1330.3 2139.8 M1342.1 2129.6 L1353.8 2139.8 M1365.6 2129.6 L1353.8 2139.8 M1365.6 2129.6 L1377.3 2139.8 M1389.1 2129.6 L1377.3 2139.8 M1389.1 2129.6 L1400.8 2139.8 M1412.6 2129.6 L1400.8 2139.8 M1412.6 2129.6 L1424.3 2139.8 M1295.1 2150 L1283.3 2139.8 M1295.1 2150 L1306.8 2139.8 M1318.6 2150 L1306.8 2139.8 M1318.6 2150 L1330.3 2139.8 M1342.1 2150 L1330.3 2139.8 M1342.1 2150 L1353.8 2139.8 M1365.6 2150 L1353.8 2139.8 M1365.6 2150 L1377.3 2139.8 M1389.1 2150 L1377.3 2139.8 M1389.1 2150 L1400.8 2139.8 M1412.6 2150 L1400.8 2139.8 M1412.6 2150 L1424.3 2139.8 M1436.1 2150 L1424.3 2139.8 M1295.1 2129.6 L1295.1 2150 M1318.6 2129.6 L1318.6 2150 M1342.1 2129.6 L1342.1 2150 M1365.6 2129.6 L1365.6 2150 M1389.1 2129.6 L1389.1 2150 M1412.6 2129.6 L1412.6 2150 M1295.1 2150 L1283.3 2159.2 M1295.1 2150 L1306.8 2159.2 M1318.6 2150 L1306.8 2159.2 M1318.6 2150 L1330.3 2159.2 M1342.1 2150 L1330.3 2159.2 M1342.1 2150 L1353.8 2159.2 M1365.6 2150 L1353.8 2159.2 M1365.6 2150 L1377.3 2159.2 M1389.1 2150 L1377.3 2159.2 M1389.1 2150 L1400.8 2159.2 M1412.6 2150 L1400.8 2159.2 M1412.6 2150 L1424.3 2159.2 M1436.1 2150 L1424.3 2159.2 M1271.6 2168.4 L1283.3 2159.2 M1295.1 2168.4 L1283.3 2159.2 M1295.1 2168.4 L1306.8 2159.2 M1318.6 2168.4 L1306.8 2159.2 M1318.6 2168.4 L1330.3 2159.2 M1342.1 2168.4 L1330.3 2159.2 M1342.1 2168.4 L1353.8 2159.2 M1365.6 2168.4 L1353.8 2159.2 M1365.6 2168.4 L1377.3 2159.2 M1389.1 2168.4 L1377.3 2159.2 M1389.1 2168.4 L1400.8 2159.2 M1412.6 2168.4 L1400.8 2159.2 M1412.6 2168.4 L1424.3 2159.2 M1295.1 2150 L1295.1 2168.4 M1318.6 2150 L1318.6 2168.4 M1342.1 2150 L1342.1 2168.4 M1365.6 2150 L1365.6 2168.4 M1389.1 2150 L1389.1 2168.4 M1412.6 2150 L1412.6 2168.4 M1271.6 2168.4 L1259.8 2178.2 M1271.6 2168.4 L1283.3 2178.2 M1295.1 2168.4 L1283.3 2178.2 M1295.1 2168.4 L1306.8 2178.2 M1318.6 2168.4 L1306.8 2178.2 M1318.6 2168.4 L1330.3 2178.2 M1342.1 2168.4 L1330.3 2178.2 M1342.1 2168.4 L1353.8 2178.2 M1365.6 2168.4 L1353.8 2178.2 M1365.6 2168.4 L1377.3 2178.2 M1389.1 2168.4 L1377.3 2178.2 M1389.1 2168.4 L1400.8 2178.2 M1412.6 2168.4 L1400.8 2178.2 M1412.6 2168.4 L1424.3 2178.2 M1271.6 2188.1 L1259.8 2178.2 M1271.6 2188.1 L1283.3 2178.2 M1295.1 2188.1 L1283.3 2178.2 M1295.1 2188.1 L1306.8 2178.2 M1318.6 2188.1 L1306.8 2178.2 M1318.6 2188.1 L1330.3 2178.2 M1342.1 2188.1 L1330.3 2178.2 M1342.1 2188.1 L1353.8 2178.2 M1365.6 2188.1 L1353.8 2178.2 M1365.6 2188.1 L1377.3 2178.2 M1389.1 2188.1 L1377.3 2178.2 M1389.1 2188.1 L1400.8 2178.2 M1412.6 2188.1 L1400.8 2178.2 M1412.6 2188.1 L1424.3 2178.2 M1271.6 2168.4 L1271.6 2188.1 M1295.1 2168.4 L1295.1 2188.1 M1318.6 2168.4 L1318.6 2188.1 M1342.1 2168.4 L1342.1 2188.1 M1365.6 2168.4 L1365.6 2188.1 M1389.1 2168.4 L1389.1 2188.1 M1412.6 2168.4 L1412.6 2188.1 M1271.6 2188.1 L1283.3 2198.2 M1295.1 2188.1 L1283.3 2198.2 M1295.1 2188.1 L1306.8 2198.2 M1318.6 2188.1 L1306.8 2198.2 M1318.6 2188.1 L1330.3 2198.2 M1342.1 2188.1 L1330.3 2198.2 M1342.1 2188.1 L1353.8 2198.2 M1365.6 2188.1 L1353.8 2198.2 M1365.6 2188.1 L1377.3 2198.2 M1389.1 2188.1 L1377.3 2198.2 M1389.1 2188.1 L1400.8 2198.2 M1412.6 2188.1 L1400.8 2198.2 M1412.6 2188.1 L1424.3 2198.2 M1295.1 2208.4 L1283.3 2198.2 M1295.1 2208.4 L1306.8 2198.2 M1318.6 2208.4 L1306.8 2198.2 M1318.6 2208.4 L1330.3 2198.2 M1342.1 2208.4 L1330.3 2198.2 M1342.1 2208.4 L1353.8 2198.2 M1365.6 2208.4 L1353.8 2198.2 M1365.6 2208.4 L1377.3 2198.2 M1389.1 2208.4 L1377.3 2198.2 M1389.1 2208.4 L1400.8 2198.2 M1412.6 2208.4 L1400.8 2198.2 M1412.6 2208.4 L1424.3 2198.2 M1436.1 2208.4 L1424.3 2198.2 M1295.1 2188.1 L1295.1 2208.4 M1318.6 2188.1 L1318.6 2208.4 M1342.1 2188.1 L1342.1 2208.4 M1365.6 2188.1 L1365.6 2208.4 M1389.1 2188.1 L1389.1 2208.4 M1412.6 2188.1 L1412.6 2208.4 M1271.6 2129.6 L1259.8 2122.5 M1271.6 2129.6 L1259.8 2136.7 M1412.6 2129.6 L1424.3 2122.5 M1412.6 2129.6 L1424.3 2136.7 M1295.1 2150 L1283.3 2142.9 M1295.1 2150 L1283.3 2157.1 M1436.1 2150 L1447.8 2142.9 M1436.1 2150 L1447.8 2157.1 M1271.6 2168.4 L1259.8 2161.3 M1271.6 2168.4 L1259.8 2175.5 M1412.6 2168.4 L1424.3 2161.3 M1412.6 2168.4 L1424.3 2175.5 M1271.6 2188.1 L1259.8 2181 M1271.6 2188.1 L1259.8 2195.2 M1412.6 2188.1 L1424.3 2181 M1412.6 2188.1 L1424.3 2195.2 M1295.1 2208.4 L1283.3 2201.3 M1295.1 2208.4 L1283.3 2215.5 M1436.1 2208.4 L1447.8 2201.3 M1436.1 2208.4 L1447.8 2215.5" stroke="#8c8c8c" stroke-width="2.6" fill="none" stroke-linecap="round"/>
<circle cx="1271.6" cy="2129.6" r="8.9" fill="url(#gTi)"/>
<circle cx="1295.1" cy="2129.6" r="8.9" fill="url(#gTi)"/>
<circle cx="1318.6" cy="2129.6" r="8.9" fill="url(#gTi)"/>
<circle cx="1342.1" cy="2126.4" r="8.9" fill="url(#gTi)"/>
<circle cx="1365.6" cy="2129.6" r="8.9" fill="url(#gTi)"/>
<circle cx="1389.1" cy="2129.6" r="8.9" fill="url(#gTi)"/>
<circle cx="1412.6" cy="2129.6" r="8.9" fill="url(#gTi)"/>
<circle cx="1295.1" cy="2150" r="7.1" fill="url(#gC)"/>
<circle cx="1318.6" cy="2150" r="7.1" fill="url(#gC)"/>
<circle cx="1342.1" cy="2150" r="7.1" fill="url(#gC)"/>
<circle cx="1365.6" cy="2150" r="7.1" fill="url(#gC)"/>
<circle cx="1389.1" cy="2150" r="7.1" fill="url(#gC)"/>
<circle cx="1412.6" cy="2150" r="7.1" fill="url(#gC)"/>
<circle cx="1436.1" cy="2150" r="7.1" fill="url(#gC)"/>
<circle cx="1271.6" cy="2168.4" r="8.9" fill="url(#gTi)"/>
<circle cx="1295.1" cy="2168.4" r="8.9" fill="url(#gTi)"/>
<circle cx="1318.6" cy="2168.4" r="8.9" fill="url(#gTi)"/>
<circle cx="1342.1" cy="2168.4" r="8.9" fill="url(#gTi)"/>
<circle cx="1365.6" cy="2168.4" r="8.9" fill="url(#gTi)"/>
<circle cx="1389.1" cy="2168.4" r="8.9" fill="url(#gTi)"/>
<circle cx="1412.6" cy="2168.4" r="8.9" fill="url(#gTi)"/>
<circle cx="1271.6" cy="2188.1" r="7.1" fill="url(#gC)"/>
<circle cx="1295.1" cy="2188.1" r="7.1" fill="url(#gC)"/>
<circle cx="1318.6" cy="2188.1" r="7.1" fill="url(#gC)"/>
<circle cx="1342.1" cy="2188.1" r="7.1" fill="url(#gC)"/>
<circle cx="1365.6" cy="2188.1" r="7.1" fill="url(#gC)"/>
<circle cx="1389.1" cy="2188.1" r="7.1" fill="url(#gC)"/>
<circle cx="1412.6" cy="2188.1" r="7.1" fill="url(#gC)"/>
<circle cx="1295.1" cy="2208.4" r="8.9" fill="url(#gTi)"/>
<circle cx="1318.6" cy="2208.4" r="8.9" fill="url(#gTi)"/>
<circle cx="1342.1" cy="2208.4" r="8.9" fill="url(#gTi)"/>
<circle cx="1365.6" cy="2208.4" r="8.9" fill="url(#gTi)"/>
<circle cx="1389.1" cy="2208.4" r="8.9" fill="url(#gTi)"/>
<circle cx="1412.6" cy="2208.4" r="8.9" fill="url(#gTi)"/>
<circle cx="1436.1" cy="2208.4" r="8.9" fill="url(#gTi)"/>
<polyline points="1259.8,2125.6 1271.6,2120.6 1283.3,2125.6 1295.1,2120.6 1306.8,2125.6 1318.6,2120.6 1330.3,2125.6 1342.1,2120.6 1353.8,2125.6 1365.6,2120.6 1377.3,2125.6 1389.1,2120.6 1400.8,2125.6 1412.6,2120.6 1424.3,2125.6" fill="none" stroke="#e01010" stroke-width="2.2" stroke-linejoin="round"/>
<circle cx="1271.6" cy="2115.6" r="7.6" fill="url(#gO)"/>
<circle cx="1295.1" cy="2115.6" r="7.6" fill="url(#gO)"/>
<circle cx="1318.6" cy="2115.6" r="7.6" fill="url(#gO)"/>
<circle cx="1342.1" cy="2115.6" r="7.6" fill="url(#gO)"/>
<circle cx="1365.6" cy="2115.6" r="7.6" fill="url(#gO)"/>
<circle cx="1389.1" cy="2115.6" r="7.6" fill="url(#gO)"/>
<circle cx="1412.6" cy="2115.6" r="7.6" fill="url(#gO)"/>
<polyline points="1259.8,2213 1271.6,2218 1283.3,2213 1295.1,2218 1306.8,2213 1318.6,2218 1330.3,2213 1342.1,2218 1353.8,2213 1365.6,2218 1377.3,2213 1389.1,2218 1400.8,2213 1412.6,2218 1424.3,2213" fill="none" stroke="#e01010" stroke-width="2.2" stroke-linejoin="round"/>
<circle cx="1271.6" cy="2223" r="7.6" fill="url(#gO)"/>
<circle cx="1295.1" cy="2223" r="7.6" fill="url(#gO)"/>
<circle cx="1318.6" cy="2223" r="7.6" fill="url(#gO)"/>
<circle cx="1342.1" cy="2223" r="7.6" fill="url(#gO)"/>
<circle cx="1365.6" cy="2223" r="7.6" fill="url(#gO)"/>
<circle cx="1389.1" cy="2223" r="7.6" fill="url(#gO)"/>
<circle cx="1412.6" cy="2223" r="7.6" fill="url(#gO)"/>
<circle cx="1342.1" cy="2126.4" r="8.9" fill="url(#gTi)"/>
<line x1="1322.5" y1="2056.5" x2="1326.9" y2="2074.3" stroke="#c04040" stroke-width="2.2" stroke-linecap="round"/>
<line x1="1326.9" y1="2074.3" x2="1340.5" y2="2085.8" stroke="#c04040" stroke-width="2.2" stroke-linecap="round"/>
<circle cx="1322.5" cy="2056.5" r="7" fill="url(#gO)"/>
<circle cx="1326.9" cy="2074.3" r="7" fill="url(#gC)"/>
<circle cx="1340.5" cy="2085.8" r="7" fill="url(#gO)"/>
<circle cx="1311.7" cy="2085.1" r="6.2" fill="url(#gH)"/>
<circle cx="1301.9" cy="2097.8" r="6.2" fill="url(#gH)"/>
<path d="M1563.5 2177.9 L1574.9 2187.8 M1586.3 2177.9 L1574.9 2187.8 M1586.3 2177.9 L1597.7 2187.8 M1609.1 2177.9 L1597.7 2187.8 M1609.1 2177.9 L1620.5 2187.8 M1631.9 2177.9 L1620.5 2187.8 M1631.9 2177.9 L1643.3 2187.8 M1654.7 2177.9 L1643.3 2187.8 M1654.7 2177.9 L1666.1 2187.8 M1677.5 2177.9 L1666.1 2187.8 M1677.5 2177.9 L1688.9 2187.8 M1700.3 2177.9 L1688.9 2187.8 M1700.3 2177.9 L1711.7 2187.8 M1586.3 2197.6 L1574.9 2187.8 M1586.3 2197.6 L1597.7 2187.8 M1609.1 2197.6 L1597.7 2187.8 M1609.1 2197.6 L1620.5 2187.8 M1631.9 2197.6 L1620.5 2187.8 M1631.9 2197.6 L1643.3 2187.8 M1654.7 2197.6 L1643.3 2187.8 M1654.7 2197.6 L1666.1 2187.8 M1677.5 2197.6 L1666.1 2187.8 M1677.5 2197.6 L1688.9 2187.8 M1700.3 2197.6 L1688.9 2187.8 M1700.3 2197.6 L1711.7 2187.8 M1723.1 2197.6 L1711.7 2187.8 M1586.3 2177.9 L1586.3 2197.6 M1609.1 2177.9 L1609.1 2197.6 M1631.9 2177.9 L1631.9 2197.6 M1654.7 2177.9 L1654.7 2197.6 M1677.5 2177.9 L1677.5 2197.6 M1700.3 2177.9 L1700.3 2197.6 M1586.3 2197.6 L1574.9 2206.9 M1586.3 2197.6 L1597.7 2206.9 M1609.1 2197.6 L1597.7 2206.9 M1609.1 2197.6 L1620.5 2206.9 M1631.9 2197.6 L1620.5 2206.9 M1631.9 2197.6 L1643.3 2206.9 M1654.7 2197.6 L1643.3 2206.9 M1654.7 2197.6 L1666.1 2206.9 M1677.5 2197.6 L1666.1 2206.9 M1677.5 2197.6 L1688.9 2206.9 M1700.3 2197.6 L1688.9 2206.9 M1700.3 2197.6 L1711.7 2206.9 M1723.1 2197.6 L1711.7 2206.9 M1563.5 2216.3 L1574.9 2206.9 M1586.3 2216.3 L1574.9 2206.9 M1586.3 2216.3 L1597.7 2206.9 M1609.1 2216.3 L1597.7 2206.9 M1609.1 2216.3 L1620.5 2206.9 M1631.9 2216.3 L1620.5 2206.9 M1631.9 2216.3 L1643.3 2206.9 M1654.7 2216.3 L1643.3 2206.9 M1654.7 2216.3 L1666.1 2206.9 M1677.5 2216.3 L1666.1 2206.9 M1677.5 2216.3 L1688.9 2206.9 M1700.3 2216.3 L1688.9 2206.9 M1700.3 2216.3 L1711.7 2206.9 M1586.3 2197.6 L1586.3 2216.3 M1609.1 2197.6 L1609.1 2216.3 M1631.9 2197.6 L1631.9 2216.3 M1654.7 2197.6 L1654.7 2216.3 M1677.5 2197.6 L1677.5 2216.3 M1700.3 2197.6 L1700.3 2216.3 M1563.5 2216.3 L1552.1 2225.7 M1563.5 2216.3 L1574.9 2225.7 M1586.3 2216.3 L1574.9 2225.7 M1586.3 2216.3 L1597.7 2225.7 M1609.1 2216.3 L1597.7 2225.7 M1609.1 2216.3 L1620.5 2225.7 M1631.9 2216.3 L1620.5 2225.7 M1631.9 2216.3 L1643.3 2225.7 M1654.7 2216.3 L1643.3 2225.7 M1654.7 2216.3 L1666.1 2225.7 M1677.5 2216.3 L1666.1 2225.7 M1677.5 2216.3 L1688.9 2225.7 M1700.3 2216.3 L1688.9 2225.7 M1700.3 2216.3 L1711.7 2225.7 M1563.5 2235.1 L1552.1 2225.7 M1563.5 2235.1 L1574.9 2225.7 M1586.3 2235.1 L1574.9 2225.7 M1586.3 2235.1 L1597.7 2225.7 M1609.1 2235.1 L1597.7 2225.7 M1609.1 2235.1 L1620.5 2225.7 M1631.9 2235.1 L1620.5 2225.7 M1631.9 2235.1 L1643.3 2225.7 M1654.7 2235.1 L1643.3 2225.7 M1654.7 2235.1 L1666.1 2225.7 M1677.5 2235.1 L1666.1 2225.7 M1677.5 2235.1 L1688.9 2225.7 M1700.3 2235.1 L1688.9 2225.7 M1700.3 2235.1 L1711.7 2225.7 M1563.5 2216.3 L1563.5 2235.1 M1586.3 2216.3 L1586.3 2235.1 M1609.1 2216.3 L1609.1 2235.1 M1631.9 2216.3 L1631.9 2235.1 M1654.7 2216.3 L1654.7 2235.1 M1677.5 2216.3 L1677.5 2235.1 M1700.3 2216.3 L1700.3 2235.1 M1563.5 2235.1 L1574.9 2245.1 M1586.3 2235.1 L1574.9 2245.1 M1586.3 2235.1 L1597.7 2245.1 M1609.1 2235.1 L1597.7 2245.1 M1609.1 2235.1 L1620.5 2245.1 M1631.9 2235.1 L1620.5 2245.1 M1631.9 2235.1 L1643.3 2245.1 M1654.7 2235.1 L1643.3 2245.1 M1654.7 2235.1 L1666.1 2245.1 M1677.5 2235.1 L1666.1 2245.1 M1677.5 2235.1 L1688.9 2245.1 M1700.3 2235.1 L1688.9 2245.1 M1700.3 2235.1 L1711.7 2245.1 M1586.3 2255.2 L1574.9 2245.1 M1586.3 2255.2 L1597.7 2245.1 M1609.1 2255.2 L1597.7 2245.1 M1609.1 2255.2 L1620.5 2245.1 M1631.9 2255.2 L1620.5 2245.1 M1631.9 2255.2 L1643.3 2245.1 M1654.7 2255.2 L1643.3 2245.1 M1654.7 2255.2 L1666.1 2245.1 M1677.5 2255.2 L1666.1 2245.1 M1677.5 2255.2 L1688.9 2245.1 M1700.3 2255.2 L1688.9 2245.1 M1700.3 2255.2 L1711.7 2245.1 M1723.1 2255.2 L1711.7 2245.1 M1586.3 2235.1 L1586.3 2255.2 M1609.1 2235.1 L1609.1 2255.2 M1631.9 2235.1 L1631.9 2255.2 M1654.7 2235.1 L1654.7 2255.2 M1677.5 2235.1 L1677.5 2255.2 M1700.3 2235.1 L1700.3 2255.2 M1563.5 2177.9 L1552.1 2171.1 M1563.5 2177.9 L1552.1 2184.7 M1700.3 2177.9 L1711.7 2171.1 M1700.3 2177.9 L1711.7 2184.7 M1586.3 2197.6 L1574.9 2190.8 M1586.3 2197.6 L1574.9 2204.4 M1723.1 2197.6 L1734.5 2190.8 M1723.1 2197.6 L1734.5 2204.4 M1563.5 2216.3 L1552.1 2209.5 M1563.5 2216.3 L1552.1 2223.1 M1700.3 2216.3 L1711.7 2209.5 M1700.3 2216.3 L1711.7 2223.1 M1563.5 2235.1 L1552.1 2228.3 M1563.5 2235.1 L1552.1 2241.9 M1700.3 2235.1 L1711.7 2228.3 M1700.3 2235.1 L1711.7 2241.9 M1586.3 2255.2 L1574.9 2248.4 M1586.3 2255.2 L1574.9 2262 M1723.1 2255.2 L1734.5 2248.4 M1723.1 2255.2 L1734.5 2262" stroke="#8c8c8c" stroke-width="2.6" fill="none" stroke-linecap="round"/>
<circle cx="1563.5" cy="2177.9" r="8.8" fill="url(#gTi)"/>
<circle cx="1586.3" cy="2177.9" r="8.8" fill="url(#gTi)"/>
<circle cx="1609.1" cy="2177.9" r="8.8" fill="url(#gTi)"/>
<circle cx="1631.9" cy="2177.9" r="8.8" fill="url(#gTi)"/>
<circle cx="1654.7" cy="2177.9" r="8.8" fill="url(#gTi)"/>
<circle cx="1677.5" cy="2177.9" r="8.8" fill="url(#gTi)"/>
<circle cx="1700.3" cy="2177.9" r="8.8" fill="url(#gTi)"/>
<circle cx="1586.3" cy="2197.6" r="7" fill="url(#gC)"/>
<circle cx="1609.1" cy="2197.6" r="7" fill="url(#gC)"/>
<circle cx="1631.9" cy="2197.6" r="7" fill="url(#gC)"/>
<circle cx="1654.7" cy="2197.6" r="7" fill="url(#gC)"/>
<circle cx="1677.5" cy="2197.6" r="7" fill="url(#gC)"/>
<circle cx="1700.3" cy="2197.6" r="7" fill="url(#gC)"/>
<circle cx="1723.1" cy="2197.6" r="7" fill="url(#gC)"/>
<circle cx="1563.5" cy="2216.3" r="8.8" fill="url(#gTi)"/>
<circle cx="1586.3" cy="2216.3" r="8.8" fill="url(#gTi)"/>
<circle cx="1609.1" cy="2216.3" r="8.8" fill="url(#gTi)"/>
<circle cx="1631.9" cy="2216.3" r="8.8" fill="url(#gTi)"/>
<circle cx="1654.7" cy="2216.3" r="8.8" fill="url(#gTi)"/>
<circle cx="1677.5" cy="2216.3" r="8.8" fill="url(#gTi)"/>
<circle cx="1700.3" cy="2216.3" r="8.8" fill="url(#gTi)"/>
<circle cx="1563.5" cy="2235.1" r="7" fill="url(#gC)"/>
<circle cx="1586.3" cy="2235.1" r="7" fill="url(#gC)"/>
<circle cx="1609.1" cy="2235.1" r="7" fill="url(#gC)"/>
<circle cx="1631.9" cy="2235.1" r="7" fill="url(#gC)"/>
<circle cx="1654.7" cy="2235.1" r="7" fill="url(#gC)"/>
<circle cx="1677.5" cy="2235.1" r="7" fill="url(#gC)"/>
<circle cx="1700.3" cy="2235.1" r="7" fill="url(#gC)"/>
<circle cx="1586.3" cy="2255.2" r="8.8" fill="url(#gTi)"/>
<circle cx="1609.1" cy="2255.2" r="8.8" fill="url(#gTi)"/>
<circle cx="1631.9" cy="2255.2" r="8.8" fill="url(#gTi)"/>
<circle cx="1654.7" cy="2255.2" r="8.8" fill="url(#gTi)"/>
<circle cx="1677.5" cy="2255.2" r="8.8" fill="url(#gTi)"/>
<circle cx="1700.3" cy="2255.2" r="8.8" fill="url(#gTi)"/>
<circle cx="1723.1" cy="2255.2" r="8.8" fill="url(#gTi)"/>
<polyline points="1552.1,2173.9 1563.5,2168.9 1574.9,2173.9 1586.3,2168.9 1597.7,2173.9 1609.1,2168.9 1620.5,2173.9 1631.9,2168.9 1643.3,2173.9 1654.7,2168.9 1666.1,2173.9 1677.5,2168.9 1688.9,2173.9 1700.3,2168.9 1711.7,2173.9" fill="none" stroke="#e01010" stroke-width="2.2" stroke-linejoin="round"/>
<circle cx="1563.5" cy="2163.9" r="7.5" fill="url(#gO)"/>
<circle cx="1586.3" cy="2163.9" r="7.5" fill="url(#gO)"/>
<circle cx="1609.1" cy="2163.9" r="7.5" fill="url(#gO)"/>
<circle cx="1631.9" cy="2163.9" r="7.5" fill="url(#gO)"/>
<circle cx="1654.7" cy="2163.9" r="7.5" fill="url(#gO)"/>
<circle cx="1677.5" cy="2163.9" r="7.5" fill="url(#gO)"/>
<circle cx="1700.3" cy="2163.9" r="7.5" fill="url(#gO)"/>
<polyline points="1552.1,2259.4 1563.5,2264.4 1574.9,2259.4 1586.3,2264.4 1597.7,2259.4 1609.1,2264.4 1620.5,2259.4 1631.9,2264.4 1643.3,2259.4 1654.7,2264.4 1666.1,2259.4 1677.5,2264.4 1688.9,2259.4 1700.3,2264.4 1711.7,2259.4" fill="none" stroke="#e01010" stroke-width="2.2" stroke-linejoin="round"/>
<circle cx="1563.5" cy="2269.4" r="7.5" fill="url(#gO)"/>
<circle cx="1586.3" cy="2269.4" r="7.5" fill="url(#gO)"/>
<circle cx="1609.1" cy="2269.4" r="7.5" fill="url(#gO)"/>
<circle cx="1631.9" cy="2269.4" r="7.5" fill="url(#gO)"/>
<circle cx="1654.7" cy="2269.4" r="7.5" fill="url(#gO)"/>
<circle cx="1677.5" cy="2269.4" r="7.5" fill="url(#gO)"/>
<circle cx="1700.3" cy="2269.4" r="7.5" fill="url(#gO)"/>
<line x1="1614.4" y1="2097.2" x2="1625.2" y2="2110.5" stroke="#c04040" stroke-width="2.2" stroke-linecap="round"/>
<line x1="1625.2" y1="2110.5" x2="1636" y2="2123.9" stroke="#c04040" stroke-width="2.2" stroke-linecap="round"/>
<circle cx="1614.4" cy="2097.2" r="7" fill="url(#gO)"/>
<circle cx="1625.2" cy="2110.5" r="7" fill="url(#gC)"/>
<circle cx="1636" cy="2123.9" r="7" fill="url(#gO)"/>
<circle cx="1718.6" cy="2116.9" r="6.2" fill="url(#gH)"/>
<circle cx="1718" cy="2127.7" r="6.2" fill="url(#gH)"/>
</svg></body></html>
